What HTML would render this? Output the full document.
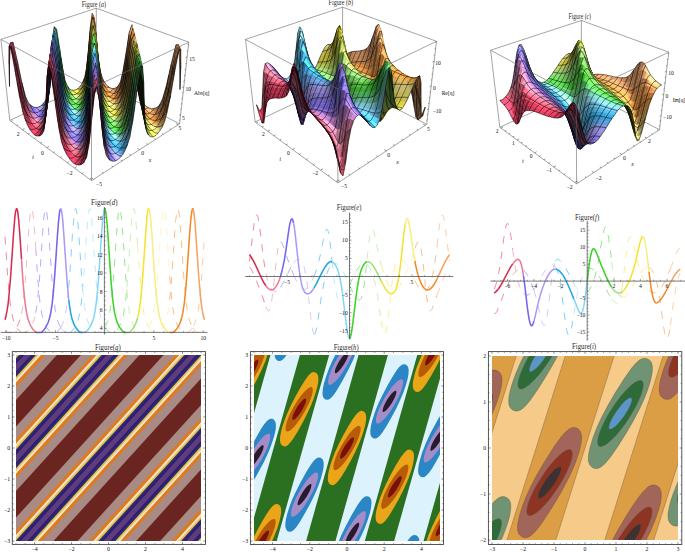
<!DOCTYPE html>
<html><head><meta charset="utf-8"><style>
html,body{margin:0;padding:0;background:#fff;}
svg{display:block;font-family:"Liberation Serif", serif;}
.m{fill:none;stroke:#000;stroke-width:2.6;stroke-opacity:0.8}
</style></head><body>
<svg xmlns="http://www.w3.org/2000/svg" width="685" height="552" viewBox="0 0 685 552">
<defs><clipPath id="cg"><rect x="16" y="355" width="185" height="186"/></clipPath><clipPath id="ch"><rect x="254" y="355" width="186" height="186"/></clipPath><clipPath id="ci"><rect x="492" y="356" width="186" height="184"/></clipPath></defs>
<path d="M0.9 39.4L96.3 8.2M96.3 8.2L188.8 42.2M96.3 8.2L96.1 80.5M9.8 120.4L96.1 80.5M96.1 80.5L179.6 123.9" stroke="#666" stroke-width="0.6" fill="none"/>
<g transform="scale(0.25)" fill="currentColor" stroke="currentColor" stroke-width="1.0" stroke-linejoin="round"><path d=M416,332l7,4-8-12-7-9z color=#cf8b55 /><path d=M408,315l7,9-7-16-7-20z color=#a46f44 /><path d=M424,344l7,1-8-9-7-4z color=#f4a565 /><path class=m d=M423,336l-8-12 /><path d=M432,353l7-2-8-6-7-1z color=#ffbb74 /><path class=m d=M431,345l-8-9 /><path d=M401,288l7,20-8-28-7-44z color=#815735 /><path class=m d=M415,324l-7-16 /><path d=M440,359l7-5-8-3-7,2z color=#ffc47b /><path class=m d=M439,351l-8-6 /><path d=M417,340l7,4-8-12-7-9z color=#da935a /><path d=M409,323l7,9-8-17-7-19z color=#b17749 /><path class=m d=M412,324l7,6 /><path d=M425,351l7,2-8-9-7-4z color=#ffad6b /><path class=m d=M430,350l7-1 /><path d=M325,347l7-14-7,6-8,10z color=#9d9852 /><path d=M332,333l8-21-8,14-7,13z color=#7a6a37 /><path d=M317,357l8-10-8,2-7,7z color=#cbc257 /><path class=m d=M317,349l8-10 /><path d=M433,361l7-2-8-6-7-2z color=#ffc47a /><path d=M448,362l8-8-9,0-7,5z color=#ffaf6d /><path class=m d=M447,354l-8-3 /><path d=M401,296l7,19-7-27-8-44z color=#8e5f3a /><path d=M340,312l7-39-7,32-8,21z color=#59431e /><path class=m d=M325,339l7-13 /><path d=M310,364l7-7-7-1-8,4z color=#fff057 /><path class=m d=M310,356l7-7 /><path d=M393,236l7,44-8-52-7-74z color=#322215 /><path class=m d=M408,308l-8-28 /><path d=M441,367l7-5-8-3-7,2z color=#ffcb80 /><path d=M418,347l7,4-8-11-7-9z color=#d98d4d /><path class=m d=M423,348l7,2 /><path d=M410,331l7,9-8-17-7-19z color=#b1733e /><path d=M302,368l8-4-8-4-8,1z color=#ffff49 /><path class=m d=M302,360l8-4 /><path d=M426,359l7,2-8-10-7-4z color=#ffa65c /><path class=m d=M421,349l-8-14 /><path d=M457,362l7-11-8,3-8,8z color=#cb8955 /><path class=m d=M456,354l-9,0 /><path d=M325,354l7-13-7,6-8,10z color=#a49d46 /><path d=M332,341l8-21-8,13-7,14z color=#837e44 /><path d=M317,364l8-10-8,3-7,7z color=#d7cb48 /><path class=m d=M317,357l-7-1 /><path d=M434,369l7-2-8-6-7-2z color=#ffbd6a /><path class=m d=M429,360l-8-11 /><path d=M449,370l8-8-9,0-7,5z color=#ffb06e /><path class=m d=M448,362l8-8 /><path d=M402,304l7,19-8-27-7-44z color=#8d5c32 /><path class=m d=M413,335l-8-22M405,310l7,14 /><path d=M294,369l8-1-8-7-8-1z color=#feff54 /><path class=m d=M294,361l8-1 /><path d=M309,372l8-8-7,0-8,4z color=#fffa43 /><path d=M340,320l7-40-7,32-8,21z color=#63562c /><path class=m d=M336,323l-7,9 /><path d=M347,273l7-69-7,63-7,38z color=#452c10 /><path class=m d=M332,326l8-21 /><path d=M442,375l7-5-8-3-7,2z color=#ffc36f /><path class=m d=M437,368l-8-8M441,367l7-5 /><path d=M393,244l8,44-8-52-7-75z color=#7a5232 /><path class=m d=M395,249l7,38 /><path d=M418,355l8,4-8-12-8-8z color=#d9873e /><path d=M410,339l8,8-8-16-8-19z color=#b06d32 /><path class=m d=M416,343l7,5 /><path d=M465,358l8-14-9,7-7,11z color=#9a683f /><path class=m d=M464,351l-8,3 /><path d=M302,376l7-4-7-4-8,1z color=#ffff5d /><path class=m d=M298,369l-8-8 /><path d=M426,367l8,2-8-10-8-4z color=#fe9f4a /><path d=M458,369l7-11-8,4-8,8z color=#ca8954 /><path d=M325,362l8-14-8,6-8,10z color=#a39a36 /><path d=M286,368l8,1-8-9-8-5z color=#c6e45d /><path class=m d=M286,360l8,1 /><path d=M333,348l7-21-8,14-7,13z color=#827c37 /><path class=m d=M325,354l-8,3 /><path d=M317,372l8-10-8,2-8,8z color=#d6c733 /><path class=m d=M319,364l8-11 /><path d=M435,377l7-2-8-6-8-2z color=#ffb456 /><path class=m d=M434,369l7-2 /><path d=M450,378l8-9-9,1-7,5z color=#ffa85f /><path class=m d=M446,372l-9-4 /><path d=M402,312l8,19-8-27-8-44z color=#8d5728 /><path d=M294,378l8-2-8-7-8-1z color=#e5ff6e /><path d=M309,380l8-8-8,0-7,4z color=#f5f952 /><path class=m d=M306,374l-8-5M311,372l8-8 /><path d=M340,327l7-40-7,33-8,21z color=#636033 /><path class=m d=M327,353l7-16 /><path d=M347,280l8-70-8,63-7,39z color=#4e3b1a /><path d=M385,154l7,74-7-82-8-75z color=#785131 /><path class=m d=M400,280l-8-52M392,228l-7-82 /><path d=M443,383l7-5-8-3-7,2z color=#ffba5a /><path d=M394,252l7,44-8-52-7-75z color=#7a4f2b /><path class=m d=M405,313l-7-39 /><path d=M419,364l7,3-8-12-7-8z color=#d8802f /><path d=M411,347l7,8-8-16-7-19z color=#b06825 /><path d=M466,366l8-15-9,7-7,11z color=#9b6840 /><path d=M301,384l8-4-7-4-8,2z color=#f2ff76 /><path class=m d=M304,377l7-5 /><path d=M278,363l8,5-8-13-8-10z color=#8fbf5f /><path class=m d=M278,355l8,5 /><path d=M474,351l8-24-9,17-8,14z color=#754f30 /><path class=m d=M473,344l-9,7M467,357l8-18 /><path d=M427,376l8,1-9-10-7-3z color=#fe9738 /><path class=m d=M426,367l8,2 /><path d=M459,378l7-12-8,3-8,9z color=#c98348 /><path class=m d=M454,374l-8-2M460,369l7-12 /><path d=M325,370l8-14-8,6-8,10z color=#a39726 /><path d=M286,376l8,2-8-10-8-5z color=#aee874 /><path d=M333,356l7-22-7,14-8,14z color=#81792a /><path d=M317,381l8-11-8,2-8,8z color=#c2c63e /><path class=m d=M313,376l-7-2 /><path d=M435,385l8-2-8-6-8-1z color=#ffac42 /><path d=M451,386l8-8-9,0-7,5z color=#fea04c /><path class=m d=M452,378l8-9 /><path d=M354,204l8-88-8,82-7,69z color=#40260d /><path class=m d=M340,305l7-38 /><path d=M403,320l7,19-8-27-7-44z color=#8d531e /><path class=m d=M408,332l8,11 /><path d=M293,386l8-2-7-6-8-2z color=#c7ff86 /><path class=m d=M296,379l8-2 /><path d=M309,388l8-7-8-1-8,4z color=#d8f868 /><path d=M340,334l8-40-8,33-7,21z color=#625e2a /><path class=m d=M333,348l-8,6 /><path d=M386,161l7,75-8-82-8-76z color=#765030 /><path d=M347,287l8-71-8,64-7,40z color=#4e4423 /><path class=m d=M344,300l-8,23M334,337l8-26 /><path d=M444,391l7-5-8-3-8,2z color=#ffb146 /><path class=m d=M445,384l7-6 /><path d=M394,260l8,44-8-52-7-75z color=#794b22 /><path class=m d=M398,278l7,32 /><path d=M420,372l7,4-8-12-7-9z color=#d98a33 /><path d=M412,355l7,9-8-17-7-19z color=#b17029 /><path class=m d=M419,364l7,3 /><path d=M468,374l7-15-9,7-7,12z color=#9a6437 /><path class=m d=M463,372l-9,2 /><path d=M301,393l8-5-8-4-8,2z color=#d3ff8e /><path d=M277,371l9,5-8-13-9-10z color=#7bc260 /><path d=M428,384l7,1-8-9-7-4z color=#fea33d /><path class=m d=M427,376l-8-12 /><path d=M475,359l8-25-9,17-8,15z color=#795132 /><path d=M269,353l9,10-8-18-10-23z color=#5f954a /><path class=m d=M278,363l-8-18M270,345l8,10 /><path d=M460,386l8-12-9,4-8,8z color=#c77c3a /><path d=M285,384l8,2-7-10-9-5z color=#93e673 /><path class=m d=M286,376l-8-13M288,378l8,1 /><path d=M325,378l8-14-8,6-8,11z color=#93962f /><path class=m d=M321,375l-8,1 /><path d=M333,364l7-22-7,14-8,14z color=#80771d /><path d=M317,389l8-11-8,3-8,7z color=#abc550 /><path class=m d=M321,379l8-12 /><path d=M436,393l8-2-9-6-7-1z color=#ffb948 /><path class=m d=M435,385l-8-9M438,386l7-2 /><path d=M452,394l8-8-9,0-7,5z color=#fc983a /><path d=M404,328l7,19-8-27-7-44z color=#8d5a21 /><path class=m d=M419,364l-8-17 /><path d=M293,394l8-1-8-7-8-2z color=#a9ff85 /><path class=m d=M293,386l-7-10 /><path d=M355,210l7-89-8,83-7,69z color=#452c10 /><path d=M483,334l9-48-10,41-8,24z color=#563a23 /><path class=m d=M482,327l-9,17 /><path d=M309,397l8-8-8-1-8,5z color=#bbf87e /><path class=m d=M313,388l8-9 /><path d=M340,342l8-41-8,33-7,22z color=#625c20 /><path class=m d=M329,367l7-18 /><path d=M386,169l7,75-7-83-8-76z color=#764c29 /><path class=m d=M398,274l-8-67M388,182l7,67 /><path d=M445,400l7-6-8-3-8,2z color=#ffbd4c /><path class=m d=M444,391l-9-6 /><path d=M348,294l7-72-8,65-7,40z color=#4e4c29 /><path d=M395,268l7,44-8-52-7-75z color=#794719 /><path d=M421,380l7,4-8-12-8-8z color=#dba64b /><path d=M412,364l8,8-8-17-8-19z color=#b2873d /><path d=M469,383l8-16-9,7-8,12z color=#995f2b /><path d=M301,401l8-4-8-4-8,1z color=#b2ff8d /><path class=m d=M301,393l-8-7M305,395l8-7 /><path d=M277,380l8,4-8-13-8-9z color=#63be4b /><path class=m d=M279,375l9,3 /><path d=M429,392l7,1-8-9-7-4z color=#ffc35a /><path class=m d=M430,386l8,0 /><path d=M477,367l8-25-10,17-7,15z color=#784e2a /><path class=m d=M471,367l-8,5 /><path d=M269,362l8,9-8-18-9-23z color=#50993c /><path d=M461,394l8-11-9,3-8,8z color=#c5752b /><path class=m d=M464,384l8-13 /><path d=M377,78l8,76-8-83-8-18z color=#b87c4c /><path class=m d=M377,71l8,75 /><path d=M285,393l8,1-8-10-8-4z color=#77e15b /><path d=M325,386l8-14-8,6-8,11z color=#82963c /><path d=M333,372l7-22-7,14-8,14z color=#747624 /><path class=m d=M329,371l-8,4 /><path d=M317,397l8-11-8,3-8,8z color=#94c462 /><path d=M437,402l8-2-9-7-7-1z color=#ffdc67 /><path d=M362,116l7-58-8,53-7,87z color=#553518 /><path class=m d=M347,267l7-69 /><path d=M453,403l8-9-9,0-7,6z color=#fca33f /><path class=m d=M452,394l-8-3M457,394l7-10 /><path d=M404,336l8,19-8-27-8-43z color=#8f6c31 /><path class=m d=M412,355l7,9 /><path d=M293,403l8-2-8-7-8-1z color=#89ff69 /><path class=m d=M297,398l8-3 /><path d=M309,405l8-8-8,0-8,4z color=#9ef57c /><path class=m d=M309,397l-8-4 /><path d=M485,342l9-49-11,41-8,25z color=#5b3d25 /><path class=m d=M472,371l8-21 /><path d=M355,216l7-90-7,84-8,70z color=#463418 /><path class=m d=M342,311l7-47 /><path d=M340,350l8-42-8,34-7,22z color=#615a16 /><path d=M260,330l9,23-9-31-10-51z color=#3d752e /><path class=m d=M260,322l10,23 /><path d=M446,408l7-5-8-3-8,2z color=#ffe06b /><path class=m d=M449,401l8-7 /><path d=M387,177l7,75-8-83-8-77z color=#754821 /><path d=M421,389l8,3-8-12-8-8z color=#ddc164 /><path class=m d=M423,383l7,3 /><path d=M396,276l7,44-8-52-7-75z color=#794d1c /><path class=m d=M411,347l-8-27M401,307l7,25 /><path d=M348,301l7-73-7,66-8,40z color=#4e4a21 /><path class=m d=M340,334l-7,14M336,349l8-31 /><path d=M413,372l8,8-9-16-7-19z color=#b49d51 /><path d=M301,410l8-5-8-4-8,2z color=#91ff71 /><path d=M470,391l8-16-9,8-8,11z color=#985a20 /><path d=M277,388l8,5-8-13-9-10z color=#4bba37 /><path d=M430,401l7,1-8-10-8-3z color=#ffe276 /><path class=m d=M425,391l-8-15 /><path d=M478,375l8-26-9,18-8,16z color=#774a22 /><path d=M268,370l9,10-8-18-10-23z color=#3c962c /><path class=m d=M271,366l8,9 /><path d=M462,402l8-11-9,3-8,9z color=#c57e2f /><path class=m d=M461,394l-9,0 /><path d=M369,58l8,20-8-25-8,58z color=#fea962 /><path class=m d=M354,198l7-87M361,111l8-58M369,53l8,18 /><path d=M285,401l8,2-8-10-8-5z color=#5add42 /><path class=m d=M281,391l-8-16M289,398l8,0 /><path d=M325,395l8-15-8,6-8,11z color=#70954a /><path d=M378,85l8,76-9-83-8-20z color=#ae713e /><path class=m d=M390,207l-8-83M382,124l-9-56M373,68l-8,14 /><path d=M333,380l8-22-8,14-8,14z color=#66762f /><path d=M317,406l8-11-8,2-8,8z color=#7cc260 /><path class=m d=M317,397l-8,0M323,395l8-13 /><path d=M438,410l8-2-9-6-7-1z color=#ffff87 /><path class=m d=M434,401l-9-10M442,405l7-4 /><path d=M454,411l8-9-9,1-7,5z color=#fdc15b /><path d=M362,121l8-57-8,52-8,88z color=#543112 /><path class=m d=M354,204l-7,63 /><path d=M405,345l7,19-8-28-7-43z color=#907e41 /><path class=m d=M417,376l-8-22 /><path d=M293,412l8-2-8-7-8-2z color=#69fc4e /><path class=m d=M289,402l-8-11 /><path d=M309,414l8-8-8-1-8,5z color=#80ef62 /><path class=m d=M315,405l8-10 /><path d=M486,349l9-49-10,42-8,25z color=#5b3b20 /><path class=m d=M481,354l-10,13 /><path d=M355,222l8-90-8,84-8,71z color=#463d1f /><path class=m d=M351,252l-7,48 /><path d=M341,358l7-43-8,35-7,22z color=#585a1c /><path class=m d=M337,361l-8,10M331,382l8-21 /><path d=M447,417l7-6-8-3-8,2z color=#ffff8b /><path class=m d=M442,409l-8-8 /><path d=M259,339l10,23-9-32-10-50z color=#307923 /><path class=m d=M273,375l-9-25 /><path d=M387,185l7,75-7-83-8-78z color=#744519 /><path class=m d=M391,219l7,59 /><path d=M422,397l8,4-9-12-7-8z color=#dfd775 /><path d=M396,285l8,43-8-52-8-75z color=#7a5c2a /><path d=M414,381l7,8-8-17-7-19z color=#b6b05f /><path class=m d=M415,376l8,7 /><path d=M348,308l8-74-8,67-8,41z color=#4e4919 /><path d=M494,293l10-80-12,73-9,48z color=#48301d /><path class=m d=M492,286l-10,41M480,350l8-36M488,314l10-64 /><path d=M301,419l8-5-8-4-8,2z color=#70ff54 /><path class=m d=M297,411l-8-9M307,413l8-8 /><path d=M471,399l8-16-9,8-8,11z color=#976023 /><path d=M276,397l9,4-8-13-9-9z color=#3ab82f /><path class=m d=M281,395l8,3 /><path d=M431,410l7,0-8-9-8-4z color=#fffc8a /><path class=m d=M434,406l8-1 /><path d=M479,383l8-26-9,18-8,16z color=#764619 /><path class=m d=M470,391l-9,3 /><path d=M268,379l9,9-9-18-9-23z color=#2f9425 /><path d=M463,411l8-12-9,3-8,9z color=#c69645 /><path class=m d=M469,400l8-15 /><path d=M284,410l9,2-8-11-9-4z color=#46d939 /><path d=M325,403l8-14-8,6-8,11z color=#5e9349 /><path d=M370,64l8,21-9-27-7,58z color=#8f5928 /><path d=M333,389l8-24-8,15-8,15z color=#58763a /><path class=m d=M325,395l-8,2 /><path d=M378,92l8,77-8-84-8-21z color=#af6c31 /><path class=m d=M380,106l8,76 /><path d=M439,419l8-2-9-7-7,0z color=#ffff9d /><path d=M317,414l8-11-8,3-8,8z color=#63bd4c /><path d=M456,420l7-9-9,0-7,6z color=#fedf76 /><path class=m d=M451,414l-9-5M461,411l8-11 /><path d=M406,353l7,19-8-27-8-43z color=#918c4c /><path d=M293,420l8-1-8-7-9-2z color=#53f843 /><path class=m d=M299,417l8-4 /><path d=M362,126l8-56-8,51-7,89z color=#553614 /><path class=m d=M349,264l7-74 /><path d=M309,422l8-8-8,0-8,5z color=#62e949 /><path class=m d=M305,416l-8-5 /><path d=M177,416l8-14-6,5-9,10z color=#3d6a9b /><path d=M487,357l10-50-11,42-8,26z color=#5a3819 /><path class=m d=M477,385l8-23 /><path d=M185,402l8-21-6,12-8,14z color=#1a5578 /><path d=M169,426l8-10-7,1-8,8z color=#7488ce /><path class=m d=M170,417l9-10 /><path d=M448,426l8-6-9-3-8,2z color=#ffffa0 /><path class=m d=M453,419l8-8 /><path d=M259,347l9,23-9-31-10-50z color=#25771e /><path class=m d=M262,347l9,19 /><path d=M341,365l7-43-7,36-8,22z color=#4d5924 /><path d=M571,415l7,3-9-12-6-6z color=#dd955b /><path d=M355,228l8-91-8,85-7,72z color=#464425 /><path class=m d=M344,318l7-57 /><path d=M423,406l8,4-9-13-7-8z color=#dfd55f /><path class=m d=M426,404l8,2 /><path d=M388,193l7,75-8-83-8-79z color=#744a1b /><path class=m d=M403,320l-8-52 /><path d=M563,400l6,6-8-15-6-15z color=#b4794a /><path d=M397,293l7,43-8-51-7-75z color=#7b6b37 /><path class=m d=M409,354l-8-39M404,336l8,19 /><path d=M415,389l7,8-8-16-8-19z color=#b6ad4d /><path d=M160,434l9-8-7-1-9,4z color=#b4a5ff /><path class=m d=M162,425l8-8 /><path d=M301,427l8-5-8-3-8,1z color=#59ff49 /><path d=M580,427l7,0-9-9-7-3z color=#ffad6a /><path class=m d=M578,418l-9-12 /><path d=M472,408l8-16-9,7-8,12z color=#987334 /><path d=M276,406l8,4-8-13-9-10z color=#4eb964 /><path d=M348,315l8-74-8,67-8,42z color=#4d4812 /><path class=m d=M339,361l7-37 /><path d=M431,419l8,0-8-9-8-4z color=#fff971 /><path d=M495,300l11-81-12,74-9,49z color=#4a321f /><path d=M267,387l9,10-8-18-10-23z color=#3e9550 /><path class=m d=M272,388l9,7 /><path d=M480,392l9-27-10,18-8,16z color=#764b1b /><path d=M464,420l8-12-9,3-7,9z color=#c7ad5a /><path class=m d=M459,415l-8-1 /><path d=M193,381l7-38-6,30-7,20z color=#114258 /><path class=m d=M179,407l8-14 /><path d=M284,419l9,1-9-10-8-4z color=#5ddb77 /><path class=m d=M290,418l9-1 /><path d=M325,412l8-15-8,6-8,11z color=#4b9039 /><path d=M590,436l7-3-10-6-7,0z color=#ffc178 /><path class=m d=M587,427l-9-9 /><path d=M152,438l8-4-7-5-9,1z color=#b8a7ff /><path class=m d=M153,429l9-4 /><path d=M333,397l8-23-8,15-8,14z color=#4a7439 /><path d=M440,428l8-2-9-7-8,0z color=#ffff81 /><path class=m d=M446,424l7-5 /><path d=M250,280l10,50-10-59-12-80z color=#2a681e /><path class=m d=M264,350l-9-45M255,305l-11-73M250,271l10,51 /><path d=M317,423l8-11-8,2-8,8z color=#4bb837 /><path class=m d=M313,418l-8-2 /><path d=M555,376l6,15-8-24-5-35z color=#312114 /><path class=m d=M569,406l-8-15 /><path d=M370,70l8,22-8-28-8,57z color=#92561f /><path class=m d=M362,121l-8,83M356,190l8-82M364,108l8-37M372,71l8,35 /><path d=M457,429l7-9-8,0-8,6z color=#fff788 /><path d=M379,99l8,78-9-85-8-22z color=#af6725 /><path d=M406,362l8,19-8-28-8-42z color=#918b3e /><path class=m d=M408,360l7,16 /><path d=M292,429l9-2-8-7-9-1z color=#6cf98a /><path d=M309,431l8-8-8-1-8,5z color=#4ce53e /><path d=M176,424l8-14-7,6-8,10z color=#5e6ea7 /><path class=m d=M173,421l-7,0 /><path d=M363,132l8-56-9,50-7,90z color=#57411d /><path d=M168,435l8-11-7,2-9,8z color=#988cde /><path d=M599,442l7-7-9-2-7,3z color=#ffc27a /><path class=m d=M597,433l-10-6 /><path d=M184,410l8-21-7,13-8,14z color=#335882 /><path d=M489,365l9-51-11,43-8,26z color=#593513 /><path class=m d=M479,383l-9,8 /><path d=M449,435l8-6-9-3-8,2z color=#ffff84 /><path d=M258,356l10,23-9-32-11-49z color=#327840 /><path d=M142,439l10-1-8-8-10-2z color=#9c8dff /><path class=m d=M144,430l9-1 /><path d=M573,424l7,3-9-12-6-6z color=#e79c60 /><path d=M341,374l8-44-8,35-8,24z color=#43592c /><path class=m d=M333,389l-8,6 /><path d=M424,415l7,4-8-13-8-8z color=#dfd24a /><path d=M565,409l6,6-8-15-6-15z color=#bf814f /><path class=m d=M567,407l7,5 /><path d=M397,302l8,43-8-52-8-75z color=#7c7841 /><path d=M388,201l8,75-8-83-8-80z color=#755828 /><path class=m d=M394,256l7,51 /><path d=M415,398l8,8-8-17-8-18z color=#b6ab3c /><path class=m d=M419,398l7,6 /><path d=M159,443l9-8-8-1-8,4z color=#ad9dff /><path d=M356,234l7-91-8,85-7,73z color=#46431e /><path class=m d=M348,301l-8,33 /><path d=M582,436l8,0-10-9-7-3z color=#ffb570 /><path class=m d=M587,434l7-3 /><path d=M300,436l9-5-8-4-9,2z color=#73ff91 /><path d=M474,417l8-17-10,8-8,12z color=#998545 /><path class=m d=M468,414l-9,1 /><path d=M275,415l9,4-8-13-9-10z color=#61bb99 /><path class=m d=M282,416l8,2 /><path d=M432,428l8,0-9-9-7-4z color=#fff658 /><path class=m d=M431,419l-8-13M438,426l8-2 /><path d=M348,322l8-75-8,68-7,43z color=#464716 /><path class=m d=M344,336l-7,25 /><path d=M497,307l10-82-12,75-9,49z color=#4a301a /><path class=m d=M491,325l-10,29M485,362l9-44 /><path d=M267,396l9,10-9-19-9-22z color=#4e977c /><path d=M466,429l8-12-10,3-7,9z color=#c7c069 /><path d=M482,400l8-27-10,19-8,16z color=#765928 /><path d=M192,389l7-38-6,30-8,21z color=#154561 /><path d=M284,428l8,1-8-10-9-4z color=#74ddb6 /><path class=m d=M284,419l-8-13 /><path d=M325,421l8-15-8,6-8,11z color=#388c29 /><path class=m d=M321,417l-8,1 /><path d=M592,445l7-3-9-6-8,0z color=#ffca7f /><path d=M200,343l5-69-4,61-7,38z color=#1c4355 /><path class=m d=M187,393l7-20 /><path d=M609,444l7-10-10,1-7,7z color=#f0a366 /><path class=m d=M606,435l-9-2 /><path d=M150,447l9-4-7-5-10,1z color=#ab9bff /><path class=m d=M152,438l-8-8 /><path d=M441,437l8-2-9-7-8,0z color=#ffff65 /><path class=m d=M440,428l-9-9 /><path d=M557,385l6,15-8-24-6-35z color=#99673f /><path d=M317,432l8-11-8,2-8,8z color=#3ab42e /><path d=M333,406l8-24-8,15-8,15z color=#3b712c /><path class=m d=M317,423l8-11 /><path d=M249,289l10,50-9-59-12-81z color=#21681a /><path d=M458,438l8-9-9,0-8,6z color=#fef26f /><path d=M133,438l9,1-8-11-9-5z color=#786aed /><path class=m d=M134,428l10,2 /><path d=M379,106l8,79-8-86-8-23z color=#b07029 /><path class=m d=M395,268l-8-83M383,142l8,77 /><path d=M371,76l8,23-9-29-8,56z color=#965f23 /><path class=m d=M387,185l-8-86M379,99l-9-29M370,70l-8,51 /><path d=M407,371l8,18-9-27-7-42z color=#928930 /><path class=m d=M423,406l-8-17 /><path d=M292,438l8-2-8-7-8-1z color=#86fbd0 /><path class=m d=M292,429l-8-10 /><path d=M309,440l8-8-8-1-9,5z color=#64e67e /><path class=m d=M309,431l8-8 /><path d=M548,332l5,35-7-44-4-69z color=#322214 /><path class=m d=M561,391l-8-24 /><path d=M175,433l8-14-7,5-8,11z color=#736aa9 /><path d=M601,451l8-7-10-2-7,3z color=#ffc67d /><path d=M166,444l9-11-7,2-9,8z color=#897ddb /><path d=M183,419l8-21-7,12-8,14z color=#4a5784 /><path class=m d=M180,417l-7,4M170,435l8-12 /><path d=M490,373l10-51-11,43-9,27z color=#593915 /><path d=M450,444l8-6-9-3-8,2z color=#ffff68 /><path class=m d=M449,435l-9-7 /><path d=M141,449l9-2-8-8-9-1z color=#8d7eff /><path d=M258,365l9,22-9-31-10-49z color=#3f7963 /><path class=m d=M276,406l-9-19M263,372l9,16 /><path d=M576,433l6,3-9-12-6-6z color=#e79652 /><path class=m d=M580,433l7,1 /><path d=M363,137l8-55-8,50-8,90z color=#594d28 /><path class=m d=M359,177l-8,75M351,261l8-81 /><path d=M425,424l7,4-8-13-8-8z color=#dfcf34 /><path class=m d=M430,425l8,1 /><path d=M567,418l6,6-8-15-7-15z color=#bf7c43 /><path d=M341,382l8-45-8,37-8,23z color=#38582b /><path class=m d=M325,412l8-15 /><path d=M398,311l8,42-9-51-7-75z color=#7c7635 /><path d=M158,452l8-8-7-1-9,4z color=#9b8bff /><path class=m d=M159,443l-7-5M161,443l9-8 /><path d=M416,407l8,8-9-17-7-18z color=#b6a92a /><path d=M585,446l7-1-10-9-6-3z color=#ffaf61 /><path class=m d=M579,435l-9-14 /><path d=M389,210l7,75-8-84-8-80z color=#766735 /><path class=m d=M401,315l-9-67 /><path d=M300,446l9-6-9-4-8,2z color=#8dffd9 /><path class=m d=M300,436l-8-7M300,436l9-5 /><path d=M619,443l8-13-11,4-7,10z color=#b97d4d /><path class=m d=M616,434l-10,1 /><path d=M275,424l9,4-9-13-9-10z color=#75bccf /><path d=M433,437l8,0-9-9-7-4z color=#fff23f /><path d=M475,426l8-17-9,8-8,12z color=#999450 /><path d=M356,241l8-92-8,85-8,74z color=#464217 /><path class=m d=M346,324l8-66 /><path d=M506,219l11-89-13,83-10,80z color=#49311e /><path class=m d=M504,213l-12,73 /><path d=M266,405l9,10-8-19-10-22z color=#5e98a7 /><path class=m d=M273,410l9,6 /><path d=M467,438l8-12-9,3-8,9z color=#c6bd55 /><path d=M349,330l7-76-8,68-7,43z color=#3e471c /><path d=M483,409l8-28-9,19-8,17z color=#766735 /><path class=m d=M478,409l-10,5M466,429l8-12 /><path d=M283,437l9,1-8-10-9-4z color=#8bdef5 /><path d=M498,314l11-82-12,75-10,50z color=#4a2e15 /><path d=M191,398l7-39-6,30-8,21z color=#274363 /><path class=m d=M178,423l8-16 /><path d=M594,455l7-4-9-6-7,1z color=#ffc36e /><path class=m d=M588,445l-9-10 /><path d=M325,430l8-16-8,7-8,11z color=#2b8922 /><path d=M611,453l8-10-10,1-8,7z color=#f0a366 /><path class=m d=M609,444l7-10 /><path d=M123,433l10,5-8-15-11-11z color=#7959b2 /><path class=m d=M125,423l9,5 /><path d=M149,457l9-5-8-5-9,2z color=#9888ff /><path class=m d=M152,449l9-6 /><path d=M442,447l8-3-9-7-8,0z color=#ffff4a /><path d=M199,351l5-70-4,62-7,38z color=#103c51 /><path class=m d=M193,381l-6,12 /><path d=M558,394l7,15-8-24-6-35z color=#986336 /><path class=m d=M570,421l-8-20M561,397l6,10 /><path d=M317,441l8-11-8,2-8,8z color=#4cb562 /><path d=M333,414l8-24-8,16-8,15z color=#2c6e20 /><path class=m d=M329,413l-8,4 /><path d=M248,298l11,49-10-58-12-81z color=#2c6938 /><path class=m d=M252,303l10,44 /><path d=M459,447l8-9-9,0-8,6z color=#fdee57 /><path class=m d=M458,438l-9-3M458,438l8-9 /><path d=M131,447l10,2-8-11-10-5z color=#956fda /><path class=m d=M128,435l-8-17 /><path d=M408,380l7,18-8-27-8-42z color=#928721 /><path class=m d=M411,385l8,13 /><path d=M292,448l8-2-8-8-9-1z color=#a0fdff /><path class=m d=M292,438l8-2 /><path d=M380,113l8,80-9-87-8-24z color=#b3873d /><path d=M371,82l8,24-8-30-8,56z color=#9b7535 /><path class=m d=M359,180l8-73M367,107l8-16M375,91l8,51 /><path d=M309,450l8-9-8-1-9,6z color=#7be6be /><path class=m d=M309,440l-9-4 /><path d=M549,341l6,35-7-44-4-69z color=#312114 /><path class=m d=M549,343l6,30 /><path d=M174,442l8-14-7,5-9,11z color=#685ea7 /><path d=M604,460l7-7-10-2-7,4z color=#ffbe6d /><path class=m d=M598,453l-10-8M601,451l8-7 /><path d=M165,453l9-11-8,2-8,8z color=#7a6ed8 /><path class=m d=M166,444l-7-1 /><path d=M182,428l8-22-7,13-8,14z color=#5b5386 /><path d=M451,453l8-6-9-3-8,3z color=#ffff4d /><path class=m d=M450,444l8-6 /><path d=M139,458l10-1-8-8-10-2z color=#ac81fa /><path class=m d=M136,448l-8-13M143,451l9-2 /><path d=M578,443l7,3-9-13-7-6z color=#e68f42 /><path d=M257,374l10,22-9-31-11-49z color=#4c7a87 /><path d=M491,381l10-52-11,44-8,27z color=#59431e /><path class=m d=M474,417l8-17 /><path d=M425,433l8,4-8-13-8-8z color=#cccf41 /><path d=M569,427l7,6-9-15-7-15z color=#be7636 /><path class=m d=M573,430l7,3 /><path d=M629,439l9-18-11,9-8,13z color=#8d5f3a /><path class=m d=M627,430l-11,4 /><path d=M156,461l9-8-7-1-9,5z color=#897aff /><path d=M417,416l8,8-9-17-8-18z color=#a6a934 /><path class=m d=M422,420l8,5 /><path d=M399,320l7,42-8-51-8-75z color=#7c7428 /><path class=m d=M415,389l-9-27M400,324l8,36 /><path d=M341,390l8-45-8,37-8,24z color=#2c5622 /><path d=M363,143l8-55-8,49-8,91z color=#5b582f /><path d=M587,455l7,0-9-9-7-3z color=#ffa64e /><path d=M300,455l9-5-9-4-8,2z color=#a7ffff /><path d=M621,453l8-14-10,4-8,10z color=#b87c4d /><path d=M389,218l8,75-8-83-8-81z color=#77733e /><path class=m d=M397,293l7,43 /><path d=M275,433l8,4-8-13-9-9z color=#61b2d5 /><path d=M434,446l8,1-9-10-8-4z color=#eef24d /><path class=m d=M429,435l-8-15 /><path d=M476,435l8-17-9,8-8,12z color=#989141 /><path d=M266,415l9,9-9-19-9-22z color=#4e90ac /><path d=M468,447l8-12-9,3-8,9z color=#c5b942 /><path class=m d=M467,438l-9,0 /><path d=M356,247l8-92-8,86-8,74z color=#464110 /><path d=M484,418l9-28-10,19-8,17z color=#77733e /><path d=M283,447l9,1-9-11-8-4z color=#74d3fc /><path class=m d=M279,435l-8-16M283,437l9,1 /><path d=M507,225l11-89-12,83-11,81z color=#462f1d /><path class=m d=M494,318l10-74 /><path d=M190,406l7-39-6,31-8,21z color=#384264 /><path class=m d=M187,409l-7,8 /><path d=M596,464l8-4-10-5-7,0z color=#ffba5a /><path class=m d=M594,455l7-4 /><path d=M349,337l8-77-8,70-8,44z color=#354723 /><path class=m d=M341,374l-8,15M333,397l8-23 /><path d=M614,463l7-10-10,0-7,7z color=#ee9c58 /><path class=m d=M607,457l-9-4 /><path d=M500,322l10-84-12,76-9,51z color=#492b0f /><path class=m d=M489,365l-10,18 /><path d=M121,442l10,5-8-14-10-11z color=#9b62a0 /><path d=M147,466l9-5-7-4-10,1z color=#b98bff /><path class=m d=M144,457l-8-9 /><path d=M325,439l8-16-8,7-8,11z color=#3a8a4a /><path d=M205,274l5-92-4,86-5,67z color=#284a59 /><path class=m d=M194,373l7-38 /><path d=M443,456l8-3-9-6-8-1z color=#ffff5a /><path class=m d=M438,446l-9-11M442,447l8-3 /><path d=M560,403l7,15-9-24-5-35z color=#985e2b /><path d=M317,450l8-11-8,2-8,9z color=#5fb595 /><path class=m d=M317,441l-8-1 /><path d=M460,456l8-9-9,0-8,6z color=#fbea3f /><path d=M198,359l5-71-4,63-7,38z color=#123951 /><path class=m d=M186,407l8-25 /><path d=M333,423l8-24-8,15-8,16z color=#226c1b /><path class=m d=M319,440l8-12 /><path d=M248,307l10,49-10-58-12-81z color=#376956 /><path class=m d=M267,387l-9-31 /><path d=M113,422l10,11-9-21-12-26z color=#764a7a /><path class=m d=M114,412l11,11 /><path d=M238,199l12,81-12-89-12-75z color=#226c1b /><path class=m d=M238,191l12,80 /><path d=M130,456l9,2-8-11-10-5z color=#b976c0 /><path class=m d=M133,450l10,1 /><path d=M292,457l8-2-8-7-9-1z color=#86f0ff /><path class=m d=M287,447l-8-12 /><path d=M408,389l8,18-8-27-8-42z color=#85872a /><path class=m d=M421,420l-9-22 /><path d=M308,459l9-9-8,0-9,5z color=#92e7fe /><path class=m d=M311,450l8-10 /><path d=M551,350l6,35-8-44-3-68z color=#312011 /><path class=m d=M562,401l-8-34 /><path d=M380,121l8,80-8-88-9-25z color=#b69f52 /><path class=m d=M392,248l-8-86M386,180l8,76 /><path d=M172,452l9-15-7,5-9,11z color=#5c53a4 /><path d=M606,470l8-7-10-3-8,4z color=#ffb559 /><path d=M371,88l9,25-9-31-8,55z color=#a18c48 /><path class=m d=M384,162l-8-61M376,101l-9,9M367,110l-8,67 /><path d=M542,254l4,69-6-77-3-86z color=#312114 /><path class=m d=M553,367l-7-44 /><path d=M164,463l8-11-7,1-9,8z color=#6c5fd6 /><path d=M181,437l8-22-7,13-8,14z color=#524a84 /><path class=m d=M174,442l-8,2M169,453l8-13 /><path d=M452,462l8-6-9-3-8,3z color=#ffff5c /><path class=m d=M447,454l-9-8 /><path d=M138,468l9-2-8-8-9-2z color=#d589dd /><path d=M580,452l7,3-9-12-7-6z color=#e68831 /><path d=M257,383l9,22-9-31-10-49z color=#3f748a /><path class=m d=M271,419l-9-24M264,398l9,12 /><path d=M571,437l7,6-9-16-7-14z color=#be7028 /><path d=M426,443l8,3-9-13-7-7z color=#b4d054 /><path d=M493,390l10-53-12,44-8,28z color=#5a4e28 /><path class=m d=M487,395l-9,14 /><path d=M632,449l9-19-12,9-8,14z color=#8f603b /><path d=M155,471l9-8-8-2-9,5z color=#a67cf2 /><path class=m d=M152,464l-8-7M160,462l9-9 /><path d=M589,465l7-1-9-9-7-3z color=#ff9e3b /><path class=m d=M587,455l7,0 /><path d=M418,426l7,7-8-17-8-17z color=#93aa44 /><path d=M399,329l8,42-8-51-8-75z color=#7c731c /><path d=M300,464l8-5-8-4-8,2z color=#8df9ff /><path class=m d=M296,456l-9-9M302,456l9-6 /><path d=M341,399l8-46-8,37-8,24z color=#215318 /><path class=m d=M337,402l-8,11M327,428l8-18 /><path d=M624,462l8-13-11,4-7,10z color=#b77742 /><path class=m d=M617,458l-10-1 /><path d=M435,456l8,0-9-10-8-3z color=#d3f364 /><path class=m d=M434,446l8,1 /><path d=M274,443l9,4-8-14-9-9z color=#46a6d2 /><path d=M477,444l9-17-10,8-8,12z color=#988f32 /><path d=M390,227l7,75-8-84-8-82z color=#767132 /><path d=M364,149l8-55-9,49-7,91z color=#5c5827 /><path class=m d=M356,234l-8,67M354,258l8-87 /><path d=M641,430l9-34-12,25-9,18z color=#69462b /><path class=m d=M638,421l-11,9M624,452l8-15M632,437l9-22 /><path d=M266,424l9,9-9-18-10-22z color=#3886a9 /><path class=m d=M275,433l8,4 /><path d=M469,456l8-12-9,3-8,9z color=#c4b62e /><path d=M283,456l9,1-9-10-9-4z color=#54c5f7 /><path d=M486,427l8-29-10,20-8,17z color=#767032 /><path class=m d=M476,435l-9,3M470,446l8-13 /><path d=M599,474l7-4-10-6-7,1z color=#ffb145 /><path d=M616,472l8-10-10,1-8,7z color=#ec9547 /><path class=m d=M616,463l8-11 /><path d=M189,415l7-40-6,31-8,22z color=#453f65 /><path class=m d=M177,440l8-18 /><path d=M356,254l8-93-8,86-8,75z color=#404114 /><path class=m d=M352,285l-8,51 /><path d=M120,452l10,4-9-14-10-11z color=#b9678a /><path class=m d=M123,446l10,4 /><path d=M146,476l9-5-8-5-9,2z color=#e393eb /><path class=m d=M151,469l9-7 /><path d=M325,448l8-16-8,7-8,11z color=#488a72 /><path d=M349,345l8-78-8,70-8,45z color=#2c4622 /><path d=M444,465l8-3-9-6-8,0z color=#edff72 /><path d=M509,232l11-90-13,83-10,82z color=#462d19 /><path class=m d=M502,267l-11,58 /><path d=M562,413l7,14-9-24-5-34z color=#985a20 /><path class=m d=M567,421l6,9 /><path d=M501,329l11-84-12,77-10,51z color=#492e11 /><path class=m d=M482,400l8-27 /><path d=M317,460l8-12-8,2-9,9z color=#71b6c8 /><path d=M204,281l5-93-4,86-5,69z color=#1c4456 /><path d=M461,466l8-10-9,0-8,6z color=#e5e94c /><path class=m d=M456,459l-9-5M462,456l8-10 /><path d=M247,316l11,49-10-58-12-82z color=#426a75 /><path class=m d=M253,336l10,36 /><path d=M333,432l9-25-9,16-8,16z color=#2d6c3a /><path class=m d=M325,439l-8,2 /><path d=M111,431l10,11-8-20-12-27z color=#95536e /><path d=M128,466l10,2-8-12-10-4z color=#dd7da5 /><path d=M197,367l5-72-4,64-7,39z color=#203853 /><path d=M237,208l12,81-11-90-13-75z color=#2b6738 /><path d=M291,467l9-3-8-7-9-1z color=#62e0ff /><path class=m d=M294,459l8-3 /><path d=M409,399l8,17-9-27-7-41z color=#758836 /><path class=m d=M415,410l7,10 /><path d=M308,468l9-8-9-1-8,5z color=#79daff /><path class=m d=M304,462l-8-6 /><path d=M553,359l5,35-7-44-4-68z color=#301e0e /><path class=m d=M555,372l6,25 /><path d=M171,461l9-15-8,6-8,11z color=#5147a2 /><path d=M608,480l8-8-10-2-7,4z color=#ffac45 /><path class=m d=M608,470l8-7 /><path d=M162,472l9-11-7,2-9,8z color=#8361c1 /><path class=m d=M159,467l-7-3 /><path d=M381,129l8,81-9-89-8-27z color=#b9b260 /><path d=M544,263l4,69-6-78-3-86z color=#312114 /><path d=M180,446l8-22-7,13-9,15z color=#494182 /><path d=M136,478l10-2-8-8-10-2z color=#fe91bf /><path class=m d=M142,472l9-3 /><path d=M453,472l8-6-9-4-8,3z color=#eeff75 /><path class=m d=M454,463l8-7 /><path d=M582,462l7,3-9-13-7-6z color=#e69336 /><path d=M372,94l8,27-9-33-8,55z color=#a7a157 /><path class=m d=M362,171l8-64M370,107l8,6M378,113l8,67 /><path d=M256,393l10,22-9-32-11-49z color=#2d6c88 /><path d=M573,446l7,6-9-15-7-15z color=#bf792c /><path class=m d=M580,452l7,3 /><path d=M427,452l8,4-9-13-8-8z color=#9cd067 /><path d=M635,458l8-19-11,10-8,13z color=#8e5c32 /><path class=m d=M628,455l-11,3 /><path d=M153,481l9-9-7-1-9,5z color=#cd83d4 /><path d=M494,398l10-53-11,45-9,28z color=#5a572f /><path class=m d=M478,433l9-20 /><path d=M591,474l8,0-10-9-7-3z color=#ffab41 /><path class=m d=M589,465l-9-13 /><path d=M418,435l8,8-8-17-8-18z color=#80aa54 /><path class=m d=M426,443l8,3 /><path d=M400,338l8,42-9-51-8-75z color=#717323 /><path class=m d=M412,398l-8-39M403,355l8,30 /><path d=M300,474l8-6-8-4-9,3z color=#67e8ff /><path d=M627,472l8-14-11,4-8,10z color=#b57135 /><path d=M436,465l8,0-9-9-8-4z color=#b7f37a /><path d=M518,136l10-37-11,31-11,89z color=#69462b /><path class=m d=M517,130l-13,83M504,244l11-87M515,157l10-50 /><path d=M274,452l9,4-9-13-9-9z color=#2a9ace /><path d=M342,407l8-46-9,38-8,24z color=#1a5214 /><path d=M479,453l8-17-10,8-8,12z color=#978c23 /><path d=M390,236l8,75-8-84-8-83z color=#766f27 /><path class=m d=M406,362l-8-51 /><path d=M643,439l10-34-12,25-9,19z color=#6d4a2d /><path d=M265,434l9,9-8-19-10-22z color=#217ca7 /><path d=M470,466l9-13-10,3-8,10z color=#b1b539 /><path class=m d=M465,461l-9-2 /><path d=M282,466l9,1-8-11-9-4z color=#33b6f3 /><path class=m d=M285,459l9,0 /><path d=M364,155l8-54-8,48-8,92z color=#5e581f /><path d=M601,484l7-4-9-6-8,0z color=#ffbe4b /><path class=m d=M599,474l-10-9M601,475l7-5 /><path d=M487,436l9-29-10,20-9,17z color=#756e26 /><path d=M619,482l8-10-11,0-8,8z color=#ea8d36 /><path d=M118,461l10,5-8-14-11-11z color=#c76076 /><path d=M144,486l9-5-7-5-10,2z color=#ff9bcb /><path d=M101,395l12,27-11-36-15-57z color=#733f55 /><path class=m d=M102,386l12,26 /><path d=M188,424l6-41-5,32-8,22z color=#3e3864 /><path class=m d=M181,437l-7,5 /><path d=M325,457l8-16-8,7-8,12z color=#568b99 /><path d=M445,475l8-3-9-7-8,0z color=#ceff8b /><path class=m d=M446,467l8-4 /><path d=M564,422l7,15-9-24-5-35z color=#986123 /><path class=m d=M580,452l-9-15 /><path d=M357,260l8-93-9,87-7,76z color=#38411a /><path class=m d=M341,374l8-44 /><path d=M317,469l8-12-8,3-9,8z color=#5eabcd /><path class=m d=M313,464l-9-2 /><path d=M349,353l8-79-8,71-8,45z color=#24441b /><path class=m d=M335,410l8-29 /><path d=M462,475l8-9-9,0-8,6z color=#cae861 /><path d=M109,441l11,11-9-21-12-26z color=#9f4d5e /><path class=m d=M113,436l10,10 /><path d=M126,476l10,2-8-12-10-5z color=#ed748e /><path class=m d=M128,466l-8-14M132,472l10,0 /><path d=M503,337l11-86-13,78-10,52z color=#493719 /><path d=M247,325l10,49-10-58-12-82z color=#366478 /><path class=m d=M262,395l-10-45 /><path d=M510,238l12-90-13,84-11,82z color=#452b14 /><path d=M333,441l9-25-9,16-8,16z color=#386c59 /><path class=m d=M321,458l8-13 /><path d=M203,288l5-94-4,87-5,70z color=#113f54 /><path class=m d=M199,351l-6,30M194,382l6-47 /><path d=M210,182l6-69-5,63-5,92z color=#2e4b53 /><path class=m d=M201,335l5-67 /><path d=M291,476l9-2-9-7-9-1z color=#3ed0ff /><path d=M196,375l5-73-4,65-7,39z color=#2f3755 /><path class=m d=M193,387l-6,22M185,422l8-31 /><path d=M410,408l8,18-9-27-8-42z color=#668843 /><path d=M236,217l12,81-11-90-13-77z color=#366855 /><path class=m d=M258,356l-10-58M240,231l12,72 /><path d=M308,478l9-9-9-1-8,6z color=#58cbfe /><path class=m d=M312,469l9-11 /><path d=M611,489l8-7-11-2-7,4z color=#ffb94a /><path class=m d=M608,480l-9-6 /><path d=M555,369l5,34-7-44-4-68z color=#301c0a /><path d=M170,471l8-15-7,5-9,11z color=#634992 /><path class=m d=M167,467l-8,0 /><path d=M161,482l9-11-8,1-9,9z color=#a367a8 /><path d=M537,160l3,86-5-94-6-46z color=#9f6b41 /><path class=m d=M546,323l-6-77 /><path d=M546,273l3,68-5-78-4-86z color=#312011 /><path class=m d=M554,367l-7-60M545,283l4,60 /><path d=M135,487l9-1-8-8-10-2z color=#ff87a4 /><path class=m d=M136,478l-8-12 /><path d=M584,472l7,2-9-12-7-6z color=#e9b050 /><path d=M454,482l8-7-9-3-8,3z color=#d0ff8d /><path d=M178,456l8-23-6,13-9,15z color=#403880 /><path class=m d=M168,471l9-14 /><path d=M381,136l8,82-8-89-9-28z color=#bab14f /><path class=m d=M389,218l8,75 /><path d=M575,456l7,6-9-16-6-14z color=#c19242 /><path d=M256,402l10,22-10-31-11-49z color=#1b6486 /><path class=m d=M266,424l9,9 /><path d=M428,462l8,3-9-13-8-7z color=#84ce66 /><path d=M637,468l9-20-11,10-8,14z color=#8d5728 /><path d=M594,484l7,0-10-10-7-2z color=#ffcc5e /><path class=m d=M594,477l7-2 /><path d=M152,491l9-9-8-1-9,5z color=#f38ab6 /><path class=m d=M159,482l9-11 /><path d=M225,124l13,75-12-83-9-9z color=#49ab5d /><path class=m d=M226,116l12,75 /><path d=M372,101l9,28-9-35-8,55z color=#afa74b /><path class=m d=M364,149l-8,85 /><path d=M419,445l8,7-9-17-8-17z color=#6ba953 /><path d=M496,407l10-55-12,46-8,29z color=#5a5526 /><path class=m d=M486,427l-10,8 /><path d=M629,481l8-13-10,4-8,10z color=#b46b27 /><path d=M300,484l8-6-8-4-9,2z color=#42d7ff /><path class=m d=M304,476l8-7 /><path d=M401,348l7,41-8-51-8-75z color=#63732e /><path d=M653,405l13-63-16,54-9,34z color=#4f3520 /><path class=m d=M650,396l-12,25 /><path d=M437,475l8,0-9-10-8-3z color=#9bf179 /><path class=m d=M436,465l-9-13M438,468l8-1 /><path d=M273,462l9,4-8-14-9-9z color=#2f93ce /><path class=m d=M276,456l9,3 /><path d=M480,463l8-18-9,8-9,13z color=#898b2b /><path class=m d=M475,459l-10,2 /><path d=M342,416l8-47-8,38-9,25z color=#22522c /><path class=m d=M333,432l-8,7M329,445l8-21 /><path d=M646,448l10-34-13,25-8,19z color=#6c4626 /><path class=m d=M639,448l-11,7M632,470l8-17 /><path d=M391,245l8,75-9-84-8-84z color=#766d1b /><path class=m d=M392,257l8,67 /><path d=M265,443l9,9-9-18-10-22z color=#2576a7 /><path d=M520,142l9-36-11,30-11,89z color=#7e5534 /><path d=M472,475l8-12-10,3-8,9z color=#9cb449 /><path d=M603,494l8-5-10-5-7,0z color=#ffe26b /><path d=M282,476l9,0-9-10-9-4z color=#39aef4 /><path class=m d=M282,466l-8-14 /><path d=M621,492l8-11-10,1-8,7z color=#ea973b /><path class=m d=M619,482l-11-2M624,482l8-12 /><path d=M488,445l9-29-10,20-8,17z color=#746c1b /><path class=m d=M475,464l9-15 /><path d=M116,471l10,5-8-15-11-10z color=#c24c64 /><path class=m d=M122,469l10,3 /><path d=M143,496l9-5-8-5-9,1z color=#ff91af /><path class=m d=M144,486l-8-8M150,489l9-7 /><path d=M99,405l12,26-10-36-15-56z color=#813e4c /><path class=m d=M120,452l-9-21 /><path d=M446,485l8-3-9-7-8,0z color=#afff8a /><path class=m d=M445,475l-9-10 /><path d=M325,467l9-16-9,6-8,12z color=#47839c /><path class=m d=M321,463l-8,1 /><path d=M364,161l9-54-9,48-8,92z color=#605916 /><path d=M567,432l6,14-9-24-5-34z color=#9a7434 /><path class=m d=M573,446l7,6 /><path d=M186,433l7-41-5,32-8,22z color=#373263 /><path class=m d=M177,457l8-20 /><path d=M529,106l6,46-7-53-10,37z color=#fff8a6 /><path class=m d=M540,246l-5-94M535,152l-7-53M528,99l-11,31 /><path d=M464,485l8-10-10,0-8,7z color=#afe775 /><path class=m d=M467,475l8-11 /><path d=M317,479l8-12-8,2-9,9z color=#439fc8 /><path d=M107,451l11,10-9-20-12-26z color=#9c3d50 /><path d=M125,486l10,1-9-11-10-5z color=#e85c79 /><path d=M246,334l11,49-10-58-13-81z color=#275d76 /><path class=m d=M254,369l10,29 /><path d=M350,361l8-80-9,72-8,46z color=#1b4313 /><path class=m d=M345,376l-8,26 /><path d=M334,451l8-26-9,16-8,16z color=#436d78 /><path d=M357,267l8-94-8,87-8,77z color=#304120 /><path class=m d=M349,337l-8,37 /><path d=M291,486l9-2-9-8-9,0z color=#44c6ff /><path class=m d=M291,476l-9-10M295,480l9-4 /><path d=M504,345l11-87-12,79-10,53z color=#4a4021 /><path class=m d=M498,363l-11,32M487,413l9-34 /><path d=M410,418l8,17-8-27-8-41z color=#568742 /><path class=m d=M427,452l-9-17M418,435l8,8 /><path d=M512,245l12-91-14,84-10,84z color=#45290f /><path class=m d=M500,322l-11,43M490,373l10-51 /><path d=M202,295l4-95-3,88-5,71z color=#123c54 /><path d=M194,383l6-73-4,65-7,40z color=#3b3656 /><path d=M236,225l12,82-12-90-12-78z color=#416873 /><path d=M308,488l9-9-9-1-8,6z color=#37bbf9 /><path d=M613,499l8-7-10-3-8,5z color=#ffda69 /><path class=m d=M616,491l8-9 /><path d=M209,188l6-68-5,62-5,92z color=#264755 /><path class=m d=M207,228l-3,74 /><path d=M557,378l5,35-7-44-4-68z color=#301f0b /><path class=m d=M571,437l-9-24M561,402l6,19 /><path d=M169,481l8-16-7,6-9,11z color=#7b4d7f /><path d=M216,113l9,11-8-17-6,69z color=#59a98b /><path class=m d=M206,268l5-92M211,176l6-69M217,107l9,9 /><path d=M160,492l9-11-8,1-9,9z color=#c26c90 /><path d=M587,482l7,2-10-12-7-6z color=#ebcd6a /><path class=m d=M587,475l7,2 /><path d=M133,498l10-2-8-9-10-1z color=#ff6c8d /><path class=m d=M141,494l9-5 /><path d=M455,492l9-7-10-3-8,3z color=#b0ff8b /><path class=m d=M454,482l-9-7M459,483l8-8 /><path d=M547,282l4,68-5-77-4-88z color=#301e0e /><path d=M539,168l3,86-5-94-6-47z color=#312114 /><path d=M177,465l8-23-7,14-8,15z color=#4e3a74 /><path class=m d=M174,463l-7,4 /><path d=M577,466l7,6-9-16-6-14z color=#c3aa57 /><path d=M255,412l10,22-9-32-11-48z color=#1e5f86 /><path class=m d=M274,452l-9-18 /><path d=M429,472l8,3-9-13-8-7z color=#6acb51 /><path class=m d=M430,465l8,3 /><path d=M596,494l7,0-9-10-7-2z color=#ffed7c /><path class=m d=M590,483l-9-14 /><path d=M382,144l8,83-9-91-8-29z color=#bbb03d /><path class=m d=M398,311l-8-84 /><path d=M640,477l9-19-12,10-8,13z color=#8c531e /><path d=M151,501l9-9-8-1-9,5z color=#ff809c /><path class=m d=M152,491l-8-5 /><path d=M420,455l8,7-9-17-8-17z color=#56a641 /><path d=M632,491l8-14-11,4-8,11z color=#b3732b /><path class=m d=M629,481l-10,1 /><path d=M299,494l9-6-8-4-9,2z color=#48cdff /><path class=m d=M300,484l-9-8 /><path d=M497,416l10-56-11,47-9,29z color=#59541d /><path class=m d=M484,449l8-23 /><path d=M401,357l8,42-8-51-8-76z color=#567339 /><path class=m d=M407,386l8,24 /><path d=M438,485l8,0-9-10-8-3z color=#7ded60 /><path d=M224,131l13,77-12-84-9-11z color=#4d9479 /><path class=m d=M248,298l-11-90M237,208l-12-84M225,124l-8-17 /><path d=M273,472l9,4-9-14-9-9z color=#5490d3 /><path d=M656,414l13-64-16,55-10,34z color=#543822 /><path class=m d=M640,453l10-27 /><path d=M373,107l8,29-9-35-8,54z color=#b8ad3d /><path class=m d=M390,227l-9-91M381,136l-9-35M372,101l-8,48M381,136l8,82 /><path d=M481,472l9-18-10,9-8,12z color=#788b38 /><path d=M342,425l8-48-8,39-9,25z color=#2a5243 /><path d=M264,453l9,9-8-19-10-21z color=#4375ab /><path class=m d=M267,448l9,8 /><path d=M649,458l10-35-13,25-9,20z color=#6c431e /><path d=M473,485l8-13-9,3-8,10z color=#87b359 /><path d=M606,504l7-5-10-5-7,0z color=#ffff8b /><path class=m d=M600,494l-10-11M608,497l8-6 /><path d=M391,254l8,75-8-84-8-85z color=#6b6d22 /><path class=m d=M404,359l-9-67 /><path d=M282,486l9,0-9-10-9-4z color=#64abf9 /><path class=m d=M286,481l9-1 /><path d=M624,502l8-11-11,1-8,7z color=#ebb354 /><path d=M141,506l10-5-8-5-10,2z color=#ff7596 /><path d=M114,481l11,5-9-15-11-10z color=#be3853 /><path d=M522,148l9-35-11,29-11,90z color=#7c512c /><path class=m d=M514,187l-12,80 /><path d=M97,415l12,26-10-36-15-56z color=#7e3141 /><path class=m d=M101,414l12,22 /><path d=M490,454l9-29-11,20-8,18z color=#6a6b21 /><path class=m d=M484,454l-9,5 /><path d=M447,495l8-3-9-7-8,0z color=#8eff6e /><path class=m d=M451,488l8-5 /><path d=M569,442l6,14-8-24-6-34z color=#9c8846 /><path class=m d=M581,469l-9-20 /><path d=M325,476l9-16-9,7-8,12z color=#327999 /><path d=M185,442l7-42-6,33-8,23z color=#302b61 /><path d=M465,495l8-10-9,0-9,7z color=#93e474 /><path class=m d=M464,485l-10-3 /><path d=M317,489l8-13-8,3-9,9z color=#2892c3 /><path d=M123,496l10,2-8-12-11-5z color=#e24564 /><path class=m d=M131,495l10-1 /><path d=M105,461l11,10-9-20-12-26z color=#982c42 /><path class=m d=M120,484l-9-18M112,461l10,8 /><path d=M365,167l8-53-9,47-8,93z color=#595b1c /><path class=m d=M360,208l-8,77M349,330l7-76 /><path d=M245,344l11,49-10-59-13-81z color=#175674 /><path d=M531,113l6,47-8-54-9,36z color=#feab69 /><path class=m d=M537,160l3,86 /><path d=M334,460l8-26-8,17-9,16z color=#37667a /><path class=m d=M329,459l-8,4M323,477l8-15 /><path d=M290,496l9-2-8-8-9,0z color=#74c3ff /><path d=M411,428l8,17-9-27-7-41z color=#458434 /><path d=M350,369l8-81-8,73-8,46z color=#144110 /><path class=m d=M337,424l9-36 /><path d=M506,352l11-87-13,80-10,53z color=#4a4827 /><path d=M616,510l8-8-11-3-7,5z color=#fffc87 /><path class=m d=M610,502l-10-8 /><path d=M357,274l8-95-8,88-8,78z color=#29401f /><path class=m d=M343,381l8-54 /><path d=M308,498l9-9-9-1-9,6z color=#3cb2f8 /><path class=m d=M308,488l-8-4M314,488l9-11 /><path d=M559,388l5,34-7-44-4-67z color=#312510 /><path d=M235,234l12,82-11-91-13-78z color=#356376 /><path class=m d=M252,350l-11-74M241,271l12,65 /><path d=M167,490l9-15-7,6-9,11z color=#93516d /><path d=M193,392l6-75-5,66-6,41z color=#353055 /><path class=m d=M188,424l-7,13M185,437l7-37 /><path d=M514,251l12-90-14,84-11,84z color=#452c10 /><path d=M201,302l4-95-3,88-5,72z color=#223b56 /><path class=m d=M193,391l6-56 /><path d=M158,502l9-12-7,2-9,9z color=#ce647b /><path class=m d=M160,492l-8-1 /><path d=M589,492l7,2-9-12-7-6z color=#ede57c /><path d=M131,508l10-2-8-8-10-2z color=#ff5275 /><path class=m d=M128,497l-8-13 /><path d=M208,194l6-68-5,62-5,93z color=#1b4253 /><path class=m d=M200,335l5-75 /><path d=M457,502l8-7-10-3-8,3z color=#8fff6f /><path d=M215,120l9,11-8-18-6,69z color=#436d78 /><path d=M549,291l4,68-6-77-3-88z color=#301c0a /><path class=m d=M550,321l5,51 /><path d=M580,476l7,6-10-16-6-14z color=#c4be66 /><path class=m d=M580,470l7,5 /><path d=M176,475l8-23-7,13-8,16z color=#613d65 /><path d=M430,482l8,3-9-13-8-7z color=#50c73b /><path d=M255,422l10,21-10-31-11-48z color=#365d89 /><path d=M598,505l8-1-10-10-7-2z color=#ffff90 /><path class=m d=M601,499l7-2 /><path d=M540,177l4,86-5-95-6-48z color=#312011 /><path class=m d=M547,307l-5-86 /><path d=M643,487l9-20-12,10-8,14z color=#8c5920 /><path d=M149,511l9-9-7-1-10,5z color=#fc6685 /><path d=M421,465l8,7-9-17-8-18z color=#41a32f /><path class=m d=M422,459l8,6 /><path d=M635,501l8-14-11,4-8,11z color=#b4883e /><path d=M382,152l8,84-8-92-9-30z color=#bcaf2c /><path d=M299,504l9-6-9-4-9,2z color=#79caff /><path class=m d=M306,497l8-9 /><path d=M439,495l8,0-9-10-8-3z color=#5fe846 /><path class=m d=M434,483l-9-15M443,490l8-2 /><path d=M273,482l9,4-9-14-9-9z color=#798ed8 /><path class=m d=M277,479l9,2 /><path d=M402,367l8,41-9-51-8-75z color=#487238 /><path class=m d=M418,435l-8-27 /><path d=M499,425l10-57-12,48-9,29z color=#585214 /><path d=M86,339l15,56-14-66-18-86z color=#713643 /><path class=m d=M111,431l-10-36M101,395l-14-66M87,329l15,57 /><path d=M659,423l13-65-16,56-10,34z color=#53361d /><path class=m d=M651,431l-12,17 /><path d=M483,482l8-18-10,8-8,13z color=#688a44 /><path d=M224,139l12,78-12-86-9-11z color=#5c95a4 /><path class=m d=M227,153l13,78 /><path d=M264,463l9,9-9-19-10-21z color=#6273af /><path d=M608,514l8-4-10-6-8,1z color=#ffffa1 /><path d=M474,495l9-13-10,3-8,10z color=#71b158 /><path class=m d=M473,485l-9,0 /><path d=M652,467l10-35-13,26-9,19z color=#6b3f17 /><path class=m d=M640,477l-11,4M640,488l9-18 /><path d=M342,434l8-49-8,40-8,26z color=#33525b /><path class=m d=M331,462l9-24 /><path d=M373,114l9,30-9-37-9,54z color=#c2b42d /><path class=m d=M356,254l8-93M364,161l9-54M373,107l8,29 /><path d=M281,496l9,0-8-10-9-4z color=#90a8fe /><path class=m d=M277,484l-9-17 /><path d=M626,512l9-11-11,1-8,8z color=#ecce6d /><path class=m d=M620,506l-10-4M632,502l8-14 /><path d=M392,263l8,75-9-84-8-85z color=#5e6d2c /><path class=m d=M396,297l7,58 /><path d=M140,516l9-5-8-5-10,2z color=#ff587e /><path class=m d=M136,507l-8-10 /><path d=M113,492l10,4-9-15-11-10z color=#ba2744 /><path class=m d=M121,493l10,2 /><path d=M95,425l12,26-10-36-16-56z color=#7b2435 /><path class=m d=M111,466l-10-28 /><path d=M491,464l9-30-10,20-9,18z color=#5d6b2b /><path class=m d=M480,483l9-17 /><path d=M448,505l9-3-10-7-8,0z color=#6eff52 /><path class=m d=M443,495l-9-12 /><path d=M571,452l6,14-8-24-6-34z color=#9d9852 /><path d=M325,486l9-16-9,6-8,13z color=#1e6f95 /><path d=M466,505l8-10-9,0-8,7z color=#77df5c /><path class=m d=M472,495l8-12 /><path d=M524,154l9-34-11,28-12,90z color=#7a4c23 /><path class=m d=M500,322l10-84 /><path d=M121,507l10,1-8-12-10-4z color=#de3153 /><path d=M103,471l11,10-9-20-12-26z color=#951f36 /><path d=M317,499l8-13-8,3-9,9z color=#2c8ac3 /><path class=m d=M317,489l-9-1 /><path d=M184,452l7-43-6,33-8,23z color=#3b2c58 /><path class=m d=M181,454l-7,9 /><path d=M290,507l9-3-9-8-9,0z color=#a5c0ff /><path class=m d=M286,496l-9-12M297,502l9-5 /><path d=M245,354l11,48-11-58-12-82z color=#195274 /><path class=m d=M265,434l-9-32M256,402l10,22 /><path d=M334,470l8-27-8,17-9,16z color=#275f78 /><path d=M412,437l8,18-9-27-8-41z color=#348226 /><path class=m d=M425,468l-9-22 /><path d=M619,520l7-8-10-2-8,4z color=#ffff9c /><path class=m d=M624,512l8-10 /><path d=M365,173l9-52-9,46-8,93z color=#515d25 /><path d=M533,120l6,48-8-55-9,35z color=#f6a057 /><path class=m d=M542,221l-6-77M536,144l-9-14M527,130l-13,57M510,238l12-90M522,148l9-35M531,113l6,47 /><path d=M308,508l9-9-9-1-9,6z color=#67aefc /><path d=M350,377l8-82-8,74-8,47z color=#1b4223 /><path class=m d=M342,416l-9,16 /><path d=M561,398l6,34-8-44-4-68z color=#312b16 /><path class=m d=M572,449l-8-34M567,432l6,14 /><path d=M166,501l9-16-8,5-9,12z color=#9c4b5c /><path d=M507,360l12-88-13,80-10,55z color=#4a461f /><path class=m d=M496,407l-10,20M492,426l10-42 /><path d=M157,512l9-11-8,1-9,9z color=#c84f68 /><path d=M234,244l13,81-12-91-13-79z color=#265b74 /><path d=M591,502l7,3-9-13-7-6z color=#ede265 /><path class=m d=M594,498l7,1 /><path d=M358,281l8-95-9,88-8,79z color=#213f19 /><path d=M130,518l10-2-9-8-10-1z color=#fe3b62 /><path d=M192,400l5-75-4,67-7,41z color=#2f2a54 /><path d=M458,512l8-7-9-3-9,3z color=#6fff54 /><path class=m d=M452,504l-9-9M464,504l8-9 /><path d=M515,258l12-91-13,84-11,86z color=#463518 /><path class=m d=M496,379l10-61 /><path d=M200,310l4-96-3,88-5,73z color=#313958 /><path class=m d=M198,339l-5,48 /><path d=M582,486l7,6-9-16-7-14z color=#c5bb54 /><path d=M175,485l8-24-7,14-9,15z color=#744056 /><path class=m d=M167,490l-7,2M158,502l9-12 /><path d=M551,301l4,68-6-78-3-88z color=#301f0b /><path class=m d=M562,413l-7-44 /><path d=M601,515l7-1-10-9-7-3z color=#ffff76 /><path d=M431,492l8,3-9-13-8-7z color=#3ec432 /><path class=m d=M435,489l8,1 /><path d=M254,432l10,21-9-31-11-48z color=#4e5c8c /><path class=m d=M268,467l-9-24M257,430l10,18 /><path d=M669,350l16-94-19,86-13,63z color=#462f1d /><path class=m d=M666,342l-16,54M650,426l11-48M661,378l14-78 /><path d=M147,521l10-9-8-1-9,5z color=#f54c6e /><path class=m d=M144,514l-8-7M149,511l9-9 /><path d=M646,497l9-20-12,10-8,14z color=#8c6a30 /><path d=M206,200l7-67-5,61-5,94z color=#103d51 /><path class=m d=M203,288l-4,63 /><path d=M214,126l10,13-9-19-6,68z color=#38687d /><path class=m d=M212,154l-5,74M205,260l5-87M210,173l7-48M217,125l10,28 /><path d=M542,185l4,88-6-96-5-50z color=#301e0e /><path class=m d=M542,201l3,82 /><path d=M637,512l9-15-11,4-9,11z color=#b49e52 /><path class=m d=M631,507l-11-1 /><path d=M422,475l8,7-9-17-8-17z color=#32a028 /><path d=M299,514l9-6-9-4-9,3z color=#abc6ff /><path class=m d=M295,505l-9-9 /><path d=M440,505l8,0-9-10-8-3z color=#4ae43c /><path d=M272,492l9,4-8-14-10-9z color=#968adc /><path d=M403,377l7,41-8-51-8-75z color=#3a702c /><path class=m d=M410,418l8,17 /><path d=M383,160l8,85-9-93-8-31z color=#acb036 /><path class=m d=M395,292l-8-89M384,176l8,81 /><path d=M84,349l15,56-13-66-19-87z color=#6f2b39 /><path d=M484,492l9-18-10,8-9,13z color=#578843 /><path d=M500,434l11-57-12,48-9,29z color=#505219 /><path class=m d=M494,440l-10,14M489,466l9-27 /><path d=M662,432l13-66-16,57-10,35z color=#533317 /><path class=m d=M649,470l10-32 /><path d=M611,525l8-5-11-6-7,1z color=#ffff85 /><path class=m d=M616,519l8-7 /><path d=M263,473l10,9-9-19-10-21z color=#796fb2 /><path class=m d=M268,472l9,7 /><path d=M476,505l8-13-10,3-8,10z color=#5bac45 /><path d=M655,477l10-36-13,26-9,20z color=#6a4419 /><path d=M629,523l8-11-11,0-7,8z color=#ede57e /><path d=M281,506l9,1-9-11-9-4z color=#b2a3ff /><path class=m d=M288,504l9-2 /><path d=M223,147l13,78-12-86-10-13z color=#4d8da9 /><path class=m d=M241,276l-12-89M229,187l-10-54M219,133l-7,21 /><path d=M342,443l8-49-8,40-8,26z color=#2a4d5d /><path class=m d=M338,447l-9,12 /><path d=M138,527l9-6-7-5-10,2z color=#ff4169 /><path class=m d=M140,516l9-5 /><path d=M111,502l10,5-8-15-11-11z color=#c82b4a /><path d=M93,435l12,26-10-36-16-56z color=#78192c /><path class=m d=M100,443l12,18 /><path d=M393,272l8,76-9-85-8-86z color=#526d36 /><path d=M449,516l9-4-10-7-8,0z color=#57ff47 /><path class=m d=M455,510l9-6 /><path d=M374,121l8,31-9-38-8,53z color=#babe3b /><path class=m d=M387,203l-9-66M378,137l-9,4M369,141l-9,67 /><path d=M573,462l7,14-9-24-6-34z color=#9d9643 /><path class=m d=M573,458l7,12 /><path d=M493,474l9-31-11,21-8,18z color=#506b35 /><path class=m d=M483,482l-10,3 /><path d=M325,496l9-16-9,6-8,13z color=#216a95 /><path d=M119,517l11,1-9-11-10-5z color=#e83458 /><path d=M467,515l9-10-10,0-8,7z color=#5bda44 /><path class=m d=M462,509l-10-5 /><path d=M102,481l11,11-10-21-12-25z color=#a4223c /><path class=m d=M111,502l-9-21M99,473l11,14M110,487l11,6 /><path d=M316,509l9-13-8,3-9,9z color=#4f87c6 /><path d=M183,461l7-43-6,34-8,23z color=#4a2e4c /><path class=m d=M167,490l9-15 /><path d=M290,517l9-3-9-7-9-1z color=#cabaff /><path d=M526,161l9-34-11,27-12,91z color=#784719 /><path class=m d=M512,245l-12,77 /><path d=M244,364l11,48-10-58-13-82z color=#2e5176 /><path d=M334,480l8-27-8,17-9,16z color=#175775 /><path class=m d=M325,486l-8,3 /><path d=M413,448l8,17-9-28-8-40z color=#288020 /><path class=m d=M414,444l8,15 /><path d=M621,531l8-8-10-3-8,5z color=#ffff81 /><path d=M308,518l8-9-8-1-9,6z color=#92abff /><path class=m d=M303,511l-8-6 /><path d=M563,408l6,34-8-44-4-68z color=#312f1a /><path d=M164,511l9-16-7,6-9,11z color=#983b4e /><path d=M155,523l9-12-7,1-10,9z color=#c23a55 /><path class=m d=M152,517l-8-3 /><path d=M594,513l7,2-10-13-7-5z color=#eddf4e /><path d=M535,127l5,50-7-57-9,34z color=#ee9444 /><path d=M350,385l8-82-8,74-8,48z color=#224236 /><path class=m d=M340,438l8-43 /><path d=M128,529l10-2-8-9-11-1z color=#ff4067 /><path class=m d=M119,517l-8-15M119,517l11,1M130,518l10-2 /><path d=M365,179l9-51-9,45-8,94z color=#48602f /><path class=m d=M357,267l-8,70M351,327l8-81 /><path d=M233,253l13,81-12-90-13-81z color=#165471 /><path class=m d=M243,312l11,57 /><path d=M459,523l8-8-9-3-9,4z color=#58fe48 /><path d=M509,368l12-89-14,81-10,56z color=#4a4518 /><path d=M584,497l7,5-9-16-7-13z color=#c5b941 /><path class=m d=M586,494l8,4 /><path d=M191,409l5-76-4,67-7,42z color=#2a2554 /><path d=M603,526l8-1-10-10-7-2z color=#ffff5c /><path class=m d=M601,515l-10-13M608,522l8-3 /><path d=M358,288l8-95-8,88-8,80z color=#183d12 /><path class=m d=M353,321l-8,55M346,388l8-63 /><path d=M173,495l8-24-6,14-9,16z color=#7c3c49 /><path d=M432,503l8,2-9-13-8-7z color=#53c56a /><path d=M553,311l4,67-6-77-3-89z color=#312511 /><path class=m d=M556,359l5,43 /><path d=M254,442l10,21-10-31-11-48z color=#61598f /><path d=M146,532l9-9-8-2-9,6z color=#ef375b /><path d=M649,508l9-21-12,10-9,15z color=#988545 /><path class=m d=M653,497l-11,8M642,505l-11,2 /><path d=M199,317l4-97-3,90-6,73z color=#3d3859 /><path class=m d=M192,400l6-66 /><path d=M517,265l12-91-14,84-11,87z color=#463d20 /><path class=m d=M510,302l-12,61 /><path d=M640,522l9-14-12,4-8,11z color=#c1ba66 /><path d=M423,485l8,7-9-17-8-17z color=#43a257 /><path class=m d=M426,483l9,6 /><path d=M672,358l16-95-19,87-13,64z color=#47301d /><path d=M299,525l9-7-9-4-9,3z color=#d0c0ff /><path d=M441,516l8,0-9-11-8-2z color=#62e67d /><path class=m d=M447,513l8-3 /><path d=M544,194l3,88-5-97-5-51z color=#301c0a /><path d=M272,502l9,4-9-14-9-8z color=#887cda /><path class=m d=M279,503l9,1 /><path d=M205,207l7-67-6,60-4,95z color=#123951 /><path class=m d=M199,335l5-83 /><path d=M213,133l10,14-9-21-6,68z color=#29627c /><path d=M403,387l8,41-8-51-8-75z color=#2c6d20 /><path class=m d=M416,446l-9-39 /><path d=M81,359l16,56-13-66-19-87z color=#6c1f2f /><path class=m d=M101,438l-12-51M87,365l14,49 /><path d=M613,535l8-4-10-6-8,1z color=#ffff69 /><path class=m d=M611,525l-10-10 /><path d=M486,502l8-18-10,8-8,13z color=#458535 /><path d=M263,484l9,8-9-19-10-20z color=#6e64b1 /><path d=M383,169l8,85-8-94-9-32z color=#99b147 /><path d=M502,443l10-58-12,49-9,30z color=#465121 /><path d=M665,441l14-67-17,58-10,35z color=#523011 /><path class=m d=M652,467l-12,10 /><path d=M632,533l8-11-11,1-8,8z color=#f7ec6e /><path class=m d=M640,522l9-14 /><path d=M477,516l9-14-10,3-9,10z color=#44a832 /><path class=m d=M472,510l-10-1 /><path d=M281,517l9,0-9-11-9-4z color=#a193ff /><path d=M658,487l10-37-13,27-9,20z color=#775928 /><path class=m d=M649,508l9-21 /><path d=M136,538l10-6-8-5-10,2z color=#ff446d /><path class=m d=M128,529l-9-12 /><path d=M91,446l12,25-10-36-16-55z color=#831b2f /><path class=m d=M102,481l-11-35 /><path d=M342,453l9-51-9,41-8,27z color=#1e485a /><path d=M451,526l8-3-10-7-8,0z color=#71ff8f /><path d=M575,473l7,13-9-24-6-33z color=#9d9433 /><path class=m d=M591,502l-9-16 /><path d=M222,155l13,79-12-87-10-14z color=#3783a6 /><path class=m d=M229,191l12,80 /><path d=M393,282l8,75-8-85-9-86z color=#446c35 /><path class=m d=M410,408l-9-51M399,336l8,50 /><path d=M494,484l10-32-11,22-9,18z color=#436934 /><path d=M325,507l9-17-9,6-9,13z color=#3c6798 /><path d=M469,526l8-10-10-1-8,8z color=#47d53a /><path d=M316,519l9-12-9,2-8,9z color=#7184c9 /><path class=m d=M312,514l-9-3 /><path d=M374,128l9,32-9-39-9,52z color=#aec952 /><path class=m d=M359,246l8-84M367,162l9-31M376,131l8,45 /><path d=M181,471l8-44-6,34-8,24z color=#583141 /><path class=m d=M175,485l-8,5 /><path d=M290,528l9-3-9-8-9,0z color=#b8a8ff /><path d=M624,541l8-8-11-2-8,4z color=#ffff6c /><path class=m d=M632,533l-11-2M621,531l-10-6M632,533l8-11 /><path d=M244,374l11,48-11-58-13-82z color=#434f79 /><path class=m d=M259,443l-10-45 /><path d=M414,458l8,17-9-27-8-41z color=#368145 /><path d=M334,490l8-28-8,18-9,16z color=#1a5274 /><path class=m d=M316,509l9-13 /><path d=M308,529l8-10-8-1-9,7z color=#b3a5ff /><path class=m d=M308,518l8-9 /><path d=M565,418l6,34-8-44-4-67z color=#312f15 /><path d=M527,167l10-33-11,27-12,90z color=#774c1c /><path class=m d=M506,318l11-87 /><path d=M163,521l9-16-8,6-9,12z color=#932b40 /><path class=m d=M160,517l-8,0 /><path d=M154,534l9-13-8,2-9,9z color=#bd2846 /><path d=M596,524l7,2-9-13-8-6z color=#eddc38 /><path class=m d=M601,522l7,0 /><path d=M460,533l9-7-10-3-8,3z color=#71ff8f /><path d=M586,507l8,6-10-16-7-14z color=#c5b72d /><path d=M350,394l9-84-9,75-8,49z color=#294249 /><path d=M606,537l7-2-10-9-7-2z color=#fffe42 /><path d=M233,262l12,82-12-91-13-81z color=#195071 /><path class=m d=M256,402l-11-58 /><path d=M537,134l5,51-7-58-9,34z color=#e78831 /><path class=m d=M526,161l-14,84M517,231l11-77M528,154l9-12M537,142l5,59 /><path d=M433,513l8,3-9-13-8-7z color=#68c7a3 /><path class=m d=M439,513l8,0 /><path d=M511,377l12-90-14,81-10,57z color=#494411 /><path class=m d=M498,439l10-50 /><path d=M144,543l10-9-8-2-10,6z color=#ee375b /><path class=m d=M136,538l-8-9M138,539l10-7M148,532l9-10 /><path d=M172,505l8-24-7,14-9,16z color=#782f3e /><path class=m d=M157,522l9-13 /><path d=M366,186l8-51-9,44-8,95z color=#3e6230 /><path d=M190,418l5-77-4,68-7,43z color=#33264c /><path class=m d=M187,430l-6,24M176,475l8-23 /><path d=M253,453l10,20-9-31-12-48z color=#58508e /><path class=m d=M258,458l10,14 /><path d=M555,320l4,68-6-77-3-90z color=#312b16 /><path class=m d=M564,415l-7-60 /><path d=M424,496l8,7-9-18-9-17z color=#55a386 /><path d=M299,535l9-6-9-4-9,3z color=#bdadff /><path class=m d=M299,525l9-7 /><path d=M358,295l9-96-9,89-8,81z color=#133c0f /><path d=M442,527l9-1-10-10-8-3z color=#7ae8bf /><path class=m d=M441,516l-9-13 /><path d=M271,513l10,4-9-15-10-8z color=#7a6ed9 /><path d=M197,325l5-98-3,90-6,75z color=#373258 /><path class=m d=M193,392l-5,32 /><path d=M675,366l17-96-20,88-13,65z color=#472e19 /><path class=m d=M666,391l-15,40M659,438l12-57 /><path d=M519,272l12-91-14,84-11,87z color=#474425 /><path class=m d=M502,384l10-71 /><path d=M404,397l8,40-9-50-8-75z color=#226c1b /><path d=M546,203l3,88-5-97-5-52z color=#301f0b /><path class=m d=M555,369l-6-78M547,243l3,78 /><path d=M616,546l8-5-11-6-7,2z color=#ffff50 /><path class=m d=M624,541l8-8 /><path d=M79,369l16,56-14-66-18-87z color=#6a1626 /><path d=M487,512l9-18-10,8-9,14z color=#348226 /><path class=m d=M481,509l-9,1 /><path d=M262,494l10,8-9-18-11-21z color=#6359b0 /><path class=m d=M269,498l10,5 /><path d=M478,526l9-14-10,4-8,10z color=#35a52a /><path d=M204,214l7-67-6,60-4,95z color=#203853 /><path d=M280,527l10,1-9-11-10-4z color=#9182ff /><path class=m d=M281,517l-9-15 /><path d=M212,140l10,15-9-22-7,67z color=#185c7b /><path class=m d=M206,200l-3,88M204,252l5-81M209,171l8-27M217,144l12,47 /><path d=M668,450l14-67-17,58-10,36z color=#5a3915 /><path class=m d=M658,487l10-37 /><path d=M504,452l10-58-12,49-9,31z color=#3d5128 /><path class=m d=M493,474l-10,8 /><path d=M384,177l8,86-9-94-9-34z color=#85b158 /><path class=m d=M388,216l8,81 /><path d=M452,537l8-4-9-7-9,1z color=#8bffd7 /><path class=m d=M451,526l-10-10 /><path d=M577,483l7,14-9-24-5-34z color=#9d9224 /><path class=m d=M580,485l6,9 /><path d=M342,462l9-51-9,42-8,27z color=#114258 /><path class=m d=M334,480l-9,6M325,496l9-16 /><path d=M67,252l19,87-17-96-17-74z color=#782f3e /><path class=m d=M69,243l18,86 /><path d=M394,292l8,75-9-85-8-87z color=#376929 /><path d=M496,494l9-32-11,22-8,18z color=#356728 /><path class=m d=M477,516l9-14 /><path d=M470,537l8-11-9,0-9,7z color=#5dd676 /><path class=m d=M469,526l8-10 /><path d=M325,517l9-17-9,7-9,12z color=#56659a /><path class=m d=M321,513l-9,1 /><path d=M221,163l13,81-12-89-10-15z color=#217aa3 /><path d=M316,530l9-13-9,2-8,10z color=#8b80cb /><path d=M289,539l10-4-9-7-10-1z color=#a696ff /><path class=m d=M290,528l-9-11M290,528l9-3 /><path d=M180,481l7-45-6,35-8,24z color=#5e2d37 /><path class=m d=M166,509l9-17 /><path d=M374,135l9,34-9-41-9,51z color=#a0d56b /><path class=m d=M365,179l-8,88 /><path d=M414,468l9,17-9-27-9-40z color=#43826b /><path class=m d=M432,503l-9-18M418,472l8,11 /><path d=M243,384l11,48-10-58-14-82z color=#544d7b /><path class=m d=M246,388l11,42 /><path d=M334,500l9-28-9,18-9,17z color=#2e5176 /><path d=M307,540l9-10-8-1-9,6z color=#a294ff /><path d=M567,429l6,33-8-44-4-67z color=#312e10 /><path class=m d=M582,486l-9-24M567,429l6,29 /><path d=M161,532l9-16-7,5-9,13z color=#901e34 /><path d=M598,535l8,2-10-13-7-6z color=#d8dc45 /><path d=M152,544l9-12-7,2-10,9z color=#ba2845 /><path class=m d=M144,543l-8-5 /><path d=M461,544l9-7-10-4-8,4z color=#8bffd5 /><path class=m d=M460,533l-9-7M460,533l9-7 /><path d=M589,518l7,6-10-17-6-13z color=#b3b739 /><path class=m d=M594,520l7,2 /><path d=M608,548l8-2-10-9-8-2z color=#fbff52 /><path class=m d=M612,547l-10-11M602,536l-10-15M616,546l8-5 /><path d=M529,174l10-32-12,25-12,91z color=#775a29 /><path d=M434,524l8,3-9-14-9-7z color=#7dc8dd /><path d=M232,272l13,82-12-92-14-82z color=#2d4e73 /><path class=m d=M245,354l11,48 /><path d=M170,516l9-25-7,14-9,16z color=#752232 /><path class=m d=M167,513l-7,4 /><path d=M252,463l11,21-10-31-12-48z color=#4f478d /><path class=m d=M272,502l-9-18 /><path d=M351,402l8-84-9,76-8,49z color=#223e4b /><path class=m d=M346,419l-8,28 /><path d=M557,330l4,68-6-78-3-90z color=#312f1a /><path class=m d=M561,398l6,34 /><path d=M539,142l5,52-7-60-10,33z color=#e18f35 /><path class=m d=M549,291l-5-97M544,194l-7-60M537,134l-11,27 /><path d=M512,385l13-91-14,83-11,57z color=#424415 /><path class=m d=M506,405l-12,35 /><path d=M424,506l9,7-9-17-9-17z color=#66a4b5 /><path class=m d=M431,509l8,4 /><path d=M189,427l5-78-4,69-7,43z color=#402842 /><path d=M298,546l9-6-8-5-10,4z color=#aa9aff /><path class=m d=M299,535l-9-7 /><path d=M443,537l9,0-10-10-8-3z color=#92eaff /><path d=M271,524l9,3-9-14-9-8z color=#6c5fd7 /><path d=M366,193l9-51-9,44-8,95z color=#336327 /><path class=m d=M354,325l8-88 /><path d=M405,407l8,41-9-51-8-75z color=#2d6c3a /><path class=m d=M406,410l8,34 /><path d=M358,303l9-97-9,89-8,82z color=#193c20 /><path class=m d=M350,377l-8,39M348,395l8-73 /><path d=M77,380l16,55-14-66-19-87z color=#6c1627 /><path class=m d=M91,446l-14-66M69,331l17,71M86,402l14,41 /><path d=M679,374l16-96-20,88-13,66z color=#472c14 /><path d=M489,523l9-19-11,8-9,14z color=#287f20 /><path d=M196,333l5-99-4,91-5,75z color=#312c57 /><path d=M262,505l9,8-9-19-10-20z color=#574dae /><path d=M548,212l3,89-5-98-5-54z color=#312510 /><path d=M480,537l9-14-11,3-8,11z color=#46a559 /><path d=M521,279l12-91-14,84-12,88z color=#47431e /><path class=m d=M507,360l-11,47 /><path d=M280,538l9,1-9-12-9-3z color=#8072fd /><path class=m d=M280,527l10,1 /><path d=M505,462l11-60-12,50-10,32z color=#335027 /><path class=m d=M486,502l8-18 /><path d=M453,548l8-4-9-7-9,0z color=#a5ffff /><path class=m d=M452,537l8-4 /><path d=M580,494l6,13-9-24-5-33z color=#8f922d /><path class=m d=M592,521l-9-20 /><path d=M203,220l7-66-6,60-4,96z color=#2f3754 /><path class=m d=M202,262l-4,77M198,334l4-91 /><path d=M688,263l16-84-19,77-16,94z color=#4d3420 /><path class=m d=M685,256l-19,86 /><path d=M211,147l10,16-9-23-7,67z color=#1b597d /><path class=m d=M212,140l-6,60 /><path d=M384,186l9,86-9-95-9-35z color=#70b057 /><path class=m d=M401,357l-8-85 /><path d=M343,472l8-52-9,42-8,28z color=#133e58 /><path d=M471,548l9-11-10,0-9,7z color=#72d7b1 /><path class=m d=M470,537l-10-4 /><path d=M65,262l19,87-17-97-18-75z color=#6e2030 /><path class=m d=M89,387l-15-81 /><path d=M498,504l9-32-11,22-9,18z color=#28641d /><path class=m d=M492,503l-11,6 /><path d=M325,528l9-18-9,7-9,13z color=#6a629c /><path d=M395,302l8,75-9-85-9-88z color=#29671e /><path class=m d=M407,407l-8-67M403,377l7,41 /><path d=M316,541l9-13-9,2-9,10z color=#7d72c9 /><path d=M289,550l9-4-9-7-9-1z color=#9383ff /><path d=M220,172l13,81-12-90-10-16z color=#2474a4 /><path class=m d=M245,344l-12-91M233,253l-12-90M221,163l-9-23M230,231l13,81 /><path d=M179,491l7-46-6,36-8,24z color=#5b232f /><path d=M415,479l9,17-10-28-8-39z color=#518391 /><path d=M242,394l12,48-11-58-13-82z color=#4c457a /><path d=M307,551l9-10-9-1-9,6z color=#9183fd /><path class=m d=M307,540l-8-5M310,540l9-11 /><path d=M334,510l9-28-9,18-9,17z color=#434f78 /><path class=m d=M330,508l-9,5M319,529l8-14 /><path d=M36,257l2-79,0,72,0,96z color=#4d101c /><path d=M570,439l5,34-8-44-3-67z color=#312d0b /><path d=M601,546l7,2-10-13-7-6z color=#bfdd5a /><path class=m d=M608,548l8-2 /><path d=M160,543l9-17-8,6-9,12z color=#8f1d34 /><path class=m d=M152,544l-8-1 /><path d=M375,142l9,35-10-42-8,51z color=#8fdf70 /><path class=m d=M393,272l-9-95M384,177l-10-42M374,135l-9,44M362,237l8-73M370,164l9-8M379,156l9,60 /><path d=M463,555l8-7-10-4-8,4z color=#a4ffff /><path d=M591,529l7,6-9-17-7-13z color=#9fb74a /><path d=M435,535l8,2-9-13-9-7z color=#68bee3 /><path d=M252,474l10,20-10-31-11-47z color=#463d8c /><path class=m d=M260,486l9,12 /><path d=M169,526l8-25-7,15-9,16z color=#721729 /><path class=m d=M156,544l9-15 /><path d=M231,282l13,82-12-92-14-83z color=#424d75 /><path class=m d=M249,398l-11-75 /><path d=M531,181l10-32-12,25-12,91z color=#776735 /><path class=m d=M523,220l-13,82M512,313l12-89 /><path d=M425,517l9,7-10-18-8-16z color=#559cbb /><path d=M559,341l4,67-6-78-3-90z color=#312f15 /><path d=M298,557l9-6-9-5-9,4z color=#9787ff /><path class=m d=M301,547l9-7 /><path d=M351,411l8-85-8,76-9,51z color=#183a49 /><path class=m d=M334,480l8-27 /><path d=M444,549l9-1-10-11-8-2z color=#7addff /><path class=m d=M439,536l-9-15M443,537l9,0 /><path d=M270,535l10,3-9-14-10-8z color=#8562c3 /><path d=M187,436l6-79-4,70-8,44z color=#4d2a39 /><path class=m d=M181,471l-6,14M175,492l8-30 /><path d=M514,394l13-92-15,83-10,58z color=#3a441b /><path d=M541,149l5,54-7-61-10,32z color=#dea74c /><path class=m d=M524,224l11-62M535,162l8,10M543,172l4,71 /><path d=M405,418l9,40-9-51-8-75z color=#396d5a /><path class=m d=M423,485l-9-27 /><path d=M490,534l9-20-10,9-9,14z color=#357f45 /><path d=M261,516l10,8-9-19-11-20z color=#6b4f9e /><path class=m d=M271,524l9,3 /><path d=M280,549l9,1-9-12-10-3z color=#9d75e6 /><path class=m d=M275,537l-9-17 /><path d=M367,199l8-50-9,44-8,95z color=#28641d /><path class=m d=M362,241l-9,80 /><path d=M481,548l9-14-10,3-9,11z color=#57a588 /><path class=m d=M480,537l-10,0 /><path d=M682,383l17-98-20,89-14,67z color=#472a0f /><path class=m d=M682,383l-17,58M665,441l-13,26M668,450l14-67 /><path d=M550,221l3,90-5-99-5-55z color=#312b16 /><path class=m d=M557,355l-5-88M552,286l4,73 /><path d=M359,310l8-97-9,90-8,82z color=#203d32 /><path d=M195,341l5-99-4,91-5,76z color=#2b2656 /><path class=m d=M184,452l7-43 /><path d=M454,559l9-4-10-7-9,1z color=#8bf7ff /><path class=m d=M449,548l-10-12 /><path d=M582,505l7,13-9-24-6-33z color=#7f923b /><path class=m d=M587,512l7,8 /><path d=M523,287l12-92-14,84-12,89z color=#474217 /><path class=m d=M508,389l11-81 /><path d=M507,472l11-61-13,51-9,32z color=#294e1f /><path d=M473,559l8-11-10,0-8,7z color=#88d7ed /><path class=m d=M474,548l8-12 /><path d=M325,538l9-17-9,7-9,13z color=#60579a /><path d=M343,482l8-53-8,43-9,28z color=#233d5a /><path class=m d=M327,515l9-20 /><path d=M499,514l10-32-11,22-9,19z color=#1f6218 /><path class=m d=M482,536l9-15 /><path d=M316,552l9-14-9,3-9,10z color=#7064c6 /><path class=m d=M316,541l-9-1 /><path d=M692,270l15-83-19,76-16,95z color=#49311e /><path class=m d=M671,381l16-88 /><path d=M385,195l8,87-9-96-9-37z color=#59ac44 /><path class=m d=M391,258l8,78 /><path d=M63,272l18,87-16-97-18-76z color=#6b1627 /><path class=m d=M69,286l18,79 /><path d=M202,227l6-66-5,59-4,97z color=#3a3555 /><path d=M210,154l10,18-9-25-7,67z color=#335882 /><path class=m d=M202,243l6-74M208,169l10-4M218,165l12,66 /><path d=M395,312l8,75-8-85-9-89z color=#206519 /><path d=M289,561l9-4-9-7-9-1z color=#b387ff /><path class=m d=M284,549l-9-12M291,551l10-4 /><path d=M416,490l8,16-9-27-8-39z color=#437c95 /><path class=m d=M430,521l-10-23M422,499l9,10 /><path d=M177,501l8-46-6,36-9,25z color=#581a26 /><path class=m d=M175,503l-8,10M165,529l9-20 /><path d=M219,180l14,82-13-90-10-18z color=#4272a8 /><path d=M241,405l12,48-11-59-13-82z color=#443d79 /><path class=m d=M263,484l-10-31M248,424l10,34 /><path d=M307,562l9-10-9-1-9,6z color=#8072fa /><path d=M334,521l9-29-9,18-9,18z color=#534c7a /><path d=M572,450l5,33-7-44-4-66z color=#2c2d0e /><path class=m d=M583,501l-8-34M573,461l7,24 /><path d=M464,566l9-7-10-4-9,4z color=#8af4ff /><path class=m d=M458,557l-9-9M465,556l9-8 /><path d=M594,540l7,6-10-17-7-13z color=#8ab95b /><path class=m d=M601,546l7,2 /><path d=M49,177l18,75-15-83-11,2z color=#b93953 /><path class=m d=M74,306l-16-91M58,215l-11-45M52,169l17,74 /><path d=M375,149l9,37-9-44-9,51z color=#7ae75e /><path d=M436,546l8,3-9-14-9-7z color=#4ab1df /><path d=M251,485l11,20-10-31-12-47z color=#563f7f /><path class=m d=M266,520l-10-25 /><path d=M168,537l8-25-7,14-9,17z color=#711729 /><path class=m d=M160,543l-8,1 /><path d=M426,528l9,7-10-18-8-16z color=#3c91b7 /><path class=m d=M435,535l8,2 /><path d=M298,569l9-7-9-5-9,4z color=#b78aff /><path class=m d=M293,559l-9-10 /><path d=M446,560l8-1-10-10-8-3z color=#58ceff /><path d=M230,292l14,82-13-92-14-84z color=#514a77 /><path d=M561,351l4,67-6-77-3-91z color=#312e10 /><path class=m d=M573,462l-8-44 /><path d=M723,269l-3,89-1-99,0-72z color=#312114 /><path d=M270,546l10,3-10-14-10-8z color=#a568ab /><path d=M351,420l9-86-9,77-9,51z color=#0e3547 /><path class=m d=M342,462l-8,18 /><path d=M533,188l10-31-12,24-12,91z color=#76723e /><path d=M186,445l5-80-4,71-7,45z color=#522730 /><path d=M406,429l8,39-9-50-8-75z color=#446e79 /><path class=m d=M410,443l8,29 /><path d=M516,402l13-93-15,85-10,58z color=#334321 /><path class=m d=M504,452l-11,22M494,484l10-32 /><path d=M492,545l9-20-11,9-9,14z color=#428069 /><path d=M260,527l10,8-9-19-10-20z color=#86548b /><path d=M279,561l10,0-9-12-10-3z color=#c37cca /><path class=m d=M282,552l9-1 /><path d=M483,559l9-14-11,3-8,11z color=#67a6b6 /><path d=M543,157l5,55-7-63-10,32z color=#dbbf62 /><path class=m d=M552,267l-7-82M545,185l-9-20M536,165l-13,55 /><path d=M38,178l11-1-8-6-3,79z color=#8e1d33 /><path class=m d=M38,346l0-96M38,250l3-79M41,171l11-2 /><path d=M455,570l9-4-10-7-8,1z color=#66e7ff /><path class=m d=M457,561l8-5 /><path d=M584,516l7,13-9-24-6-33z color=#6e9349 /><path d=M552,230l3,90-5-99-5-56z color=#312f1a /><path d=M367,206l9-49-9,42-9,96z color=#206519 /><path class=m d=M356,322l9-93 /><path d=M359,318l9-98-9,90-9,84z color=#263d43 /><path d=M509,482l11-62-13,52-9,32z color=#1e4c16 /><path class=m d=M502,488l-10,15M491,521l9-23 /><path d=M474,570l9-11-10,0-9,7z color=#71cbf2 /><path class=m d=M468,562l-10-5 /><path d=M194,349l4-100-3,92-5,77z color=#35274e /><path class=m d=M192,379l-5,51 /><path d=M325,549l9-18-9,7-9,14z color=#554d98 /><path d=M525,294l12-92-14,85-12,90z color=#474110 /><path d=M316,563l9-14-9,3-9,10z color=#6257c3 /><path d=M501,525l10-33-12,22-9,20z color=#296235 /><path class=m d=M490,534l-10,3 /><path d=M343,492l9-53-9,43-9,28z color=#333c5b /><path class=m d=M338,496l-8,12 /><path d=M288,572l10-3-9-8-10,0z color=#dd8fe5 /><path d=M60,282l19,87-16-97-19-77z color=#631424 /><path class=m d=M77,380l-17-98 /><path d=M396,322l8,75-9-85-8-90z color=#2a6637 /><path d=M385,204l9,88-9-97-9-38z color=#43a731 /><path class=m d=M399,340l-9-92 /><path d=M695,278l16-84-19,76-17,96z color=#492f1a /><path class=m d=M684,319l-18,72 /><path d=M417,501l8,16-9-27-8-39z color=#307492 /><path d=M201,234l6-65-5,58-5,98z color=#332e52 /><path class=m d=M197,325l-4,67 /><path d=M208,161l11,19-9-26-7,66z color=#4b5887 /><path class=m d=M206,187l-4,75 /><path d=M307,573l9-10-9-1-9,7z color=#9c74e2 /><path class=m d=M302,565l-9-6M312,562l9-12 /><path d=M176,512l7-48-6,37-8,25z color=#56121f /><path d=M241,416l11,47-11-58-13-82z color=#3c3578 /><path d=M574,461l6,33-8-44-4-67z color=#272d12 /><path d=M334,531l9-29-9,19-9,17z color=#4b4478 /><path class=m d=M325,538l-9,3M321,550l9-15 /><path d=M218,189l14,83-13-92-11-19z color=#6071ac /><path class=m d=M238,323l-13-92M225,231l-11-60M214,171l-8,16M232,272l13,82 /><path d=M465,578l9-8-10-4-9,4z color=#66e3ff /><path d=M437,557l9,3-10-14-9-7z color=#2da4db /><path d=M47,186l18,76-16-85-11,1z color=#971f37 /><path d=M251,496l10,20-10-31-12-47z color=#6b436f /><path class=m d=M261,516l10,8 /><path d=M707,187l8-8-11,0-16,84z color=#8a5d39 /><path class=m d=M704,179l-19,77M687,293l15-87M702,206l11-27 /><path d=M427,539l9,7-10-18-8-16z color=#2486b4 /><path d=M298,580l9-7-9-4-10,3z color=#e192e9 /><path class=m d=M302,571l10-9 /><path d=M447,571l8-1-9-10-9-3z color=#36bfff /><path class=m d=M448,562l9-1 /><path d=M376,157l9,38-10-46-8,50z color=#63ed49 /><path class=m d=M390,248l-10-72M380,176l-9-2M371,174l-9,67M365,229l9-61M374,168l9,15M383,183l8,75 /><path d=M564,362l3,67-6-78-3-91z color=#312d0b /><path class=m d=M563,371l4,58 /><path d=M269,558l10,3-9-15-10-8z color=#c66f93 /><path class=m d=M272,550l10,2 /><path d=M230,302l13,82-13-92-13-85z color=#494276 /><path class=m d=M234,315l12,73 /><path d=M407,440l8,39-9-50-8-75z color=#38687d /><path class=m d=M420,498l-9-39 /><path d=M279,572l9,0-9-11-10-3z color=#e983ae /><path d=M260,538l10,8-10-19-10-20z color=#a15977 /><path d=M493,556l9-20-10,9-9,14z color=#4f808d /><path d=M351,429l9-87-9,78-8,52z color=#103247 /><path class=m d=M336,495l9-33 /><path d=M484,570l9-14-10,3-9,11z color=#559cba /><path class=m d=M478,564l-10-2 /><path d=M185,455l5-81-4,71-7,46z color=#501f29 /><path class=m d=M174,509l8-36 /><path d=M535,195l10-30-12,23-12,91z color=#757032 /><path class=m d=M521,279l-14,81M519,308l12-92 /><path d=M518,411l13-94-15,85-11,60z color=#2a4321 /><path d=M457,582l8-4-10-8-8,1z color=#41d6ff /><path d=M587,527l7,13-10-24-5-32z color=#5e9449 /><path class=m d=M594,540l7,6 /><path d=M545,165l5,56-7-64-10,31z color=#d8d071 /><path class=m d=M531,216l11-45M542,171l6,34M548,205l4,81 /><path d=M36,185l11,1-9-8-2,79z color=#4d101c /><path class=m d=M36,257l2,89 /><path d=M475,581l9-11-10,0-9,8z color=#52bced /><path class=m d=M479,570l9-13 /><path d=M554,240l3,90-5-100-5-57z color=#312f15 /><path class=m d=M557,330l4,68 /><path d=M511,492l11-62-13,52-10,32z color=#174b13 /><path d=M325,561l9-19-9,7-9,14z color=#4b4296 /><path d=M316,574l9-13-9,2-9,10z color=#7859b0 /><path class=m d=M312,568l-10-3 /><path d=M288,584l10-4-10-8-9,0z color=#ff97c6 /><path class=m d=M293,576l9-5 /><path d=M502,536l10-34-11,23-9,20z color=#336251 /><path class=m d=M488,557l9-17 /><path d=M367,213l9-49-9,42-9,97z color=#2c6938 /><path class=m d=M358,303l-8,74 /><path d=M359,326l9-98-9,90-8,84z color=#1f3a45 /><path class=m d=M355,360l-9,59M342,453l9-51 /><path d=M193,357l4-101-3,93-5,78z color=#422944 /><path class=m d=M183,462l7-52 /><path d=M343,502l9-54-9,44-9,29z color=#3f395c /><path class=m d=M330,535l9-23 /><path d=M719,187l0,72-4-80-8,8z color=#f3a466 /><path class=m d=M720,358l-1-99M719,259l-4-80M715,179l-11,0 /><path d=M527,302l12-93-14,85-13,91z color=#404114 /><path class=m d=M518,340l-12,65 /><path d=M397,332l8,75-9-85-9-90z color=#356654 /><path class=m d=M414,458l-9-51M398,344l8,66 /><path d=M418,512l8,16-9-27-8-39z color=#1d6b90 /><path class=m d=M426,528l9,7 /><path d=M307,585l9-11-9-1-9,7z color=#c07bc6 /><path d=M386,213l9,89-10-98-9-40z color=#33a229 /><path class=m d=M395,302l8,75 /><path d=M240,427l12,47-11-58-14-83z color=#49366c /><path class=m d=M256,495l-10-44M249,459l11,27 /><path d=M576,472l6,33-8-44-4-66z color=#222d16 /><path class=m d=M580,494l7,18 /><path d=M699,285l16-83-20,76-16,96z color=#3e2611 /><path class=m d=M682,383l17-98 /><path d=M175,522l7-48-6,38-8,25z color=#581220 /><path class=m d=M168,537l-8,6 /><path d=M334,542l9-29-9,18-9,18z color=#423b76 /><path d=M467,589l8-8-10-3-8,4z color=#41d3ff /><path class=m d=M470,580l9-10 /><path d=M207,169l11,20-10-28-6,66z color=#5f578b /><path d=M200,242l6-66-5,58-5,99z color=#2e2953 /><path class=m d=M191,409l5-76 /><path d=M217,198l14,84-13-93-11-20z color=#786eaf /><path class=m d=M218,189l14,83 /><path d=M438,569l9,2-10-14-9-6z color=#329cdc /><path class=m d=M439,561l9,1 /><path d=M250,507l10,20-9-31-12-47z color=#81475f /><path d=M297,592l10-7-9-5-10,4z color=#ff9ac9 /><path d=M428,551l9,6-10-18-8-15z color=#2880b5 /><path d=M448,583l9-1-10-11-9-2z color=#3cb6ff /><path class=m d=M447,571l-10-14 /><path d=M44,195l19,77-16-86-11-1z color=#410d17 /><path class=m d=M60,282l-16-87M44,195l-8-10M36,185l0,72M38,188l13,20M51,208l18,78 /><path d=M269,569l10,3-10-14-10-8z color=#d4677e /><path d=M566,373l4,66-6-77-3-92z color=#2c2d0e /><path class=m d=M575,467l-7-61 /><path d=M711,194l8-7-12,0-15,83z color=#704b2e /><path d=M229,312l13,82-12-92-14-86z color=#413b75 /><path class=m d=M253,453l-11-59 /><path d=M376,164l9,40-9-47-9,49z color=#51f342 /><path d=M278,584l10,0-9-12-10-3z color=#f97b95 /><path class=m d=M283,578l10-2 /><path d=M259,550l10,8-9-20-11-19z color=#ad5366 /><path class=m d=M279,572l-10-14M262,543l10,7 /><path d=M495,567l9-20-11,9-9,14z color=#427991 /><path class=m d=M489,563l-11,1 /><path d=M408,451l8,39-9-50-8-75z color=#28617a /><path class=m d=M414,477l8,22 /><path d=M486,582l9-15-11,3-9,11z color=#3d90b6 /><path d=M458,594l9-5-10-7-9,1z color=#47ccff /><path class=m d=M457,582l-10-11M462,586l8-6 /><path d=M352,439l8-89-9,79-8,53z color=#1c3149 /><path d=M183,464l6-82-4,73-8,46z color=#4e1722 /><path class=m d=M181,478l-6,25 /><path d=M520,420l13-95-15,86-11,61z color=#22411a /><path class=m d=M500,498l10-39 /><path d=M477,593l9-11-11-1-8,8z color=#33aee7 /><path d=M537,202l10-29-12,22-12,92z color=#746d26 /><path d=M547,173l5,57-7-65-10,30z color=#d3c95a /><path class=m d=M535,195l-14,84 /><path d=M316,586l9-14-9,2-9,11z color=#955e9a /><path d=M325,572l10-19-10,8-9,13z color=#5c4487 /><path class=m d=M321,567l-9,1 /><path d=M556,250l3,91-5-101-5-59z color=#312e10 /><path class=m d=M565,418l-6-77 /><path d=M288,596l9-4-9-8-10,0z color=#ff8daa /><path class=m d=M288,584l-9-12 /><path d=M512,502l12-63-13,53-10,33z color=#1f4b28 /><path class=m d=M501,525l-11,9M497,540l9-26 /><path d=M504,547l10-34-12,23-9,20z color=#3d626c /><path d=M343,513l9-55-9,44-9,29z color=#38335b /><path class=m d=M334,531l-9,7 /><path d=M419,524l8,15-9-27-9-39z color=#206690 /><path class=m d=M437,557l-10-18 /><path d=M307,596l9-10-9-1-10,7z color=#e481ab /><path class=m d=M314,586l9-13 /><path d=M397,343l8,75-8-86-9-91z color=#406771 /><path d=M191,365l5-101-3,93-6,79z color=#4f2c3b /><path class=m d=M187,436l-6,35 /><path d=M368,220l9-48-10,41-8,97z color=#386c59 /><path d=M723,196l0,73-4-82-8,7z color=#412b1a /><path class=m d=M723,269l-3,89 /><path d=M360,334l9-99-10,91-8,85z color=#163644 /><path d=M579,484l5,32-8-44-4-66z color=#1c2d16 /><path class=m d=M594,540l-10-24 /><path d=M239,438l12,47-11-58-14-83z color=#5c395f /><path d=M529,309l12-92-14,85-13,92z color=#39411a /><path class=m d=M504,452l10-58 /><path d=M468,601l9-8-10-4-9,5z color=#47c9ff /><path class=m d=M467,589l-10-7 /><path d=M387,222l8,90-9-99-9-41z color=#43a156 /><path d=M335,553l9-29-10,18-9,19z color=#3a3375 /><path class=m d=M323,573l9-18 /><path d=M439,581l9,2-10-14-9-6z color=#599ae1 /><path d=M206,176l11,22-10-29-6,65z color=#584f8d /><path class=m d=M201,234l-4,91M196,333l5-99M201,234l6-65M207,169l11,20 /><path d=M198,249l7-65-5,58-5,99z color=#292453 /><path d=M249,519l11,19-10-31-12-46z color=#8a4251 /><path class=m d=M269,558l-9-20 /><path d=M217,207l13,85-13-94-11-22z color=#6d63af /><path d=M297,604l10-8-10-4-9,4z color=#ff90ad /><path class=m d=M297,592l-9-8M304,595l10-9 /><path d=M449,595l9-1-10-11-9-2z color=#6ab3ff /><path class=m d=M453,588l9-2 /><path d=M429,563l9,6-10-18-8-16z color=#497eb9 /><path class=m d=M431,555l8,6 /><path d=M268,581l10,3-9-15-10-8z color=#cf526b /><path class=m d=M274,577l9,1 /><path d=M568,383l4,67-6-77-3-93z color=#272d12 /><path class=m d=M569,412l4,49 /><path d=M278,596l10,0-10-12-10-3z color=#f46280 /><path d=M259,561l10,8-10-19-10-20z color=#a94257 /><path d=M228,323l13,82-12-93-14-87z color=#393373 /><path class=m d=M235,359l13,65 /><path d=M487,593l10-14-11,3-9,11z color=#2585b2 /><path d=M497,579l9-21-11,9-9,15z color=#2f708d /><path d=M409,462l8,39-9-50-9-75z color=#185a78 /><path d=M715,202l8-6-12-2-16,84z color=#664224 /><path class=m d=M719,199l-16,37M703,236l-19,83M699,285l16-83M715,202l8-6M723,196l0,73 /><path d=M459,606l9-5-10-7-9,1z color=#79c9ff /><path d=M377,172l9,41-10-49-9,49z color=#6efc8b /><path class=m d=M367,213l-9,90M386,213l9,89 /><path d=M182,474l5-83-4,73-7,48z color=#4c101c /><path class=m d=M173,526l7-42 /><path d=M478,605l9-12-10,0-9,8z color=#38a5e7 /><path class=m d=M477,593l-10-4M485,593l9-14 /><path d=M352,448l9-90-9,81-9,53z color=#29304a /><path class=m d=M347,465l-9,31M339,512l8-42 /><path d=M522,430l13-96-15,86-11,62z color=#194012 /><path class=m d=M514,451l-12,37 /><path d=M316,598l9-14-9,2-9,10z color=#b16384 /><path d=M287,608l10-4-9-8-10,0z color=#ff7192 /><path class=m d=M295,602l9-7 /><path d=M325,584l10-19-10,7-9,14z color=#724876 /><path d=M539,209l10-28-12,21-12,92z color=#736b1a /><path d=M506,558l10-35-12,24-9,20z color=#325d6f /><path class=m d=M500,557l-11,6M494,579l9-19 /><path d=M514,513l12-64-14,53-10,34z color=#274b3e /><path d=M558,260l3,91-5-101-5-60z color=#312d0b /><path d=M549,181l5,59-7-67-10,29z color=#cfc344 /><path class=m d=M559,341l-5-101M554,240l-7-67M547,173l-12,22M554,240l3,90 /><path d=M420,535l8,16-9-27-9-39z color=#3a6594 /><path d=M307,608l9-10-9-2-10,8z color=#f27892 /><path class=m d=M307,596l-10-4 /><path d=M344,524l9-57-10,46-9,29z color=#322d5a /><path class=m d=M332,555l9-27 /><path d=M398,354l8,75-9-86-9-92z color=#356174 /><path class=m d=M411,459l-9-67M402,386l8,57 /><path d=M581,496l6,31-8-43-4-66z color=#3f7a30 /><path class=m d=M587,527l7,13 /><path d=M469,613l9-8-10-4-9,5z color=#77c5ff /><path class=m d=M476,604l9-11 /><path d=M239,449l12,47-12-58-14-83z color=#6e3d51 /><path class=m d=M251,496l10,20 /><path d=M190,374l5-102-4,93-5,80z color=#552932 /><path class=m d=M182,473l6-63 /><path d=M335,565l9-31-9,19-10,19z color=#473469 /><path class=m d=M330,563l-9,4 /><path d=M360,342l9-99-9,91-9,86z color=#0d3243 /><path class=m d=M351,420l-9,42M345,462l8-61 /><path d=M368,228l9-48-9,40-9,98z color=#446f7a /><path class=m d=M351,402l8-84 /><path d=M440,593l9,2-10-14-9-7z color=#8197e6 /><path class=m d=M444,588l9,0 /><path d=M387,232l9,90-9-100-10-42z color=#529e82 /><path class=m d=M405,407l-9-85 /><path d=M531,317l13-93-15,85-13,93z color=#314220 /><path class=m d=M516,402l-12,50 /><path d=M249,530l10,20-10-31-12-46z color=#873445 /><path class=m d=M252,526l10,17 /><path d=M450,607l9-1-10-11-9-2z color=#97b1ff /><path d=M297,616l10-8-10-4-10,4z color=#ff7495 /><path d=M430,574l9,7-10-18-8-16z color=#6a7cbd /><path class=m d=M445,594l-10-16 /><path d=M268,593l10,3-10-15-10-8z color=#ca3c59 /><path d=M205,184l12,23-11-31-6,66z color=#50488f /><path class=m d=M206,176l-5,58 /><path d=M216,216l14,86-13-95-12-23z color=#6258ae /><path class=m d=M242,394l-12-92M230,302l-13-95M217,207l-11-31M220,231l14,84 /><path d=M197,256l7-64-6,57-4,100z color=#33264c /><path class=m d=M196,299l-4,80M190,410l5-84 /><path d=M570,395l4,66-6-78-3-93z color=#222d16 /><path d=M278,608l9,0-9-12-10-3z color=#ee496a /><path class=m d=M285,605l10-3 /><path d=M258,573l10,8-9-20-11-19z color=#a53048 /><path class=m d=M273,595l-10-18M264,571l10,6 /><path d=M489,605l9-15-11,3-9,12z color=#287eb1 /><path d=M498,590l10-20-11,9-10,14z color=#1c678a /><path class=m d=M487,593l-10,0 /><path d=M409,473l9,39-9-50-9-75z color=#1a5578 /><path class=m d=M427,539l-9-27M418,512l8,16 /><path d=M227,333l14,83-13-93-14-88z color=#473468 /><path class=m d=M246,451l-12-76 /><path d=M460,618l9-5-10-7-9,1z color=#aac6ff /><path class=m d=M455,606l-10-12M467,611l9-7 /><path d=M480,617l9-12-11,0-9,8z color=#60a2eb /><path d=M377,180l10,42-10-50-9,48z color=#8affd5 /><path class=m d=M396,322l-9-100M387,222l-10-50M377,172l-10,41M359,318l9-98M368,220l9-48M377,172l9,41 /><path d=M181,484l5-84-4,74-7,48z color=#470f1a /><path class=m d=M175,522l-7,15 /><path d=M287,620l10-4-10-8-9,0z color=#ff567a /><path class=m d=M282,608l-9-13 /><path d=M316,610l9-15-9,3-9,10z color=#bc5c70 /><path d=M352,458l9-91-9,81-9,54z color=#332f4b /><path d=M325,595l10-19-10,8-9,14z color=#884c65 /><path class=m d=M316,598l-9-2 /><path d=M524,439l13-97-15,88-11,62z color=#133e0f /><path class=m d=M506,514l11-48 /><path d=M508,570l10-36-12,24-9,21z color=#23566c /><path d=M516,523l12-65-14,55-10,34z color=#2e4b53 /><path class=m d=M503,560l10-31 /><path d=M421,547l8,16-9-28-9-38z color=#546397 /><path class=m d=M435,578l-10-23M422,542l9,13 /><path d=M306,621l10-11-9-2-10,8z color=#ec607c /><path d=M561,270l3,92-6-102-5-61z color=#2c2d0e /><path class=m d=M568,406l-6-90M560,286l3,85 /><path d=M541,217l10-27-12,19-12,93z color=#686a21 /><path class=m d=M533,256l-15,84M514,394l13-92 /><path d=M551,190l5,60-7-69-10,28z color=#cbbc2f /><path class=m d=M527,302l12-93M539,209l10-28M549,181l5,59 /><path d=M344,534l9-57-9,47-9,29z color=#2c2758 /><path d=M471,626l9-9-11-4-9,5z color=#a7c2ff /><path class=m d=M465,616l-10-10 /><path d=M399,365l8,75-9-86-9-93z color=#255a72 /><path d=M238,461l12,46-11-58-14-82z color=#763945 /><path class=m d=M260,538l-10-31 /><path d=M335,576l9-31-9,20-10,19z color=#58375c /><path d=M441,605l9,2-10-14-9-6z color=#a093ea /><path d=M189,382l4-102-3,94-5,81z color=#52202a /><path d=M360,350l10-100-10,92-9,87z color=#0f2f43 /><path d=M451,619l9-1-10-11-9-2z color=#bbabff /><path class=m d=M458,615l9-4 /><path d=M297,628l9-7-9-5-10,4z color=#ff587d /><path class=m d=M292,618l-10-10 /><path d=M248,542l11,19-10-31-13-45z color=#842639 /><path class=m d=M263,577l-10-25 /><path d=M388,241l9,91-10-100-9-43z color=#609cab /><path class=m d=M390,257l8,87 /><path d=M431,587l9,6-10-19-9-15z color=#8378c1 /><path class=m d=M435,584l9,4 /><path d=M369,235l9-46-10,39-9,98z color=#396a7f /><path class=m d=M364,277l-9,83 /><path d=M533,325l13-93-15,85-13,94z color=#294120 /><path class=m d=M510,459l11-69 /><path d=M267,605l11,3-10-15-11-7z color=#c62a49 /><path class=m d=M275,604l10,1 /><path d=M277,621l10-1-9-12-11-3z color=#e93458 /><path d=M572,406l4,66-6-77-3-94z color=#1c2d16 /><path class=m d=M584,516l-8-44M575,453l5,41 /><path d=M257,586l11,7-10-20-11-19z color=#a2213b /><path d=M215,225l14,87-13-96-12-24z color=#574dae /><path d=M491,618l9-16-11,3-9,12z color=#4d83bf /><path d=M204,192l12,24-11-32-7,65z color=#484090 /><path class=m d=M195,326l5-91M200,235l8-43M208,192l12,39 /><path d=M500,602l9-21-11,9-9,15z color=#216994 /><path d=M462,631l9-5-11-8-9,1z color=#d1c0ff /><path d=M196,264l7-64-6,56-4,101z color=#412943 /><path d=M410,485l9,39-10-51-8-74z color=#30547b /><path d=M226,344l14,83-13-94-14-88z color=#58375b /><path class=m d=M237,404l12,55 /><path d=M481,630l10-12-11-1-9,9z color=#8fa7fb /><path class=m d=M486,624l-11-3M475,621l-10-5M491,618l9-16 /><path d=M287,633l10-5-10-8-10,1z color=#ff3f66 /><path d=M316,622l9-15-9,3-10,11z color=#b7485f /><path d=M325,607l10-19-10,7-9,15z color=#914656 /><path d=M378,189l9,43-10-52-9,48z color=#a5ffff /><path d=M353,467l9-91-10,82-9,55z color=#2e2a4a /><path class=m d=M343,513l-9,18M341,528l9-49 /><path d=M509,581l11-36-12,25-10,20z color=#175775 /><path class=m d=M509,581l-11,9M498,590l-11,3M500,602l9-21 /><path d=M306,633l10-11-10-1-9,7z color=#e54767 /><path class=m d=M302,625l-10-7M306,621l10-11 /><path d=M421,559l9,15-9-27-9-38z color=#69609a /><path d=M526,449l13-98-15,88-12,63z color=#1a3f22 /><path class=m d=M512,502l-11,23 /><path d=M518,534l12-66-14,55-10,35z color=#264755 /><path class=m d=M511,541l-11,16 /><path d=M472,638l9-8-10-4-9,5z color=#d5c5ff /><path class=m d=M481,630l10-12 /><path d=M563,280l3,93-5-103-5-63z color=#272d12 /><path d=M344,545l9-57-9,46-9,31z color=#362850 /><path class=m d=M339,550l-9,13 /><path d=M237,473l12,46-11-58-14-83z color=#732d3b /><path d=M399,376l9,75-9-86-9-93z color=#165370 /><path class=m d=M405,429l9,48 /><path d=M442,617l9,2-10-14-9-6z color=#9184e8 /><path class=m d=M449,616l9-1 /><path d=M553,199l5,61-7-70-10,27z color=#b6b939 /><path class=m d=M562,316l-6-87M556,229l-10-26M546,203l-13,53 /><path d=M335,588l9-31-9,19-10,19z color=#6a3a4e /><path class=m d=M325,595l-9,3M316,610l9-15 /><path d=M544,224l9-25-12,18-12,92z color=#5b692a /><path d=M453,632l9-1-11-12-9-2z color=#a99aff /><path d=M296,641l10-8-9-5-10,5z color=#ff4168 /><path class=m d=M297,628l9-7 /><path d=M247,554l11,19-10-31-13-45z color=#811a2f /><path class=m d=M253,558l11,13 /><path d=M432,599l9,6-10-18-9-16z color=#776cbf /><path d=M267,618l10,3-10-16-10-7z color=#d32e4e /><path d=M187,391l5-103-3,94-6,82z color=#501723 /><path class=m d=M186,424l-5,54M180,484l6-74 /><path d=M388,251l9,92-9-102-9-44z color=#4e8fac /><path class=m d=M402,392l-9-94 /><path d=M361,358l9-100-10,92-8,89z color=#1b2e44 /><path class=m d=M347,470l9-71 /><path d=M277,633l10,0-10-12-10-3z color=#f3385d /><path d=M369,243l10-46-10,38-9,99z color=#29637d /><path class=m d=M353,401l9-90 /><path d=M535,334l13-94-15,85-13,95z color=#214019 /><path d=M257,598l10,7-10-19-11-19z color=#b12541 /><path class=m d=M267,618l-10-20M254,590l11,10M265,600l10,4 /><path d=M575,418l4,66-7-78-2-94z color=#172c11 /><path d=M463,643l9-5-10-7-9,1z color=#c3b2ff /><path class=m d=M472,638l9-8 /><path d=M411,497l9,38-10-50-8-75z color=#46527e /><path class=m d=M425,555l-10-39 /><path d=M214,235l14,88-13-98-12-25z color=#6b4f9e /><path class=m d=M234,375l-13-95M221,275l14,84 /><path d=M225,355l14,83-13-94-14-89z color=#693a4e /><path d=M203,200l12,25-11-33-7,64z color=#5b4386 /><path class=m d=M221,280l-12-67M209,213l-8,11M201,224l-5,75 /><path d=M195,272l7-63-6,55-5,101z color=#4f2c3b /><path class=m d=M191,365l-4,71M188,410l5-91 /><path d=M286,645l10-4-9-8-10,0z color=#ff436c /><path class=m d=M277,633l-10-15M277,633l10,0M287,633l10-5 /><path d=M316,634l9-14-9,2-10,11z color=#b2354e /><path class=m d=M311,628l-9-3 /><path d=M325,620l10-20-10,7-9,15z color=#8d3748 /><path d=M306,646l10-12-10-1-10,8z color=#df3355 /><path d=M422,571l9,16-10-28-8-38z color=#5f5699 /><path class=m d=M426,573l9,11 /><path d=M353,477l9-92-9,82-9,57z color=#292549 /><path d=M379,197l9,44-10-52-9,46z color=#89f6ff /><path class=m d=M393,298l-10-79M383,219l-10-7M373,212l-9,65M362,311l9-85M371,226l9-24M380,202l10,55 /><path d=M520,545l12-67-14,56-10,36z color=#1e485b /><path class=m d=M509,581l11-36 /><path d=M528,458l13-99-15,90-12,64z color=#213f34 /><path class=m d=M513,529l11-57 /><path d=M236,485l13,45-12-57-14-83z color=#702030 /><path class=m d=M253,552l-11-44M240,487l12,39 /><path d=M565,290l3,93-5-103-5-64z color=#222d16 /><path class=m d=M565,332l4,80 /><path d=M444,630l9,2-11-15-9-5z color=#8275e6 /><path d=M344,557l9-59-9,47-9,31z color=#432a45 /><path class=m d=M325,595l10-19 /><path d=M400,387l9,75-10-86-9-94z color=#194f70 /><path class=m d=M418,512l-9-50 /><path d=M335,600l9-32-9,20-10,19z color=#703642 /><path d=M454,645l9-2-10-11-9-2z color=#998aff /><path class=m d=M463,643l-10-11M463,643l9-5 /><path d=M296,654l10-8-10-5-10,4z color=#ff436b /><path class=m d=M286,645l-9-12 /><path d=M433,612l9,5-10-18-9-15z color=#6b60be /><path class=m d=M453,632l-11-15M440,613l9,3 /><path d=M246,567l11,19-10-32-12-45z color=#8d1d33 /><path class=m d=M257,598l-11-31 /><path d=M556,207l5,63-8-71-9,25z color=#9eb649 /><path class=m d=M555,217l5,69 /><path d=M546,232l10-25-12,17-13,93z color=#4e6834 /><path class=m d=M531,317l-15,85M521,390l13-93M534,297l13-77M547,220l8-3 /><path d=M389,261l9,93-10-103-9-46z color=#3682a4 /><path class=m d=M393,303l9,83 /><path d=M186,400l5-104-4,95-5,83z color=#4e101c /><path d=M577,429l4,67-6-78-3-95z color=#112b0c /><path class=m d=M581,496l6,31 /><path d=M361,367l9-100-9,91-9,90z color=#272d45 /><path class=m d=M356,404l-9,61 /><path d=M412,509l9,38-10-50-9-75z color=#575080 /><path class=m d=M413,510l9,32 /><path d=M537,342l13-94-15,86-13,96z color=#193e12 /><path class=m d=M528,382l-14,69M517,466l12-79 /><path d=M370,250l9-45-10,38-9,99z color=#185c7b /><path class=m d=M360,342l-9,78 /><path d=M213,245l14,88-13-98-12-26z color=#87558b /><path d=M225,367l14,82-14-94-15-90z color=#703642 /><path class=m d=M250,507l-11-58M239,449l12,47 /><path d=M316,647l9-15-9,2-10,12z color=#ad2540 /><path d=M202,209l12,26-11-35-7,64z color=#744978 /><path class=m d=M193,319l6-82M199,237l9-19M208,218l13,57 /><path d=M325,632l10-19-10,7-9,14z color=#89283b /><path class=m d=M321,627l-10,1 /><path d=M193,280l7-63-5,55-5,102z color=#562933 /><path d=M306,659l10-12-10-1-10,8z color=#dd3254 /><path class=m d=M296,654l-10-9M299,655l9-9M308,646l10-12 /><path d=M423,584l9,15-10-28-8-37z color=#554c98 /><path class=m d=M442,617l-10-18 /><path d=M353,488l9-94-9,83-9,57z color=#242048 /><path d=M445,643l9,2-10-15-9-6z color=#7366e5 /><path class=m d=M454,645l9-2 /><path d=M235,497l13,45-12-57-14-83z color=#6d1628 /><path d=M379,205l9,46-9-54-10,46z color=#61e1ff /><path d=M530,468l13-100-15,90-12,65z color=#273f46 /><path d=M567,301l3,94-5-105-5-64z color=#1c2d16 /><path class=m d=M576,472l-6-77 /><path d=M344,568l10-59-10,48-9,31z color=#502c3b /><path class=m d=M335,588l-10,7 /><path d=M335,613l10-33-10,20-10,20z color=#6d2a38 /><path class=m d=M318,634l10-16 /><path d=M401,399l8,74-9-86-9-94z color=#2d4e72 /><path class=m d=M409,473l9,39 /><path d=M435,624l9,6-11-18-9-15z color=#5e53bd /><path d=M558,216l5,64-7-73-10,25z color=#87b459 /><path d=M548,240l10-24-12,16-13,93z color=#416733 /><path class=m d=M546,232l-15,85 /><path d=M390,272l9,93-10-104-9-47z color=#1f759d /><path d=M413,521l8,38-9-50-9-74z color=#4f487f /><path d=M184,409l5-104-3,95-5,84z color=#4e101c /><path class=m d=M181,484l-6,38 /><path d=M362,376l9-101-10,92-9,91z color=#302c46 /><path class=m d=M350,479l9-82 /><path d=M539,351l14-94-16,85-13,97z color=#133d0f /><path d=M316,660l9-15-9,2-10,12z color=#aa243f /><path class=m d=M306,659l-10-5 /><path d=M370,258l10-44-10,36-10,100z color=#1b577b /><path class=m d=M356,399l9-94 /><path d=M224,378l14,83-13-94-16-91z color=#6e2b38 /><path d=M212,255l14,89-13-99-13-28z color=#a35a79 /><path class=m d=M223,320l14,84 /><path d=M325,645l10-20-10,7-9,15z color=#851b30 /><path d=M424,597l9,15-10-28-9-37z color=#4b4296 /><path class=m d=M431,605l9,8 /><path d=M200,217l13,28-11-36-7,63z color=#8f4f6a /><path class=m d=M195,272l-4,93 /><path d=M192,288l7-62-6,54-4,102z color=#55212c /><path class=m d=M186,410l5-98 /><path d=M235,509l12,45-12-57-14-83z color=#73172a /><path class=m d=M246,567l-11-58M228,462l13,64M241,526l12,32 /><path d=M353,498l10-95-10,85-9,57z color=#2c2141 /><path class=m d=M349,517l-10,33M335,576l9-31 /><path d=M335,625l10-33-10,21-10,19z color=#6a1f2e /><path class=m d=M330,622l-9,5 /><path d=M436,638l9,5-10-19-10-14z color=#7556ac /><path class=m d=M445,643l9,2 /><path d=M345,580l9-60-10,48-9,32z color=#552932 /><path class=m d=M328,618l9-23 /><path d=M402,410l8,75-9-86-9-95z color=#414c75 /><path class=m d=M415,516l-9-68 /><path d=M570,312l2,94-5-105-4-66z color=#172c11 /><path class=m d=M571,380l4,73 /><path d=M532,478l14-101-16,91-12,66z color=#213d4a /><path class=m d=M539,429l-15,72M524,501l-13,40M520,545l12-67 /><path d=M380,214l9,47-10-56-9,45z color=#3accff /><path class=m d=M370,250l-10,92M365,305l10-73M375,232l9,1M384,233l9,70 /><path d=M560,226l5,64-7-74-10,24z color=#70b057 /><path class=m d=M570,395l-5-105M565,290l-7-74M558,216l-12,16M562,254l3,78 /><path d=M414,534l8,37-9-50-9-74z color=#473f7e /><path class=m d=M432,599l-10-28M418,547l8,26 /><path d=M550,248l10-22-12,14-13,94z color=#346427 /><path class=m d=M529,387l13-95M542,292l12-59M554,233l8,21 /><path d=M390,282l9,94-9-104-10-49z color=#226c99 /><path class=m d=M409,462l-10-86M397,350l8,79 /><path d=M326,658l9-20-10,7-9,15z color=#851b30 /><path class=m d=M316,660l-10-1 /><path d=M223,390l14,83-13-95-16-92z color=#6b1f2e /><path class=m d=M242,508l-12-76 /><path d=M362,385l9-102-9,93-9,91z color=#2b2746 /><path class=m d=M353,467l-10,46 /><path d=M541,359l14-94-16,86-13,98z color=#1a3e21 /><path class=m d=M526,449l-14,53M524,472l13-90 /><path d=M425,610l10,14-11-27-9-37z color=#5c4488 /><path class=m d=M440,640l-10-23 /><path d=M210,265l15,90-13-100-13-29z color=#af5568 /><path class=m d=M239,449l-14-94 /><path d=M370,267l10-44-10,35-9,100z color=#31557d /><path d=M199,226l13,29-12-38-7,63z color=#9e4c5e /><path class=m d=M225,355l-13-100M212,255l-12-38M200,217l-5,55M191,312l7-73M198,239l11,6M209,245l14,75 /><path d=M191,296l7-61-6,53-5,103z color=#551925 /><path class=m d=M190,340l-4,84 /><path d=M335,638l10-34-10,21-10,20z color=#671525 /><path class=m d=M321,659l9-18 /><path d=M402,422l9,75-9-87-10-95z color=#514a76 /><path d=M345,592l9-61-9,49-10,33z color=#53202b /><path d=M354,509l9-96-10,85-9,59z color=#372339 /><path d=M572,323l3,95-5-106-5-67z color=#112b0c /><path class=m d=M579,463l-6-92 /><path d=M380,223l10,49-10-58-10,44z color=#3ebdff /><path class=m d=M399,376l-9-104M390,272l-10-58M380,214l-10,36 /><path d=M414,547l9,37-9-50-9-74z color=#3e377d /><path d=M563,235l4,66-7-75-10,22z color=#58aa43 /><path d=M391,293l9,94-10-105-9-50z color=#3c6898 /><path d=M553,257l10-22-13,13-13,94z color=#27621c /><path class=m d=M543,296l-15,86 /><path d=M222,402l14,83-13-95-16-93z color=#681526 /><path class=m d=M226,414l14,73 /><path d=M426,623l10,15-11-28-9-37z color=#764a7a /><path class=m d=M436,638l9,5 /><path d=M362,394l10-102-10,93-9,92z color=#272345 /><path d=M209,276l16,91-15-102-12-30z color=#ac4359 /><path class=m d=M225,367l14,82 /><path d=M543,368l14-94-16,85-13,99z color=#203e33 /><path d=M371,275l10-43-11,35-9,100z color=#46537e /><path class=m d=M366,317l-10,87M359,397l9-98 /><path d=M335,651l10-34-10,21-9,20z color=#671525 /><path class=m d=M326,658l-10,2 /><path d=M198,235l12,30-11-39-7,62z color=#a23f53 /><path d=M403,435l9,74-10-87-9-96z color=#494275 /><path class=m d=M405,444l8,66 /><path d=M345,604l10-62-10,50-10,33z color=#501723 /><path class=m d=M340,609l-10,13M330,641l10-26 /><path d=M189,305l8-61-6,52-5,104z color=#55111f /><path d=M354,520l10-98-10,87-10,59z color=#422431 /><path class=m d=M344,568l-9,20M337,595l10-39 /><path d=M575,334l2,95-5-106-5-69z color=#0d2a0a /><path class=m d=M577,429l4,67 /><path d=M415,560l9,37-10-50-8-74z color=#4d3871 /><path class=m d=M430,617l-10-38M422,584l9,21 /><path d=M381,232l9,50-10-59-10,44z color=#69b4ff /><path class=m d=M368,299l10-58M378,241l10,26M388,267l9,83 /><path d=M565,245l5,67-7-77-10,22z color=#42a430 /><path class=m d=M573,371l-6-92M567,279l-9-33M558,246l-15,50M568,293l3,87 /><path d=M392,304l9,95-10-106-10-51z color=#556498 /><path class=m d=M406,448l-10-96M401,399l8,74 /><path d=M555,265l10-20-12,12-14,94z color=#1e6018 /><path class=m d=M537,382l14-95M551,287l11-39M562,248l6,45 /><path d=M221,414l14,83-13-95-16-94z color=#631424 /><path class=m d=M235,509l-14-95 /><path d=M363,403l9-102-10,93-9,94z color=#221e45 /><path class=m d=M344,545l9-57 /><path d=M208,286l16,92-15-102-12-32z color=#a9324a /><path class=m d=M230,432l-14-99 /><path d=M546,377l14-94-17,85-13,100z color=#22373c /><path class=m d=M532,478l14-101 /><path d=M371,283l10-41-10,33-9,101z color=#564f7f /><path d=M404,447l9,74-10-86-9-97z color=#413a74 /><path class=m d=M422,571l-9-50 /><path d=M345,617l10-64-10,51-10,34z color=#4e101c /><path d=M197,244l12,32-11-41-7,61z color=#a63148 /><path class=m d=M216,333l-13-73M203,260l-9,6M194,266l-4,74M209,276l16,91 /><path d=M354,531l10-99-10,88-9,60z color=#462229 /><path d=M188,313l7-60-6,52-5,104z color=#55111f /><path class=m d=M184,409l-3,75 /><path d=M416,573l9,37-10-50-9-74z color=#603c63 /><path d=M381,242l10,51-10-61-10,43z color=#92abff /><path class=m d=M396,352l-10-85M386,267l-10-13M376,254l-10,63 /><path d=M567,254l5,69-7-78-10,20z color=#32a028 /><path d=M392,315l10,95-10-106-10-53z color=#675f98 /><path d=M557,274l10-20-12,11-14,94z color=#286034 /><path class=m d=M541,359l-15,90 /><path d=M207,297l16,93-15-104-13-33z color=#a7233d /><path d=M363,413l10-103-10,93-10,95z color=#2a1f3e /><path class=m d=M358,451l-9,66 /><path d=M405,460l9,74-10-87-9-97z color=#393273 /><path class=m d=M409,491l9,56 /><path d=M346,629l9-64-10,52-10,34z color=#51101d /><path class=m d=M335,651l-9,7 /><path d=M372,292l10-41-11,32-9,102z color=#4d467c /><path class=m d=M362,385l-9,82 /><path d=M195,253l13,33-11-42-8,61z color=#ab243e /><path class=m d=M184,409l5-104M189,305l8-61M197,244l12,32 /><path d=M355,542l9-99-10,88-9,61z color=#441a23 /><path class=m d=M340,615l10-48 /><path d=M417,587l9,36-10-50-9-74z color=#774258 /><path class=m d=M426,623l10,15 /><path d=M382,251l10,53-11-62-10,41z color=#afa1ff /><path class=m d=M392,304l9,95 /><path d=M570,265l5,69-8-80-10,20z color=#1a3f22 /><path class=m d=M575,334l2,95 /><path d=M393,326l9,96-10-107-9-54z color=#5c5393 /><path d=M560,283l10-18-13,9-14,94z color=#305c4c /><path class=m d=M570,265l-13,9M557,274l-16,85M546,377l14-94M560,283l10-18M570,265l5,69 /><path d=M206,308l16,94-15-105-13-35z color=#3a0c15 /><path class=m d=M221,414l-15-106M197,274l14,50M211,324l15,90 /><path d=M364,422l10-103-11,94-9,96z color=#342136 /><path class=m d=M347,556l9-68 /><path d=M406,473l8,74-9-87-10-98z color=#463468 /><path class=m d=M420,579l-10-69 /><path d=M372,301l11-40-11,31-10,102z color=#443d7a /><path class=m d=M353,488l9-94 /><path d=M355,553l10-100-10,89-10,62z color=#42131d /><path class=m d=M350,573l-10,36 /><path d=M194,262l13,35-12-44-7,60z color=#380b14 /><path class=m d=M206,308l-12-46M194,262l-6,51M188,313l-4,96 /><path d=M383,261l9,54-10-64-10,41z color=#9a8cf7 /><path class=m d=M372,292l-10,93M362,394l10-102M372,292l10-41M382,251l10,53 /><path d=M394,338l9,97-10-109-10-55z color=#50488f /><path class=m d=M413,521l-10-86M396,354l9,90 /><path d=M406,486l9,74-9-87-10-99z color=#58375b /><path class=m d=M413,538l9,46 /><path d=M364,432l10-103-10,93-10,98z color=#3f232f /><path class=m d=M354,520l-10,48 /><path d=M355,565l10-101-10,89-10,64z color=#410d17 /><path class=m d=M343,635l10-57 /><path d=M373,310l10-39-11,30-9,102z color=#3b3477 /><path d=M383,271l10,55-10-65-11,40z color=#8678ee /><path class=m d=M403,435l-10-109M393,326l-10-65M383,261l-11,31 /><path d=M395,350l9,97-10-109-10-57z color=#463e8c /><path d=M407,499l9,74-10-87-9-99z color=#693a4e /><path d=M364,443l11-104-11,93-10,99z color=#432028 /><path class=m d=M350,567l9-80 /><path d=M356,577l10-103-11,91-9,64z color=#440e19 /><path class=m d=M346,629l-11,22 /><path d=M374,319l10-38-11,29-10,103z color=#48356b /><path class=m d=M368,362l-10,89M356,488l10-98 /><path d=M395,362l10,98-10-110-10-59z color=#553e7d /><path class=m d=M410,510l-10-98M400,405l9,86 /><path d=M384,281l10,57-11-67-10,39z color=#7366e5 /><path class=m d=M366,390l10-87M376,303l10-15M386,288l10,66 /><path d=M408,513l9,74-10-88-9-100z color=#743845 /><path class=m d=M417,587l9,36 /><path d=M365,453l10-104-11,94-9,99z color=#411922 /><path d=M374,329l11-38-11,28-10,103z color=#59385c /><path d=M396,374l10,99-11-111-10-60z color=#68416c /><path d=M385,291l10,59-11-69-10,38z color=#8a66ca /><path class=m d=M400,412l-10-91M390,321l-11-21M379,300l-11,62 /><path d=M365,464l11-105-11,94-10,100z color=#40121c /><path class=m d=M360,504l-10,69M353,578l10-91 /><path d=M375,339l10-37-11,27-10,103z color=#6a3b4e /><path class=m d=M364,432l-10,88M359,487l10-101 /><path d=M397,387l9,99-10-112-10-61z color=#7b445b /><path class=m d=M404,458l9,80 /><path d=M385,302l10,60-10-71-11,38z color=#a769ad /><path class=m d=M369,386l11-70M380,316l10,11M390,327l10,78 /><path d=M366,474l10-105-11,95-10,101z color=#3e0d17 /><path d=M375,349l11-36-11,26-11,104z color=#703642 /><path d=M398,399l9,100-10-112-10-63z color=#823f4d /><path class=m d=M417,587l-10-88 /><path d=M386,313l10,61-11-72-10,37z color=#c46d91 /><path class=m d=M375,339l-11,93 /><path d=M366,486l11-106-11,94-10,103z color=#3a0c15 /><path class=m d=M366,486l-10,91M356,577l-10,52 /><path d=M376,359l11-35-12,25-10,104z color=#6c2a38 /><path class=m d=M363,487l10-104 /><path d=M399,413l9,100-10-114-11-63z color=#7c3040 /><path class=m d=M408,513l9,74 /><path d=M387,324l10,63-11-74-11,36z color=#cd6379 /><path class=m d=M407,499l-10-112M397,387l-11-74M386,313l-11,26M373,383l11-53M384,330l10,38M394,368l10,90 /><path d=M376,369l11-33-11,23-11,105z color=#691e2d /><path class=m d=M370,412l-10,92 /><path d=M387,336l11,63-11-75-11,35z color=#c44c65 /><path d=M377,380l11-33-12,22-10,105z color=#5e1322 /><path class=m d=M366,486l11-106 /><path d=M388,347l11,66-12-77-11,33z color=#45141e /><path class=m d=M393,380l-11-27M382,353l-12,59M377,380l11-33M388,347l11,66M399,413l9,100 /></g>
<path d="M0.9 39.4L91.3 88.3M91.3 88.3L188.8 42.2M91.3 88.3L91.6 180.6M9.8 120.4L91.6 180.6M91.6 180.6L179.6 123.9M0.9 39.4L9.8 120.4M188.8 42.2L179.6 123.9" stroke="#666" stroke-width="0.6" fill="none"/>
<path d="M89.7 179.2L91.2 178.3M82 173.5L83.5 172.6M74.5 168L76.8 166.6M67.3 162.7L68.7 161.8M60.3 157.5L61.7 156.7M53.5 152.5L54.9 151.7M46.9 147.7L49.1 146.4M40.5 143L41.9 142.2M34.3 138.4L35.7 137.7M28.2 134L29.7 133.2M22.4 129.6L24.6 128.6M16.7 125.5L18.1 124.8M11.2 121.4L12.6 120.7M93.6 179.3L91.5 177.7M103.5 173L102.1 172M113 166.8L111.6 165.9M122.2 160.9L120.8 160M131 155.2L129.6 154.4M139.5 149.7L137.4 148.4M147.8 144.4L146.4 143.6M155.8 139.3L154.4 138.5M163.5 134.3L162.1 133.5M171 129.5L169.6 128.7M178.2 124.8L176.1 123.7M180.1 119.7L179.1 120.4M180.7 114.4L179.1 115.4M181.3 109L180.3 109.6M181.9 103.5L180.9 104.2M182.5 98L181.5 98.6M183.2 92.4L182.1 93M183.8 86.7L182.1 87.7M184.5 80.9L183.4 81.5M185.1 75.1L184 75.6M185.8 69.1L184.7 69.7M186.5 63.1L185.4 63.6M187.2 56.9L185.4 57.8M187.9 50.7L186.7 51.3M188.6 44.4L187.4 44.9" stroke="#444" stroke-width="0.55" fill="none"/>
<text x="18.1" y="136" font-size="5.6" text-anchor="middle" fill="#111" >2</text>
<text x="42.5" y="154.8" font-size="5.6" text-anchor="middle" fill="#111" >0</text>
<text x="69.5" y="174.5" font-size="5.6" text-anchor="middle" fill="#111" >−2</text>
<text x="33" y="159" font-size="5.6" text-anchor="middle" fill="#111" ><tspan font-style="italic">t</tspan></text>
<text x="99" y="186" font-size="5.6" text-anchor="middle" fill="#111" >−5</text>
<text x="142.6" y="155.4" font-size="5.6" text-anchor="middle" fill="#111" >0</text>
<text x="179.8" y="130" font-size="5.6" text-anchor="middle" fill="#111" >5</text>
<text x="150" y="162" font-size="5.6" text-anchor="middle" fill="#111" ><tspan font-style="italic">x</tspan></text>
<text x="183.3" y="120" font-size="5.6" text-anchor="middle" fill="#111" >5</text>
<text x="188.3" y="91.4" font-size="5.6" text-anchor="middle" fill="#111" >10</text>
<text x="192" y="60.6" font-size="5.6" text-anchor="middle" fill="#111" >15</text>
<text x="201.7" y="95" font-size="5.6" text-anchor="middle" fill="#111" >Abs[q]</text>
<text x="81.8" y="6.6" font-size="7.5" textLength="24.1" lengthAdjust="spacingAndGlyphs" fill="#2a2a2a">Figure (<tspan font-style="italic">a</tspan>)</text>
<path d="M245.5 39.4L342.6 7.2M342.6 7.2L436.5 41.3M342.6 7.2L342.5 80.8M255.1 121.9L342.5 80.8M342.5 80.8L426.7 124.3" stroke="#666" stroke-width="0.6" fill="none"/>
<g transform="scale(0.25)" fill="currentColor" stroke="currentColor" stroke-width="1.0" stroke-linejoin="round"><path d=M1363,329l7-45-8,30-7,18z color=#6a472c /><path d=M1355,326l8,3-8,3-8-37z color=#4d321b /><path d=M1363,330l8-27-8,26-8-3z color=#392514 /><path class=m d=M1359,328l-8-14 /><path d=M1370,284l8-53-8,25-8,58z color=#644329 /><path class=m d=M1355,332l7-18M1362,314l8-58 /><path d=M1371,303l7-48-8,29-7,45z color=#644329 /><path d=M1356,306l7,24-8-4-7-52z color=#4f3116 /><path d=M1371,310l8-36-8,29-8,27z color=#624023 /><path class=m d=M1367,317l-8,11 /><path d=M1348,274l7,52-8-31-7-55z color=#432913 /><path class=m d=M1347,295l8,37 /><path d=M1364,318l7-8-8,20-7-24z color=#5a3819 /><path d=M1378,255l8-38-8,14-8,53z color=#6f4a2d /><path class=m d=M1378,231l-8,25 /><path d=M1379,274l8-36-9,17-7,48z color=#68462b /><path class=m d=M1365,325l8-29 /><path d=M1372,306l7-21-8,25-7,8z color=#573619 /><path d=M1379,285l8-29-8,18-8,36z color=#654123 /><path class=m d=M1375,292l-8,25 /><path d=M1387,238l7-27-8,6-8,38z color=#805635 /><path class=m d=M1386,217l-8,14M1373,296l7-45M1380,251l8-36 /><path d=M1356,274l8,44-8-12-8-62z color=#533111 /><path class=m d=M1358,309l7,16 /><path d=M1364,293l8,13-8,12-8-44z color=#613a15 /><path d=M1348,244l8,62-8-32-8-56z color=#4b2c10 /><path d=M1387,256l8-26-8,8-8,36z color=#7c5433 /><path d=M1340,218l8,56-8-34-9-38z color=#46290f /><path class=m d=M1340,240l7,55 /><path d=M1395,230l8-22-9,3-7,27z color=#95643d /><path class=m d=M1394,211l-8,6 /><path d=M1380,288l8-20-9,17-7,21z color=#482c14 /><path d=M1388,268l7-20-8,8-8,29z color=#7c502c /><path class=m d=M1383,270l-8,22 /><path d=M1372,292l8-4-8,18-8-13z color=#603814 /><path class=m d=M1376,297l7-20 /><path d=M1395,248l8-22-8,4-8,26z color=#94633d /><path class=m d=M1383,277l8-25 /><path d=M1403,226l8-20-8,2-8,22z color=#a57045 /><path class=m d=M1403,208l-9,3M1391,252l8-24M1399,228l8-21 /><path d=M1388,275l8-14-8,7-8,20z color=#815024 /><path d=M1396,261l8-17-9,4-7,20z color=#976236 /><path class=m d=M1392,258l-9,12 /><path d=M1381,283l7-8-8,13-8,4z color=#4b2c10 /><path d=M1404,244l8-20-9,2-8,22z color=#a67045 /><path d=M1412,224l8-19-9,1-8,20z color=#b07749 /><path class=m d=M1411,206l-8,2 /><path d=M1331,188l9,30-9-16-8-18z color=#4c3011 /><path class=m d=M1331,202l9,38 /><path d=M1356,234l8,59-8-19-8-64z color=#543513 /><path d=M1365,259l7,33-8,1-8-59z color=#5c3a15 /><path class=m d=M1368,293l8,4 /><path d=M1340,195l8,49-8-26-9-30z color=#513313 /><path class=m d=M1340,218l-9-16 /><path d=M1348,210l8,64-8-30-8-49z color=#513413 /><path class=m d=M1364,293l-8-19M1356,274l-8-30M1348,244l-8-26M1350,252l8,57 /><path d=M1405,258l7-17-8,3-8,17z color=#ac703e /><path class=m d=M1400,252l-8,6 /><path d=M1397,270l8-12-9,3-8,14z color=#a4662f /><path d=M1412,241l8-18-8,1-8,20z color=#b1784a /><path class=m d=M1402,259l8-17 /><path d=M1420,223l8-18-8,0-8,19z color=#b97d4d /><path class=m d=M1420,205l-9,1M1410,242l8-19M1418,223l8-18 /><path d=M1373,271l8,12-9,9-7-33z color=#613e16 /><path class=m d=M1372,292l-8,1 /><path d=M1389,277l8-7-9,5-7,8z color=#321d0a /><path class=m d=M1395,272l7-13 /><path d=M1323,179l8,9-8-4-8-6z color=#443317 /><path class=m d=M1323,184l8,18 /><path d=M1413,257l8-17-9,1-7,17z color=#bc7a44 /><path class=m d=M1408,250l-8,2 /><path d=M1421,240l8-18-9,1-8,18z color=#ba7e4e /><path d=M1429,222l8-18-9,1-8,18z color=#bd804f /><path class=m d=M1428,205l-8,0 /><path d=M1405,269l8-12-8,1-8,12z color=#c67b39 /><path d=M1381,273l8,4-8,6-8-12z color=#573714 /><path class=m d=M1381,283l-9,9M1387,278l8-6 /><path d=M1397,275l8-6-8,1-8,7z color=#c9772b /><path d=M1331,177l9,18-9-7-8-9z color=#523e1c /><path d=M1315,180l8-1-8-1-8,2z color=#e1c465 /><path class=m d=M1315,178l8,6 /><path d=M1422,256l8-17-9,1-8,17z color=#c48047 /><path class=m d=M1417,248l-9,2 /><path d=M1430,239l8-18-9,1-8,18z color=#bd804f /><path d=M1438,221l8-19-9,2-8,18z color=#ba7e4e /><path class=m d=M1437,204l-9,1 /><path d=M1414,269l8-13-9,1-8,12z color=#d6863f /><path d=M1390,273l7,2-8,2-8-4z color=#432b10 /><path class=m d=M1389,277l-8,6 /><path d=M1307,189l8-9-8,0-8,10z color=#e5de79 /><path class=m d=M1307,180l8-2 /><path d=M1267,271l8-14-7,1-8,14z color=#a6bf4e /><path d=M1275,257l8-17-8,1-7,17z color=#afb238 /><path d=M1340,172l8,38-8-15-9-18z color=#5b451f /><path class=m d=M1342,198l8,54 /><path d=M1406,276l8-7-9,0-8,6z color=#ec8d35 /><path d=M1283,240l8-19-8,1-8,19z color=#bcaf2d /><path class=m d=M1268,258l7-17 /><path d=M1299,203l8-14-8,1-8,15z color=#ccc258 /><path class=m d=M1299,190l8-10 /><path d=M1291,221l8-18-8,2-8,17z color=#bfb440 /><path class=m d=M1275,241l8-19M1283,222l8-17M1291,205l8-15 /><path d=M1259,280l8-9-7,1-9,8z color=#a3d86c /><path class=m d=M1260,272l8-14 /><path d=M1323,178l8-1-8,2-8,1z color=#352f18 /><path class=m d=M1319,179l-8,0 /><path d=M1431,256l8-17-9,0-8,17z color=#c78248 /><path class=m d=M1426,247l-9,1 /><path d=M1439,239l8-20-9,2-8,18z color=#bb7f4e /><path d=M1348,174l8,60-8-24-8-38z color=#5a441e /><path d=M1447,219l8-19-9,2-8,19z color=#b3794b /><path class=m d=M1446,202l-9,2M1430,239l8-18M1438,221l8-19 /><path d=M1423,269l8-13-9,0-8,13z color=#dc8a42 /><path class=m d=M1422,256l8-17 /><path d=M1365,219l8,52-8-12-8-68z color=#55401d /><path d=M1357,191l8,68-9-25-8-60z color=#56411d /><path class=m d=M1360,246l8,47 /><path d=M1251,281l8-1-8,0-8,0z color=#7dc461 /><path class=m d=M1251,280l9-8 /><path d=M1398,275l8,1-9-1-7-2z color=#301f0b /><path class=m d=M1397,275l-8,2 /><path d=M1373,244l8,29-8-2-8-52z color=#57411e /><path class=m d=M1379,272l8,6 /><path d=M1315,187l8-9-8,2-8,9z color=#ccc56b /><path d=M1415,278l8-9-9,0-8,7z color=#fc973a /><path class=m d=M1414,269l8-13 /><path d=M1275,271l8-14-8,0-8,14z color=#aac450 /><path d=M1283,257l8-18-8,1-8,17z color=#b1b439 /><path class=m d=M1279,248l-8,1 /><path d=M1291,239l8-19-8,1-8,19z color=#baad2c /><path d=M1307,201l8-14-8,2-8,14z color=#c2b953 /><path d=M1299,220l8-19-8,2-8,18z color=#baaf3e /><path class=m d=M1299,203l-8,2 /><path d=M1267,281l8-10-8,0-8,9z color=#a9e071 /><path d=M1382,257l8,16-9,0-8-29z color=#543f1c /><path d=M1331,170l9,2-9,5-8,1z color=#4e4423 /><path class=m d=M1327,177l-8,2M1333,176l9,22 /><path d=M1439,256l8-18-8,1-8,17z color=#c48147 /><path class=m d=M1435,247l-9,0 /><path d=M1447,238l9-21-9,2-8,20z color=#b3794b /><path d=M1431,270l8-14-8,0-8,13z color=#df8c43 /><path d=M1407,279l8-1-9-2-8-1z color=#ef9838 /><path class=m d=M1406,276l-9-1M1406,276l8-7 /><path d=M1456,217l8-21-9,4-8,19z color=#a87246 /><path class=m d=M1455,200l-9,2 /><path d=M1259,283l8-2-8-1-8,1z color=#8ddd6e /><path class=m d=M1259,280l-8,0 /><path d=M1242,272l9,9-8-1-9-14z color=#24451b /><path class=m d=M1243,280l8,0 /><path d=M1423,280l8-10-8-1-8,9z color=#ff9c3d /><path d=M1391,265l7,10-8-2-8-16z color=#4a3719 /><path d=M1283,272l8-15-8,0-8,14z color=#adc752 /><path d=M1291,257l8-19-8,1-8,18z color=#b0b339 /><path class=m d=M1287,248l-8,0 /><path d=M1323,182l8-12-8,8-8,9z color=#9a9550 /><path class=m d=M1325,176l8,0 /><path d=M1299,238l8-20-8,2-8,19z color=#b4a72b /><path class=m d=M1285,257l8-18 /><path d=M1275,282l8-10-8-1-8,10z color=#aee775 /><path class=m d=M1277,271l8-14 /><path d=M1307,218l8-20-8,3-8,19z color=#aea43a /><path class=m d=M1293,239l8-20 /><path d=M1315,198l8-16-8,5-8,14z color=#a9a148 /><path class=m d=M1307,201l-8,2M1301,219l8-18M1309,201l8-16M1317,185l8-9 /><path d=M1416,283l7-3-8-2-8,1z color=#ffa83f /><path class=m d=M1415,278l-9-2 /><path d=M1448,256l9-20-10,2-8,18z color=#bb7b44 /><path class=m d=M1443,247l-8,0 /><path d=M1440,272l8-16-9,0-8,14z color=#dd8b42 /><path d=M1457,236l8-23-9,4-9,21z color=#a87146 /><path class=m d=M1442,256l8-19 /><path d=M1267,287l8-5-8-1-8,2z color=#9bf279 /><path class=m d=M1267,281l-8-1M1269,281l8-10 /><path d=M1250,278l9,5-8-2-9-9z color=#1d3716 /><path d=M1399,272l8,7-9-4-7-10z color=#3d2e15 /><path class=m d=M1398,275l8,1 /><path d=M1432,282l8-10-9-2-8,10z color=#ffa040 /><path class=m d=M1434,271l8-15 /><path d=M1340,155l8,19-8-2-9-2z color=#61552c /><path class=m d=M1336,171l-9,6 /><path d=M1465,213l8-25-9,8-8,21z color=#97663e /><path class=m d=M1464,196l-9,4M1450,237l8-21M1458,216l8-22 /><path d=M1291,273l8-16-8,0-8,15z color=#acc652 /><path d=M1299,257l8-21-8,2-8,19z color=#a9ac36 /><path class=m d=M1295,247l-8,1 /><path d=M1283,284l8-11-8-1-8,10z color=#b1ea77 /><path d=M1424,287l8-5-9-2-7,3z color=#ffb446 /><path class=m d=M1423,280l-8-2M1426,280l8-9 /><path d=M1307,236l8-22-8,4-8,20z color=#aa9e28 /><path d=M1449,274l8-18-9,0-8,16z color=#d3843f /><path d=M1408,278l8,5-9-4-8-7z color=#312511 /><path d=M1457,256l9-23-9,3-9,20z color=#ad713e /><path class=m d=M1452,246l-9,1 /><path d=M1258,283l9,4-8-4-9-5z color=#61bb4a /><path class=m d=M1261,284l8-3 /><path d=M1315,214l8-22-8,6-8,20z color=#9e9434 /><path d=M1332,169l8-14-9,15-8,12z color=#434123 /><path d=M1441,286l8-12-9-2-8,10z color=#ffa041 /><path d=M1275,290l8-6-8-2-8,5z color=#a5ff82 /><path class=m d=M1275,282l-8-1 /><path d=M1323,192l9-23-9,13-8,16z color=#8b853b /><path class=m d=M1315,198l-8,3 /><path d=M1466,233l8-28-9,8-8,23z color=#98663f /><path d=M1232,247l10,25-8-6-11-44z color=#1d4815 /><path class=m d=M1234,266l9,14 /><path d=M1348,143l9,48-9-17-8-19z color=#64572d /><path class=m d=M1344,165l-8,6M1352,183l8,63 /><path d=M1383,240l8,25-9-8-8-42z color=#4d4322 /><path d=M1300,275l8-19-9,1-8,16z color=#a5be4e /><path d=M1433,291l8-5-9-4-8,5z color=#ffbe4c /><path class=m d=M1432,282l-9-2 /><path d=M1374,215l8,42-9-13-7-63z color=#4f4523 /><path d=M1291,287l9-12-9-2-8,11z color=#b1ea77 /><path d=M1417,284l7,3-8-4-8-5z color=#e4ac4e /><path class=m d=M1418,284l8-4 /><path d=M1474,205l9-35-10,18-8,25z color=#7f5634 /><path class=m d=M1473,188l-9,8 /><path d=M1241,262l9,16-8-6-10-25z color=#1a4113 /><path class=m d=M1237,259l-8-15 /><path d=M1308,256l8-23-9,3-8,21z color=#9ea133 /><path class=m d=M1303,247l-8,0M1295,274l9-18 /><path d=M1366,181l7,63-8-25-8-68z color=#514624 /><path class=m d=M1378,237l-8-24M1371,238l8,34 /><path d=M1266,289l9,1-8-3-9-4z color=#6fd454 /><path d=M1458,276l9-21-10,1-8,18z color=#c27939 /><path d=M1391,256l8,16-8-7-8-25z color=#483f20 /><path class=m d=M1387,253l-9-16M1391,265l7,10 /><path d=M1357,151l8,68-8-28-9-48z color=#584d28 /><path class=m d=M1370,213l-9-27M1361,186l-9-18M1352,168l-8-3 /><path d=M1450,290l8-14-9-2-8,12z color=#fe9a3e /><path d=M1283,294l8-7-8-3-8,6z color=#adff89 /><path class=m d=M1283,284l-8-2M1287,286l8-12 /><path d=M1316,233l8-26-9,7-8,22z color=#9b9024 /><path class=m d=M1304,256l8-21 /><path d=M1467,255l8-29-9,7-9,23z color=#9e6738 /><path class=m d=M1462,245l-10,1M1454,275l8-20 /><path d=M1249,272l9,11-8-5-9-16z color=#173b11 /><path class=m d=M1245,270l-8-11M1252,279l9,5 /><path d=M1442,296l8-6-9-4-8,5z color=#ffc752 /><path class=m d=M1441,286l-9-4M1446,288l8-13 /><path d=M1400,266l8,12-9-6-8-16z color=#42391d /><path class=m d=M1395,264l-8-11 /><path d=M1426,290l7,1-9-4-7-3z color=#fabd56 /><path d=M1324,207l8-30-9,15-8,22z color=#857d2c /><path class=m d=M1312,235l8-24 /><path d=M1300,290l8-14-8-1-9,12z color=#abe273 /><path d=M1308,276l8-21-8,1-8,19z color=#99b148 /><path d=M1475,226l9-39-10,18-8,28z color=#825836 /><path class=m d=M1462,255l8-25 /><path d=M1274,294l9,0-8-4-9-1z color=#7ae85d /><path class=m d=M1279,292l8-6 /><path d=M1340,146l8-3-8,12-8,14z color=#5a572f /><path class=m d=M1344,149l8,34 /><path d=M1459,293l8-16-9-1-8,14z color=#ec8f39 /><path d=M1332,177l8-31-8,23-9,23z color=#6d682e /><path class=m d=M1323,192l-8,6M1320,211l8-27M1328,184l8-26M1336,158l8-9 /><path d=M1291,298l9-8-9-3-8,7z color=#b3ff8e /><path class=m d=M1291,287l-8-3 /><path d=M1467,277l9-26-9,4-9,21z color=#ac6c32 /><path d=M1316,255l8-28-8,6-8,23z color=#91942e /><path class=m d=M1312,245l-9,2 /><path d=M1409,275l8,9-9-6-8-12z color=#3a331a /><path class=m d=M1404,272l-9-8M1410,280l8,4 /><path d=M1257,280l9,9-8-6-9-11z color=#14330f /><path class=m d=M1253,277l-8-7 /><path d=M1451,302l8-9-9-3-8,6z color=#ffcb56 /><path class=m d=M1450,290l-9-4 /><path d=M1434,296l8,0-9-5-7-1z color=#ffcc5e /><path class=m d=M1438,294l8-6 /><path d=M1476,251l9-39-10,14-8,29z color=#8a5931 /><path class=m d=M1471,241l-9,4 /><path d=M1324,227l8-35-8,15-8,26z color=#867c1f /><path d=M1283,300l8-2-8-4-9,0z color=#85fb66 /><path d=M1484,187l10-49-11,32-9,35z color=#6b482c /><path class=m d=M1483,170l-10,18M1470,230l9-34M1479,196l9-42 /><path d=M1308,294l8-18-8,0-8,14z color=#9fd36b /><path d=M1418,283l8,7-9-6-8-9z color=#332c17 /><path class=m d=M1413,280l-9-8 /><path d=M1468,297l9-20-10,0-8,16z color=#d58132 /><path d=M1316,276l8-25-8,4-8,21z color=#8a9f41 /><path d=M1300,303l8-9-8-4-9,8z color=#b4ff8f /><path class=m d=M1300,290l-9-3M1306,293l8-17 /><path d=M1266,288l8,6-8-5-9-9z color=#45ab32 /><path class=m d=M1262,285l-9-8M1270,291l9,1 /><path d=M1443,303l8-1-9-6-8,0z color=#ffdb67 /><path d=M1460,308l8-11-9-4-8,9z color=#ffc957 /><path class=m d=M1459,293l-9-3 /><path d=M1477,277l9-36-10,10-9,26z color=#995f2c /><path class=m d=M1466,296l8-19 /><path d=M1230,228l11,34-9-15-11-54z color=#133e0f /><path d=M1427,291l7,5-8-6-8-7z color=#d0b55d /><path class=m d=M1422,287l-9-7M1430,293l8,1 /><path d=M1332,192l8-44-8,29-8,30z color=#6d6724 /><path d=M1239,250l10,22-8-10-11-34z color=#133c0f /><path class=m d=M1243,264l9,15 /><path d=M1324,251l8-37-8,13-8,28z color=#7f8228 /><path class=m d=M1320,241l-8,4M1314,276l8-24 /><path d=M1291,306l9-3-9-5-8,2z color=#90ff6f /><path class=m d=M1298,302l8-9 /><path d=M1392,246l8,20-9-10-7-32z color=#454224 /><path d=M1384,224l7,32-8-16-8-50z color=#464425 /><path d=M1348,122l9,29-9-8-8,3z color=#646134 /><path d=M1452,311l8-3-9-6-8,1z color=#ffeb70 /><path class=m d=M1458,307l8-11 /><path d=M1485,212l10-57-11,32-9,39z color=#6e4a2d /><path d=M1274,295l9,5-9-6-8-6z color=#4cbc37 /><path class=m d=M1270,291l-8-6 /><path d=M1221,193l11,54-9-25-12-69z color=#143f10 /><path class=m d=M1223,222l11,44 /><path d=M1316,297l9-22-9,1-8,18z color=#8fbe60 /><path d=M1469,315l9-14-10-4-8,11z color=#ffc255 /><path d=M1478,301l8-27-9,3-9,20z color=#ba6f2b /><path class=m d=M1468,297l-9-4 /><path d=M1308,309l8-12-8-3-8,9z color=#aeff8b /><path class=m d=M1308,294l-8-4 /><path d=M1248,265l9,15-8-8-10-22z color=#12390e /><path d=M1401,260l8,15-9-9-8-20z color=#413f22 /><path class=m d=M1402,269l8,11 /><path d=M1375,190l8,50-9-25-8-67z color=#484525 /><path class=m d=M1383,240l8,25 /><path d=M1436,299l7,4-9-7-7-5z color=#dfc364 /><path class=m d=M1431,294l-9-7 /><path d=M1340,148l8-26-8,24-8,31z color=#4f4b22 /><path class=m d=M1332,177l-9,15 /><path d=M1163,315l8-17-8-2-8,14z color=#3bacf0 /><path d=M1325,275l8-34-9,10-8,25z color=#7b8e39 /><path d=M1462,319l7-4-9-7-8,3z color=#fffb7c /><path d=M1300,313l8-4-8-6-9,3z color=#9bff79 /><path d=M1486,241l10-58-11,29-9,39z color=#774d2a /><path class=m d=M1481,231l-10,10M1474,277l9-33 /><path d=M1410,271l8,12-9-8-8-15z color=#3e3b20 /><path d=M1154,322l9-7-8-5-9,5z color=#89deff /><path d=M1256,276l10,12-9-8-9-15z color=#11350d /><path class=m d=M1261,284l9,7 /><path d=M1479,323l8-17-9-5-9,14z color=#ffb851 /><path d=M1171,298l8-28-8,5-8,21z color=#217aa3 /><path class=m d=M1155,310l8-14 /><path d=M1282,302l9,4-8-6-9-5z color=#52cc3c /><path class=m d=M1278,297l-8-6M1289,304l9-2 /><path d=M1366,148l8,67-8-34-9-62z color=#4c4927 /><path d=M1357,119l9,62-9-30-9-29z color=#5b572f /><path class=m d=M1363,173l8,65 /><path d=M1332,214l8-52-8,30-8,35z color=#71681a /><path class=m d=M1322,252l8-35 /><path d=M1317,315l8-15-9-3-8,12z color=#a4fa82 /><path d=M1486,274l10-54-10,21-9,36z color=#845226 /><path d=M1445,307l7,4-9-8-7-4z color=#edcf6b /><path class=m d=M1440,301l-9-7M1450,309l8-2 /><path d=M1325,300l8-28-8,3-9,22z color=#7ca553 /><path class=m d=M1316,297l-8-3 /><path d=M1471,328l8-5-10-8-7,4z color=#ffff88 /><path d=M1487,306l9-43-10,11-8,27z color=#9f5f23 /><path class=m d=M1478,301l-10-4 /><path d=M1419,280l8,11-9-8-8-12z color=#39371e /><path class=m d=M1422,287l8,6 /><path d=M1495,155l10-50-11,33-10,49z color=#66452a /><path class=m d=M1494,138l-11,32 /><path d=M1308,320l9-5-9-6-8,4z color=#a6ff83 /><path d=M1265,285l9,10-8-7-10-12z color=#0f310c /><path d=M1488,336l8-28-9-2-8,17z color=#f19f44 /><path d=M1144,322l10,0-8-7-10-2z color=#9eb8ff /><path class=m d=M1146,315l9-5 /><path d=M1171,320l8-20-8-2-8,17z color=#359ddb /><path d=M1291,310l9,3-9-7-9-4z color=#58da41 /><path class=m d=M1287,304l-9-7 /><path d=M1162,329l9-9-8-5-9,7z color=#8de2ff /><path d=M1480,341l8-5-9-13-8,5z color=#ffff8e /><path d=M1454,316l8,3-10-8-7-4z color=#fcdc72 /><path class=m d=M1449,309l-9-8 /><path d=M1333,241l8-54-9,27-8,37z color=#6d6f22 /><path class=m d=M1328,232l-8,9 /><path d=M1179,270l6-48-6,20-8,33z color=#29637d /><path class=m d=M1163,296l8-21 /><path d=M1488,360l9-11-9-13-8,5z color=#ffff8c /><path d=M1428,289l8,10-9-8-8-11z color=#35331c /><path d=M1325,321l9-18-9-3-8,15z color=#97e778 /><path d=M1506,438l10-43-10,6-8,10z color=#fff58b /><path d=M1497,385l9-32-9-4-9,11z color=#ffe377 /><path d=M1498,411l8-10-9-16-7-8z color=#ffff93 /><path d=M1507,461l9-21-10-2-7-13z color=#ffffba /><path d=M1273,294l9,8-8-7-9-10z color=#0e2d0b /><path class=m d=M1280,301l9,3 /><path d=M1317,329l8-8-8-6-9,5z color=#b0ff8d /><path d=M1333,272l8-51-8,20-8,34z color=#6a7b31 /><path d=M1340,162l9-47-9,33-8,44z color=#615b20 /><path class=m d=M1330,217l8-47 /><path d=M1463,326l8,2-9-9-8-3z color=#ffe778 /><path class=m d=M1458,317l-9-8 /><path d=M1179,300l7-41-7,11-8,28z color=#1d6c91 /><path class=m d=M1171,298l-8-2 /><path d=M1497,349l9-51-10,10-8,28z color=#b5752e /><path d=M1153,330l9-1-8-7-10,0z color=#aac6ff /><path class=m d=M1149,322l-8-8 /><path d=M1300,319l8,1-8-7-9-3z color=#5fe946 /><path class=m d=M1295,312l-8-8 /><path d=M1393,238l8,22-9-14-8-34z color=#3f3c1b /><path class=m d=M1394,249l8,20 /><path d=M1170,338l9-10-8-8-9,9z color=#90e4ff /><path d=M1238,241l10,24-9-15-10-37z color=#17381e /><path d=M1496,183l10-66-11,38-10,57z color=#66442a /><path class=m d=M1483,244l10-54 /><path d=M1437,298l8,9-9-8-8-10z color=#312f1a /><path class=m d=M1442,305l8,4 /><path d=M1334,303l8-43-9,12-8,28z color=#6c9048 /><path class=m d=M1325,300l-9-3M1317,315l8-15 /><path d=M1506,401l10-61-10,13-9,32z color=#bc9045 /><path d=M1134,315l10,7-8-9-10-6z color=#9286d6 /><path class=m d=M1136,313l10,2 /><path d=M1349,115l8,4-9,3-8,26z color=#514d22 /><path class=m d=M1340,148l-8,29M1338,170l9-47M1347,123l8-3M1355,120l8,53 /><path d=M1490,377l7,8-9-25-7-7z color=#ffe479 /><path class=m d=M1502,406l-9-25 /><path d=M1179,328l8-30-8,2-8,20z color=#2d88be /><path d=M1402,254l8,17-9-11-8-22z color=#3e3b1a /><path d=M1669,458l4,22-9-11-2-52z color=#523722 /><path d=M1472,337l8,4-9-13-8-2z color=#ffe97a /><path class=m d=M1467,327l-9-10M1471,328l8-5 /><path d=M1229,213l10,37-9-22-11-57z color=#17381e /><path class=m d=M1233,234l10,30 /><path d=M1247,258l9,18-8-11-10-24z color=#17371d /><path class=m d=M1252,270l9,14 /><path d=M1384,212l8,34-8-22-8-52z color=#3f3c1b /><path d=M1496,308l11-66-11,21-9,43z color=#88511d /><path class=m d=M1487,306l-9-5M1479,323l8-17 /><path d=M1517,471l10-55-11,24-9,21z color=#bbb563 /><path d=M1499,425l7,13-8-27-7-25z color=#e9e17b /><path d=M1334,331l8-29-8,1-9,18z color=#83ca67 /><path d=M1326,339l8-8-9-10-8,8z color=#b8ff95 /><path d=M1678,476l9-16-14,20-4-22z color=#634229 /><path d=M1481,353l7,7-8-19-8-4z color=#ffdf75 /><path class=m d=M1493,381l-8-25M1485,356l-9-17M1476,339l-9-12 /><path d=M1282,302l9,8-9-8-9-8z color=#34a72a /><path d=M1308,328l9,1-9-9-8-1z color=#67f94d /><path class=m d=M1304,320l-9-8M1308,320l9-5 /><path d=M1496,220l11-74-11,37-10,58z color=#6c4626 /><path class=m d=M1491,212l-10,19 /><path d=M1161,340l9-2-8-9-9,1z color=#b7d4ff /><path class=m d=M1157,330l-8-8M1164,332l9-10 /><path d=M1496,263l11-74-11,31-10,54z color=#764921 /><path d=M1516,440l11-69-11,24-10,43z color=#9f8b48 /><path class=m d=M1511,417l-9-11 /><path d=M1411,266l8,14-9-9-8-17z color=#3c391a /><path class=m d=M1414,276l8,11 /><path d=M1446,307l8,9-9-9-8-9z color=#c5bf67 /><path d=M1049,468l4-52-5,13-9,16z color=#c42c4a /><path d=M1179,352l8-16-8-8-9,10z color=#8ad9ff /><path d=M1509,469l8,2-10-10-6-33z color=#e7dc63 /><path d=M1048,492l7-31-6,7-11-7z color=#dc3758 /><path d=M1255,271l10,14-9-9-9-18z color=#16351c /><path d=M1334,355l9-13-9-11-8,8z color=#b1ff8f /><path d=M1550,232l7,18-9-15-6-27z color=#362416 /><path d=M1219,171l11,57-9-35-12-65z color=#18391e /><path d=M1143,325l10,5-9-8-10-7z color=#998ce0 /><path d=M1038,461l11,7-10-23-13-26z color=#f13c60 /><path class=m d=M1038,461l-12-42M1026,419l13,26 /><path d=M1376,172l8,52-9-34-8-63z color=#3f3c1b /><path d=M1341,187l8-63-9,38-8,52z color=#655d17 /><path d=M1559,247l7,15-9-12-7-18z color=#352416 /><path d=M1518,486l10-37-11,22-8-2z color=#dfd561 /><path d=M1506,353l11-73-11,18-9,51z color=#8d5a22 /><path class=m d=M1491,366l8-16 /><path d=M1291,311l9,8-9-9-9-8z color=#37af2c /><path d=M1420,277l8,12-9-9-8-14z color=#3a3819 /><path d=M1317,339l9,0-9-10-9-1z color=#6dff52 /><path class=m d=M1313,328l-9-8 /><path d=M1169,352l10,0-9-14-9,2z color=#bddaff /><path class=m d=M1166,339l-9-9 /><path d=M1542,208l6,27-9-24-5-42z color=#362416 /><path class=m d=M1557,250l-9-15 /><path d=M1343,377l9-31-9-4-9,13z color=#90fd73 /><path d=M1185,222l6-68-6,38-6,50z color=#2e5465 /><path class=m d=M1171,275l8-33 /><path d=M1455,317l8,9-9-10-8-9z color=#cbc46a /><path d=M1353,432l8-41-9,3-8,10z color=#72f75a /><path d=M1353,457l8-19-8-6-9-12z color=#6cff5c /><path d=M1344,404l8-10-9-17-8-4z color=#80ff65 /><path d=M1188,370l7-32-8-2-8,16z color=#6eb2fd /><path d=M1569,259l6,14-9-11-7-15z color=#362416 /><path class=m d=M1566,262l-9-12 /><path d=M1506,117l9-20-10,8-10,50z color=#8c5f3a /><path class=m d=M1505,105l-11,33M1493,190l10-64M1503,126l9-27 /><path d=M1264,281l9,13-8-9-10-14z color=#15331b /><path class=m d=M1271,292l9,9 /><path d=M1209,128l12,65-10-40-11-44z color=#142f19 /><path class=m d=M1211,153l12,69 /><path d=M1343,342l8-50-9,10-8,29z color=#659d4f /><path d=M1491,386l7,25-8-34-7-19z color=#b3ad5e /><path d=M1187,336l7-49-7,11-8,30z color=#236f9c /><path d=M1188,397l8-11-8-16-10,0z color=#c3dfff /><path d=M1178,370l10,0-9-18-10,0z color=#bdd9ff /><path class=m d=M1183,370l-9-18M1174,352l-8-13 /><path d=M1662,417l2,52-7-39-2-53z color=#442e1c /><path class=m d=M1673,480l-9-11 /><path d=M1358,102l8,46-9-29-8-4z color=#4b4820 /><path d=M1124,305l10,10-8-8-10-11z color=#7066b5 /><path class=m d=M1126,307l10,6 /><path d=M1197,452l8-18-8-9-10-10z color=#e2d2ff /><path d=M1186,259l6-70-7,33-6,48z color=#255971 /><path d=M1326,352l8,3-8-16-9,0z color=#6cfe52 /><path class=m d=M1321,339l-8-11M1328,343l8-9 /><path d=M1516,395l12-76-12,21-10,61z color=#83632d /><path class=m d=M1502,424l9-26 /><path d=M1197,425l7-40-8,1-8,11z color=#a3bbff /><path class=m d=M1192,392l-9-22 /><path d=M1187,298l6-63-7,24-7,41z color=#195e7e /><path class=m d=M1179,300l-8-2M1173,322l8-23 /><path d=M1335,373l8,4-9-22-8-3z color=#6efe54 /><path class=m d=M1348,399l-9-24M1339,375l-9-21M1330,354l-9-15 /><path d=M1151,335l10,5-8-10-10-5z color=#a093ea /><path class=m d=M1155,333l9-1 /><path d=M1367,127l8,63-9-42-8-46z color=#423e1c /><path class=m d=M1375,190l8,50 /><path d=M1341,221l8-72-8,38-8,54z color=#61631f /><path class=m d=M1337,214l-9,18 /><path d=M1464,328l8,9-9-11-8-9z color=#cdc66b /><path class=m d=M1463,326l8,2 /><path d=M1342,302l8-64-8,22-8,43z color=#5e7d3e /><path class=m d=M1334,303l-9-3 /><path d=M1429,287l8,11-9-9-8-12z color=#383618 /><path class=m d=M1435,296l7,9 /><path d=M1578,270l7,12-10-9-6-14z color=#362416 /><path class=m d=M1575,273l-9-11 /><path d=M1299,321l9,7-8-9-9-8z color=#39b62e /><path class=m d=M1300,319l8,1 /><path d=M1362,472l8-55-9,21-8,19z color=#39ad2f /><path d=M1342,260l8-72-9,33-8,51z color=#5e6d2c /><path class=m d=M1325,300l8-28 /><path d=M1501,428l6,33-8-36-6-38z color=#9c9542 /><path d=M1352,394l8-60-8,12-9,31z color=#5aa745 /><path d=M1206,471l7-53-8,16-8,18z color=#9589d7 /><path d=M1534,169l5,42-8-37-5-49z color=#312114 /><path class=m d=M1548,235l-9-24 /><path d=M1344,420l9,12-9-28-9-20z color=#43cc36 /><path d=M1483,358l7,19-9-24-7-12z color=#b9b260 /><path class=m d=M1483,359l8,7 /><path d=M1474,341l7,12-9-16-8-9z color=#c7c068 /><path d=M1273,291l9,11-9-8-9-13z color=#14311a /><path d=M1506,298l12-78-11,22-11,66z color=#7c491a /><path class=m d=M1496,308l-9-2 /><path d=M1187,415l10,10-9-28-11-15z color=#ab9ef8 /><path d=M1196,386l7-59-8,11-7,32z color=#4778af /><path d=M1206,493l7-34-7,12-10-6z color=#dccaff /><path d=M1588,280l7,12-10-10-7-12z color=#372516 /><path class=m d=M1585,282l-10-9 /><path d=M1353,468l9,4-9-15-9-32z color=#58ce70 /><path d=M1159,346l10,6-8-12-10-5z color=#a295ed /><path d=M1055,492l4-61-4,30-7,31z color=#76182b /><path class=m d=M1048,492l-10-31 /><path d=M1349,124l9-22-9,13-9,47z color=#7d7529 /><path class=m d=M1349,115l-9,33 /><path d=M1691,464l10-36-14,32-9,16z color=#714c2e /><path class=m d=M1701,428l-14,32M1687,460l-14,20 /><path d=M1132,315l11,10-9-10-10-10z color=#7267b7 /><path d=M1196,465l10,6-9-19-11-30z color=#998cf3 /><path d=M1438,296l8,11-9-9-8-11z color=#373417 /><path d=M1362,491l9-36-9,17-9-4z color=#71fb8e /><path d=M1361,438l9-69-9,22-8,41z color=#3b8f2b /><path class=m d=M1357,411l-9-12 /><path d=M1308,332l9,7-9-11-9-7z color=#3bbc2f /><path d=M1055,461l3-72-5,27-4,52z color=#78192c /><path d=M1394,233l8,21-9-16-8-32z color=#373412 /><path d=M1507,146l10-44-11,15-10,66z color=#92623c /><path d=M1205,434l6-68-7,19-7,40z color=#5d6ca4 /><path class=m d=M1201,405l-9-13 /><path d=M1237,235l10,23-9-17-11-37z color=#1a3229 /><path class=m d=M1242,249l10,21 /><path d=M1177,382l11,15-10-27-10-10z color=#9387d7 /><path d=M1403,250l8,16-9-12-8-21z color=#373412 /><path class=m d=M1407,260l7,16 /><path d=M1168,360l10,10-9-18-10-6z color=#9b8ee2 /><path class=m d=M1174,361l9,0 /><path d=M1281,301l10,10-9-9-9-11z color=#132f19 /><path d=M1528,449l11-65-12,32-10,55z color=#716d3b /><path d=M1598,289l6,12-9-9-7-12z color=#372517 /><path class=m d=M1595,292l-10-10 /><path d=M1517,102l7,25-9-30-9,20z color=#ffdd92 /><path class=m d=M1515,97l-10,8 /><path d=M1246,253l9,18-8-13-10-23z color=#1a3229 /><path d=M1526,125l5,49-7-47-7-25z color=#de965c /><path class=m d=M1539,211l-8-37M1531,174l-7-47M1524,127l-9-30 /><path d=M1335,384l9,20-9-31-9-14z color=#35a72a /><path class=m d=M1339,389l9-4 /><path d=M1516,340l12-75-11,15-11,73z color=#7d501d /><path d=M1507,242l11-76-11,23-11,74z color=#764921 /><path class=m d=M1487,306l9-43 /><path d=M1352,346l8-73-9,19-8,50z color=#528140 /><path d=M1521,485l8-15-11,16-6-24z color=#cdc143 /><path d=M1385,206l8,32-9-26-8-47z color=#363312 /><path class=m d=M1402,254l-9-16M1387,219l7,30 /><path d=M1448,306l7,11-9-10-8-11z color=#353317 /><path d=M1317,344l9,8-9-13-9-7z color=#3bba2f /><path class=m d=M1319,342l9,1 /><path d=M1512,462l6,24-9-17-5-50z color=#312e10 /><path d=M1655,377l2,53-7-43-3-37z color=#3d2919 /><path class=m d=M1664,469l-7-39 /><path d=M1227,204l11,37-9-28-12-53z color=#193128 /><path class=m d=M1247,258l-9-17 /><path d=M1527,416l12-70-12,25-11,69z color=#716233 /><path class=m d=M1521,406l-10,11M1514,469l10-47 /><path d=M1553,234l6,13-9-15-6-20z color=#312114 /><path d=M1141,325l10,10-8-10-11-10z color=#7369ba /><path class=m d=M1145,327l10,6 /><path d=M1412,263l8,14-9-11-8-16z color=#373412 /><path class=m d=M1411,266l-9-12 /><path d=M1195,338l6-72-7,21-7,49z color=#1d5d83 /><path class=m d=M1183,361l8-24 /><path d=M1507,189l11-64-11,21-11,74z color=#784e2a /><path class=m d=M1502,183l-11,29 /><path d=M1326,359l9,14-9-21-9-8z color=#37ae2c /><path d=M1113,293l11,12-8-9-11-14z color=#5f55aa /><path class=m d=M1116,296l10,11 /><path d=M1191,154l7-48-7,26-6,60z color=#3e646f /><path class=m d=M1179,242l6-50 /><path d=M1562,249l7,10-10-12-6-13z color=#312114 /><path class=m d=M1564,253l7,14 /><path d=M1608,299l6,13-10-11-6-12z color=#382617 /><path class=m d=M1604,301l-9-9 /><path d=M1255,267l9,14-9-10-9-18z color=#1a3229 /><path class=m d=M1255,271l-8-13M1262,279l9,13 /><path d=M1529,470l11-55-12,34-10,37z color=#807a37 /><path d=M1544,212l6,20-8-24-6-31z color=#a36e43 /><path class=m d=M1544,214l6,25 /><path d=M1493,387l6,38-8-39-6-27z color=#312f15 /><path class=m d=M1495,406l7,18 /><path d=M1290,310l9,11-8-10-10-10z color=#419d54 /><path class=m d=M1291,311l9,8 /><path d=M1457,316l7,12-9-11-7-11z color=#343116 /><path class=m d=M1455,317l8,9 /><path d=M1186,422l11,30-10-37-11-29z color=#675ea6 /><path d=M1344,425l9,32-9-37-9-33z color=#3a8b4a /><path class=m d=M1351,448l8-11 /><path d=M1053,416l3-76-5,21-3,68z color=#6a1f2e /><path class=m d=M1039,445l9-16 /><path d=M1361,391l9-77-10,20-8,60z color=#3f7830 /><path d=M1685,456l6,8-13,12-2-43z color=#503621 /><path class=m d=M1691,464l10-36 /><path d=M1421,274l8,13-9-10-8-14z color=#373412 /><path class=m d=M1420,277l-9-11M1427,284l8,12 /><path d=M1572,260l6,10-9-11-7-10z color=#312114 /><path d=M1198,106l11,22-9-19-9,23z color=#83f7cc /><path class=m d=M1185,192l6-60M1191,132l9-23M1200,109l11,44 /><path d=M1204,497l9-11-7,7-11-29z color=#9384ff /><path d=M1618,309l6,14-10-11-6-13z color=#3a2718 /><path class=m d=M1614,312l-10-11 /><path d=M1676,433l2,43-9-18,0-63z color=#4d341f /><path d=M1149,336l10,10-8-11-10-10z color=#746abb /><path d=M1376,165l8,47-8-40-9-51z color=#333011 /><path class=m d=M1393,238l-9-26 /><path d=M1349,149l9-46-9,21-8,63z color=#80771d /><path d=M1204,385l6-77-7,19-7,59z color=#345a84 /><path class=m d=M1195,418l7-33 /><path d=M1217,160l12,53-10-42-12-53z color=#3a705c /><path class=m d=M1238,241l-9-28M1221,182l12,52 /><path d=M1351,292l8-79-9,25-8,64z color=#557238 /><path class=m d=M1342,302l-8,1M1336,334l8-34 /><path d=M1263,278l10,13-9-10-9-14z color=#193128 /><path class=m d=M1264,281l-9-10 /><path d=M1527,371l11-66-10,14-12,76z color=#765928 /><path d=M1194,287l5-80-6,28-6,63z color=#175673 /><path class=m d=M1187,298l-8,2 /><path d=M1466,328l8,13-10-13-7-12z color=#333016 /><path d=M1121,303l11,12-8-10-11-12z color=#6157ad /><path class=m d=M1124,305l-8-9 /><path d=M1647,350l3,37-8-31-5-24z color=#3a2718 /><path class=m d=M1657,430l-7-43 /><path d=M1363,492l8-13-9,12-8-27z color=#70d7b1 /><path d=M1536,177l6,31-8-39-7-29z color=#b57a4a /><path d=M1627,319l6,18-9-14-6-14z color=#3a2718 /><path class=m d=M1624,323l-10-11 /><path d=M1358,103l9,24-9-25-9,22z color=#fced54 /><path class=m d=M1358,102l-9,13 /><path d=M1299,320l9,12-9-11-9-11z color=#419c54 /><path d=M1581,270l7,10-10-10-6-10z color=#312114 /><path class=m d=M1586,278l6,11 /><path d=M1192,189l6-66-7,31-6,68z color=#315a6c /><path class=m d=M1188,188l-6,29 /><path d=M1517,280l11-67-10,7-12,78z color=#824d1c /><path class=m d=M1506,298l-10,10M1499,350l10-56 /><path d=M1485,359l6,27-8-28-8-17z color=#312f15 /><path d=M1213,486l7-60-7,33-7,34z color=#665da4 /><path d=M1213,459l6-71-6,30-7,53z color=#585081 /><path d=M1195,464l11,29-10-28-12-45z color=#655ab3 /><path d=M1371,455l9-68-10,30-8,55z color=#20671a /><path d=M1430,284l8,12-9-9-8-13z color=#373412 /><path class=m d=M1429,287l-9-10 /><path d=M1475,341l8,17-9-17-8-13z color=#322f15 /><path class=m d=M1476,345l7,14 /><path d=M1637,332l5,24-9-19-6-18z color=#392718 /><path class=m d=M1650,387l-8-31M1642,356l-9-19M1633,337l-9-14 /><path d=M1193,235l5-77-6,31-6,70z color=#24566d /><path class=m d=M1181,299l7-46 /><path d=M1518,125l8,0-9-23-10,44z color=#ffbb79 /><path d=M1354,464l8,27-9-23-8-48z color=#53a084 /><path d=M1158,348l10,12-9-14-10-10z color=#7267b7 /><path class=m d=M1164,353l10,8 /><path d=M1207,118l12,53-10-43-11-22z color=#519d81 /><path class=m d=M1229,213l-10-42M1219,171l-10-43M1209,128l-9-19 /><path d=M1504,419l5,50-8-41-5-48z color=#383512 /><path class=m d=M1518,486l-9-17M1507,459l7,10 /><path d=M1176,386l11,29-10-33-11-19z color=#62599e /><path class=m d=M1185,407l10,11 /><path d=M1367,121l9,51-9-45-9-24z color=#c8bc42 /><path class=m d=M1384,212l-8-40M1376,172l-9-45M1367,127l-9-25M1367,127l8,63 /><path d=M1350,238l9-77-9,27-8,72z color=#5c6b2b /><path d=M1371,479l9-58-9,34-9,36z color=#368145 /><path d=M1350,188l8-65-9,26-8,72z color=#686a21 /><path class=m d=M1345,185l-8,29M1333,272l8-51 /><path d=M1272,289l9,12-8-10-10-13z color=#193128 /><path class=m d=M1273,291l-9-10 /><path d=M1591,279l7,10-10-9-7-10z color=#312114 /><path d=M1166,363l11,19-9-22-10-12z color=#6a60ab /><path d=M1527,140l7,29-8-44-8,0z color=#ffaf6d /><path class=m d=M1526,125l5,49 /><path d=M1308,332l9,12-9-12-9-12z color=#409b53 /><path class=m d=M1310,335l9,7 /><path d=M1335,387l9,33-9-36-9-23z color=#358045 /><path d=M1130,313l11,12-9-10-11-12z color=#6157ad /><path class=m d=M1132,315l-8-10M1134,317l11,10 /><path d=M1370,417l9-72-9,24-9,69z color=#29661e /><path class=m d=M1366,404l-9,7 /><path d=M1440,294l8,12-10-10-8-12z color=#383412 /><path class=m d=M1438,296l-9-9 /><path d=M1531,476l10-39-12,33-8,15z color=#706925 /><path d=M1528,319l10-56-10,2-12,75z color=#83541f /><path class=m d=M1511,398l11-68 /><path d=M1360,334l9-77-9,16-8,73z color=#4a7439 /><path class=m d=M1348,385l8-45 /><path d=M1213,418l5-75-7,23-6,68z color=#434e77 /><path class=m d=M1208,400l-7,5 /><path d=M1395,234l8,16-9-17-8-25z color=#a29625 /><path class=m d=M1398,242l9,18 /><path d=M1518,220l10-50-10-4-11,76z color=#985f2d /><path d=M1102,281l11,12-8-11-11-13z color=#554baa /><path class=m d=M1105,282l11,14 /><path d=M1669,395l0,63-7-41-1-56z color=#452f1c /><path class=m d=M1667,448l4,29 /><path d=M1555,243l7,6-9-15-7-10z color=#e79652 /><path class=m d=M1557,242l7,11 /><path d=M1518,166l9-26-9-15-11,64z color=#c6834b /><path class=m d=M1513,157l-11,26M1496,263l11-74M1507,189l11-64M1518,125l8,0 /><path d=M1404,251l8,12-9-13-8-16z color=#afa328 /><path d=M1546,224l7,10-9-22-7-16z color=#df9150 /><path d=M1236,234l10,19-9-18-11-31z color=#528491 /><path d=M1317,344l9,15-9-15-9-12z color=#3e9550 /><path d=M1601,288l7,11-10-10-7-10z color=#342315 /><path d=M1213,498l7-43-7,31-9,11z color=#4c4487 /><path d=M1203,327l5-78-7,17-6,72z color=#1b5578 /><path d=M1281,298l9,12-9-9-9-12z color=#193128 /><path class=m d=M1281,301l-8-10M1281,301l10,10 /><path d=M1326,361l9,23-9-25-9-15z color=#398a4a /><path class=m d=M1330,372l9,17 /><path d=M1245,253l10,14-9-14-10-19z color=#59909e /><path class=m d=M1252,263l10,16 /><path d=M1386,208l8,25-9-27-8-36z color=#988d23 /><path d=M1564,255l8,5-10-11-7-6z color=#f29e56 /><path class=m d=M1558,246l-9-17 /><path d=M1449,303l8,13-9-10-8-12z color=#383512 /><path class=m d=M1448,306l-10-10M1448,306l7,11 /><path d=M1059,463l4-62-4,30-4,61z color=#5e1322 /><path class=m d=M1055,492l-7,0 /><path d=M1138,323l11,13-8-11-11-12z color=#6056ac /><path class=m d=M1141,325l-9-10 /><path d=M1537,196l7,16-8-35-8-7z color=#ffac61 /><path class=m d=M1549,229l-9-25M1538,186l6,28 /><path d=M1226,204l11,31-10-31-11-42z color=#4e7d8a /><path class=m d=M1232,220l10,29 /><path d=M1413,263l8,11-9-11-8-12z color=#312d0b /><path class=m d=M1419,271l8,13 /><path d=M1198,123l9-5-9-12-7,48z color=#619dad /><path d=M1059,431l4-66-5,24-3,72z color=#611423 /><path class=m d=M1050,492l6-39 /><path d=M1184,420l12,45-10-43-12-38z color=#484080 /><path class=m d=M1206,493l-10-28M1196,465l10,6 /><path d=M1111,291l10,12-8-10-11-12z color=#564cac /><path d=M1528,265l10-39-10-13-11,67z color=#a36226 /><path class=m d=M1517,280l-11,18 /><path d=M1254,266l9,12-8-11-10-14z color=#5e98a7 /><path d=M1611,296l7,13-10-10-7-11z color=#372517 /><path class=m d=M1608,299l6,13 /><path d=M1528,170l8,7-9-37-9,26z color=#ffde89 /><path class=m d=M1540,204l-8-30M1532,174l-9-21M1523,153l-10,4 /><path d=M1574,265l7,5-9-10-8-5z color=#f09c55 /><path class=m d=M1568,257l-10-11M1579,268l7,10 /><path d=M1372,488l9-42-10,33-8,13z color=#376b57 /><path d=M1370,369l9-69-9,14-9,77z color=#396d2b /><path class=m d=M1359,437l9-62 /><path d=M1345,420l8,48-9-43-9-43z color=#182e26 /><path class=m d=M1362,491l-9-23 /><path d=M1358,123l9-2-9-18-9,46z color=#dbcc36 /><path class=m d=M1341,221l8-72M1349,149l9-46M1358,103l9,24 /><path d=M1496,380l5,48-8-41-6-33z color=#3a3613 /><path class=m d=M1509,469l-8-41 /><path d=M1290,308l9,12-9-10-9-12z color=#193028 /><path class=m d=M1290,310l-9-9 /><path d=M1539,384l11-52-11,14-12,70z color=#726333 /><path class=m d=M1533,381l-12,25 /><path d=M1458,313l8,15-9-12-8-13z color=#393613 /><path class=m d=M1457,316l-9-10 /><path d=M1540,415l11-52-12,21-11,65z color=#696637 /><path d=M1377,170l8,36-9-41-8-33z color=#b0a429 /><path class=m d=M1378,175l9,44 /><path d=M1528,213l9-17-9-26-10,50z color=#faa356 /><path class=m d=M1509,294l12-76M1521,218l9-41M1530,177l8,9 /><path d=M1524,468l7,8-10,9-6-45z color=#554f14 /><path d=M1422,273l8,11-9-10-8-11z color=#312d0b /><path d=M1360,273l9-69-10,9-8,79z color=#5a783c /><path class=m d=M1351,292l-9,10 /><path d=M1211,366l6-71-7,13-6,77z color=#2f5278 /><path d=M1147,334l11,14-9-12-11-13z color=#5e54a8 /><path class=m d=M1149,336l-8-11M1153,342l11,11 /><path d=M1539,346l10-46-11,5-11,66z color=#7f602c /><path class=m d=M1524,422l12-69 /><path d=M1621,305l6,14-9-10-7-13z color=#3b2718 /><path d=M1216,162l11,42-10-44-11-34z color=#5f99a9 /><path d=M1661,361l1,56-7-40-4-37z color=#442e1c /><path d=M1058,389l4-62-6,13-3,76z color=#6b1f2e /><path class=m d=M1055,378l-6,17 /><path d=M1201,266l6-70-8,11-5,80z color=#185a79 /><path class=m d=M1194,287l-7,11M1191,337l6-61 /><path d=M1584,273l7,6-10-9-7-5z color=#e59551 /><path class=m d=M1578,267l-10-10 /><path d=M1538,226l8-2-9-28-9,17z color=#ffd475 /><path d=M1263,277l9,12-9-11-9-12z color=#619cac /><path d=M1202,486l11,12-9-1-12-47z color=#211d42 /><path d=M1547,244l8-1-9-19-8,2z color=#ffd26f /><path class=m d=M1550,233l7,9 /><path d=M1515,440l6,45-9-23-5-62z color=#484210 /><path d=M1468,324l7,17-9-13-8-15z color=#3a3613 /><path class=m d=M1466,328l-9-12M1468,331l8,14 /><path d=M1119,301l11,12-9-10-10-12z color=#564cad /><path class=m d=M1124,305l10,12 /><path d=M1368,132l8,33-9-44-9,2z color=#ffef3f /><path d=M1538,305l10-35-10-7-10,56z color=#9a6325 /><path d=M1091,271l11,10-8-12-12-11z color=#7456ab /><path class=m d=M1094,269l11,13 /><path d=M1206,126l11,34-10-42-9,5z color=#8fe3fa /><path class=m d=M1210,128l11,54 /><path d=M1299,318l9,14-9-12-9-12z color=#193128 /><path class=m d=M1299,320l-9-10M1301,323l9,12 /><path d=M1541,437l11-47-12,25-11,55z color=#645f2a /><path class=m d=M1529,470l-11,16M1521,485l8-15 /><path d=M1557,257l7-2-9-12-8,1z color=#ffd26b /><path d=M1538,263l9-19-9-18-10,39z color=#ed933f /><path class=m d=M1528,265l-11,15M1522,330l11-66M1533,264l9-29M1542,235l8-2 /><path d=M1198,158l8-32-8-3-6,66z color=#5194b1 /><path class=m d=M1195,156l-7,32M1188,253l5-72M1193,181l7-57M1200,124l10,4 /><path d=M1487,354l6,33-8-28-8-22z color=#3b3713 /><path class=m d=M1501,428l-8-41M1489,373l6,33 /><path d=M1432,283l8,11-10-10-8-11z color=#322f0c /><path d=M1632,315l5,17-10-13-6-14z color=#3e2a19 /><path class=m d=M1630,323l5,19 /><path d=M1174,384l12,38-10-36-12-25z color=#4b4386 /><path class=m d=M1196,465l-10-43 /><path d=M1156,346l10,17-8-15-11-14z color=#5a50a0 /><path class=m d=M1158,348l-9-12 /><path d=M1359,161l9-29-10-9-8,65z color=#abae38 /><path class=m d=M1354,156l-9,29 /><path d=M1477,337l8,22-10-18-7-17z color=#3a3713 /><path class=m d=M1493,387l-8-28M1485,359l-10-18M1475,341l-9-13 /><path d=M1359,213l9-52-9,0-9,77z color=#788a38 /><path class=m d=M1344,300l9-68 /><path d=M1199,207l7-54-8,5-5,77z color=#2e6e8b /><path d=M1651,340l4,37-8-27-5-24z color=#432d1c /><path class=m d=M1651,364l3,44 /><path d=M1594,281l7,7-10-9-7-6z color=#da8d4d /><path class=m d=M1588,276l-10-9 /><path d=M1370,314l8-57-9,0-9,77z color=#4f7b3d /><path d=M1396,242l8,9-9-17-9-15z color=#bec13c /><path d=M1642,326l5,24-10-18-5-17z color=#412c1b /><path d=M1363,478l9,10-9,4-9-46z color=#2a434a /><path d=M1164,361l12,25-10-23-10-17z color=#534a94 /><path class=m d=M1186,422l-10-36M1176,386l-10-23M1166,363l-8-15M1173,381l12,26 /><path d=M1271,287l10,11-9-9-9-12z color=#1c2d32 /><path class=m d=M1272,289l9,12 /><path d=M1567,266l7-1-10-10-7,2z color=#ffcd66 /><path class=m d=M1572,262l7,6 /><path d=M1056,340l6-51-8,0-3,72z color=#7f3141 /><path class=m d=M1048,429l3-68 /><path d=M1192,450l12,47-9-33-13-56z color=#1e1a3c /><path d=M1386,219l9,15-9-26-9-20z color=#babd3b /><path class=m d=M1390,221l8,21 /><path d=M1308,329l9,15-9-12-9-14z color=#193128 /><path class=m d=M1308,332l-9-12 /><path d=M1335,382l9,43-9-38-9-29z color=#193028 /><path class=m d=M1353,468l-9-43M1342,416l9,32 /><path d=M1405,256l8,7-9-12-8-9z color=#cbce40 /><path class=m d=M1400,246l-9-19M1411,260l8,11 /><path d=M1235,241l10,12-9-19-10-20z color=#559dbb /><path class=m d=M1243,248l9,15 /><path d=M1548,270l9-13-10-13-9,19z color=#ffba56 /><path class=m d=M1538,263l-10,2 /><path d=M1127,310l11,13-8-10-11-12z color=#554bab /><path d=M1100,282l11,9-9-10-11-10z color=#7657af /><path class=m d=M1097,276l-9-13 /><path d=M1441,292l8,11-9-9-8-11z color=#35310c /><path class=m d=M1440,294l8,12 /><path d=M1210,308l6-59-8,0-5,78z color=#1d5c81 /><path class=m d=M1202,385l6-72 /><path d=M1220,426l7-61-8,23-6,71z color=#49436c /><path d=M1211,495l8-23-6,26-11-12z color=#242048 /><path d=M1534,469l9-20-12,27-7-8z color=#575114 /><path d=M1244,257l10,9-9-13-10-12z color=#5ca9ca /><path d=M1226,214l10,20-10-30-10-25z color=#559dbb /><path class=m d=M1240,247l-9-23 /><path d=M1220,455l7-58-7,29-7,60z color=#3f3965 /><path class=m d=M1213,486l-7,7M1207,498l8-19 /><path d=M1380,421l9-57-9,23-9,68z color=#1c5b17 /><path class=m d=M1362,491l9-36 /><path d=M1604,289l7,7-10-8-7-7z color=#312011 /><path class=m d=M1598,285l-10-9M1601,288l7,11 /><path d=M1354,446l9,46-9-28-9-60z color=#243a40 /><path d=M1317,342l9,19-9-17-9-15z color=#193128 /><path class=m d=M1317,344l-9-12M1321,353l9,19 /><path d=M1377,188l9,20-9-38-9-9z color=#e9ed4e /><path class=m d=M1391,227l-9-29 /><path d=M1577,274l7-1-10-8-7,1z color=#ffc05d /><path d=M1380,387l9-56-10,14-9,72z color=#28641d /><path class=m d=M1375,382l-9,22 /><path d=M1326,358l9,29-9-26-9-19z color=#193128 /><path class=m d=M1344,425l-9-38M1335,387l-9-26M1326,361l-9-17 /><path d=M1368,161l9,9-9-38-9,29z color=#ffff7b /><path class=m d=M1382,198l-10-33M1372,165l-9-18M1363,147l-9,9M1353,232l8-71M1361,161l9-19M1370,142l8,33 /><path d=M1280,297l10,11-9-10-10-11z color=#1d2f34 /><path d=M1414,267l8,6-9-10-8-7z color=#cdd141 /><path class=m d=M1409,259l-9-13 /><path d=M1507,400l5,62-8-43-6-52z color=#433e0f /><path d=M1549,300l9-23-10-7-10,35z color=#b9772f /><path class=m d=M1536,353l10-51 /><path d=M1219,388l7-58-8,13-5,75z color=#404b73 /><path class=m d=M1215,381l-7,19M1206,471l7-53 /><path d=M1369,257l9-39-9-14-9,69z color=#759b4e /><path class=m d=M1360,273l-9,19M1356,340l8-75 /><path d=M1558,277l9-11-10-9-9,13z color=#ffc85d /><path class=m d=M1548,270l-10-7M1546,302l10-27M1556,275l8-11M1564,264l8-2 /><path d=M1381,446l9-52-10,27-9,58z color=#24562e /><path class=m d=M1371,479l-9,12 /><path d=M1543,449l10-38-12,26-10,39z color=#605a1f /><path d=M1206,153l10,9-10-36-8,32z color=#b0ffff /><path class=m d=M1202,142l-7,14 /><path d=M1451,301l7,12-9-10-8-11z color=#38340d /><path d=M1080,267l11,4-9-13-11-7z color=#bd78c3 /><path class=m d=M1082,258l12,11 /><path d=M1216,179l10,25-10-42-10-9z color=#75d2f9 /><path class=m d=M1231,224l-10-32M1221,192l-10-34M1211,158l-9-16M1221,183l11,37 /><path d=M1253,269l10,8-9-11-10-9z color=#5faed1 /><path class=m d=M1249,261l-9-14 /><path d=M1136,320l11,14-9-11-11-13z color=#544aa8 /><path class=m d=M1143,328l10,14 /><path d=M1108,292l11,9-8-10-11-9z color=#7456ab /><path class=m d=M1105,286l-8-10M1113,294l11,11 /><path d=M1550,332l10-31-11-1-10,46z color=#926e32 /><path d=M1369,204l8-16-9-27-9,52z color=#cae767 /><path d=M1379,345l9-47-9,2-9,69z color=#3d742e /><path d=M1615,296l6,9-10-9-7-7z color=#312011 /><path class=m d=M1608,293l-10-8 /><path d=M1684,396l1,60-9-23,0-69z color=#4b311a /><path class=m d=M1685,456l6,8 /><path d=M1208,249l8-40-9-13-6,70z color=#2278a0 /><path class=m d=M1201,266l-7,21 /><path d=M1373,482l8-21-9,27-9-10z color=#2c464e /><path d=M1587,281l7,0-10-8-7,1z color=#ffb254 /><path d=M1424,276l8,7-10-10-8-6z color=#c7cb3f /><path class=m d=M1418,270l-9-11 /><path d=M1219,472l8-48-7,31-7,43z color=#373162 /><path d=M1551,363l10-36-11,5-11,52z color=#81703a /><path class=m d=M1544,358l-11,23 /><path d=M1218,343l8-49-9,1-6,71z color=#335780 /><path d=M1289,306l10,12-9-10-10-11z color=#1e3136 /><path class=m d=M1292,311l9,12 /><path d=M1207,196l9-17-10-26-7,54z color=#55bbe9 /><path class=m d=M1197,276l6-75M1203,201l8-35M1211,166l10,17 /><path d=M1387,239l9,3-10-23-8-1z color=#f8ff7e /><path d=M1378,218l8,1-9-31-8,16z color=#ffff8d /><path class=m d=M1364,265l9-54M1373,211l9-7M1382,204l8,17 /><path d=M1182,408l13,56-11-44-12-44z color=#1e1a3c /><path d=M1460,310l8,14-10-11-7-12z color=#3a360d /><path class=m d=M1461,316l7,15 /><path d=M1568,282l9-8-10-8-9,11z color=#ffc95a /><path d=M1379,300l9-34-10-9-8,57z color=#5e934a /><path class=m d=M1368,375l8-71 /><path d=M1396,256l9,0-9-14-9-3z color=#f5ff79 /><path class=m d=M1402,252l9,8 /><path d=M1089,277l11,5-9-11-11-4z color=#c17bc8 /><path d=M1262,279l9,8-8-10-10-8z color=#5eacce /><path class=m d=M1258,273l-9-12M1263,277l9,12 /><path d=M1144,330l12,16-9-12-11-14z color=#5147a2 /><path d=M1625,303l7,12-11-10-6-9z color=#372413 /><path class=m d=M1618,300l-10-7M1624,307l6,16 /><path d=M1378,257l9-18-9-21-9,39z color=#b6ec7e /><path class=m d=M1369,257l-9,16 /><path d=M1560,301l8-19-10-5-9,23z color=#d98d39 /><path class=m d=M1558,277l-10-7 /><path d=M1063,401l6-47-6,11-4,66z color=#661525 /><path d=M1552,390l10-37-11,10-11,52z color=#77733e /><path class=m d=M1529,470l11-55 /><path d=M1063,365l6-41-7,3-4,62z color=#762233 /><path class=m d=M1060,358l-5,20M1056,453l3-70 /><path d=M1225,233l10,8-9-27-10-5z color=#64ddff /><path class=m d=M1233,234l10,14 /><path d=M1116,301l11,9-8-9-11-9z color=#7153a6 /><path class=m d=M1114,296l-9-10 /><path d=M1070,270l10-3-9-16-10,3z color=#ffbff3 /><path class=m d=M1071,251l11,7 /><path d=M1062,289l8-19-9-16-7,35z color=#e6748c /><path class=m d=M1051,361l3-72M1054,289l7-35M1061,254l10-3 /><path d=M1216,209l10,5-10-35-9,17z color=#7dfdff /><path d=M1235,254l9,3-9-16-10-8z color=#5cd2ff /><path d=M1381,461l9-44-9,29-9,42z color=#2b5445 /><path d=M1345,404l9,60-9-44-10-49z color=#23383e /><path class=m d=M1354,464l8,27 /><path d=M1062,327l8-32-8-6-6,51z color=#92394b /><path d=M1498,367l6,52-8-39-7-35z color=#423d0f /><path class=m d=M1502,409l5,50 /><path d=M1597,287l7,2-10-8-7,0z color=#ffa64d /><path class=m d=M1594,281l7,7 /><path d=M1433,285l8,7-9-9-8-7z color=#bfc23c /><path class=m d=M1428,280l-10-10M1432,283l8,11 /><path d=M1063,430l6-47-6,18-4,62z color=#5f1322 /><path class=m d=M1059,463l-4,29 /><path d=M1217,295l8-34-9-12-6,59z color=#24709e /><path d=M1406,267l8,0-9-11-9,0z color=#f7ff78 /><path d=M1470,320l7,17-9-13-8-14z color=#3d390e /><path d=M1676,364l0,69-7-38-2-54z color=#4d321b /><path class=m d=M1684,427l-8-28 /><path d=M1298,315l10,14-9-11-10-12z color=#1f3338 /><path d=M1216,249l9-16-9-24-8,40z color=#42c1fc /><path class=m d=M1208,249l-7,17M1208,313l6-64M1214,249l9-22M1223,227l10,7 /><path d=M1579,287l8-6-10-7-9,8z color=#ffc656 /><path d=M1153,342l11,19-8-15-12-16z color=#1d1a3b /><path class=m d=M1162,358l11,23 /><path d=M1636,310l6,16-10-11-7-12z color=#3d2816 /><path class=m d=M1628,309l-10-9 /><path d=M1388,266l8-10-9-17-9,18z color=#e8ffa5 /><path class=m d=M1378,257l-9,0M1376,304l9-40M1385,264l9-12M1394,252l8,0 /><path d=M1244,267l9,2-9-12-9-3z color=#5ed9ff /><path d=M1271,288l9,9-9-10-9-8z color=#5ba7c8 /><path class=m d=M1267,283l-9-10 /><path d=M1097,287l11,5-8-10-11-5z color=#ba76c0 /><path class=m d=M1102,284l11,10 /><path d=M1479,331l8,23-10-17-7-17z color=#3f3b0f /><path class=m d=M1482,345l7,28 /><path d=M1172,376l12,44-10-36-12-28z color=#1e1a3c /><path class=m d=M1184,420l12,45 /><path d=M1489,345l7,35-9-26-8-23z color=#413d0f /><path d=M1561,327l9-24-10-2-10,31z color=#a77f3b /><path d=M1079,281l10-4-9-10-10,3z color=#ffbbef /><path d=M1553,411l10-34-11,13-11,47z color=#716c30 /><path class=m d=M1541,437l-12,33 /><path d=M1162,356l12,28-10-23-11-19z color=#1e1a3c /><path d=M1443,293l8,8-10-9-8-7z color=#2c2d0e /><path class=m d=M1437,289l-9-9 /><path d=M1415,275l9,1-10-9-8,0z color=#edff72 /><path d=M1608,293l7,3-11-7-7-2z color=#f89a47 /><path d=M1125,309l11,11-9-10-11-9z color=#6e51a2 /><path class=m d=M1122,306l-8-10M1132,315l11,13 /><path d=M1307,325l10,17-9-13-10-14z color=#21353a /><path class=m d=M1312,335l9,18 /><path d=M1570,303l9-16-11-5-8,19z color=#f29e41 /><path class=m d=M1568,282l-10-5 /><path d=M1225,261l10-7-10-21-9,16z color=#5ef6ff /><path class=m d=M1216,249l-8,0 /><path d=M1646,319l5,21-9-14-6-16z color=#432c18 /><path class=m d=M1639,318l-11-9M1647,333l4,31 /><path d=M1388,298l9-23-9-9-9,34z color=#77b95e /><path d=M1667,341l2,54-8-34-4-33z color=#4b311a /><path class=m d=M1676,399l-8-31M1667,386l0,62 /><path d=M1070,295l9-14-9-11-8,19z color=#ff8ba6 /><path class=m d=M1070,270l-9-16 /><path d=M1397,275l9-8-10-11-8,10z color=#f8ffb1 /><path class=m d=M1388,266l-10-9 /><path d=M1546,451l9-25-12,23-9,20z color=#534d13 /><path d=M1253,276l9,3-9-10-9-2z color=#5cd6ff /><path class=m d=M1253,269l10,8 /><path d=M1657,328l4,33-10-21-5-21z color=#482f19 /><path class=m d=M1668,368l-9-23M1659,345l-10-16M1649,329l-10-11 /><path d=M1389,331l9-32-10-1-9,47z color=#468635 /><path d=M1589,292l8-5-10-6-8,6z color=#ffc051 /><path class=m d=M1587,281l7,0 /><path d=M1335,371l10,49-10-38-9-31z color=#23383e /><path d=M1280,297l9,9-9-9-9-9z color=#57a0c0 /><path class=m d=M1276,292l-9-9M1283,299l9,12 /><path d=M1218,477l8-35-7,30-8,23z color=#27224d /><path d=M1199,460l12,35-9-9-13-62z color=#32254a /><path d=M1562,353l9-28-10,2-10,36z color=#958243 /><path class=m d=M1556,345l-12,13M1540,415l11-52 /><path d=M1226,294l8-21-9-12-8,34z color=#3495d0 /><path d=M1389,364l9-38-9,5-9,56z color=#2d7021 /><path class=m d=M1384,359l-9,23M1371,455l9-68 /><path d=M1317,337l9,21-9-16-10-17z color=#22363c /><path d=M1234,273l10-6-9-13-10,7z color=#63ffff /><path class=m d=M1225,261l-9-12 /><path d=M1528,437l6,32-10-1-5-61z color=#53551a /><path d=M1106,295l10,6-8-9-11-5z color=#b06fb6 /><path d=M1226,330l8-32-8-4-8,49z color=#3b6594 /><path class=m d=M1213,418l5-75 /><path d=M1227,365l7-40-8,5-7,58z color=#475480 /><path class=m d=M1223,359l-8,22 /><path d=M1087,289l10-2-8-10-10,4z color=#ffafe2 /><path class=m d=M1091,280l11,4 /><path d=M1452,300l8,10-9-9-8-8z color=#2e2f0e /><path class=m d=M1447,297l-10-8M1453,303l8,13 /><path d=M1425,283l8,2-9-9-9-1z color=#deff69 /><path class=m d=M1424,276l8,7 /><path d=M1618,298l7,5-10-7-7-3z color=#e48e41 /><path class=m d=M1617,298l7,9 /><path d=M1326,351l9,31-9-24-9-21z color=#22373d /><path class=m d=M1333,376l9,40 /><path d=M1227,397l8-43-8,11-7,61z color=#4f4974 /><path class=m d=M1215,479l7-60 /><path d=M1390,394l9-40-10,10-9,57z color=#1f6419 /><path d=M1069,324l9-23-8-6-8,32z color=#ac4459 /><path class=m d=M1059,383l5-57 /><path d=M1133,318l11,12-8-10-11-11z color=#6a4e9d /><path class=m d=M1130,315l-8-9 /><path d=M1406,282l9-7-9-8-9,8z color=#f5ffac /><path d=M1581,305l8-13-10-5-9,16z color=#ffac48 /><path class=m d=M1579,287l-11-5M1579,287l8-6 /><path d=M1519,407l5,61-9-28-4-67z color=#474816 /><path d=M1571,325l10-20-11-2-9,24z color=#be9144 /><path class=m d=M1551,363l10-36M1561,327l9-24M1570,303l9-16 /><path d=M1555,426l10-28-12,13-10,38z color=#6f6824 /><path d=M1261,285l10,3-9-9-9-3z color=#56caff /><path d=M1209,476l9,1-7,18-12-35z color=#3a2b56 /><path d=M1078,301l9-12-8-8-9,14z color=#ff94b1 /><path class=m d=M1079,281l-9-11M1064,326l8-30M1072,296l9-13M1081,283l10-3 /><path d=M1398,299l8-17-9-7-9,23z color=#8dd970 /><path class=m d=M1397,275l-9-9 /><path d=M1600,297l8-4-11-6-8,5z color=#ffb74a /><path d=M1227,424l8-43-8,16-7,58z color=#433d6b /><path class=m d=M1220,455l-7,31 /><path d=M1563,377l10-28-11,4-10,37z color=#8c8749 /><path d=M1289,305l9,10-9-9-9-9z color=#549ab9 /><path class=m d=M1285,301l-9-9 /><path d=M1243,282l10-6-9-9-10,6z color=#5cffff /><path class=m d=M1244,267l9,2 /><path d=M1382,464l9-30-10,27-8,21z color=#2d484f /><path d=M1189,424l13,62-10-36-13-62z color=#2b203f /><path class=m d=M1205,477l-9-22M1195,459l12,39 /><path d=M1069,354l8-30-8,0-6,41z color=#87273b /><path class=m d=M1066,345l-6,13 /><path d=M1538,448l8,3-12,18-6-32z color=#5d5e1d /><path class=m d=M1531,453l-9-15M1537,464l9-20 /><path d=M1364,449l9,33-10-4-9-62z color=#284957 /><path class=m d=M1366,479l8,2 /><path d=M1462,308l8,12-10-10-8-10z color=#333410 /><path class=m d=M1456,305l-9-8 /><path d=M1390,417l9-38-9,15-9,52z color=#285f33 /><path class=m d=M1381,446l-10,33M1374,481l9-42 /><path d=M1434,290l9,3-10-8-8-2z color=#cfef61 /><path d=M1114,303l11,6-9-8-10-6z color=#a668ac /><path class=m d=M1121,305l11,10 /><path d=M1629,303l7,7-11-7-7-5z color=#301e0e /><path d=M1234,298l9-16-9-9-8,21z color=#40b1f5 /><path class=m d=M1234,273l-9-12M1218,343l8-49M1226,294l8-21M1234,273l10-6 /><path d=M1095,296l11-1-9-8-10,2z color=#ffa1d3 /><path d=M1142,326l11,16-9-12-11-12z color=#241a35 /><path class=m d=M1139,324l-9-9M1151,339l11,19 /><path d=M1069,383l7-34-7,5-6,47z color=#75182a /><path class=m d=M1061,447l5-55 /><path d=M1416,288l9-5-10-8-9,7z color=#edffa4 /><path class=m d=M1415,275l9,1 /><path d=M1398,326l9-24-9-3-9,32z color=#51993e /><path class=m d=M1380,387l9-56 /><path d=M1270,292l10,5-9-9-10-3z color=#50beef /><path class=m d=M1273,290l10,9 /><path d=M1591,307l9-10-11-5-8,13z color=#ffb64c /><path class=m d=M1589,292l-10-5 /><path d=M1573,349l9-24-11,0-9,28z color=#a8934d /><path class=m d=M1567,339l-11,6 /><path d=M1354,416l9,62-9-32-9-65z color=#223e4a /><path d=M1298,313l9,12-9-10-9-10z color=#192e37 /><path class=m d=M1294,310l-9-9M1303,320l9,15 /><path d=M1610,301l8-3-10-5-8,4z color=#ffac42 /><path class=m d=M1610,294l7,4 /><path d=M1472,316l7,15-9-11-8-12z color=#373811 /><path class=m d=M1466,314l-10-9M1475,325l7,20 /><path d=M1511,373l4,67-8-40-6-51z color=#444515 /><path class=m d=M1522,438l-9-31M1515,440l6,45 /><path d=M1252,288l9-3-8-9-10,6z color=#51f4ff /><path d=M1565,398l9-26-11,5-10,34z color=#88823a /><path class=m d=M1553,411l-12,26M1546,444l10-36 /><path d=M1373,463l9,1-9,18-9-33z color=#2d5364 /><path class=m d=M1368,466l-9-19 /><path d=M1226,442l9-37-8,19-8,48z color=#393366 /><path class=m d=M1215,486l8-29 /><path d=M1077,324l9-19-8-4-9,23z color=#c64f67 /><path d=M1407,302l9-14-10-6-8,17z color=#9cef7c /><path class=m d=M1406,282l-9-7M1389,331l9-32M1398,299l8-17M1406,282l9-7 /><path d=M1582,325l9-18-10-2-10,20z color=#d4a24d /><path d=M1086,305l9-9-8-7-9,12z color=#ff98b6 /><path class=m d=M1087,289l-8-8 /><path d=M1640,308l6,11-10-9-7-7z color=#372210 /><path class=m d=M1641,314l6,19 /><path d=M1234,325l9-23-9-4-8,32z color=#4475aa /><path d=M1068,409l8-34-7,8-6,47z color=#6d1627 /><path class=m d=M1063,430l-4,33 /><path d=M1444,296l8,4-9-7-9-3z color=#c1df5a /><path class=m d=M1445,295l8,8 /><path d=M1151,336l11,20-9-14-11-16z color=#261c38 /><path class=m d=M1148,334l-9-10 /><path d=M1179,388l13,62-10-42-13-45z color=#2a1f3d /><path class=m d=M1196,455l-10-36 /><path d=M1123,310l10,8-8-9-11-6z color=#9b61a1 /><path d=M1391,434l9-32-10,15-9,44z color=#305c4c /><path d=M1399,354l9-29-10,1-9,38z color=#348226 /><path class=m d=M1394,345l-10,14 /><path d=M1243,302l9-14-9-6-9,16z color=#46c0ff /><path class=m d=M1243,282l-9-9 /><path d=M1426,293l8-3-9-7-9,5z color=#e2ff9b /><path d=M1482,325l7,20-10-14-7-15z color=#3c3d13 /><path class=m d=M1476,323l-10-9 /><path d=M1104,303l10,0-8-8-11,1z color=#ff94c4 /><path class=m d=M1110,299l11,6 /><path d=M1307,321l10,16-10-12-9-12z color=#1b323c /><path class=m d=M1303,319l-9-9 /><path d=M1235,354l8-29-9,0-7,40z color=#526093 /><path class=m d=M1230,345l-7,14M1222,419l7-57 /><path d=M1279,300l10,5-9-8-10-5z color=#4ab2e1 /><path d=M1501,349l6,51-9-33-7-32z color=#424415 /><path class=m d=M1513,407l-9-32 /><path d=M1574,372l10-25-11,2-10,28z color=#a09b54 /><path class=m d=M1556,408l10-32 /><path d=M1602,310l8-9-10-4-9,10z color=#ffb84d /><path class=m d=M1600,297l-11-5M1602,298l8-4 /><path d=M1558,434l9-20-12,12-9,25z color=#71691a /><path d=M1621,304l8-1-11-5-8,3z color=#ff9f3c /><path d=M1160,348l12,28-10-20-11-20z color=#281d3b /><path class=m d=M1157,346l-9-12 /><path d=M1651,313l6,15-11-9-6-11z color=#422913 /><path d=M1491,335l7,32-9-22-7-20z color=#404114 /><path class=m d=M1504,375l-9-24M1495,351l-10-16M1485,335l-9-12M1496,361l6,48 /><path d=M1169,363l13,45-10-32-12-28z color=#291e3d /><path class=m d=M1186,419l-11-33M1175,386l-9-24M1166,362l-9-16M1172,376l12,44 /><path d=M1076,349l9-23-8-2-8,30z color=#992d43 /><path class=m d=M1073,339l-7,6M1066,392l7-40 /><path d=M1261,295l9-3-9-7-9,3z color=#48e5ff /><path class=m d=M1264,287l9,3 /><path d=M1345,381l9,65-9-42-10-47z color=#203c47 /><path class=m d=M1359,447l-10-33 /><path d=M1454,302l8,6-10-8-8-4z color=#b3ce53 /><path d=M1399,379l10-30-10,5-9,40z color=#25751d /><path class=m d=M1383,439l9-49 /><path d=M1417,305l9-12-10-5-9,14z color=#a9ff86 /><path class=m d=M1416,288l-10-6 /><path d=M1549,443l9-9-12,17-8-3z color=#505219 /><path class=m d=M1542,450l-11,3 /><path d=M1408,325l9-20-10-3-9,24z color=#5eb048 /><path d=M1584,347l9-21-11-1-9,24z color=#b9a255 /><path class=m d=M1578,337l-11,2M1566,376l10-27 /><path d=M1217,470l9-17-8,24-9-1z color=#372851 /><path class=m d=M1214,477l-9,0 /><path d=M1593,326l9-16-11-3-9,18z color=#e4ae53 /><path class=m d=M1576,349l9-24M1585,325l9-17M1594,308l8-10 /><path d=M1567,414l9-21-11,5-10,28z color=#8a822d /><path d=M1235,381l8-31-8,4-8,43z color=#5c5487 /><path d=M1094,310l10-7-9-7-9,9z color=#ff99b8 /><path class=m d=M1095,296l-8-7M1100,299l10,0 /><path d=M1317,331l9,20-9-14-10-16z color=#1d3640 /><path class=m d=M1312,329l-9-10M1324,347l9,29 /><path d=M1131,317l11,9-9-8-10-8z color=#905a95 /><path class=m d=M1140,324l11,15 /><path d=M1435,299l9-3-10-6-8,3z color=#d6ff91 /><path class=m d=M1437,291l8,4 /><path d=M1085,326l9-16-8-5-9,19z color=#dc5974 /><path class=m d=M1073,352l8-27M1081,325l9-17M1090,308l10-9 /><path d=M1662,317l5,24-10-13-6-15z color=#4c2f15 /><path class=m d=M1664,338l3,48 /><path d=M1243,325l9-20-9-3-9,23z color=#5088c5 /><path class=m d=M1229,362l8-37 /><path d=M1252,305l9-10-9-7-9,14z color=#4acbff /><path class=m d=M1252,288l-9-6M1237,325l8-23M1245,302l9-12M1254,290l10-3 /><path d=M1112,309l11,1-9-7-10,0z color=#f389b5 /><path d=M1289,306l9,7-9-8-10-5z color=#45a5d1 /><path class=m d=M1293,309l10,11 /><path d=M1226,453l8-29-8,18-8,35z color=#312b63 /><path d=M1076,375l8-27-8,1-7,34z color=#871c31 /><path d=M1632,307l8,1-11-5-8,1z color=#f69235 /><path class=m d=M1634,306l7,8 /><path d=M1335,357l10,47-10-33-9-29z color=#203a46 /><path class=m d=M1349,414l-9-33M1345,404l9,60 /><path d=M1326,342l9,29-9-20-9-20z color=#1f3944 /><path class=m d=M1340,381l-9-24M1331,357l-10-16M1321,341l-9-12 /><path d=M1576,393l10-24-12,3-9,26z color=#9e9744 /><path class=m d=M1565,398l-12,13 /><path d=M1613,313l8-9-11-3-8,9z color=#ffb54a /><path class=m d=M1610,301l-10-4 /><path d=M1684,330l0,66-8-32-3-43z color=#553518 /><path class=m d=M1684,396l1,60 /><path d=M1464,308l8,8-10-8-8-6z color=#272d12 /><path class=m d=M1467,312l8,13 /><path d=M1673,321l3,43-9-23-5-24z color=#533317 /><path d=M1270,301l9-1-9-8-9,3z color=#40d7ff /><path d=M1400,402l9-29-10,6-9,38z color=#2f713d /><path class=m d=M1390,417l-9,29 /><path d=M1235,405l8-31-8,7-8,43z color=#4e477e /><path class=m d=M1227,424l-7,31M1223,457l8-43 /><path d=M1409,349l9-24-10,0-9,29z color=#3c932c /><path class=m d=M1403,339l-9,6M1392,390l9-38 /><path d=M1383,456l9-13-10,21-9-1z color=#284b59 /><path class=m d=M1378,463l-10,3 /><path d=M1392,443l9-24-10,15-9,30z color=#395d66 /><path d=M1427,308l8-9-9-6-9,12z color=#b1ff8d /><path class=m d=M1426,293l-10-5M1428,295l9-4 /><path d=M1586,369l9-22-11,0-10,25z color=#afa95c /><path d=M1604,327l9-14-11-3-9,16z color=#ecb456 /><path d=M1140,324l11,12-9-10-11-9z color=#87558c /><path d=M1445,304l9-2-10-6-9,3z color=#c8ff86 /><path d=M1595,347l9-20-11-1-9,21z color=#c7ae5c /><path class=m d=M1588,337l-10,0 /><path d=M1418,325l9-17-10-3-9,20z color=#69c551 /><path class=m d=M1401,352l9-27M1410,325l9-19M1419,306l9-11 /><path d=M1102,315l10-6-8-6-10,7z color=#ff97b6 /><path class=m d=M1104,303l-9-7 /><path d=M1243,350l9-24-9-1-8,29z color=#5d6da6 /><path class=m d=M1239,339l-9,6 /><path d=M1075,399l8-27-7,3-8,34z color=#801a2e /><path class=m d=M1068,409l-5,21 /><path d=M1084,348l9-20-8-2-9,23z color=#ad334c /><path class=m d=M1080,338l-7,1 /><path d=M1298,312l9,9-9-8-9-7z color=#3f97bf /><path d=M1643,310l8,3-11-5-8-1z color=#db812f /><path d=M1261,309l9-8-9-6-9,10z color=#4dd2ff /><path class=m d=M1261,295l-9-7 /><path d=M1121,315l10,2-8-7-11-1z color=#e27ea8 /><path class=m d=M1129,315l11,9 /><path d=M1474,314l8,11-10-9-8-8z color=#2d3415 /><path d=M1093,328l9-13-8-5-9,16z color=#ef617e /><path d=M1624,315l8-8-11-3-8,9z color=#ffae45 /><path class=m d=M1621,304l-11-3M1627,306l7,0 /><path d=M1252,326l9-17-9-4-9,20z color=#5a98dd /><path d=M1569,425l9-15-11,4-9,20z color=#938922 /><path d=M1279,306l10,0-10-6-9,1z color=#39c8ff /><path class=m d=M1284,303l9,6 /><path d=M1409,373l9-25-9,1-10,30z color=#2b8722 /><path d=M1578,410l9-20-11,3-9,21z color=#a49a37 /><path d=M1234,424l9-27-8,8-9,37z color=#453e7a /><path d=M1401,419l9-24-10,7-9,32z color=#3b715d /><path class=m d=M1387,453l9-26 /><path d=M1148,332l12,16-9-12-11-12z color=#2f1e31 /><path d=M1436,312l9-8-10-5-8,9z color=#b2ff8d /><path class=m d=M1435,299l-9-6 /><path d=M1561,434l8-9-11,9-9,9z color=#3a3b12 /><path class=m d=M1553,438l-11,12M1563,429l9-17 /><path d=M1587,390l10-22-11,1-10,24z color=#aea64b /><path class=m d=M1576,393l-11,5M1572,412l10-20 /><path d=M1243,374l9-26-9,2-8,31z color=#6a619b /><path class=m d=M1231,414l8-36 /><path d=M1455,308l9,0-10-6-9,2z color=#baf77c /><path class=m d=M1459,305l8,7 /><path d=M1196,422l13,54-10-16-14-71z color=#3f2841 /><path class=m d=M1204,468l11,18 /><path d=M1615,329l9-14-11-2-9,14z color=#edb556 /><path class=m d=M1618,314l9-8 /><path d=M1307,319l10,12-10-10-9-9z color=#122b37 /><path class=m d=M1314,328l10,19 /><path d=M1083,372l9-24-8,0-8,27z color=#961f37 /><path class=m d=M1073,402l8-29 /><path d=M1484,320l7,15-9-10-8-11z color=#343d18 /><path class=m d=M1489,333l7,28 /><path d=M1597,368l9-21-11,0-9,22z color=#bab463 /><path class=m d=M1582,392l9-23 /><path d=M1418,348l9-21-9-2-9,24z color=#43a331 /><path class=m d=M1413,337l-10,2 /><path d=M1206,446l11,24-8,6-13-54z color=#492e4b /><path d=M1606,347l9-18-11-2-9,20z color=#ceb560 /><path class=m d=M1600,337l-12,0M1591,369l9-22M1600,347l10-19M1610,328l8-14 /><path d=M1427,327l9-15-9-4-9,17z color=#73d559 /><path d=M1533,396l5,52-10-11-4-71z color=#475121 /><path class=m d=M1531,440l6,24 /><path d=M1110,319l11-4-9-6-10,6z color=#ff90ae /><path class=m d=M1112,309l-8-6M1118,313l11,2 /><path d=M1655,312l7,5-11-4-8-3z color=#39220c /><path class=m d=M1659,316l5,22 /><path d=M1270,313l9-7-9-5-9,8z color=#4cd2ff /><path class=m d=M1270,301l-9-6M1275,304l9-1 /><path d=M1129,320l11,4-9-7-10-2z color=#ce7399 /><path d=M1543,418l6,25-11,5-5-52z color=#4d5924 /><path d=M1635,316l8-6-11-3-8,8z color=#ffa640 /><path class=m d=M1632,307l-11-3 /><path d=M1410,395l9-25-10,3-9,29z color=#378447 /><path class=m d=M1400,402l-10,15M1396,427l9-29 /><path d=M1185,389l14,71-10-36-14-60z color=#3b253d /><path d=M1252,348l9-21-9-1-9,24z color=#697bba /><path class=m d=M1247,338l-8,1M1239,378l8-29 /><path d=M1288,311l10,1-9-6-10,0z color=#33b9f8 /><path d=M1157,340l12,23-9-15-12-16z color=#342136 /><path class=m d=M1160,348l12,28 /><path d=M1225,455l9-17-8,15-9,17z color=#2d2143 /><path class=m d=M1221,461l-7,16 /><path d=M1092,348l9-18-8-2-9,20z color=#be3954 /><path class=m d=M1088,338l-8,0M1081,373l9-25 /><path d=M1101,330l9-11-8-4-9,13z color=#fa6685 /><path class=m d=M1090,348l9-18M1099,330l9-12M1108,318l10-5 /><path d=M1524,366l4,71-9-30-5-64z color=#434d1f /><path d=M1261,327l9-14-9-4-9,17z color=#62a5ef /><path class=m d=M1247,349l9-23M1256,326l9-15M1265,311l10-7 /><path d=M1243,397l9-26-9,3-8,31z color=#5c5494 /><path class=m d=M1235,405l-8,19 /><path d=M1494,325l7,24-10-14-7-15z color=#3b451c /><path d=M1446,315l9-7-10-4-9,8z color=#adff89 /><path class=m d=M1445,304l-10-5M1450,306l9-1 /><path d=M1316,326l10,16-9-11-10-12z color=#14313f /><path d=M1465,311l9,3-10-6-9,0z color=#aae371 /><path d=M1364,409l9,54-9-14-9-71z color=#1c4354 /><path d=M1082,395l9-24-8,1-8,27z color=#901e34 /><path class=m d=M1075,399l-7,10 /><path d=M1589,409l10-20-12,1-9,20z color=#b7ac3e /><path d=M1234,438l9-21-9,7-8,29z color=#3e367c /><path d=M1175,364l14,60-10-36-13-39z color=#39243c /><path class=m d=M1181,397l14,62 /><path d=M1166,349l13,39-10-25-12-23z color=#38233a /><path d=M1580,423l9-14-11,1-9,15z color=#b9ac2c /><path d=M1627,329l8-13-11-1-9,14z color=#e9b154 /><path d=M1419,370l9-23-10,1-9,25z color=#309426 /><path class=m d=M1405,398l9-26 /><path d=M1514,343l5,64-8-34-7-42z color=#424c1e /><path d=M1599,389l9-21-11,0-10,22z color=#b8b050 /><path class=m d=M1587,390l-11,3 /><path d=M1393,444l9-13-10,12-9,13z color=#203a46 /><path class=m d=M1387,449l-9,14 /><path d=M1504,331l7,42-10-24-7-24z color=#404a1e /><path class=m d=M1511,373l4,67 /><path d=M1402,431l9-18-10,6-9,24z color=#4a7783 /><path d=M1667,310l6,11-11-4-7-5z color=#4c2d10 /><path d=M1374,432l9,24-10,7-9-54z color=#1f4b5f /><path class=m d=M1378,459l9-6 /><path d=M1608,368l9-21-11,0-9,21z color=#c1ba66 /><path d=M1617,347l10-18-12,0-9,18z color=#cfb560 /><path class=m d=M1611,338l-11-1 /><path d=M1437,328l9-13-10-3-9,15z color=#78de5d /><path class=m d=M1441,313l9-7 /><path d=M1119,323l10-3-8-5-11,4z color=#ff88a5 /><path class=m d=M1121,315l-9-6 /><path d=M1428,347l9-19-10-1-9,21z color=#49b136 /><path class=m d=M1423,337l-10,0M1414,372l9-24M1423,348l9-20M1432,328l9-15 /><path d=M1553,427l8,7-12,9-6-25z color=#4d5924 /><path class=m d=M1555,438l8-9 /><path d=M1279,317l9-6-9-5-9,7z color=#47ccff /><path class=m d=M1279,306l-9-5 /><path d=M1355,378l9,71-10-33-9-62z color=#1a3e4f /><path class=m d=M1357,424l9,55 /><path d=M1137,324l11,8-8-8-11-4z color=#b86689 /><path d=M1647,316l8-4-12-2-8,6z color=#eb9639 /><path class=m d=M1643,310l-11-3M1652,311l7,5 /><path d=M1252,371l9-23-9,0-9,26z color=#756bab /><path d=M1214,452l11,3-8,15-11-24z color=#4b2f4e /><path class=m d=M1223,458l9-17 /><path d=M1572,430l8-7-11,2-8,9z color=#a0a232 /><path class=m d=M1565,430l-12,8 /><path d=M1326,333l9,24-9-15-10-16z color=#173746 /><path d=M1298,315l9,4-9-7-10-1z color=#2ea9e3 /><path class=m d=M1305,317l9,11 /><path d=M1411,413l9-21-10,3-9,24z color=#478870 /><path d=M1091,371l9-22-8-1-9,24z color=#a3223c /><path d=M1243,417l9-23-9,3-9,27z color=#534a93 /><path class=m d=M1232,441l9-22 /><path d=M1476,315l8,5-10-6-9-3z color=#97ca64 /><path class=m d=M1481,318l8,15 /><path d=M1109,333l10-10-9-4-9,11z color=#fd6786 /><path d=M1270,329l9-12-9-4-9,14z color=#67adfa /><path d=M1261,348l9-19-9-2-9,21z color=#7386cb /><path class=m d=M1256,338l-9,0 /><path d=M1457,317l8-6-10-3-9,7z color=#a6ff83 /><path class=m d=M1455,308l-10-4 /><path d=M1345,354l9,62-9-35-10-40z color=#193d4d /><path d=M1100,349l9-16-8-3-9,18z color=#c93d59 /><path class=m d=M1096,339l-8-1 /><path d=M1335,341l10,40-10-24-9-24z color=#193b4b /><path class=m d=M1335,357l10,47 /><path d=M1420,392l9-23-10,1-9,25z color=#3e924f /><path class=m d=M1410,395l-10,7 /><path d=M1638,329l9-13-12,0-8,13z color=#e1ab50 /><path class=m d=M1644,316l8-5 /><path d=M1601,408l9-19-11,0-10,20z color=#c3b742 /><path d=M1679,303l5,27-11-9-6-11z color=#5d3714 /><path class=m d=M1684,330l0,66 /><path d=M1592,423l9-15-12,1-9,14z color=#d3c434 /><path d=M1610,389l9-21-11,0-9,21z color=#bfb653 /><path class=m d=M1599,389l-12,1M1598,408l9-19 /><path d=M1384,439l9,5-10,12-9-24z color=#1f4c60 /><path d=M1252,394l9-24-9,1-9,26z color=#675da5 /><path class=m d=M1243,397l-8,8M1241,419l8-25 /><path d=M1429,369l9-21-10-1-9,23z color=#339f29 /><path d=M1448,330l9-13-11-2-9,13z color=#78e05d /><path d=M1629,347l9-18-11,0-10,18z color=#cbb15d /><path class=m d=M1622,338l-11,0M1635,329l9-13 /><path d=M1619,368l10-21-12,0-9,21z color=#c2bb67 /><path class=m d=M1607,389l10-21M1617,368l9-21M1626,347l9-18 /><path d=M1146,329l11,11-9-8-11-8z color=#341d26 /><path class=m d=M1148,332l12,16 /><path d=M1288,320l10-5-10-4-9,6z color=#42c2ff /><path class=m d=M1288,311l-9-5M1295,314l10,3 /><path d=M1127,326l10-2-8-4-10,3z color=#ff7e9a /><path class=m d=M1129,320l-8-5 /><path d=M1307,320l9,6-9-7-9-4z color=#2897ca /><path d=M1438,348l10-18-11-2-9,19z color=#4db939 /><path class=m d=M1433,338l-10-1 /><path d=M1090,393l9-22-8,0-9,24z color=#9b2038 /><path class=m d=M1082,395l-7,4 /><path d=M1659,315l8-5-12,2-8,4z color=#c17b2d /><path class=m d=M1655,312l-12-2 /><path d=M1564,428l8,2-11,4-8-7z color=#404a1e /><path d=M1486,318l8,7-10-5-8-5z color=#28361b /><path d=M1583,431l9-8-12,0-8,7z color=#ccd042 /><path class=m d=M1576,427l-11,3M1589,423l9-15 /><path d=M1233,445l9-13-8,6-9,17z color=#523c78 /><path class=m d=M1229,446l-8,15 /><path d=M1261,370l9-21-9-1-9,23z color=#7f74b9 /><path class=m d=M1249,394l9-24 /><path d=M1412,427l9-16-10,2-9,18z color=#5b93a2 /><path d=M1467,319l9-4-11-4-8,6z color=#9df57b /><path class=m d=M1465,311l-10-3M1473,314l8,4 /><path d=M1242,432l9-18-8,3-9,21z color=#4d449a /><path d=M1279,332l9-12-9-3-9,12z color=#68affd /><path class=m d=M1286,319l9-5 /><path d=M1099,371l9-20-8-2-9,22z color=#ad2540 /><path d=M1403,437l9-10-10,4-9,13z color=#447e96 /><path class=m d=M1397,438l-10,11 /><path d=M1421,411l9-20-10,1-9,21z color=#4f987d /><path class=m d=M1409,428l9-16 /><path d=M1117,335l10-9-8-3-10,10z color=#fa6584 /><path d=M1270,349l9-17-9-3-9,19z color=#798ed6 /><path class=m d=M1265,339l-9-1M1258,370l9-22M1267,348l10-17M1277,331l9-12 /><path d=M1108,351l9-16-8-2-9,16z color=#ce3e5b /><path class=m d=M1104,341l-8-2 /><path d=M1650,327l9-12-12,1-9,13z color=#cb9a47 /><path d=M1223,449l10-4-8,10-11-3z color=#3e2740 /><path d=M1612,409l9-20-11,0-9,19z color=#c9bd45 /><path d=M1430,391l9-22-10,0-9,23z color=#429c55 /><path class=m d=M1420,392l-10,3M1418,412l10-21 /><path d=M1251,414l10-22-9,2-9,23z color=#5d54a6 /><path d=M1603,424l9-15-11-1-9,15z color=#ddce38 /><path d=M1155,334l11,15-9-9-11-11z color=#3f232e /><path d=M1621,389l10-21-12,0-9,21z color=#bfb754 /><path class=m d=M1610,389l-11,0 /><path d=M1316,324l10,9-10-7-9-6z color=#0b2937 /><path d=M1458,331l9-12-10-2-9,13z color=#76dd5b /><path class=m d=M1464,319l9-5 /><path d=M1631,368l10-22-12,1-10,21z color=#bcb664 /><path d=M1641,346l9-19-12,2-9,18z color=#c1a858 /><path class=m d=M1633,338l-11,0 /><path d=M1297,323l10-3-9-5-10,5z color=#3cb7ff /><path class=m d=M1298,315l-10-4 /><path d=M1439,369l10-21-11,0-9,21z color=#36a62c /><path class=m d=M1428,391l9-22 /><path d=M1135,329l11,0-9-5-10,2z color=#ec738c /><path class=m d=M1137,324l-8-4M1137,324l11,8 /><path d=M1496,318l8,13-10-6-8-7z color=#344522 /><path d=M1449,348l9-17-10-1-10,18z color=#4ebb3a /><path class=m d=M1443,339l-10-1M1437,369l9-21M1446,348l9-17M1455,331l9-12 /><path d=M1575,431l8,0-11-1-8-2z color=#2f3616 /><path class=m d=M1580,431l9-8 /><path d=M1594,434l9-10-11-1-9,8z color=#e5e94c /><path class=m d=M1587,427l-11,0 /><path d=M1261,392l9-22-9,0-9,24z color=#6e64b0 /><path class=m d=M1252,394l-9,3 /><path d=M1671,308l8-5-12,7-8,5z color=#3c260e /><path class=m d=M1679,303l-12,7M1667,310l-12,2M1679,303l5,27 /><path d=M1394,438l9-1-10,7-9-5z color=#1a3f4f /><path class=m d=M1400,439l9-11 /><path d=M1477,320l9-2-10-3-9,4z color=#90e170 /><path class=m d=M1476,315l-11-4 /><path d=M1098,392l9-21-8,0-9,22z color=#a3223c /><path class=m d=M1090,393l-8,2 /><path d=M1288,333l9-10-9-3-9,12z color=#66acfa /><path d=M1270,370l9-20-9-1-9,21z color=#857ac2 /><path d=M1422,427l9-17-10,1-9,16z color=#6bacbd /><path d=M1163,336l12,28-9-15-11-15z color=#482835 /><path class=m d=M1168,353l13,44 /><path d=M1125,337l10-8-8-3-10,9z color=#f46280 /><path class=m d=M1127,326l10-2 /><path d=M1279,350l9-17-9-1-9,17z color=#7b90da /><path class=m d=M1274,340l-9-1 /><path d=M1431,410l9-20-10,1-9,20z color=#56a386 /><path d=M1107,371l9-19-8-1-9,20z color=#b12641 /><path class=m d=M1090,393l9-22 /><path d=M1326,326l9,15-9-8-10-9z color=#0e3345 /><path class=m d=M1326,333l9,24 /><path d=M1623,410l10-20-12-1-9,20z color=#cabe46 /><path d=M1614,426l9-16-11-1-9,15z color=#e1d239 /><path d=M1662,324l9-16-12,7-9,12z color=#b0853d /><path class=m d=M1671,308l8-5 /><path d=M1413,437l9-10-10,0-9,10z color=#5daacb /><path class=m d=M1407,432l-10,6 /><path d=M1116,352l9-15-8-2-9,16z color=#ce3e5b /><path class=m d=M1112,343l-8-2M1099,371l9-20M1108,351l9-16M1117,335l10-9 /><path d=M1251,430l9-18-9,2-9,18z color=#594fb2 /><path d=M1633,390l10-23-12,1-10,21z color=#bcb352 /><path class=m d=M1633,390l-12-1M1621,389l-11,0M1623,410l10-20 /><path d=M1242,442l9-12-9,2-9,13z color=#6d51a1 /><path class=m d=M1238,438l-9,8 /><path d=M1507,315l7,28-10-12-8-13z color=#3d5128 /><path class=m d=M1504,331l7,42 /><path d=M1440,390l10-21-11,0-9,22z color=#45a258 /><path class=m d=M1430,391l-10,1 /><path d=M1468,331l9-11-10-1-9,12z color=#72d758 /><path d=M1307,324l9,0-9-4-10,3z color=#36a8ec /><path class=m d=M1307,320l-9-5 /><path d=M1643,367l10-23-12,2-10,22z color=#b5af60 /><path class=m d=M1633,390l10-23 /><path d=M1586,435l8-1-11-3-8,0z color=#b5d154 /><path d=M1653,344l9-20-12,3-9,19z color=#b49e52 /><path class=m d=M1657,334l-12,3M1645,337l-12,1M1643,367l10-23M1653,344l9-20M1662,324l9-16 /><path d=M1144,331l11,3-9-5-11,0z color=#cf647a /><path class=m d=M1146,329l-9-5 /><path d=M1260,412l10-21-9,1-10,22z color=#645ab2 /><path d=M1606,437l8-11-11-2-9,10z color=#edf151 /><path class=m d=M1610,432l-11-3M1599,429l-12-2M1614,426l9-16 /><path d=M1450,369l9-20-10-1-10,21z color=#37a72c /><path d=M1459,349l9-18-10,0-9,17z color=#4cb838 /><path class=m d=M1453,340l-10-1 /><path d=M1202,407l12,45-8-6-14-69z color=#502c3b /><path class=m d=M1212,451l11,7 /><path d=M1172,339l13,50-10-25-12-28z color=#4c2a39 /><path d=M1548,383l5,44-10-9-5-68z color=#3c5028 /><path class=m d=M1548,423l7,15 /><path d=M1192,377l14,69-10-24-15-71z color=#4c2a39 /><path d=M1232,446l10-4-9,3-10,4z color=#2c1c2e /><path d=M1488,320l8-2-10,0-9,2z color=#7ac05f /><path class=m d=M1486,318l-10-3 /><path d=M1558,405l6,23-11-1-5-44z color=#3c5028 /><path d=M1181,351l15,71-11-33-13-50z color=#4c2a39 /><path class=m d=M1191,406l13,62 /><path d=M1270,391l9-21-9,0-9,22z color=#7369b8 /><path class=m d=M1261,392l-9,2 /><path d=M1538,350l5,68-10-22-4-73z color=#3b4f27 /><path d=M1404,438l9-1-10,0-9,1z color=#132d39 /><path d=M1335,326l10,28-10-13-9-15z color=#103c50 /><path d=M1518,313l6,53-10-23-7-28z color=#40552a /><path d=M1297,334l10-10-10-1-9,10z color=#63a8f4 /><path d=M1106,392l9-21-8,0-9,21z color=#a7233d /><path class=m d=M1098,392l-8,1 /><path d=M1212,427l11,22-9,3-12-45z color=#532e3e /><path d=M1279,370l9-20-9,0-9,20z color=#887cc6 /><path d=M1529,323l4,73-9-30-6-53z color=#3d5228 /><path class=m d=M1526,373l5,67 /><path d=M1432,427l9-16-10-1-9,17z color=#73b7ca /><path d=M1288,350l9-16-9-1-9,17z color=#7a8ed8 /><path class=m d=M1283,341l-9-1 /><path d=M1134,338l10-7-9-2-10,8z color=#e95c79 /><path d=M1441,411l10-21-11,0-9,20z color=#59a98b /><path d=M1568,418l7,13-11-3-6-23z color=#384a25 /><path class=m d=M1572,430l8,1 /><path d=M1597,440l9-3-12-3-8,1z color=#cbeb60 /><path class=m d=M1606,437l8-11 /><path d=M1115,371l9-19-8,0-9,19z color=#b02541 /><path d=M1423,438l9-11-10,0-9,10z color=#6cc4ea /><path class=m d=M1417,432l-10,0 /><path d=M1479,331l9-11-11,0-9,11z color=#69c750 /><path d=M1316,326l10,0-10-2-9,0z color=#2e92ce /><path class=m d=M1316,324l-9-4M1316,324l10,9 /><path d=M1451,390l9-21-10,0-10,21z color=#46a459 /><path class=m d=M1440,390l-10,1 /><path d=M1124,352l10-14-9-1-9,15z color=#c93c59 /><path class=m d=M1121,344l-9-1 /><path d=M1375,394l9,45-10-7-9-69z color=#113f54 /><path d=M1260,430l10-18-10,0-9,18z color=#6156c1 /><path d=M1251,443l9-13-9,0-9,12z color=#8362c1 /><path class=m d=M1246,436l-8,2 /><path d=M1345,326l10,52-10-24-10-28z color=#113f55 /><path class=m d=M1347,360l10,64 /><path d=M1365,363l9,69-10-23-9-72z color=#103d52 /><path class=m d=M1369,421l9,38 /><path d=M1152,331l11,5-8-2-11-3z color=#3c1d23 /><path class=m d=M1155,334l-9-5M1157,334l11,19 /><path d=M1460,369l10-21-11,1-9,20z color=#35a42b /><path d=M1470,348l9-17-11,0-9,18z color=#49b136 /><path class=m d=M1464,340l-11,0 /><path d=M1270,412l9-21-9,0-10,21z color=#695eba /><path class=m d=M1251,430l9-18 /><path d=M1385,416l9,22-10,1-9-45z color=#114056 /><path class=m d=M1391,438l9,1 /><path d=M1355,337l9,72-9-31-10-52z color=#103e53 /><path d=M1499,316l8-1-11,3-8,2z color=#263b1d /><path class=m d=M1496,318l-10,0M1496,318l8,13 /><path d=M1579,427l7,8-11-4-7-13z color=#2f3f1f /><path d=M1221,436l11,10-9,3-11-22z color=#4e2b3a /><path d=M1241,447l10-4-9-1-10,4z color=#a065a6 /><path class=m d=M1242,442l9-12 /><path d=M1414,441l9-3-10-1-9,1z color=#48acd9 /><path d=M1279,391l9-21-9,0-9,21z color=#756bbb /><path class=m d=M1270,391l-9,1M1260,412l10-21 /><path d=M1307,334l9-8-9-2-10,10z color=#5d9ee7 /><path class=m d=M1307,324l9,0 /><path d=M1442,429l10-18-11,0-9,16z color=#77bdd0 /><path d=M1288,370l9-20-9,0-9,20z color=#867bc3 /><path class=m d=M1270,391l9-21 /><path d=M1114,393l9-22-8,0-9,21z color=#a6233d /><path class=m d=M1106,392l-8,0 /><path d=M1452,411l9-20-10-1-10,21z color=#5aab8d /><path d=M1297,350l10-16-10,0-9,16z color=#768ad1 /><path class=m d=M1293,342l-10-1M1279,370l9-20M1288,350l9-16M1297,334l10-10 /><path d=M1142,337l10-6-8,0-10,7z color=#cf516b /><path class=m d=M1146,331l11,3 /><path d=M1433,441l9-12-10-2-9,11z color=#73cef6 /><path class=m d=M1427,433l-10-1M1432,427l9-16 /><path d=M1395,427l9,11-10,0-9-22z color=#103b50 /><path d=M1590,435l7,5-11-5-7-8z color=#263319 /><path class=m d=M1597,440l9-3 /><path d=M1326,324l9,2-9,0-10,0z color=#0d2b3d /><path class=m d=M1326,326l-10-2 /><path d=M1490,328l9-12-11,4-9,11z color=#56a441 /><path class=m d=M1488,320l8-2 /><path d=M1461,391l10-23-11,1-9,21z color=#44a157 /><path class=m d=M1451,390l-11,0M1441,411l10-21 /><path d=M1123,371l9-20-8,1-9,19z color=#ab243f /><path class=m d=M1108,392l9-21 /><path d=M1132,351l10-14-8,1-10,14z color=#c03954 /><path class=m d=M1129,345l-8-1M1117,371l9-19M1126,352l10-14M1136,338l10-7 /><path d=M1269,431l10-18-9-1-10,18z color=#655ac8 /><path d=M1260,444l9-13-9-1-9,13z color=#8d69ce /><path class=m d=M1255,436l-9,0 /><path d=M1471,368l9-22-10,2-10,21z color=#339c29 /><path class=m d=M1451,390l9-21 /><path d=M1480,346l10-18-11,3-9,17z color=#42a230 /><path class=m d=M1474,339l-10,1M1460,369l10-21M1470,348l9-17M1479,331l9-11 /><path d=M1161,327l11,12-9-3-11-5z color=#4f262f /><path class=m d=M1163,336l-8-2 /><path d=M1279,413l9-21-9-1-9,21z color=#6b60bd /><path d=M1424,445l9-4-10-3-9,3z color=#54c4f7 /><path class=m d=M1423,438l9-11 /><path d=M1230,442l11,5-9-1-11-10z color=#402430 /><path class=m d=M1232,446l10-4 /><path d=M1250,451l10-7-9-1-10,4z color=#bb76c1 /><path d=M1510,305l8,8-11,2-8,1z color=#335027 /><path class=m d=M1507,315l-11,3 /><path d=M1288,392l9-23-9,1-9,21z color=#7469b9 /><path class=m d=M1279,391l-9,0 /><path d=M1405,434l9,7-10-3-9-11z color=#0d3243 /><path d=M1316,333l10-9-10,2-9,8z color=#4f88c6 /><path d=M1453,431l9-18-10-2-10,18z color=#78bfd2 /><path d=M1444,444l9-13-11-2-9,12z color=#77d3fb /><path class=m d=M1438,435l-11-2 /><path d=M1462,413l10-23-11,1-9,20z color=#58a78a /><path d=M1297,369l10-20-10,1-9,20z color=#8176bc /><path d=M1307,349l9-16-9,1-10,16z color=#6e81c4 /><path class=m d=M1302,342l-9,0 /><path d=M1122,392l9-23-8,2-9,22z color=#a0213a /><path class=m d=M1114,393l-8-1 /><path d=M1472,390l10-24-11,2-10,23z color=#419953 /><path class=m d=M1461,391l-10-1 /><path d=M1150,334l11-7-9,4-10,6z color=#2d1217 /><path d=M1335,316l10,10-10,0-9-2z color=#123a51 /><path class=m d=M1335,326l-9,0M1338,326l9,34 /><path d=M1269,447l10-14-10-2-9,13z color=#916cd3 /><path class=m d=M1265,438l-10-2 /><path d=M1279,433l9-19-9-1-10,18z color=#675bcb /><path d=M1434,450l10-6-11-3-9,4z color=#5cd4ff /><path d=M1501,321l9-16-11,11-9,12z color=#3e772f /><path d=M1131,369l10-20-9,2-9,20z color=#a0213b /><path d=M1482,366l9-24-11,4-9,22z color=#2e9125 /><path d=M1240,448l10,3-9-4-11-5z color=#b26384 /><path d=M1141,349l9-15-8,3-10,14z color=#a73148 /><path class=m d=M1137,344l-8,1 /><path d=M1169,318l12,33-9-12-11-12z color=#5b2c36 /><path class=m d=M1172,339l-9-3M1177,345l14,61 /><path d=M1491,342l10-21-11,7-10,18z color=#378928 /><path class=m d=M1485,337l-11,2 /><path d=M1415,441l9,4-10-4-9-7z color=#0a2734 /><path class=m d=M1414,441l9-3 /><path d=M1288,414l10-23-10,1-9,21z color=#695fba /><path class=m d=M1272,431l9-18 /><path d=M1572,405l7,22-11-9-6-36z color=#2c4522 /><path d=M1259,455l10-8-9-3-10,7z color=#c981d0 /><path class=m d=M1262,445l10-14 /><path d=M1562,382l6,36-10-13-5-59z color=#2d4723 /><path class=m d=M1565,415l7,15 /><path d=M1463,434l10-20-11-1-9,18z color=#76bbcd /><path d=M1454,448l9-14-10-3-9,13z color=#78d6fe /><path class=m d=M1448,437l-10-2 /><path d=M1583,420l7,15-11-8-7-22z color=#283e1f /><path class=m d=M1590,435l-11-8M1579,427l-11-9M1590,435l7,5 /><path d=M1298,391l9-23-10,1-9,23z color=#6f65b1 /><path class=m d=M1288,392l-9-1M1281,413l9-21 /><path d=M1522,288l7,35-11-10-8-8z color=#3b5d2e /><path class=m d=M1518,313l-11,2M1521,315l5,58 /><path d=M1473,414l10-25-11,1-10,23z color=#539f83 /><path class=m d=M1455,432l10-19 /><path d=M1326,328l9-12-9,8-10,9z color=#396392 /><path class=m d=M1328,322l10,4 /><path d=M1553,346l5,59-10-22-4-77z color=#2e4924 /><path class=m d=M1568,418l-10-13 /><path d=M1307,368l9-22-9,3-10,20z color=#776dae /><path class=m d=M1290,392l10-23 /><path d=M1445,455l9-7-10-4-10,6z color=#63dfff /><path class=m d=M1446,445l9-13 /><path d=M1425,449l9,1-10-5-9-4z color=#2a9ed3 /><path d=M1316,346l10-18-10,5-9,16z color=#5c6ca5 /><path class=m d=M1312,341l-10,1M1300,369l9-21M1309,348l10-16M1319,332l9-10 /><path d=M1209,398l12,38-9-9-14-62z color=#4f262f /><path d=M1483,389l10-27-11,4-10,24z color=#3c8f4d /><path class=m d=M1472,390l-11,1M1465,413l10-23 /><path d=M1177,314l15,63-11-26-12-33z color=#5a2b35 /><path class=m d=M1181,351l-9-12 /><path d=M1279,450l9-15-9-2-10,14z color=#936ed6 /><path class=m d=M1274,440l-9-2 /><path d=M1249,454l10,1-9-4-10-3z color=#cb7197 /><path class=m d=M1252,452l10-7 /><path d=M1130,391l9-25-8,3-9,23z color=#971f37 /><path class=m d=M1122,392l-8,1 /><path d=M1288,435l10-21-10,0-9,19z color=#655ac8 /><path d=M1198,365l14,62-10-20-15-76z color=#50262f /><path d=M1345,303l10,34-10-11-10-10z color=#15435e /><path class=m d=M1345,326l-10,0 /><path d=M1219,421l11,21-9-6-12-38z color=#4d252d /><path class=m d=M1221,436l-9-9M1221,436l11,10 /><path d=M1269,459l10-9-10-3-10,8z color=#d287d9 /><path d=M1187,331l15,76-10-30-15-63z color=#532831 /><path class=m d=M1212,427l-10-20M1202,407l-10-30M1192,377l-11-26M1199,400l13,51 /><path d=M1465,452l9-16-11-2-9,14z color=#77d2fa /><path class=m d=M1459,441l-11-4 /><path d=M1534,284l4,66-9-27-7-35z color=#37572b /><path class=m d=M1529,323l-11-10 /><path d=M1544,306l4,77-10-33-4-66z color=#314d26 /><path class=m d=M1558,405l-10-22M1548,383l-10-33M1538,350l-9-27M1543,367l5,56 /><path d=M1493,362l10-29-12,9-9,24z color=#287f20 /><path class=m d=M1475,390l9-25 /><path d=M1474,436l10-22-11,0-10,20z color=#6fb0c2 /><path d=M1298,414l9-24-9,1-10,23z color=#655ab2 /><path d=M1158,324l11-6-8,9-11,7z color=#411922 /><path class=m d=M1165,322l12,23 /><path d=M1139,366l10-22-8,5-10,20z color=#8f1d34 /><path class=m d=M1126,392l9-24 /><path d=M1386,390l9,37-10-11-9-61z color=#11364d /><path d=M1396,412l9,22-10-7-9-37z color=#10344a /><path d=M1149,344l9-20-8,10-9,15z color=#832639 /><path class=m d=M1145,342l-8,2M1135,368l10-21M1145,347l9-18M1154,329l11-7 /><path d=M1229,434l11,14-10-6-11-21z color=#462229 /><path class=m d=M1230,442l-9-6 /><path d=M1455,461l10-9-11-4-9,7z color=#69e9ff /><path d=M1436,456l9-1-11-5-9-1z color=#30b0ec /><path class=m d=M1437,451l9-6 /><path d=M1503,333l10-31-12,19-10,21z color=#2b6d20 /><path class=m d=M1496,332l-11,5M1484,365l10-25 /><path d=M1484,414l10-29-11,4-10,25z color=#4d9379 /><path d=M1513,302l9-14-12,17-9,16z color=#25471c /><path class=m d=M1494,340l10-24M1504,316l9-15M1513,301l8,14 /><path d=M1376,355l9,61-10-22-9-76z color=#11374e /><path class=m d=M1395,427l-10-11M1382,410l9,28 /><path d=M1307,390l10-26-10,4-9,23z color=#685ea7 /><path class=m d=M1298,391l-10,1 /><path d=M1406,427l9,14-10-7-9-22z color=#0f3044 /><path class=m d=M1405,434l-10-7M1405,434l9,7 /><path d=M1259,461l10-2-10-4-10-1z color=#e37fa9 /><path d=M1355,299l10,64-10-26-10-34z color=#14405b /><path class=m d=M1355,337l-10-11M1360,350l9,71 /><path d=M1288,454l10-17-10-2-9,15z color=#916dd3 /><path class=m d=M1283,442l-9-2 /><path d=M1366,318l9,76-10-31-10-64z color=#123a51 /><path class=m d=M1385,416l-10-22M1375,394l-10-31M1365,363l-10-26 /><path d=M1298,437l9-23-9,0-10,21z color=#6156bf /><path d=M1278,464l10-10-9-4-10,9z color=#d88ce0 /><path class=m d=M1283,452l10-16 /><path d=M1317,364l9-26-10,8-9,22z color=#6a619b /><path d=M1475,457l10-19-11-2-9,16z color=#71c8ee /><path class=m d=M1469,444l-10-3 /><path d=M1494,385l10-33-11,10-10,27z color=#357f44 /><path class=m d=M1483,389l-11,1 /><path d=M1238,445l11,9-9-6-11-14z color=#3d1d24 /><path class=m d=M1240,448l-10-6M1242,449l10,3 /><path d=M1336,314l9-11-10,13-9,12z color=#1c3147 /><path d=M1416,438l9,11-10-8-9-14z color=#0d2a3c /><path class=m d=M1415,441l-10-7 /><path d=M1485,438l10-26-11,2-10,22z color=#65a1b1 /><path d=M1446,463l9-2-10-6-9,1z color=#36c0ff /><path d=M1466,467l9-10-10-5-10,9z color=#6dedff /><path class=m d=M1470,455l10-18 /><path d=M1326,338l10-24-10,14-10,18z color=#4a5784 /><path class=m d=M1321,337l-9,4 /><path d=M1139,388l9-28-9,6-9,25z color=#891c32 /><path class=m d=M1130,391l-8,1 /><path d=M1307,414l10-27-10,3-9,24z color=#5e54a7 /><path class=m d=M1293,436l10-22 /><path d=M1268,468l10-4-9-5-10,2z color=#f78bb8 /><path class=m d=M1274,462l9-10 /><path d=M1495,412l10-35-11,8-10,29z color=#45846d /><path class=m d=M1480,437l9-24 /><path d=M1427,449l9,7-11-7-9-11z color=#0b2534 /><path class=m d=M1425,449l-10-8M1428,450l9,1 /><path d=M1504,352l11-42-12,23-10,29z color=#21681a /><path d=M1298,458l10-19-10-2-10,17z color=#8b68ca /><path class=m d=M1293,446l-10-4 /><path d=M1148,360l8-31-7,15-10,22z color=#77182b /><path d=M1576,393l7,27-11-15-5-44z color=#1f3b17 /><path class=m d=M1583,420l7,15 /><path d=M1248,455l11,6-10-7-11-9z color=#b7586c /><path class=m d=M1249,454l-9-6 /><path d=M1288,470l10-12-10-4-10,10z color=#db8ee2 /><path d=M1486,462l10-22-11-2-10,19z color=#66b7da /><path class=m d=M1480,448l-11-4 /><path d=M1457,471l9-4-11-6-9,2z color=#3dcfff /><path class=m d=M1461,464l9-9 /><path d=M1166,304l11,10-8,4-11,6z color=#57222c /><path d=M1317,387l9-31-9,8-10,26z color=#5d5596 /><path class=m d=M1307,390l-9,1M1303,414l9-26 /><path d=M1477,475l9-13-11-5-9,10z color=#6debff /><path d=M1308,439l9-26-10,1-9,23z color=#584eb0 /><path d=M1156,329l10-25-8,20-9,20z color=#3e121b /><path class=m d=M1154,334l-9,8 /><path d=M1496,440l10-33-11,5-10,26z color=#5a909f /><path d=M1525,274l9,10-12,4-9,14z color=#2b5321 /><path d=M1437,458l9,5-10-7-9-7z color=#2b8ac2 /><path class=m d=M1436,456l-11-7 /><path d=M1278,475l10-5-10-6-10,4z color=#ff97c6 /><path d=M1567,361l5,44-10-23-4-68z color=#213f19 /><path d=M1515,310l10-36-12,28-10,31z color=#235719 /><path class=m d=M1508,317l-12,15 /><path d=M1468,479l9-4-11-8-9,4z color=#45deff /><path d=M1258,464l10,4-9-7-11-6z color=#c96177 /><path class=m d=M1259,461l-10-7M1264,464l10-2 /><path d=M1326,356l10-36-10,18-9,26z color=#575080 /><path class=m d=M1312,388l9-28 /><path d=M1505,377l12-49-13,24-10,33z color=#2d6b3a /><path class=m d=M1494,385l-11,4M1489,413l11-32 /><path d=M1488,482l9-16-11-4-9,13z color=#68e0ff /><path d=M1317,413l10-34-10,8-10,27z color=#554c97 /><path d=M1298,477l10-15-10-4-10,12z color=#d68bdd /><path d=M1308,462l10-22-10-1-10,19z color=#7f5fba /><path class=m d=M1303,449l-10-3 /><path d=M1497,466l10-27-11,1-10,22z color=#5aa2c1 /><path class=m d=M1491,451l-11-3 /><path d=M1147,382l8-39-7,17-9,28z color=#75182a /><path class=m d=M1139,388l-9,3 /><path d=M1346,289l9,10-10,4-9,11z color=#233d5a /><path class=m d=M1350,301l10,49 /><path d=M1448,467l9,4-11-8-9-5z color=#2f97d4 /><path class=m d=M1446,463l-10-7M1452,467l9-3 /><path d=M1217,404l12,30-10-13-13-51z color=#451b23 /><path d=M1227,425l11,20-9-11-12-30z color=#421922 /><path class=m d=M1231,437l11,12 /><path d=M1478,488l10-6-11-7-9,4z color=#4eedff /><path class=m d=M1485,480l9-15 /><path d=M1288,482l10-5-10-7-10,5z color=#ffa2d3 /><path class=m d=M1296,475l9-14 /><path d=M1336,320l10-31-10,25-10,24z color=#394366 /><path class=m d=M1331,326l-10,11M1321,360l10-31M1331,329l10-28M1341,301l9,0 /><path d=M1407,419l9,19-10-11-9-29z color=#1a2d43 /><path d=M1397,398l9,29-10-15-9-47z color=#1b2f45 /><path d=M1506,407l12-51-13,21-10,35z color=#3b725d /><path d=M1268,472l10,3-10-7-10-4z color=#dd6b83 /><path class=m d=M1268,468l-9-7 /><path d=M1558,314l4,68-9-36-4-76z color=#22411a /><path class=m d=M1560,373l5,42 /><path d=M1318,440l9-33-10,6-9,26z color=#50479f /><path class=m d=M1305,461l10-22 /><path d=M1206,370l13,51-10-23-15-73z color=#461b24 /><path d=M1174,285l13,46-10-17-11-10z color=#5f2531 /><path class=m d=M1185,326l14,74 /><path d=M1499,490l9-19-11-5-9,16z color=#60d1ff /><path d=M1237,440l11,15-10-10-11-20z color=#3d181f /><path d=M1418,434l9,15-11-11-9-19z color=#192b3f /><path class=m d=M1419,441l9,9 /><path d=M1459,477l9,2-11-8-9-4z color=#33a2e4 /><path class=m d=M1457,471l-11-8 /><path d=M1327,379l9-43-10,20-9,31z color=#4f487f /><path class=m d=M1317,387l-10,3 /><path d=M1308,483l10-17-10-4-10,15z color=#c983d0 /><path d=M1507,439l12-47-13,15-10,33z color=#4e7e8b /><path class=m d=M1494,465l11-26 /><path d=M1538,256l6,50-10-22-9-10z color=#2d5722 /><path class=m d=M1539,295l4,72 /><path d=M1387,365l9,47-10-22-9-71z color=#1c3047 /><path class=m d=M1396,412l9,22 /><path d=M1489,498l10-8-11-8-10,6z color=#57f9ff /><path d=M1508,471l11-38-12,6-10,27z color=#4d8ca7 /><path class=m d=M1502,452l-11-1 /><path d=M1155,343l9-42-8,28-8,31z color=#5f1322 /><path class=m d=M1145,383l8-36 /><path d=M1318,466l9-28-9,2-10,22z color=#7154a5 /><path class=m d=M1313,451l-10-2 /><path d=M1298,491l10-8-10-6-10,5z color=#ffabde /><path d=M1428,447l9,11-10-9-9-15z color=#17273a /><path d=M1194,325l15,73-11-33-15-75z color=#491c25 /><path class=m d=M1209,398l12,38 /><path d=M1517,328l11-54-13,36-11,42z color=#1b5716 /><path class=m d=M1500,381l10-41 /><path d=M1549,270l4,76-9-40-6-50z color=#26491d /><path d=M1278,481l10,1-10-7-10-3z color=#f0758f /><path class=m d=M1278,475l-10-7M1286,480l10-5 /><path d=M1247,453l11,11-10-9-11-15z color=#38161d /><path class=m d=M1253,459l11,5 /><path d=M1469,487l9,1-10-9-9-2z color=#38aef4 /><path class=m d=M1468,479l-11-8M1476,486l9-6 /><path d=M1509,500l11-26-12-3-9,19z color=#56bdeb /><path d=M1183,290l15,75-11-34-13-46z color=#53202b /><path d=M1500,510l9-10-10-10-10,8z color=#5effff /><path d=M1327,407l10-46-10,18-10,34z color=#494283 /><path class=m d=M1315,439l10-30 /><path d=M1356,270l10,48-11-19-9-10z color=#264261 /><path d=M1439,458l9,9-11-9-9-11z color=#152435 /><path class=m d=M1443,463l9,4 /><path d=M1164,301l10-16-8,19-10,25z color=#4e1722 /><path class=m d=M1161,316l-7,18M1153,347l9-39M1162,308l10-18M1172,290l13,36 /><path d=M1377,319l9,71-10-35-10-76z color=#1d3249 /><path d=M1318,490l10-21-10-3-10,17z color=#b977bf /><path d=M1480,498l9,0-11-10-9-1z color=#3dbaff /><path class=m d=M1478,488l-10-9 /><path d=M1257,464l11,8-10-8-11-11z color=#ab4258 /><path d=M1308,500l10-10-10-7-10,8z color=#ffb1e4 /><path d=M1288,491l10,0-10-9-10-1z color=#ff7e9a /><path class=m d=M1288,482l-10-7 /><path d=M1336,336l10-49-10,33-10,36z color=#474168 /><path d=M1327,438l10-44-10,13-9,33z color=#463e8c /><path d=M1528,274l10-18-13,18-10,36z color=#1d4815 /><path class=m d=M1520,292l-12,25M1510,340l11-48M1521,292l11-27M1532,265l7,30 /><path d=M1518,356l12-67-13,39-12,49z color=#265b31 /><path class=m d=M1505,377l-11,8 /><path d=M1366,279l10,76-10-37-10-48z color=#213954 /><path class=m d=M1373,346l9,64 /><path d=M1450,469l9,8-11-10-9-9z color=#487db8 /><path d=M1491,510l9,0-11-12-9,0z color=#42c4ff /><path class=m d=M1500,510l-11-12M1489,498l-11-10M1500,510l9-10 /><path d=M1155,366l7-56-7,33-8,39z color=#611423 /><path class=m d=M1147,382l-8,6 /><path d=M1328,469l10-37-11,6-9,28z color=#634991 /><path class=m d=M1323,452l-10-1 /><path d=M1520,474l12-59-13,18-11,38z color=#447c94 /><path class=m d=M1526,445l-12,7M1514,452l-12,0M1509,500l11-26 /><path d=M1267,474l11,7-10-9-11-8z color=#b4465d /><path class=m d=M1275,479l11,1 /><path d=M1318,510l10-12-10-8-10,10z color=#ffb5e8 /><path d=M1298,502l10-2-10-9-10,0z color=#ff89a7 /><path class=m d=M1298,491l-10-9 /><path d=M1571,345l5,48-9-32-4-68z color=#15340f /><path class=m d=M1576,393l7,27 /><path d=M1519,392l12-72-13,36-12,51z color=#336251 /><path class=m d=M1505,439l10-43 /><path d=M1328,498l10-27-10-2-10,21z color=#a56aaa /><path d=M1519,433l13-70-13,29-12,47z color=#446d78 /><path d=M1346,287l10-17-10,19-10,31z color=#2f3755 /><path class=m d=M1341,304l-10,22 /><path d=M1460,480l9,7-10-10-9-8z color=#4c84c1 /><path class=m d=M1467,484l9,2 /><path d=M1361,666l10-39-10,1-10,1z color=#ff8aab /><path d=M1225,417l12,23-10-15-12-35z color=#3c111a /><path d=M1362,688l10-15-11-7-10-23z color=#ff587c /><path d=M1409,412l9,22-11-15-9-32z color=#232a3f /><path class=m d=M1410,423l9,18 /><path d=M1337,361l9-61-10,36-9,43z color=#423c6b /><path class=m d=M1327,379l-10,8M1325,409l9-43 /><path d=M1329,524l10-15-11-11-10,12z color=#ffb4e5 /><path d=M1277,485l11,6-10-10-11-7z color=#c04b63 /><path d=M1308,513l10-3-10-10-10,2z color=#ff96b4 /><path class=m d=M1308,500l-10-9M1308,500l10-10 /><path d=M1471,491l9,7-11-11-9-7z color=#4f89ca /><path d=M1419,430l9,17-10-13-9-22z color=#22283e /><path d=M1236,435l11,18-10-13-12-23z color=#3a1119 /><path class=m d=M1242,446l11,13 /><path d=M1215,390l12,35-10-21-14-57z color=#3d121a /><path class=m d=M1231,429l-10-21M1219,409l12,28 /><path d=M1398,387l9,32-10-21-9-52z color=#242a40 /><path class=m d=M1413,423l-10-20 /><path d=M1351,629l10-1-11-25-10-16z color=#fe6a88 /><path d=M1350,603l10-26-10-12-10,4z color=#ffa3c0 /><path d=M1430,444l9,14-11-11-9-17z color=#21273b /><path class=m d=M1424,438l-11-15M1434,452l9,11 /><path d=M1339,543l10-25-10-9-10,15z color=#ffa1cd /><path d=M1372,703l11-55-11,25-10,15z color=#de4966 /><path class=m d=M1377,676l-10,4 /><path d=M1361,628l10-61-11,10-10,26z color=#d1697f /><path d=M1482,504l9,6-11-12-9-7z color=#528dd0 /><path class=m d=M1491,510l9,0 /><path d=M1246,450l11,14-10-11-11-18z color=#371018 /><path class=m d=M1241,444l-10-15 /><path d=M1339,509l9-43-10,5-10,27z color=#8a588e /><path d=M1319,526l10-2-11-14-10,3z color=#ff9fbe /><path class=m d=M1318,510l-10-10 /><path d=M1337,394l10-68-10,35-10,46z color=#3f3870 /><path d=M1162,310l9-41-7,32-9,42z color=#440e19 /><path d=M1340,569l10-4-11-22-10,0z color=#ffa1bf /><path d=M1287,496l11,6-10-11-11-6z color=#ca4f68 /><path d=M1372,673l10-73-11,27-10,39z color=#a24155 /><path d=M1563,293l4,68-9-47-5-65z color=#163710 /><path class=m d=M1574,369l-9-42 /><path d=M1171,269l12,21-9-5-10,16z color=#521824 /><path class=m d=M1169,293l-8,23 /><path d=M1338,471l10-57-10,18-10,37z color=#563f7e /><path class=m d=M1333,451l-10,1M1318,490l10-21 /><path d=M1530,289l12-45-14,30-11,54z color=#1c5816 /><path d=M1329,543l10,0-10-19-10,2z color=#ff9ebd /><path class=m d=M1329,524l-11-14 /><path d=M1542,244l7,26-11-14-10,18z color=#1c4514 /><path class=m d=M1533,265l-13,27 /><path d=M1338,432l9-66-10,28-10,44z color=#3c3579 /><path d=M1441,457l9,12-11-11-9-14z color=#202539 /><path class=m d=M1434,451l-10-13 /><path d=M1350,565l9-50-10,3-10,25z color=#ca7598 /><path class=m d=M1339,543l-10-19 /><path d=M1203,347l14,57-11-34-15-75z color=#3d121a /><path class=m d=M1221,408l-11-32 /><path d=M1256,463l11,11-10-10-11-14z color=#9c2d44 /><path class=m d=M1251,457l-10-13M1265,472l10,7 /><path d=M1351,643l10,23-10-37-11-33z color=#b5354f /><path class=m d=M1367,680l-11-25 /><path d=M1388,346l9,52-10-33-10-72z color=#242a40 /><path class=m d=M1403,403l-11-31 /><path d=M1298,508l10,5-10-11-11-6z color=#d4536d /><path class=m d=M1298,502l10-2 /><path d=M1362,692l10,11-10-15-11-45z color=#bf2946 /><path d=M1451,469l9,11-10-11-9-12z color=#1e2437 /><path class=m d=M1445,463l-11-12M1458,477l9,7 /><path d=M1340,587l10,16-10-34-11-13z color=#cc516a /><path d=M1553,249l5,65-9-44-7-26z color=#193e12 /><path class=m d=M1565,327l-9-45M1556,282l-11-25M1545,257l-12,8M1556,303l4,70 /><path d=M1346,300l10-45-10,32-10,49z color=#423d62 /><path class=m d=M1334,366l10-57 /><path d=M1266,474l11,11-10-11-11-11z color=#a22f46 /><path class=m d=M1262,468l-11-11 /><path d=M1308,521l11,5-11-13-10-5z color=#db5671 /><path d=M1356,255l10,24-10-9-10,17z color=#303856 /><path class=m d=M1351,278l-10,26M1344,309l10-46M1354,263l10,14M1364,277l9,69 /><path d=M1462,480l9,11-11-11-9-11z color=#1d2234 /><path class=m d=M1456,474l-11-11 /><path d=M1349,518l10-69-11,17-9,43z color=#714775 /><path class=m d=M1331,528l10-17 /><path d=M1531,320l13-69-14,38-12,67z color=#255930 /><path class=m d=M1518,356l-13,21M1515,396l13-67 /><path d=M1191,295l15,75-12-45-14-63z color=#41131c /><path class=m d=M1210,376l-12-43 /><path d=M1532,415l14-88-14,36-13,70z color=#3d636d /><path class=m d=M1520,474l12-59 /><path d=M1360,577l10-79-11,17-9,50z color=#8b4e67 /><path class=m d=M1350,565l-11-22M1345,586l10-15 /><path d=M1180,262l14,63-11-35-12-21z color=#4e1622 /><path class=m d=M1198,333l-11-39M1187,294l-10-14M1177,280l-8,13M1194,325l15,73 /><path d=M1371,627l11-84-11,24-10,61z color=#84404e /><path class=m d=M1359,657l10-30 /><path d=M1329,556l11,13-11-26-10-7z color=#ca5069 /><path d=M1319,536l10,7-10-17-11-5z color=#d85570 /><path class=m d=M1321,530l10-2 /><path d=M1161,334l8-64-7,40-7,56z color=#57121f /><path class=m d=M1155,366l-8,16 /><path d=M1473,493l9,11-11-13-9-11z color=#1c2133 /><path class=m d=M1478,498l-11-12M1467,486l-11-12M1482,504l9,6 /><path d=M1277,486l10,10-10-11-11-11z color=#a63048 /><path class=m d=M1272,480l-10-12 /><path d=M1532,363l13-83-14,40-12,72z color=#305d4c /><path d=M1377,293l10,72-10-46-10-64z color=#252c43 /><path class=m d=M1392,372l-10-42M1387,365l9,47 /><path d=M1410,409l9,21-10-18-10-31z color=#27243a /><path d=M1224,412l12,23-11-18-12-36z color=#350b13 /><path class=m d=M1230,426l12,20 /><path d=M1421,427l9,17-11-14-9-21z color=#27243a /><path class=m d=M1424,437l10,15 /><path d=M1234,432l12,18-10-15-12-23z color=#340b13 /><path d=M1367,255l10,64-11-40-10-24z color=#2c334e /><path class=m d=M1382,330l-10-43M1372,287l-11-20M1361,267l-10,11 /><path d=M1340,596l11,33-11-42-11-24z color=#8e293e /><path class=m d=M1356,655l-11-42 /><path d=M1348,466l10-82-10,30-10,57z color=#4b376f /><path class=m d=M1343,443l-10,8 /><path d=M1287,498l11,10-11-12-10-10z color=#a73148 /><path class=m d=M1282,491l-10-11M1287,496l11,6 /><path d=M1431,442l10,15-11-13-9-17z color=#272439 /><path d=M1347,326l10-66-11,40-9,61z color=#3e3863 /><path class=m d=M1337,361l-10,18 /><path d=M1351,643l11,45-11-45-11-47z color=#78182b /><path d=M1245,448l11,15-10-13-12-18z color=#911e34 /><path class=m d=M1253,459l12,13 /><path d=M1399,381l10,31-11-25-9-51z color=#272439 /><path class=m d=M1401,393l9,30 /><path d=M1213,381l12,36-10-27-14-57z color=#340b13 /><path d=M1544,251l9-2-11-5-12,45z color=#26791e /><path class=m d=M1528,329l13-68M1541,261l9-13M1550,248l6,55 /><path d=M1442,456l9,13-10-12-10-15z color=#272339 /><path class=m d=M1449,466l9,11 /><path d=M1297,511l11,10-10-13-11-10z color=#a93149 /><path class=m d=M1292,503l-10-12 /><path d=M1169,270l11-8-9,7-9,41z color=#3e0d16 /><path d=M1348,414l10-87-11,39-9,66z color=#37306e /><path class=m d=M1328,469l10-37 /><path d=M1383,648l10-78-11,30-10,73z color=#672835 /><path class=m d=M1372,703l11-55 /><path d=M1255,461l11,13-10-11-11-15z color=#971f36 /><path d=M1566,287l5,58-8-52-7-45z color=#0d2a0a /><path class=m d=M1571,345l5,48 /><path d=M1347,366l10-82-10,42-10,68z color=#3a3467 /><path d=M1359,515l11-88-11,22-10,69z color=#613d65 /><path d=M1308,525l11,11-11-15-11-10z color=#a93149 /><path class=m d=M1303,516l-11-13M1311,525l10,5 /><path d=M1453,468l9,12-11-11-9-13z color=#262338 /><path d=M1329,563l11,24-11-31-10-15z color=#952b41 /><path class=m d=M1345,613l-10-38M1335,572l10,14 /><path d=M1371,567l10-87-11,18-10,79z color=#713f54 /><path class=m d=M1360,577l-10-12 /><path d=M1319,541l10,15-10-20-11-11z color=#a22f46 /><path class=m d=M1335,575l-11-26M1324,549l-11-18M1313,531l-10-15 /><path d=M1265,474l12,12-11-12-11-13z color=#9a1f38 /><path d=M1556,248l7,45-10-44-9,2z color=#3ab82e /><path d=M1389,336l9,51-10-41-10-63z color=#262338 /><path d=M1464,480l9,13-11-13-9-12z color=#262338 /><path class=m d=M1473,493l9,11 /><path d=M1201,333l14,57-12-43-15-67z color=#6d1627 /><path class=m d=M1206,358l13,51 /><path d=M1357,260l10-5-11,0-10,45z color=#29253c /><path d=M1545,280l11-32-12,3-13,69z color=#3c8f4e /><path class=m d=M1531,320l-13,36 /><path d=M1276,486l11,12-10-12-12-12z color=#9b2038 /><path class=m d=M1277,486l10,10 /><path d=M1382,600l11-78-11,21-11,84z color=#6e3541 /><path d=M1340,596l11,47-11-47-11-33z color=#74182a /><path class=m d=M1348,631l11,26 /><path d=M1411,410l10,17-11-18-10-27z color=#61589c /><path class=m d=M1415,418l9,19 /><path d=M1546,327l12-58-13,11-13,83z color=#346352 /><path class=m d=M1532,415l14-88 /><path d=M1422,429l9,13-10-15-10-17z color=#695fa8 /><path d=M1177,253l14,42-11-33-11,8z color=#320a12 /><path class=m d=M1180,262l14,63 /><path d=M1222,412l12,20-10-20-13-32z color=#831b30 /><path d=M1233,432l12,16-11-16-12-20z color=#8f1d34 /><path class=m d=M1230,427l12,17M1242,444l11,15 /><path d=M1286,498l11,13-10-13-11-12z color=#9b2038 /><path d=M1168,291l9-38-8,17-8,64z color=#77182b /><path class=m d=M1161,334l-6,32M1161,334l8-64M1169,270l11-8 /><path d=M1188,280l15,67-12-52-14-42z color=#891c32 /><path d=M1359,449l10-89-11,24-10,82z color=#48356b /><path class=m d=M1353,426l-10,17M1341,511l10-49 /><path d=M1433,443l9,13-11-14-9-13z color=#6d63af /><path class=m d=M1440,452l9,14 /><path d=M1378,283l10,63-11-53-10-44z color=#211f31 /><path d=M1400,382l10,27-11-28-9-42z color=#5a5190 /><path d=M1243,448l12,13-10-13-12-16z color=#951f36 /><path class=m d=M1233,432l-11-20 /><path d=M1367,249l10,44-10-38-10,5z color=#8c80cd /><path class=m d=M1377,293l10,72 /><path d=M1297,511l11,14-11-14-11-13z color=#991f37 /><path class=m d=M1300,515l11,10 /><path d=M1211,380l13,32-11-31-14-48z color=#76182b /><path class=m d=M1222,412l-11-32M1205,357l13,40M1218,397l12,29 /><path d=M1444,457l9,11-11-12-9-13z color=#201d33 /><path d=M1558,269l8,18-10-39-11,32z color=#76ff95 /><path class=m d=M1558,269l-13,11M1545,280l-14,40M1546,327l12-58M1558,269l8,18M1566,287l5,58 /><path d=M1370,498l11-81-11,10-11,88z color=#603c63 /><path class=m d=M1355,571l10-64 /><path d=M1357,284l10-35-10,11-10,66z color=#60579a /><path class=m d=M1347,326l-10,35 /><path d=M1352,631l10,61-11-49-10-55z color=#360b13 /><path class=m d=M1352,631l10,61M1362,692l10,11 /><path d=M1254,462l11,12-10-13-12-13z color=#991f37 /><path class=m d=M1243,448l-10-16 /><path d=M1329,563l11,33-11-33-11-21z color=#7f1a2e /><path d=M1308,526l11,15-11-16-11-14z color=#941e35 /><path d=M1455,469l9,11-11-12-9-11z color=#201d34 /><path class=m d=M1464,480l9,13 /><path d=M1318,542l11,21-10-22-11-15z color=#8b1c32 /><path class=m d=M1324,552l11,20 /><path d=M1382,543l10-70-11,7-10,87z color=#703e53 /><path class=m d=M1371,567l-11,10M1369,627l10-78 /><path d=M1358,384l11-80-11,23-10,87z color=#3a3374 /><path d=M1265,474l11,12-11-12-11-12z color=#9a2038 /><path class=m d=M1254,462l-11-14M1254,462l11,12M1265,474l12,12 /><path d=M1358,327l10-61-11,18-10,82z color=#484180 /><path class=m d=M1338,432l9-66 /><path d=M1390,339l9,42-10-45-10-46z color=#5c5494 /><path class=m d=M1391,347l10,46 /><path d=M1199,333l14,48-12-48-14-49z color=#6e1628 /><path class=m d=M1211,380l-12-47 /><path d=M1412,418l10,11-11-19-10-17z color=#6c61c1 /><path d=M1275,486l11,12-10-12-11-12z color=#9a1f38 /><path class=m d=M1265,474l-11-12 /><path d=M1423,435l10,8-11-14-10-11z color=#7368ce /><path class=m d=M1430,440l10,12 /><path d=M1176,266l12,14-11-27-9,38z color=#360b13 /><path class=m d=M1168,291l-7,43 /><path d=M1401,393l10,17-11-28-9-26z color=#665cb6 /><path class=m d=M1422,429l-11-19M1406,396l9,22 /><path d=M1434,448l10,9-11-14-10-8z color=#7468d0 /><path class=m d=M1433,443l-11-14 /><path d=M1370,427l10-66-11-1-10,89z color=#553f7d /><path class=m d=M1364,405l-11,21 /><path d=M1393,570l11-56-11,8-11,78z color=#6f3642 /><path class=m d=M1383,648l10-78 /><path d=M1368,266l10,17-11-34-10,35z color=#d4c2ff /><path class=m d=M1357,284l-10,42M1347,366l10-82M1357,284l10-35M1367,249l10,44 /><path d=M1379,290l10,46-11-53-10-17z color=#8e81e3 /><path d=M1286,498l11,13-11-13-11-12z color=#971f37 /><path class=m d=M1275,486l-10-12M1278,489l11,13M1289,502l11,13 /><path d=M1187,284l14,49-13-53-12-14z color=#3c0c16 /><path class=m d=M1199,333l-12-49M1187,284l-11-18M1176,266l-8,25M1179,270l12,24M1191,294l15,64 /><path d=M1341,588l10,55-11-47-11-37z color=#3a0c15 /><path class=m d=M1352,631l-11-43 /><path d=M1381,480l11-54-11-9-11,81z color=#6e4672 /><path d=M1446,461l9,8-11-12-10-9z color=#7266cb /><path class=m d=M1455,469l-11-12M1444,457l-11-14M1455,469l9,11 /><path d=M1297,511l11,15-11-15-11-13z color=#350b13 /><path class=m d=M1286,498l-11-12 /><path d=M1391,356l9,26-10-43-10-22z color=#786cd4 /><path class=m d=M1411,410l-11-28 /><path d=M1393,522l11-46-12-3-10,70z color=#7e465d /><path class=m d=M1382,543l-11,24 /><path d=M1369,360l11-43-11-13-11,80z color=#5a4fb0 /><path class=m d=M1351,462l10-84 /><path d=M1369,304l10-14-11-24-10,61z color=#8074de /><path class=m d=M1368,266l-11,18 /><path d=M1307,524l11,18-10-16-11-15z color=#370b14 /><path class=m d=M1297,511l-11-13M1302,517l11,17M1313,534l11,18 /><path d=M1329,559l11,37-11-33-11-24z color=#390c15 /><path class=m d=M1341,588l-12-29M1327,554l11,34M1338,588l10,43 /><path d=M1413,434l10,1-11-17-10-5z color=#897aff /><path class=m d=M1420,431l10,9 /><path d=M1402,413l10,5-11-25-10-8z color=#8879ff /><path d=M1318,539l11,24-11-21-11-18z color=#380b14 /><path class=m d=M1329,559l-11-20M1318,539l-11-15M1307,524l-10-13 /><path d=M1381,417l10-32-11-24-10,66z color=#8161ba /><path class=m d=M1375,394l-11,11M1365,507l10-85 /><path d=M1380,317l10,22-11-49-10,14z color=#ab9bff /><path class=m d=M1400,382l-10-43M1390,339l-11-49M1379,290l-11-24M1361,378l10-71M1371,307l11-4M1382,303l9,44 /><path d=M1424,447l10,1-11-13-10-1z color=#8c7cff /><path d=M1392,473l11-31-11-16-11,54z color=#8f5c94 /><path class=m d=M1379,549l11-74 /><path d=M1391,385l10,8-10-37-11,5z color=#9c8cff /><path class=m d=M1375,422l11-49M1386,373l10,2M1396,375l10,21 /><path d=M1380,361l11-5-11-39-11,43z color=#a797ff /><path d=M1392,426l10-13-11-28-10,32z color=#c298ff /><path class=m d=M1386,401l-11-7 /><path d=M1436,458l10,3-12-13-10-1z color=#8777ff /><path class=m d=M1446,461l9,8 /><path d=M1403,442l10-8-11-21-10,13z color=#deaeff /><path class=m d=M1397,420l-11-19M1390,475l10-37M1400,438l10-9M1410,429l10,2 /><path d=M1414,455l10-8-11-13-10,8z color=#e3b2ff /><path class=m d=M1408,438l-11-18 /><path d=M1404,476l10-21-11-13-11,31z color=#b777bd /><path d=M1404,514l11-32-11-6-11,46z color=#91516c /><path class=m d=M1404,514l-11,8M1393,522l-11,21M1393,570l11-56 /><path d=M1426,465l10-7-12-11-10,8z color=#dcaaff /><path class=m d=M1431,462l-12-11M1419,451l-11-13M1436,458l10,3 /><path d=M1415,482l11-17-12-10-10,21z color=#d089d6 /><path class=m d=M1404,514l11-32M1415,482l11-17M1426,465l10-7 /></g>
<path d="M245.5 39.4L337.5 89M337.5 89L436.5 41.3M337.5 89L337.9 182.9M255.1 121.9L337.9 182.9M337.9 182.9L426.7 124.3M245.5 39.4L255.1 121.9M436.5 41.3L426.7 124.3" stroke="#666" stroke-width="0.6" fill="none"/>
<path d="M336 181.5L337.5 180.5M328.2 175.7L329.6 174.8M320.6 170.1L322.9 168.7M313.2 164.7L314.7 163.8M306.1 159.5L307.6 158.6M299.2 154.4L300.7 153.6M292.6 149.5L294.9 148.2M286.1 144.7L287.6 143.9M279.8 140.1L281.3 139.3M273.7 135.6L275.2 134.8M267.8 131.2L270.1 130.1M262 127L263.5 126.3M256.5 122.8L257.9 122.2M340 181.5L337.8 179.9M349.9 175L348.5 174M359.6 168.6L358.2 167.7M368.8 162.5L367.4 161.6M377.8 156.6L376.4 155.7M386.4 150.9L384.2 149.6M394.7 145.4L393.3 144.6M402.8 140.1L401.4 139.3M410.5 135L409.1 134.2M418 130.1L416.7 129.3M425.3 125.3L423.1 124.1M427.3 119.6L426.3 120.3M427.9 114.1L426.9 114.8M428.6 108.6L426.9 109.7M429.3 103L428.2 103.7M429.9 97.3L428.9 98M430.6 91.5L429.5 92.2M431.3 85.7L429.6 86.6M432 79.7L430.9 80.3M432.7 73.6L431.6 74.2M433.4 67.5L432.3 68.1M434.2 61.2L432.4 62.1M434.9 54.9L433.8 55.4M435.7 48.4L434.6 49M436.5 41.9L435.3 42.4" stroke="#444" stroke-width="0.55" fill="none"/>
<text x="263.5" y="136" font-size="5.6" text-anchor="middle" fill="#111" >2</text>
<text x="288.4" y="155" font-size="5.6" text-anchor="middle" fill="#111" >0</text>
<text x="315.2" y="175.3" font-size="5.6" text-anchor="middle" fill="#111" >−2</text>
<text x="280.4" y="160.8" font-size="5.6" text-anchor="middle" fill="#111" ><tspan font-style="italic">t</tspan></text>
<text x="344" y="187.6" font-size="5.6" text-anchor="middle" fill="#111" >−5</text>
<text x="388.6" y="156.8" font-size="5.6" text-anchor="middle" fill="#111" >0</text>
<text x="428.5" y="130.9" font-size="5.6" text-anchor="middle" fill="#111" >5</text>
<text x="397.6" y="163.7" font-size="5.6" text-anchor="middle" fill="#111" ><tspan font-style="italic">x</tspan></text>
<text x="438" y="65.4" font-size="5.6" text-anchor="middle" fill="#111" >10</text>
<text x="434.3" y="90.3" font-size="5.6" text-anchor="middle" fill="#111" >0</text>
<text x="437" y="113" font-size="5.6" text-anchor="middle" fill="#111" >−10</text>
<text x="448" y="95.3" font-size="5.6" text-anchor="middle" fill="#111" >Re[q]</text>
<text x="328.6" y="4.8" font-size="7.5" textLength="24.5" lengthAdjust="spacingAndGlyphs" fill="#2a2a2a">Figure (<tspan font-style="italic">b</tspan>)</text>
<path d="M490.6 50.2L581.4 20.5M581.4 20.5L668.8 52.2M581.4 20.5L581.2 89.3M499.8 127.3L581.2 89.3M581.2 89.3L659.5 129.7" stroke="#666" stroke-width="0.6" fill="none"/>
<g transform="scale(0.25)" fill="currentColor" stroke="currentColor" stroke-width="1.0" stroke-linejoin="round"><path d=M2325,329l6,17-6-7-7-27z color=#4f3520 /><path d=M2331,338l7,6-7,2-6-17z color=#563a23 /><path class=m d=M2331,346l-6-7 /><path d=M2338,339l7-4-7,9-7-6z color=#583b24 /><path class=m d=M2338,344l-7,2 /><path d=M2324,314l7,24-6-9-7-32z color=#48311e /><path d=M2318,297l7,32-7-17-7-34z color=#442e1c /><path class=m d=M2318,312l7,27 /><path d=M2345,333l6-10-6,12-7,4z color=#49311e /><path class=m d=M2345,335l-7,9 /><path d=M2331,326l7,13-7-1-7-24z color=#503621 /><path class=m d=M2334,339l7,1 /><path d=M2338,330l7,3-7,6-7-13z color=#543822 /><path d=M2351,324l7-12-7,11-6,10z color=#422c1b /><path class=m d=M2351,323l-6,12 /><path d=M2344,328l7-4-6,9-7-3z color=#4c331f /><path d=M2324,297l7,29-7-12-7-34z color=#4a301a /><path class=m d=M2328,320l6,19 /><path d=M2317,280l7,34-6-17-8-34z color=#472e19 /><path d=M2310,263l8,34-7-19-7-30z color=#442c18 /><path class=m d=M2321,297l-7-17M2314,280l-7-17M2311,278l7,34 /><path d=M2331,310l7,20-7-4-7-29z color=#50341c /><path class=m d=M2327,311l-6-14 /><path d=M2358,315l8-11-8,8-7,12z color=#7f5634 /><path class=m d=M2358,312l-7,11 /><path d=M2351,322l7-7-7,9-7,4z color=#3e2a19 /><path class=m d=M2351,324l7-12 /><path d=M2337,318l7,10-6,2-7-20z color=#55371e /><path class=m d=M2334,320l-7-9 /><path d=M2344,319l7,3-7,6-7-10z color=#53361d /><path class=m d=M2341,323l-7-3M2344,328l7-4 /><path d=M2366,309l7-9-7,4-8,11z color=#96653d /><path class=m d=M2366,304l-8,8 /><path d=M2358,316l8-7-8,6-7,7z color=#312114 /><path d=M2303,235l7,28-6-15-8-20z color=#452b13 /><path class=m d=M2304,248l7,30 /><path d=M2310,246l7,34-7-17-7-28z color=#482d14 /><path d=M2351,318l7-2-7,6-7-3z color=#482f19 /><path class=m d=M2348,321l-7,2 /><path d=M2317,261l7,36-7-17-7-34z color=#4a2e15 /><path class=m d=M2321,288l7,32 /><path d=M2373,305l7-8-7,3-7,9z color=#b87c4c /><path class=m d=M2373,300l-7,4 /><path d=M2324,277l7,33-7-13-7-36z color=#4b2f15 /><path d=M2331,292l6,26-6-8-7-33z color=#4e3016 /><path d=M2366,312l7-7-7,4-8,7z color=#a87145 /><path class=m d=M2369,307l7-9 /><path d=M2337,302l7,17-7-1-6-26z color=#523317 /><path class=m d=M2337,318l7,10 /><path d=M2380,304l7-7-7,0-7,8z color=#d8925a /><path class=m d=M2380,297l-7,3 /><path d=M2358,315l8-3-8,4-7,2z color=#3a2614 /><path class=m d=M2355,317l-7,4M2362,314l7-7 /><path d=M2344,309l7,9-7,1-7-17z color=#523317 /><path d=M2296,220l7,15-7-7-7-10z color=#46290f /><path class=m d=M2296,228l8,20 /><path d=M2373,310l7-6-7,1-7,7z color=#cc8954 /><path d=M2387,304l7-7-7,0-7,7z color=#eda164 /><path class=m d=M2387,297l-7,0 /><path d=M2302,223l8,23-7-11-7-15z color=#4b2c10 /><path d=M2351,311l7,4-7,3-7-9z color=#4c2f15 /><path class=m d=M2355,316l7-2 /><path d=M2366,313l7-3-7,2-8,3z color=#bc7a42 /><path class=m d=M2362,313l-7,4 /><path d=M2380,309l7-5-7,0-7,6z color=#e99e61 /><path d=M2309,229l8,32-7-15-8-23z color=#4c2d10 /><path class=m d=M2313,253l8,35 /><path d=M2288,214l8,6-7-2-8-3z color=#3f280e /><path class=m d=M2289,218l7,10 /><path d=M2394,305l7-8-7,0-7,7z color=#f9a969 /><path class=m d=M2394,297l-7,0 /><path d=M2316,240l8,37-7-16-8-32z color=#4c2d10 /><path d=M2323,255l8,37-7-15-8-37z color=#4c2d10 /><path d=M2358,311l8,2-8,2-7-4z color=#412812 /><path d=M2330,271l7,31-6-10-8-37z color=#4d2d10 /><path class=m d=M2331,292l6,26 /><path d=M2373,312l7-3-7,1-7,3z color=#db8e4e /><path class=m d=M2369,311l-7,2 /><path d=M2337,285l7,24-7-7-7-31z color=#4e2e10 /><path d=M2387,310l7-5-7-1-7,5z color=#fcab6a /><path class=m d=M2387,304l7-7 /><path d=M2295,212l7,11-6-3-8-6z color=#482e11 /><path class=m d=M2296,220l-7-2 /><path d=M2402,306l7-8-8-1-7,8z color=#ffae6d /><path class=m d=M2401,297l-7,0 /><path d=M2281,214l7,0-7,1-7,0z color=#312511 /><path class=m d=M2281,215l8,3 /><path d=M2344,296l7,15-7-2-7-24z color=#4e2e10 /><path class=m d=M2348,310l7,6 /><path d=M2366,312l7,0-7,1-8-2z color=#33200f /><path d=M2380,313l7-3-7-1-7,3z color=#f39e57 /><path class=m d=M2376,311l-7,0M2380,309l7-5 /><path d=M2395,311l7-5-8-1-7,5z color=#ffb26f /><path d=M2351,302l7,9-7,0-7-15z color=#4a2c10 /><path d=M2273,218l8-4-7,1-8,4z color=#dcc063 /><path class=m d=M2274,215l7,0 /><path d=M2302,211l7,18-7-6-7-11z color=#4f3212 /><path class=m d=M2302,223l-6-3M2306,226l7,27 /><path d=M2409,307l7-8-7-1-7,8z color=#ffb16f /><path class=m d=M2409,298l-8-1 /><path d=M2287,211l8,1-7,2-7,0z color=#392b13 /><path d=M2387,315l8-4-8-1-7,3z color=#ffa95e /><path class=m d=M2384,312l-8-1 /><path d=M2373,313l7,0-7-1-7,0z color=#db883e /><path class=m d=M2373,312l7-3 /><path d=M2402,313l7-6-7-1-7,5z color=#ffb772 /><path class=m d=M2405,306l8-8 /><path d=M2265,225l8-7-7,1-7,6z color=#e8e07a /><path class=m d=M2266,219l8-4 /><path d=M2359,306l7,6-8-1-7-9z color=#43270e /><path d=M2309,213l7,27-7-11-7-18z color=#503312 /><path class=m d=M2309,229l-7-6 /><path d=M2417,308l7-8-8-1-7,8z color=#ffb471 /><path class=m d=M2416,299l-7-1 /><path d=M2280,216l7-5-6,3-8,4z color=#c2a957 /><path class=m d=M2277,216l-7,1 /><path d=M2258,233l7-8-6,0-8,9z color=#e8de64 /><path class=m d=M2259,225l7-6 /><path d=M2316,220l7,35-7-15-7-27z color=#4e3212 /><path class=m d=M2316,240l-7-11 /><path d=M2395,317l7-4-7-2-8,4z color=#ffb062 /><path class=m d=M2391,313l-7-1M2398,312l7-6 /><path d=M2380,315l7,0-7-2-7,0z color=#ef9444 /><path d=M2294,206l8,5-7,1-8-1z color=#463518 /><path class=m d=M2298,212l8,14 /><path d=M2409,315l8-7-8-1-7,6z color=#ffba75 /><path d=M2250,243l8-10-7,1-7,10z color=#e3d64d /><path class=m d=M2251,234l8-9 /><path d=M2323,233l7,38-7-16-7-35z color=#4c3012 /><path class=m d=M2323,255l-7-15M2323,255l8,37 /><path d=M2366,309l7,4-7-1-7-6z color=#38210c /><path class=m d=M2366,312l7,0 /><path d=M2330,250l7,35-7-14-7-38z color=#4b3011 /><path class=m d=M2330,271l-7-16 /><path d=M2272,223l8-7-7,2-8,7z color=#d1ca6d /><path d=M2424,310l7-8-7-2-7,8z color=#ffb673 /><path class=m d=M2424,300l-8-1 /><path d=M2337,267l7,29-7-11-7-35z color=#4a2f11 /><path class=m d=M2337,285l-7-14M2341,290l7,20 /><path d=M2243,255l7-12-6,1-8,11z color=#dfd036 /><path class=m d=M2244,244l7-10 /><path d=M2235,267l8-12-7,0-7,11z color=#cccf43 /><path class=m d=M2236,255l8-11 /><path d=M2344,282l7,20-7-6-7-29z color=#4a2f11 /><path class=m d=M2344,296l-7-11 /><path d=M2402,319l7-4-7-2-7,4z color=#ffb565 /><path class=m d=M2398,315l-7-2 /><path d=M2388,318l7-1-8-2-7,0z color=#fd9d49 /><path class=m d=M2391,316l7-4 /><path d=M2265,232l7-9-7,2-7,8z color=#d9cf5d /><path d=M2228,279l7-12-6-1-8,12z color=#b7d357 /><path class=m d=M2229,266l7-11 /><path d=M2287,211l7-5-7,5-7,5z color=#312b16 /><path class=m d=M2284,214l-7,2M2291,209l7,3 /><path d=M2417,317l7-7-7-2-8,7z color=#ffbc77 /><path d=M2373,313l7,2-7-2-7-4z color=#301c0a /><path d=M2220,290l8-11-7-1-8,11z color=#a3d86d /><path class=m d=M2221,278l8-12 /><path d=M2351,292l8,14-8-4-7-20z color=#472d10 /><path class=m d=M2351,302l-7-6 /><path d=M2257,243l8-11-7,1-8,10z color=#dbce49 /><path class=m d=M2258,233l-7,1 /><path d=M2301,201l8,12-7-2-8-5z color=#513d1c /><path d=M2432,312l7-9-8-1-7,8z color=#ffb875 /><path class=m d=M2431,302l-7-2 /><path d=M2212,301l8-11-7-1-7,11z color=#8edc6f /><path class=m d=M2213,289l8-11 /><path d=M2249,254l8-11-7,0-7,12z color=#daca34 /><path d=M2279,220l8-9-7,5-8,7z color=#ada75a /><path class=m d=M2283,213l8-4 /><path d=M2205,311l7-10-6-1-8,10z color=#77df5b /><path class=m d=M2206,300l7-11 /><path d=M2395,321l7-2-7-2-7,1z color=#ffa44d /><path d=M2410,322l7-5-8-2-7,4z color=#ffb868 /><path class=m d=M2406,317l-8-2 /><path d=M2242,267l7-13-6,1-8,12z color=#c7cb41 /><path class=m d=M2239,261l-7,0 /><path d=M2359,300l7,9-7-3-8-14z color=#422a0f /><path class=m d=M2359,306l-8-4M2359,306l7,6 /><path d=M2424,319l8-7-8-2-7,7z color=#ffbf79 /><path class=m d=M2424,310l7-8 /><path d=M2380,316l8,2-8-3-7-2z color=#e08430 /><path class=m d=M2384,317l7-1 /><path d=M2197,320l8-9-7-1-8,8z color=#5ee346 /><path class=m d=M2198,310l8-10 /><path d=M2234,279l8-12-7,0-7,12z color=#b4cf55 /><path d=M2271,230l8-10-7,3-7,9z color=#bdb551 /><path class=m d=M2276,221l7-8 /><path d=M2227,291l7-12-6,0-8,11z color=#a1d66c /><path d=M2439,314l8-9-8-2-7,9z color=#ffb975 /><path class=m d=M2439,303l-8-1 /><path d=M2308,198l8,22-7-7-8-12z color=#54401d /><path d=M2294,203l7-2-7,5-7,5z color=#3f361c /><path class=m d=M2290,209l-6,5 /><path d=M2189,326l8-6-7-2-7,7z color=#4de83f /><path class=m d=M2190,318l8-8 /><path d=M2219,303l8-12-7-1-8,11z color=#8ddc6f /><path class=m d=M2220,290l-7-1 /><path d=M2264,241l7-11-6,2-8,11z color=#c9be43 /><path class=m d=M2265,232l-7,1M2268,231l8-10 /><path d=M2366,306l7,7-7-4-7-9z color=#3b250d /><path class=m d=M2366,309l-7-3 /><path d=M2402,324l8-2-8-3-7,2z color=#ffaa50 /><path d=M2417,324l7-5-7-2-7,5z color=#ffbc6a /><path class=m d=M2413,319l-7-2M2417,317l7-7 /><path d=M2211,313l8-10-7-2-7,10z color=#77e05c /><path d=M2256,254l8-13-7,2-8,11z color=#cfc131 /><path class=m d=M2260,242l8-11 /><path d=M2388,320l7,1-7-3-8-2z color=#ee8d33 /><path d=M2432,322l7-8-7-2-8,7z color=#ffc27b /><path d=M2249,267l7-13-7,0-7,13z color=#c1c43e /><path class=m d=M2246,261l-7,0M2253,254l7-12 /><path d=M2181,331l8-5-6-1-9,4z color=#67ee83 /><path class=m d=M2183,325l7-7 /><path d=M2286,213l8-10-7,8-8,9z color=#8e894a /><path d=M2204,321l7-8-6-2-8,9z color=#60e547 /><path class=m d=M2201,315l-7-1 /><path d=M2315,201l8,32-7-13-8-22z color=#513d1c /><path class=m d=M2316,220l7,35 /><path d=M2241,280l8-13-7,0-8,12z color=#afc953 /><path class=m d=M2245,267l8-13 /><path d=M2447,316l7-9-7-2-8,9z color=#ffb875 /><path class=m d=M2447,305l-8-2 /><path d=M2233,292l8-12-7-1-7,12z color=#9ed26a /><path class=m d=M2238,279l7-12 /><path d=M2373,311l7,5-7-3-7-7z color=#33200c /><path class=m d=M2373,313l-7-4M2377,315l7,2 /><path d=M2278,225l8-12-7,7-8,10z color=#9d9543 /><path d=M2410,327l7-3-7-2-8,2z color=#ffaf53 /><path class=m d=M2410,322l7-5 /><path d=M2425,327l7-5-8-3-7,5z color=#ffbf6d /><path class=m d=M2421,322l-8-3 /><path d=M2196,328l8-7-7-1-8,6z color=#4eea40 /><path d=M2226,304l7-12-6-1-8,12z color=#8cda6e /><path class=m d=M2227,291l-7-1M2230,292l8-13 /><path d=M2323,212l7,38-7-17-8-32z color=#4c3a1a /><path d=M2395,324l7,0-7-3-7-1z color=#f99436 /><path d=M2330,229l7,38-7-17-7-38z color=#493719 /><path class=m d=M2334,258l7,32 /><path d=M2440,324l7-8-8-2-7,8z color=#ffc37c /><path class=m d=M2443,315l7-9 /><path d=M2337,249l7,33-7-15-7-38z color=#483618 /><path d=M2271,239l7-14-7,5-7,11z color=#aea43a /><path class=m d=M2271,230l-6,2 /><path d=M2344,267l7,25-7-10-7-33z color=#463518 /><path d=M2218,314l8-10-7-1-8,10z color=#78e05c /><path class=m d=M2222,303l8-11 /><path d=M2173,333l8-2-7-2-8,1z color=#7ae7bf /><path class=m d=M2174,329l9-4 /><path d=M2301,194l7,4-7,3-7,2z color=#4d4322 /><path class=m d=M2297,202l-7,7 /><path d=M2263,252l8-13-7,2-8,13z color=#beb12d /><path d=M2352,282l7,18-8-8-7-25z color=#443317 /><path class=m d=M2351,292l8,14 /><path d=M2455,319l7-11-8-1-7,9z color=#ffb573 /><path class=m d=M2454,307l-7-2 /><path d=M2188,333l8-5-7-2-8,5z color=#69f185 /><path d=M2381,316l7,4-8-4-7-5z color=#301f0b /><path class=m d=M2380,316l-7-3 /><path d=M2210,323l8-9-7-1-7,8z color=#61e748 /><path class=m d=M2207,317l-6-2M2215,313l7-10 /><path d=M2255,266l8-14-7,2-7,13z color=#b7ba3b /><path class=m d=M2252,260l-6,1 /><path d=M2248,280l7-14-6,1-8,13z color=#a8c24f /><path d=M2418,331l7-4-8-3-7,3z color=#ffb356 /><path d=M2432,330l8-6-8-2-7,5z color=#ffc370 /><path class=m d=M2428,324l-7-2M2436,323l7-8 /><path d=M2359,294l7,12-7-6-7-18z color=#403016 /><path d=M2240,293l8-13-7,0-8,12z color=#99cc66 /><path d=M2403,328l7-1-8-3-7,0z color=#ff9a39 /><path class=m d=M2402,324l8-2 /><path d=M2202,331l8-8-6-2-8,7z color=#50ed41 /><path class=m d=M2207,322l8-9 /><path d=M2447,327l8-8-8-3-7,8z color=#ffc37d /><path d=M2232,305l8-12-7-1-7,12z color=#89d56c /><path class=m d=M2233,292l-6-1 /><path d=M2293,202l8-8-7,9-8,10z color=#3b391f /><path d=M2164,332l9,1-7-3-8-2z color=#83d2e8 /><path class=m d=M2166,330l8-1 /><path d=M2179,336l9-3-7-2-8,2z color=#7eeec4 /><path class=m d=M2181,331l-7-2 /><path d=M2225,316l7-11-6-1-8,10z color=#77df5c /><path d=M2388,321l7,3-7-4-7-4z color=#de8d34 /><path class=m d=M2388,320l-8-4 /><path d=M2463,321l7-11-8-2-7,11z color=#ffb06f /><path class=m d=M2462,308l-8-1 /><path d=M2366,302l7,9-7-5-7-12z color=#3b2c14 /><path class=m d=M2370,309l7,6 /><path d=M2285,217l8-15-7,11-8,12z color=#857f39 /><path d=M2194,336l8-5-6-3-8,5z color=#6bf587 /><path class=m d=M2199,329l8-7 /><path d=M2278,234l7-17-7,8-7,14z color=#968d31 /><path class=m d=M2278,225l-7,5 /><path d=M2425,334l7-4-7-3-7,4z color=#ffb859 /><path class=m d=M2429,329l7-6 /><path d=M2217,325l8-9-7-2-8,9z color=#62e849 /><path class=m d=M2214,319l-7-2 /><path d=M2308,186l7,15-7-3-7-4z color=#554a26 /><path class=m d=M2304,196l-7,6M2308,198l8,22 /><path d=M2440,333l7-6-7-3-8,6z color=#ffc672 /><path class=m d=M2436,327l-8-3 /><path d=M2270,249l8-15-7,5-8,13z color=#a79b27 /><path d=M2410,332l8-1-8-4-7,1z color=#ff9f3c /><path d=M2262,264l8-15-7,3-8,14z color=#a8ab35 /><path class=m d=M2259,259l-7,1 /><path d=M2455,330l8-9-8-2-8,8z color=#ffc17b /><path d=M2255,279l7-15-7,2-7,14z color=#9fb84b /><path d=M2247,293l8-14-7,1-8,13z color=#93c462 /><path d=M2209,333l8-8-7-2-8,8z color=#52f043 /><path d=M2373,309l8,7-8-5-7-9z color=#352812 /><path d=M2396,326l7,2-8-4-7-3z color=#ea9537 /><path class=m d=M2395,324l-7-4M2395,324l7,0 /><path d=M2239,306l8-13-7,0-8,12z color=#85cf68 /><path class=m d=M2240,293l-7-1 /><path d=M2171,336l8,0-6-3-9-1z color=#89ddf3 /><path d=M2186,339l8-3-6-3-9,3z color=#81f4c9 /><path class=m d=M2188,333l-7-2M2191,335l8-6 /><path d=M2471,323l7-12-8-1-7,11z color=#f7a96b /><path class=m d=M2470,310l-8-2 /><path d=M2232,318l7-12-7-1-7,11z color=#75db5a /><path d=M2156,328l8,4-6-4-9-5z color=#5dacce /><path class=m d=M2158,328l8,2 /><path d=M2433,338l7-5-8-3-7,4z color=#ffbc5c /><path d=M2448,337l7-7-8-3-7,6z color=#ffc773 /><path class=m d=M2444,330l-8-3 /><path d=M2418,336l7-2-7-3-8,1z color=#ffa43e /><path class=m d=M2421,332l8-3 /><path d=M2201,339l8-6-7-2-8,5z color=#6df98a /><path d=M2315,185l8,27-8-11-7-15z color=#534825 /><path class=m d=M2312,194l-8,2 /><path d=M2224,328l8-10-7-2-8,9z color=#61e749 /><path class=m d=M2221,321l-7-2 /><path d=M2463,333l8-10-8-2-8,9z color=#ffbd78 /><path class=m d=M2463,321l7-11 /><path d=M2300,189l8-3-7,8-8,8z color=#424022 /><path class=m d=M2301,194l7,4 /><path d=M2381,316l7,5-7-5-8-7z color=#312511 /><path d=M2403,331l7,1-7-4-7-2z color=#f49c39 /><path class=m d=M2403,328l-8-4 /><path d=M2216,336l8-8-7-3-8,8z color=#53f244 /><path d=M2178,340l8-1-7-3-8,0z color=#8fe6fd /><path class=m d=M2183,338l8-3 /><path d=M2269,262l8-18-7,5-8,15z color=#96982f /><path class=m d=M2266,257l-7,2 /><path d=M2262,278l7-16-7,2-7,15z color=#92a945 /><path d=M2277,244l8-19-7,9-8,15z color=#928722 /><path class=m d=M2262,264l8-15 /><path d=M2292,205l8-16-7,13-8,15z color=#757032 /><path class=m d=M2293,202l8-8 /><path d=M2254,293l8-15-7,1-8,14z color=#8bb95d /><path class=m d=M2255,279l7-15 /><path d=M2322,193l8,36-7-17-8-27z color=#4c4222 /><path class=m d=M2319,199l-7-5M2326,221l8,37 /><path d=M2285,225l7-20-7,12-7,17z color=#80782a /><path class=m d=M2285,217l-7,8M2270,249l8-15M2278,234l7-17M2285,217l8-15 /><path d=M2441,342l7-5-8-4-7,5z color=#ffc05f /><path d=M2479,325l7-14-8,0-7,12z color=#eba165 /><path class=m d=M2478,311l-8-1 /><path d=M2193,342l8-3-7-3-8,3z color=#85f9ce /><path class=m d=M2194,336l-6-3 /><path d=M2344,253l8,29-8-15-7-36z color=#423a1e /><path d=M2162,333l9,3-7-4-8-4z color=#64b8dd /><path class=m d=M2160,330l-7-4 /><path d=M2352,272l7,22-7-12-8-29z color=#41381d /><path d=M2246,307l8-14-7,0-8,13z color=#80c764 /><path class=m d=M2247,293l-7,0M2247,293l8-14 /><path d=M2456,341l7-8-8-3-7,7z color=#ffc774 /><path class=m d=M2452,334l-8-4M2455,330l8-9 /><path d=M2426,340l7-2-8-4-7,2z color=#ffa941 /><path d=M2337,231l7,36-7-18-7-39z color=#443c1f /><path class=m d=M2348,268l-7-19M2344,267l7,25 /><path d=M2330,210l7,39-7-20-8-36z color=#473e20 /><path class=m d=M2341,249l-8-20M2333,229l-7-18M2326,211l-7-12 /><path d=M2238,319l8-12-7-1-7,12z color=#71d557 /><path class=m d=M2239,306l8-13 /><path d=M2388,322l8,4-8-5-7-5z color=#d29e47 /><path class=m d=M2388,321l7,3 /><path d=M2359,287l7,15-7-8-7-22z color=#3e361c /><path class=m d=M2355,283l-7-15M2362,298l8,11 /><path d=M2208,342l8-6-7-3-8,6z color=#70fd8d /><path d=M2471,336l8-11-8-2-8,10z color=#ffb774 /><path d=M2411,335l7,1-8-4-7-1z color=#fda23c /><path class=m d=M2410,332l-7-4M2414,334l7-2 /><path d=M2231,330l7-11-6-1-8,10z color=#60e348 /><path class=m d=M2228,323l-7-2M2232,318l7-12 /><path d=M2147,321l9,7-7-5-9-10z color=#122b37 /><path class=m d=M2149,323l9,5 /><path d=M2366,298l7,11-7-7-7-15z color=#3a321a /><path class=m d=M2362,295l-7-12 /><path d=M2448,346l8-5-8-4-7,5z color=#ffc361 /><path class=m d=M2448,337l7-7 /><path d=M2223,338l8-8-7-2-8,8z color=#53f244 /><path class=m d=M2224,328l8-10 /><path d=M2184,344l9-2-7-3-8,1z color=#95eeff /><path d=M2464,344l7-8-8-3-7,8z color=#ffc573 /><path class=m d=M2459,337l-7-3 /><path d=M2433,344l8-2-8-4-7,2z color=#ffae43 /><path d=M2169,338l9,2-7-4-9-3z color=#6ac3e9 /><path class=m d=M2167,335l-7-5M2174,338l9,0 /><path d=M2396,327l7,4-7-5-8-4z color=#dda74b /><path d=M2487,327l8-16-9,0-7,14z color=#dd975f /><path class=m d=M2486,311l-8,0 /><path d=M2200,346l8-4-7-3-8,3z color=#88ffd3 /><path class=m d=M2201,339l-7-3 /><path d=M2307,178l8,7-7,1-8,3z color=#4e4c29 /><path d=M2261,292l8-17-7,3-8,15z color=#80ab55 /><path d=M2418,340l8,0-8-4-7-1z color=#ffa73f /><path class=m d=M2418,336l-8-4 /><path d=M2374,307l7,9-8-7-7-11z color=#362f18 /><path class=m d=M2370,304l-8-9 /><path d=M2253,307l8-15-7,1-8,14z color=#79bd5e /><path class=m d=M2254,293l-7,0 /><path d=M2479,339l8-12-8-2-8,11z color=#ffaf70 /><path class=m d=M2483,326l7-15 /><path d=M2269,275l7-19-7,6-7,16z color=#84983d /><path d=M2245,321l8-14-7,0-8,12z color=#6dcc53 /><path d=M2215,345l8-7-7-2-8,6z color=#72ff8f /><path class=m d=M2216,336l8-8 /><path d=M2153,327l9,6-6-5-9-7z color=#3e96bd /><path d=M2276,256l8-21-7,9-8,18z color=#838629 /><path class=m d=M2273,253l-7,4 /><path d=M2237,332l8-11-7-2-7,11z color=#5ddd46 /><path class=m d=M2234,325l-6-2 /><path d=M2456,350l8-6-8-3-8,5z color=#ffc664 /><path d=M2284,235l8-24-7,14-8,19z color=#7d741d /><path d=M2441,349l7-3-7-4-8,2z color=#ffb246 /><path class=m d=M2441,342l7-5 /><path d=M2472,348l7-9-8-3-7,8z color=#ffc271 /><path class=m d=M2467,340l-8-3M2475,337l8-11 /><path d=M2404,333l7,2-8-4-7-4z color=#e7af4f /><path class=m d=M2407,333l7,1 /><path d=M2299,189l8-11-7,11-8,16z color=#423f1c /><path d=M2381,314l7,8-7-6-7-9z color=#312b16 /><path class=m d=M2377,311l-7-7M2381,316l7,5 /><path d=M2191,348l9-2-7-4-9,2z color=#99f5ff /><path d=M2230,341l7-9-6-2-8,8z color=#52f044 /><path d=M2292,211l7-22-7,16-7,20z color=#716a25 /><path class=m d=M2292,205l-7,12 /><path d=M2176,343l8,1-6-4-9-2z color=#70ccf4 /><path class=m d=M2173,339l-6-4 /><path d=M2426,345l7-1-7-4-8,0z color=#ffac41 /><path class=m d=M2426,340l-8-4 /><path d=M2495,328l8-18-8,1-8,16z color=#ca8a56 /><path class=m d=M2495,311l-9,0 /><path d=M2206,349l9-4-7-3-8,4z color=#8cffd7 /><path class=m d=M2208,342l-7-3M2208,342l8-6 /><path d=M2487,342l8-14-8-1-8,12z color=#f3a76a /><path d=M2160,333l9,5-7-5-9-6z color=#43a0ca /><path class=m d=M2166,336l8,2 /><path d=M2222,348l8-7-7-3-8,7z color=#73ff91 /><path d=M2315,172l7,21-7-8-8-7z color=#514e2a /><path class=m d=M2319,189l7,32 /><path d=M2137,308l10,13-7-8-10-17z color=#0c2c3b /><path class=m d=M2140,313l9,10 /><path d=M2464,355l8-7-8-4-8,6z color=#ffc865 /><path class=m d=M2468,346l7-9 /><path d=M2260,307l8-16-7,1-8,15z color=#70af57 /><path d=M2449,354l7-4-8-4-7,3z color=#ffb749 /><path d=M2411,338l7,2-7-5-7-2z color=#f0b552 /><path d=M2252,322l8-15-7,0-8,14z color=#67c24f /><path d=M2389,321l7,6-8-5-7-8z color=#312b16 /><path class=m d=M2385,318l-8-7 /><path d=M2268,291l8-20-7,4-8,17z color=#749b4d /><path class=m d=M2261,292l-7,1M2257,307l7-16 /><path d=M2480,352l7-10-8-3-7,9z color=#ffbd6f /><path class=m d=M2475,344l-8-4 /><path d=M2244,334l8-12-7-1-8,11z color=#59d543 /><path class=m d=M2241,327l-7-2M2249,321l8-14 /><path d=M2434,350l7-1-8-5-7,1z color=#ffb143 /><path class=m d=M2433,344l-7-4M2433,344l8-2 /><path d=M2276,271l7-24-7,9-7,19z color=#758736 /><path class=m d=M2264,291l8-18 /><path d=M2198,352l8-3-6-3-9,2z color=#9efbff /><path class=m d=M2200,346l8-4 /><path d=M2183,347l8,1-7-4-8-1z color=#74d4fe /><path class=m d=M2180,343l-7-4 /><path d=M2352,263l7,24-7-15-8-31z color=#3d3b20 /><path class=m d=M2355,279l7,19 /><path d=M2237,344l7-10-7-2-7,9z color=#51eb42 /><path class=m d=M2241,333l8-12 /><path d=M2359,281l7,17-7-11-7-24z color=#3b391f /><path d=M2213,353l9-5-7-3-9,4z color=#8fffdb /><path class=m d=M2215,345l-7-3 /><path d=M2144,318l9,9-6-6-10-13z color=#0a2735 /><path d=M2344,241l8,31-8-19-7-37z color=#3f3d21 /><path d=M2495,344l8-15-8-1-8,14z color=#e39c62 /><path d=M2503,329l9-23-9,4-8,18z color=#b2784b /><path class=m d=M2503,310l-8,1 /><path d=M2167,339l9,4-7-5-9-5z color=#47aad6 /><path d=M2322,177l8,33-8-17-7-21z color=#4a4827 /><path d=M2472,359l8-7-8-4-8,7z color=#ffc867 /><path d=M2283,247l8-27-7,15-8,21z color=#727424 /><path class=m d=M2280,246l-7,7M2272,273l8-21 /><path d=M2396,328l8,5-8-6-7-6z color=#d4b85f /><path class=m d=M2392,324l-7-6M2400,330l7,3 /><path d=M2366,294l8,13-8-9-7-17z color=#38361d /><path d=M2457,359l7-4-8-5-7,4z color=#ffbb4c /><path class=m d=M2460,353l8-7 /><path d=M2419,343l7,2-8-5-7-2z color=#f8bb55 /><path d=M2337,216l7,37-7-22-8-38z color=#413f22 /><path d=M2229,352l8-8-7-3-8,7z color=#73ff91 /><path class=m d=M2233,343l8-10 /><path d=M2488,356l7-12-8-2-7,10z color=#ffb96c /><path class=m d=M2483,347l-8-3 /><path d=M2329,193l8,38-7-21-8-33z color=#444223 /><path class=m d=M2337,231l7,36 /><path d=M2442,355l7-1-8-5-7,1z color=#ffb546 /><path class=m d=M2441,349l-8-5 /><path d=M2307,174l8-2-8,6-8,11z color=#3f3c1b /><path class=m d=M2311,175l8,14 /><path d=M2374,305l7,9-7-7-8-13z color=#35331b /><path class=m d=M2374,307l7,9 /><path d=M2291,220l8-27-7,18-8,24z color=#6f671a /><path class=m d=M2280,252l7-25 /><path d=M2259,323l8-17-7,1-8,15z color=#60b549 /><path d=M2252,336l7-13-7-1-8,12z color=#55cc3f /><path class=m d=M2248,328l-7-1 /><path d=M2151,326l9,7-7-6-9-9z color=#2384b2 /><path class=m d=M2157,330l9,6 /><path d=M2267,306l8-19-7,4-8,16z color=#659e4e /><path d=M2205,356l8-3-7-4-8,3z color=#a2ffff /><path d=M2190,352l8,0-7-4-8-1z color=#79dcff /><path class=m d=M2187,348l-7-5M2191,348l9-2 /><path d=M2404,334l7,4-7-5-8-5z color=#ddc063 /><path class=m d=M2400,330l-8-6 /><path d=M2480,364l8-8-8-4-8,7z color=#ffc968 /><path d=M2244,347l8-11-8-2-7,10z color=#4ee440 /><path d=M2299,193l8-19-8,15-7,22z color=#6c6623 /><path class=m d=M2299,189l-7,16M2287,227l8-25M2295,202l8-21M2303,181l8-6 /><path d=M2220,357l9-5-7-4-9,5z color=#92ffdf /><path class=m d=M2222,348l-7-3M2225,350l8-7 /><path d=M2465,364l7-5-8-4-7,4z color=#ffc04f /><path d=M2427,349l7,1-8-5-7-2z color=#ffc158 /><path class=m d=M2426,345l7-1 /><path d=M2174,345l9,2-7-4-9-4z color=#4ab2e1 /><path d=M2275,287l8-24-7,8-8,20z color=#688a44 /><path class=m d=M2268,291l-7,1 /><path d=M2504,347l8-19-9,1-8,15z color=#cd8c58 /><path d=M2381,313l8,8-8-7-7-9z color=#31301a /><path d=M2496,360l8-13-9-3-7,12z color=#ffb368 /><path class=m d=M2492,350l-9-3 /><path d=M2450,360l7-1-8-5-7,1z color=#ffba48 /><path class=m d=M2449,354l-8-5M2453,356l7-3 /><path d=M2236,356l8-9-7-3-8,8z color=#72ff8f /><path d=M2512,328l9-29-9,7-9,23z color=#9e6b42 /><path class=m d=M2512,306l-9,4M2495,344l8-15M2503,329l9-23 /><path d=M2158,333l9,6-7-6-9-7z color=#258dbd /><path d=M2283,263l7-30-7,14-7,24z color=#66762f /><path d=M2412,340l7,3-8-5-7-4z color=#e5c767 /><path class=m d=M2408,336l-8-6 /><path d=M2127,289l10,19-7-12-11-26z color=#0d2a3b /><path class=m d=M2130,296l10,17 /><path d=M2488,369l8-9-8-4-8,8z color=#ffcb6a /><path class=m d=M2488,356l7-12 /><path d=M2473,369l7-5-8-5-7,5z color=#ffc453 /><path d=M2435,354l7,1-8-5-7-1z color=#ffc55a /><path d=M2197,357l8-1-7-4-8,0z color=#7de2ff /><path class=m d=M2194,352l-7-4 /><path d=M2212,361l8-4-7-4-8,3z color=#a7ffff /><path class=m d=M2217,355l8-5 /><path d=M2389,321l7,7-7-7-8-8z color=#312f1a /><path class=m d=M2393,325l7,5 /><path d=M2259,338l7-15-7,0-7,13z color=#4fc03b /><path class=m d=M2255,330l-7-2 /><path d=M2227,362l9-6-7-4-9,5z color=#94ffe2 /><path class=m d=M2229,352l-7-4 /><path d=M2181,350l9,2-7-5-9-2z color=#4eb9ea /><path class=m d=M2183,347l8,1 /><path d=M2266,323l8-19-7,2-8,17z color=#56a442 /><path d=M2458,366l7-2-8-5-7,1z color=#ffbf4b /><path class=m d=M2457,359l-8-5 /><path d=M2134,304l10,14-7-10-10-19z color=#0c2636 /><path class=m d=M2137,308l-7-12 /><path d=M2251,350l8-12-7-2-8,11z color=#4adb3d /><path d=M2504,365l8-16-8-2-8,13z color=#faa761 /><path class=m d=M2500,354l-8-4 /><path d=M2512,349l9-25-9,4-8,19z color=#b1784b /><path d=M2314,164l8,13-7-5-8,2z color=#47441e /><path d=M2274,304l8-24-7,7-8,19z color=#5b8e46 /><path d=M2290,233l8-32-7,19-8,27z color=#666820 /><path class=m d=M2287,234l-7,12 /><path d=M2243,360l8-10-7-3-8,9z color=#70fa8c /><path d=M2420,346l7,3-8-6-7-3z color=#ecce6a /><path class=m d=M2415,342l-7-6M2419,343l7,2 /><path d=M2165,340l9,5-7-6-9-6z color=#2894c7 /><path d=M2496,375l8-10-8-5-8,9z color=#ffcd6c /><path d=M2481,375l7-6-8-5-7,5z color=#ffca57 /><path class=m d=M2480,364l8-8 /><path d=M2443,360l7,0-8-5-7-1z color=#ffca5d /><path class=m d=M2446,357l7-1 /><path d=M2397,328l7,6-8-6-7-7z color=#312f1a /><path d=M2142,315l9,11-7-8-10-14z color=#2473a2 /><path class=m d=M2144,318l-7-10M2148,322l9,8 /><path d=M2359,275l7,19-7-13-7-26z color=#373417 /><path d=M2204,362l8-1-7-5-8,1z color=#81e8ff /><path class=m d=M2201,356l-7-4M2209,358l8-3 /><path d=M2466,372l7-3-8-5-7,2z color=#ffc44e /><path class=m d=M2465,364l-8-5 /><path d=M2219,365l8-3-7-5-8,4z color=#abffff /><path d=M2352,255l7,26-7-18-8-32z color=#393618 /><path d=M2367,291l7,14-8-11-7-19z color=#353216 /><path class=m d=M2366,294l8,13 /><path d=M2282,280l8-31-7,14-8,24z color=#5b7a3c /><path class=m d=M2275,287l-7,4 /><path d=M2188,355l9,2-7-5-9-2z color=#51c0f2 /><path d=M2521,324l9-37-9,12-9,29z color=#8c5e3a /><path class=m d=M2521,299l-9,7 /><path d=M2298,201l8-26-7,18-8,27z color=#6a6318 /><path d=M2235,366l8-6-7-4-9,6z color=#95ffe3 /><path class=m d=M2236,356l-7-4 /><path d=M2512,371l9-21-9-1-8,16z color=#dd9354 /><path class=m d=M2508,357l-8-3 /><path d=M2306,175l8-11-7,10-8,19z color=#3b3813 /><path class=m d=M2307,174l-8,15 /><path d=M2344,231l8,32-8-22-7-37z color=#3a3719 /><path class=m d=M2348,252l7,27 /><path d=M2504,382l8-11-8-6-8,10z color=#ffca6c /><path d=M2266,339l8-17-8,1-7,15z color=#48b135 /><path class=m d=M2263,330l-8,0 /><path d=M2489,381l7-6-8-6-7,6z color=#ffd05c /><path d=M2427,352l8,2-8-5-7-3z color=#f2d36d /><path class=m d=M2423,347l-8-5 /><path d=M2322,166l7,27-7-16-8-13z color=#44411d /><path d=M2258,353l8-14-7-1-8,12z color=#46d139 /><path d=M2374,303l7,10-7-8-7-14z color=#333015 /><path d=M2451,366l7,0-8-6-7,0z color=#ffce5f /><path d=M2405,335l7,5-8-6-7-6z color=#d6ce6f /><path d=M2149,324l9,9-7-7-9-11z color=#267aad /><path class=m d=M2151,326l-7-8 /><path d=M2172,346l9,4-7-5-9-5z color=#2a9bd0 /><path class=m d=M2174,345l9,2 /><path d=M2274,322l7-23-7,5-8,19z color=#4d943b /><path class=m d=M2259,338l7-15 /><path d=M2474,378l7-3-8-6-7,3z color=#ffca52 /><path class=m d=M2473,369l-8-5M2473,369l7-5 /><path d=M2337,204l7,37-7-25-8-35z color=#3c3919 /><path d=M2250,363l8-10-7-3-8,10z color=#6df489 /><path class=m d=M2251,350l8-12 /><path d=M2521,350l9-33-9,7-9,25z color=#9c6a41 /><path class=m d=M2508,368l8-18 /><path d=M2329,181l8,35-8-23-7-27z color=#3e3c1a /><path class=m d=M2329,193l8,38 /><path d=M2211,367l8-2-7-4-8,1z color=#84eeff /><path class=m d=M2208,361l-7-5 /><path d=M2226,370l9-4-8-4-8,3z color=#afffff /><path d=M2382,312l7,9-8-8-7-10z color=#312f15 /><path class=m d=M2385,317l8,8 /><path d=M2290,249l8-35-8,19-7,30z color=#5b6a2a /><path d=M2513,391l8-16-9-4-8,11z color=#ffba63 /><path d=M2497,389l7-7-8-7-7,6z color=#ffd863 /><path class=m d=M2500,379l8-11 /><path d=M2195,361l9,1-7-5-9-2z color=#54c6fa /><path class=m d=M2200,359l9-1 /><path d=M2435,357l8,3-8-6-8-2z color=#f7d76f /><path class=m d=M2431,353l-8-6M2439,357l7,0 /><path d=M2242,371l8-8-7-3-8,6z color=#95ffe2 /><path class=m d=M2243,360l-7-4M2243,360l8-10 /><path d=M2458,372l8,0-8-6-7,0z color=#ffd362 /><path d=M2521,375l8-28-8,3-9,21z color=#b87944 /><path class=m d=M2516,360l-8-3 /><path d=M2412,341l8,5-8-6-7-5z color=#ddd573 /><path class=m d=M2412,340l7,3 /><path d=M2281,299l8-31-7,12-8,24z color=#507e3e /><path class=m d=M2266,323l8-19 /><path d=M2156,332l9,8-7-7-9-9z color=#2881b7 /><path class=m d=M2158,333l-7-7 /><path d=M2482,385l7-4-8-6-7,3z color=#ffd056 /><path class=m d=M2481,375l-8-6 /><path d=M2179,352l9,3-7-5-9-4z color=#2ca2d9 /><path d=M2505,398l8-7-9-9-7,7z color=#ffdc67 /><path d=M2389,320l8,8-8-7-7-9z color=#312f15 /><path d=M2265,356l8-16-7-1-8,14z color=#41c435 /><path d=M2521,399l8-22-8-2-8,16z color=#f19b4f /><path d=M2273,340l8-21-7,3-8,17z color=#409d2f /><path class=m d=M2270,331l-7-1 /><path d=M2257,367l8-11-7-3-8,10z color=#6aed85 /><path d=M2124,283l10,21-7-15-11-28z color=#375f8b /><path d=M2116,261l11,28-8-19-11-35z color=#335983 /><path class=m d=M2119,270l11,26 /><path d=M2218,372l8-2-7-5-8,2z color=#88f4ff /><path class=m d=M2215,366l-7-5 /><path d=M2467,378l7,0-8-6-8,0z color=#ffd864 /><path class=m d=M2466,372l7-3 /><path d=M2443,364l8,2-8-6-8-3z color=#fbdb71 /><path class=m d=M2439,359l-8-6 /><path d=M2233,376l9-5-7-5-9,4z color=#b3ffff /><path class=m d=M2235,366l8-6 /><path d=M2298,214l8-33-8,20-8,32z color=#61621e /><path class=m d=M2294,217l-7,17 /><path d=M2513,409l8-10-8-8-8,7z color=#ffda68 /><path d=M2530,317l10-44-10,14-9,37z color=#805635 /><path class=m d=M2530,287l-9,12M2516,350l9-30M2525,320l10-40 /><path d=M2420,348l7,4-7-6-8-5z color=#e3db76 /><path d=M2490,392l7-3-8-8-7,4z color=#ffd65a /><path class=m d=M2489,381l-8-6M2493,385l7-6 /><path d=M2132,300l10,15-8-11-10-21z color=#3b6797 /><path class=m d=M2138,309l10,13 /><path d=M2202,366l9,1-7-5-9-1z color=#56cbff /><path d=M2314,162l8,4-8-2-8,11z color=#343111 /><path class=m d=M2314,164l-7,10 /><path d=M2163,340l9,6-7-6-9-8z color=#2a88c0 /><path class=m d=M2165,340l-7-7M2165,340l9,5 /><path d=M2249,376l8-9-7-4-8,8z color=#95ffe1 /><path class=m d=M2250,363l-7-3 /><path d=M2289,268l8-37-7,18-8,31z color=#526d36 /><path class=m d=M2282,280l-7,7M2274,304l8-24 /><path d=M2529,347l11-41-10,11-9,33z color=#8c5e3a /><path d=M2397,328l8,7-8-7-8-8z color=#312f15 /><path d=M2281,319l8-29-8,9-7,23z color=#458434 /><path d=M2521,421l8-16-8-6-8,10z color=#ffc85f /><path d=M2186,358l9,3-7-6-9-3z color=#2da7e0 /><path class=m d=M2192,358l8,1 /><path d=M2529,377l10-37-10,7-8,28z color=#9d6639 /><path class=m d=M2525,361l-9-1 /><path d=M2139,313l10,11-7-9-10-15z color=#406fa3 /><path d=M2306,181l8-19-8,13-8,26z color=#776e1b /><path d=M2498,401l7-3-8-9-7,3z color=#ffd85c /><path class=m d=M2497,389l-8-8 /><path d=M2475,385l7,0-8-7-7,0z color=#ffdd67 /><path d=M2529,405l9-31-9,3-8,22z color=#bc773a /><path d=M2451,370l7,2-7-6-8-2z color=#ffdf73 /><path class=m d=M2447,365l-8-6 /><path d=M2359,272l8,19-8-16-7-25z color=#333011 /><path d=M2428,354l7,3-8-5-7-4z color=#e7df79 /><path class=m d=M2431,355l8,2 /><path d=M2367,289l7,14-7-12-8-19z color=#312e10 /><path d=M2529,432l9-24-9-3-8,16z color=#fa9b44 /><path d=M2272,358l8-18-7,0-8,16z color=#3bb32f /><path d=M2225,378l8-2-7-6-8,2z color=#8cfaff /><path class=m d=M2222,371l-7-5M2226,370l9-4 /><path d=M2264,371l8-13-7-2-8,11z color=#66e580 /><path d=M2241,381l8-5-7-5-9,5z color=#b7ffff /><path d=M2506,412l7-3-8-11-7,3z color=#ffd65b /><path class=m d=M2505,398l-8-9 /><path d=M2352,250l7,25-7-20-8-31z color=#343111 /><path class=m d=M2367,291l-8-16M2359,275l7,19 /><path d=M2405,335l7,6-7-6-8-7z color=#d1c759 /><path class=m d=M2405,335l7,5 /><path d=M2170,347l9,5-7-6-9-6z color=#2c8ec8 /><path class=m d=M2172,346l-7-6 /><path d=M2514,425l7-4-8-12-7,3z color=#ffd85f /><path class=m d=M2513,409l-8-11M2513,409l8-10 /><path d=M2209,372l9,0-7-5-9-1z color=#59d0ff /><path d=M2521,441l8-9-8-11-7,4z color=#ffe369 /><path class=m d=M2521,421l-8-12 /><path d=M2374,301l8,11-8-9-7-14z color=#312e10 /><path class=m d=M2374,303l-7-12M2378,307l7,10 /><path d=M2146,323l10,9-7-8-10-11z color=#4477ae /><path d=M2529,457l8-18-8-7-8,9z color=#ffd867 /><path d=M2483,393l7-1-8-7-7,0z color=#ffe16a /><path class=m d=M2486,388l7-3 /><path d=M2256,380l8-9-7-4-8,9z color=#95ffe1 /><path class=m d=M2257,367l-7-4M2261,369l8-12 /><path d=M2280,340l8-27-7,6-8,21z color=#398d29 /><path class=m d=M2277,330l-7,1M2269,357l8-17 /><path d=M2321,161l8,20-7-15-8-4z color=#353211 /><path class=m d=M2322,166l-8-2M2322,166l7,27 /><path d=M2459,377l8,1-9-6-7-2z color=#ffe275 /><path class=m d=M2455,371l-8-6M2458,372l8,0 /><path d=M2289,290l8-38-8,16-8,31z color=#487138 /><path d=M2344,224l8,31-8-24-7-35z color=#353211 /><path class=m d=M2359,275l-7-20 /><path d=M2193,364l9,2-7-5-9-3z color=#2face6 /><path d=M2436,360l7,4-8-7-7-3z color=#ebe37b /><path d=M2297,231l8-38-7,21-8,35z color=#566428 /><path class=m d=M2282,280l8-31 /><path d=M2382,312l7,8-7-8-8-11z color=#312e10 /><path class=m d=M2382,312l-8-9 /><path d=M2537,468l9-29-9,0-8,18z color=#ec9c42 /><path d=M2537,439l10-35-9,4-9,24z color=#b46c2a /><path class=m d=M2529,432l-8-11 /><path d=M2413,342l7,6-8-7-7-6z color=#d6cc5b /><path d=M2337,196l7,35-7-27-8-31z color=#353211 /><path class=m d=M2352,255l-8-24M2340,217l8,35 /><path d=M2033,387l8-15-6-2-9,13z color=#e45d78 /><path d=M2491,401l7,0-8-9-7,1z color=#ffe16a /><path d=M2232,384l9-3-8-5-8,2z color=#91ffff /><path class=m d=M2229,377l-7-6 /><path d=M2529,478l8-10-8-11-7,1z color=#ffff85 /><path d=M2538,408l10-41-10,7-9,31z color=#9a602d /><path d=M2024,397l9-10-7-4-8,9z color=#ff5a7e /><path d=M2248,387l8-7-7-4-8,5z color=#baffff /><path class=m d=M2253,378l8-9 /><path d=M2329,173l8,31-8-23-8-20z color=#353211 /><path class=m d=M2344,231l-7-27M2337,204l-8-23M2329,181l-7-15 /><path d=M2154,332l9,8-7-8-10-9z color=#497eb9 /><path class=m d=M2156,332l9,8 /><path d=M2537,493l9-22-9-3-8,10z color=#fff07f /><path d=M2177,353l9,5-7-6-9-5z color=#2e93cf /><path class=m d=M2179,352l-7-6M2183,355l9,3 /><path d=M2272,376l8-15-8-3-8,13z color=#60d878 /><path d=M2217,378l8,0-7-6-9,0z color=#5bd5ff /><path class=m d=M2218,372l8-2 /><path d=M2540,306l10-48-10,15-10,44z color=#7c5433 /><path class=m d=M2540,273l-10,14 /><path d=M2538,374l11-44-10,10-10,37z color=#8c5b32 /><path class=m d=M2534,358l-9,3M2521,399l8-22 /><path d=M2467,384l8,1-8-7-8-1z color=#ffe677 /><path class=m d=M2463,378l-8-7 /><path d=M2522,458l7-1-8-16-7-1z color=#ffdf6b /><path class=m d=M2525,449l8-13 /><path d=M2539,340l10-47-9,13-11,41z color=#835836 /><path d=M2041,372l8-22-6,2-8,18z color=#af5568 /><path class=m d=M2026,383l9-13 /><path d=M2390,321l7,7-8-8-7-8z color=#312e10 /><path class=m d=M2389,320l-7-8 /><path d=M2280,361l8-24-8,3-8,18z color=#339c29 /><path d=M2499,411l7,1-8-11-7,0z color=#ffdc67 /><path d=M2264,386l8-10-8-5-8,9z color=#96ffe1 /><path class=m d=M2264,371l-7-4 /><path d=M2015,404l9-7-6-5-9,7z color=#ff4d77 /><path class=m d=M2018,392l8-9 /><path d=M2444,367l7,3-8-6-7-4z color=#eee67d /><path d=M2288,313l8-37-7,14-8,29z color=#3d762f /><path class=m d=M2277,340l8-24 /><path d=M2514,440l7,1-7-16-7-2z color=#ffce61 /><path d=M2201,370l8,2-7-6-9-2z color=#30b0ec /><path d=M2507,423l7,2-8-13-7-1z color=#ffd262 /><path class=m d=M2506,412l7-3 /><path d=M2537,513l8-14-8-6-7,2z color=#ffffb0 /><path d=M2421,349l7,5-8-6-7-6z color=#dbd15d /><path class=m d=M2424,351l7,4 /><path d=M2305,193l8-27-7,15-8,33z color=#686a20 /><path class=m d=M2302,197l-8,20M2290,249l8-35 /><path d=M2313,166l8-5-7,1-8,19z color=#ab9f27 /><path class=m d=M2298,214l8-33M2306,181l8-19M2314,162l8,4 /><path d=M2476,391l7,2-8-8-8-1z color=#ffe979 /><path class=m d=M2471,385l-8-7M2479,389l7-1 /><path d=M2545,499l10-33-9,5-9,22z color=#c59648 /><path d=M2530,495l7-2-8-15-6-6z color=#fffa86 /><path d=M2121,278l11,22-8-17-11-28z color=#505d8f /><path class=m d=M2128,291l10,18 /><path d=M2240,390l8-3-7-6-9,3z color=#95ffff /><path class=m d=M2237,382l-8-5M2244,384l9-6 /><path d=M2161,340l9,7-7-7-9-8z color=#4c84c1 /><path d=M2546,471l10-39-10,7-9,29z color=#a16727 /><path d=M2297,252l8-42-8,21-8,37z color=#4d6733 /><path class=m d=M2289,268l-7,12 /><path d=M2255,393l9-7-8-6-8,7z color=#c0ffff /><path d=M2129,297l10,16-7-13-11-22z color=#56659a /><path d=M2006,408l9-4-6-5-10,3z color=#ff4c77 /><path class=m d=M1999,402l10-3M2009,399l9-7 /><path d=M2398,329l7,6-8-7-7-7z color=#cabe42 /><path class=m d=M2397,328l-8-8M2397,328l8,7 /><path d=M2113,255l11,28-8-22-11-34z color=#4b5887 /><path class=m d=M2127,289l-8-20 /><path d=M2184,360l9,4-7-6-9-5z color=#3097d6 /><path class=m d=M2186,358l-7-6 /><path d=M2546,523l9-27-10,3-8,14z color=#ffe17c /><path class=m d=M2541,506l-8-12 /><path d=M2224,384l8,0-7-6-8,0z color=#5edaff /><path d=M2452,374l7,3-8-7-7-3z color=#f1e87e /><path class=m d=M2451,370l7,2 /><path d=M2031,403l8-11-6-5-9,10z color=#ff597d /><path class=m d=M2029,392l-7-5 /><path d=M2049,350l6-33-5,10-7,25z color=#81475f /><path class=m d=M2035,370l8-18 /><path d=M2288,337l8-35-8,11-8,27z color=#327e25 /><path class=m d=M2284,326l-7,4 /><path d=M2546,439l11-44-10,9-10,35z color=#915620 /><path class=m d=M2537,439l-8-7 /><path d=M2039,392l8-19-6-1-8,15z color=#d1546d /><path d=M2279,381l8-20-7,0-8,15z color=#55c26b /><path d=M2271,393l8-12-7-5-8,10z color=#95ffdf /><path class=m d=M2272,376l-8-5 /><path d=M2105,227l11,34-8-26-12-35z color=#4a5785 /><path class=m d=M2119,269l-9-25M2110,244l-8-27M2108,235l11,35 /><path d=M2429,356l7,4-8-6-7-5z color=#dfd45f /><path d=M2137,311l9,12-7-10-10-16z color=#5d6da7 /><path class=m d=M2134,305l-7-16 /><path d=M2484,399l7,2-8-8-7-2z color=#ffea7a /><path class=m d=M2479,392l-8-7 /><path d=M2022,411l9-8-7-6-9,7z color=#ff517c /><path d=M2208,376l9,2-8-6-8-2z color=#31b4f0 /><path class=m d=M2209,372l9,0 /><path d=M2523,472l6,6-7-20-7-7z color=#edcf6c /><path class=m d=M2533,494l-7-19 /><path d=M2538,529l8-6-9-10-6-5z color=#ffffaa /><path d=M2547,404l11-46-10,9-10,41z color=#895527 /><path class=m d=M2533,436l9-30 /><path d=M2359,271l8,18-8-17-7-24z color=#312d0b /><path d=M2367,288l7,13-7-12-8-18z color=#312d0b /><path class=m d=M2370,295l8,12 /><path d=M2406,336l7,6-8-7-7-6z color=#d0c344 /><path class=m d=M2405,335l-8-7 /><path d=M2546,542l9-19-9,0-8,6z color=#ffffb8 /><path d=M2168,347l9,6-7-6-9-7z color=#4f88c8 /><path class=m d=M2174,350l9,5 /><path d=M2247,396l8-3-7-6-8,3z color=#9bffff /><path class=m d=M2244,388l-7-6 /><path d=M2460,381l7,3-8-7-7-3z color=#f3ea7f /><path d=M2263,399l8-6-7-7-9,7z color=#c7ffff /><path d=M2287,361l8-31-7,7-8,24z color=#2c8a23 /><path d=M2374,302l8,10-8-11-7-13z color=#b5a82a /><path d=M2352,248l7,24-7-22-8-29z color=#312d0b /><path d=M2047,373l7-29-5,6-8,22z color=#9c4b5c /><path d=M2492,408l7,3-8-10-7-2z color=#ffe678 /><path class=m d=M2487,400l-8-8 /><path d=M2296,276l8-44-7,20-8,38z color=#436a34 /><path class=m d=M2285,316l7-33 /><path d=M2548,367l10-47-9,10-11,44z color=#84562f /><path class=m d=M2543,352l-9,6 /><path d=M2144,322l10,10-8-9-9-12z color=#6576b4 /><path class=m d=M2142,317l-8-12M2146,323l10,9 /><path d=M2192,366l9,4-8-6-9-4z color=#319bdb /><path class=m d=M2193,364l-7-6 /><path d=M2231,390l9,0-8-6-8,0z color=#61dfff /><path class=m d=M2236,387l8-3 /><path d=M2515,451l7,7-8-18-6-7z color=#e3c667 /><path class=m d=M2526,475l-7-20M2518,449l7,0 /><path d=M2012,415l10-4-7-7-9,4z color=#ff507c /><path class=m d=M2006,408l-7-6 /><path d=M2437,362l7,5-8-7-7-4z color=#e1d760 /><path d=M2321,161l8,12-8-12-8,5z color=#fcea3b /><path d=M2531,508l6,5-7-18-6-12z color=#e8e07a /><path d=M2549,330l10-47-10,10-10,47z color=#825836 /><path class=m d=M2529,377l10-37 /><path d=M2549,293l11-44-10,9-10,48z color=#805635 /><path class=m d=M2550,258l-10,15 /><path d=M2038,411l8-15-7-4-8,11z color=#ff5476 /><path class=m d=M2035,398l-6-6 /><path d=M2279,400l8-15-8-4-8,12z color=#8cfbd1 /><path d=M2500,419l7,4-8-12-7-3z color=#fcdc72 /><path class=m d=M2495,410l-8-10M2499,411l7,1 /><path d=M2305,210l8-35-8,18-8,38z color=#5a682a /><path d=M2508,433l6,7-7-17-7-4z color=#ecce6b /><path class=m d=M2519,455l-8-19M2511,436l-8-15M2503,421l-8-11 /><path d=M2382,312l8,9-8-9-8-10z color=#c1b32c /><path d=M2344,221l8,29-8-26-8-31z color=#312d0b /><path class=m d=M2352,250l7,25 /><path d=M2215,382l9,2-7-6-9-2z color=#33b7f4 /><path d=M2555,496l10-42-10,12-10,33z color=#8b6930 /><path d=M2029,418l9-7-7-8-9,8z color=#ff5782 /><path d=M2413,343l8,6-8-7-7-6z color=#d4c745 /><path class=m d=M2413,342l-8-7M2417,346l7,5 /><path d=M2468,388l8,3-9-7-7-3z color=#f5ec80 /><path class=m d=M2472,388l7,1 /><path d=M2555,523l10-38-10,11-9,27z color=#998646 /><path class=m d=M2550,510l-9-4 /><path d=M2287,385l8-26-8,2-8,20z color=#47a55a /><path class=m d=M2279,381l-7-5 /><path d=M2046,396l7-24-6,1-8,19z color=#b5485e /><path class=m d=M2034,407l9-13 /><path d=M2270,408l9-8-8-7-8,6z color=#cdffff /><path class=m d=M2271,393l8-12 /><path d=M2555,466l11-46-10,12-10,39z color=#84541f /><path class=m d=M2537,493l9-22 /><path d=M2254,403l9-4-8-6-8,3z color=#a1ffff /><path class=m d=M2251,394l-7-6 /><path d=M2175,354l9,6-7-7-9-6z color=#518cce /><path d=M2055,317l6-42-5,17-6,35z color=#5a385d /><path class=m d=M2043,352l7-25 /><path d=M2296,302l8-44-8,18-8,37z color=#396d2b /><path d=M2151,332l10,8-7-8-10-10z color=#6a7dbe /><path class=m d=M2149,327l-7-10 /><path d=M2336,193l8,31-7-28-8-25z color=#312d0b /><path d=M2329,171l8,25-8-23-8-12z color=#cbbc2f /><path class=m d=M2333,185l7,32 /><path d=M2445,369l7,5-8-7-7-5z color=#e3d861 /><path class=m d=M2444,367l7,3 /><path d=M2313,175l8-14-8,5-8,27z color=#96982f /><path class=m d=M2309,179l-7,18 /><path d=M2239,397l8-1-7-6-9,0z color=#64e4ff /><path d=M2547,556l8-12-9-2-7-2z color=#ffffa3 /><path d=M2199,373l9,3-7-6-9-4z color=#329edf /><path class=m d=M2201,370l-8-6M2201,370l8,2 /><path d=M2555,544l10-32-10,11-9,19z color=#b5af60 /><path d=M2390,321l8,8-8-8-8-9z color=#c9bb2e /><path class=m d=M2390,321l7,7 /><path d=M2539,540l7,2-8-13-6-13z color=#fff770 /><path class=m d=M2542,536l8-13 /><path d=M2019,423l10-5-7-7-10,4z color=#ff5682 /><path class=m d=M2012,415l-6-7M2016,419l9-4M2025,415l9-8 /><path d=M2556,432l11-47-10,10-11,44z color=#824d1c /><path class=m d=M2546,439l-9,0 /><path d=M2524,483l6,12-7-23-6-12z color=#c6c068 /><path class=m d=M2530,495l7-2 /><path d=M2477,396l7,3-8-8-8-3z color=#f6ed80 /><path d=M2286,409l8-21-7-3-8,15z color=#77d9b5 /><path d=M2421,350l8,6-8-7-8-6z color=#d7cb47 /><path class=m d=M2421,349l-8-7 /><path d=M2295,330l8-42-7,14-8,35z color=#2e7221 /><path class=m d=M2292,320l-8,6 /><path d=M2278,418l8-9-7-9-9,8z color=#cdffff /><path d=M2222,389l9,1-7-6-9-2z color=#34baf9 /><path class=m d=M2227,387l9,0 /><path d=M2036,428l9-9-7-8-9,7z color=#ff5984 /><path d=M2045,419l8-20-7-3-8,15z color=#e34968 /><path class=m d=M2042,404l-7-6 /><path d=M2054,344l6-40-5,13-6,33z color=#764258 /><path class=m d=M2049,350l-6,2 /><path d=M2262,411l8-3-7-9-9,4z color=#a6ffff /><path class=m d=M2259,401l-8-7M2263,399l8-6 /><path d=M2557,395l10-46-9,9-11,46z color=#825125 /><path d=M2159,340l9,7-7-7-10-8z color=#6e82c6 /><path class=m d=M2156,336l-7-9M2164,344l10,6 /><path d=M2453,376l7,5-8-7-7-5z color=#e4d961 /><path d=M2304,232l8-40-7,18-8,42z color=#4e6834 /><path class=m d=M2297,252l-8,16M2292,283l8-41 /><path d=M2183,361l9,5-8-6-9-6z color=#5390d3 /><path d=M2485,404l7,4-8-9-7-3z color=#f4ec80 /><path d=M2398,330l8,6-8-7-8-8z color=#cec030 /><path d=M2295,359l8-39-8,10-8,31z color=#277b1f /><path class=m d=M2279,381l8-20 /><path d=M2119,276l10,21-8-19-11-26z color=#665d95 /><path d=M2246,404l8-1-7-7-8,1z color=#67eaff /><path d=M2127,296l10,15-8-14-10-21z color=#6e65a2 /><path d=M2053,372l7-38-6,10-7,29z color=#8b4352 /><path class=m d=M2043,394l7-21 /><path d=M2517,460l6,12-8-21-6-11z color=#c4be66 /><path d=M2558,358l10-45-10,7-10,47z color=#855730 /><path class=m d=M2553,344l-10,8M2542,406l11-44 /><path d=M2026,432l10-4-7-10-10,5z color=#ff5b87 /><path class=m d=M2019,423l-7-8 /><path d=M2206,379l9,3-7-6-9-3z color=#33a1e2 /><path class=m d=M2208,376l-7-6 /><path d=M2286,430l8-14-8-7-8,9z color=#beffff /><path d=M2532,516l6,13-7-21-6-18z color=#bcb350 /><path d=M2556,560l9-25-10,9-8,12z color=#f7ec6f /><path d=M2430,357l7,5-8-6-8-6z color=#dacd47 /><path class=m d=M2429,356l-8-7 /><path d=M2110,252l11,26-8-23-11-32z color=#61598e /><path class=m d=M2117,267l11,24 /><path d=M2294,388l8-35-7,6-8,26z color=#3b8c4c /><path class=m d=M2287,385l-8-4 /><path d=M2559,283l10-35-9,1-11,44z color=#8f613b /><path class=m d=M2560,249l-10,9M2539,340l10-47M2549,293l11-44 /><path d=M2558,320l11-41-10,4-10,47z color=#8b5e3a /><path d=M2270,421l8-3-8-10-8,3z color=#a7ffff /><path class=m d=M2266,410l-7-9 /><path d=M2493,414l7,5-8-11-7-4z color=#ede57c /><path class=m d=M2492,408l7,3 /><path d=M2134,311l10,11-7-11-10-15z color=#786eb0 /><path class=m d=M2137,311l9,12 /><path d=M2043,439l9-13-7-7-9,9z color=#ff537b /><path d=M2053,399l6-32-6,5-7,24z color=#9a3c4f /><path d=M2230,396l9,1-8-7-9-1z color=#35bdfd /><path d=M2294,416l8-30-8,2-8,21z color=#5cae90 /><path d=M2367,290l7,12-7-14-8-16z color=#a2a533 /><path d=M2461,384l7,4-8-7-7-5z color=#e4d961 /><path class=m d=M2464,384l8,4 /><path d=M2359,272l8,16-8-17-8-22z color=#95982f /><path class=m d=M2363,279l7,16 /><path d=M2509,440l6,11-7-18-7-7z color=#d0c96c /><path class=m d=M2512,442l6,7 /><path d=M2102,223l11,32-8-28-12-31z color=#61598e /><path d=M2501,426l7,7-8-14-7-5z color=#e0d875 /><path d=M2406,337l7,6-7-7-8-6z color=#d2c330 /><path class=m d=M2409,340l8,6 /><path d=M2166,348l9,6-7-7-9-7z color=#7285cb /><path class=m d=M2163,344l-7-8 /><path d=M2320,169l9,2-8-10-8,14z color=#ffff57 /><path class=m d=M2317,168l-8,11M2325,166l8,19 /><path d=M2093,196l12,31-9-27-11-22z color=#6f66a3 /><path class=m d=M2096,200l12,35 /><path d=M2277,434l9-4-8-12-8,3z color=#a9ffff /><path class=m d=M2274,420l-8-10M2282,424l8-12 /><path d=M2375,303l7,9-8-10-7-12z color=#afb237 /><path class=m d=M2371,296l-8-16 /><path d=M2052,426l7-27-6,0-8,20z color=#bb3953 /><path class=m d=M2049,409l-7-5 /><path d=M2190,368l9,5-7-7-9-5z color=#5593d7 /><path class=m d=M2192,366l9,4 /><path d=M2254,412l8-1-8-8-8,1z color=#69edff /><path class=m d=M2254,403l9-4 /><path d=M2034,444l9-5-7-11-10,4z color=#ff5f8a /><path class=m d=M2026,432l-7-9 /><path d=M2293,442l8-23-7-3-8,14z color=#98ebff /><path d=M2351,249l8,22-7-23-8-26z color=#8e912d /><path class=m d=M2363,280l-8-20 /><path d=M2304,258l8-44-8,18-8,44z color=#436934 /><path d=M2549,564l7-4-9-4-6-10z color=#ffff65 /><path d=M2312,192l8-23-7,6-8,35z color=#768837 /><path class=m d=M2300,242l8-41M2308,201l9-29M2317,172l8-6 /><path d=M2142,323l9,9-7-10-10-11z color=#8176bd /><path d=M2438,364l7,5-8-7-7-5z color=#dbce48 /><path class=m d=M2437,362l-8-6M2437,362l7,5 /><path d=M2061,275l6-45-5,19-6,43z color=#433163 /><path class=m d=M2050,327l6-35 /><path d=M2565,485l11-45-11,14-10,42z color=#795b29 /><path class=m d=M2550,523l10-33 /><path d=M2285,449l8-7-7-12-9,4z color=#b0ffff /><path class=m d=M2281,432l-7-12 /><path d=M2565,512l11-43-11,16-10,38z color=#796936 /><path class=m d=M2560,504l-10,6 /><path d=M2214,386l8,3-7-7-9-3z color=#34a3e5 /><path class=m d=M2215,382l-7-6M2219,386l8,1 /><path d=M2565,454l11-45-10,11-11,46z color=#7a4e1c /><path d=M2470,391l7,5-9-8-7-4z color=#e4d961 /><path d=M2050,451l8-21-6-4-9,13z color=#f53f63 /><path d=M2382,314l8,7-8-9-7-9z color=#babd3a /><path class=m d=M2378,308l-7-12M2382,312l8,9 /><path d=M2541,546l6,10-8-16-5-20z color=#c9bd42 /><path class=m d=M2556,560l-9-4 /><path d=M2293,465l8-15-8-8-8,7z color=#aaffff /><path class=m d=M2289,445l-8-13 /><path d=M2525,490l6,18-7-25-6-18z color=#aca449 /><path d=M2237,403l9,1-7-7-9-1z color=#36c1ff /><path d=M2041,458l9-7-7-12-9,5z color=#ff618b /><path class=m d=M2034,444l-8-12M2034,444l9-5 /><path d=M2344,222l8,26-8-27-8-26z color=#8f922d /><path class=m d=M2355,260l-7-25 /><path d=M2414,345l7,5-8-7-7-6z color=#d5c631 /><path d=M2566,420l11-44-10,9-11,47z color=#7e4b1b /><path class=m d=M2556,432l-10,7M2546,471l10-39 /><path d=M2565,535l11-40-11,17-10,32z color=#7e7a42 /><path class=m d=M2556,560l9-25 /><path d=M2261,422l9-1-8-10-8,1z color=#69ebff /><path d=M2303,288l8-47-7,17-8,44z color=#376a2a /><path d=M2173,356l10,5-8-7-9-6z color=#7489d0 /><path class=m d=M2171,351l-8-7 /><path d=M2328,176l8,17-7-22-9-2z color=#eef24d /><path class=m d=M2325,170l-8-2 /><path d=M2569,279l9-24-9-7-10,35z color=#ae774b /><path class=m d=M2569,248l-9,1 /><path d=M2060,304l6-48-5,19-6,42z color=#58375b /><path d=M2149,332l10,8-8-8-9-9z color=#887cc7 /><path class=m d=M2155,336l9,8 /><path d=M2336,195l8,26-8-28-8-17z color=#a6a934 /><path class=m d=M2348,235l-8-27M2340,208l-8-24M2332,184l-7-14M2344,221l8,29 /><path d=M2446,371l7,5-8-7-7-5z color=#dccf48 /><path class=m d=M2445,369l-8-7 /><path d=M2567,385l10-41-10,5-10,46z color=#865326 /><path d=M2197,375l9,4-7-6-9-5z color=#5695da /><path d=M2049,473l9-13-8-9-9,7z color=#ff537a /><path class=m d=M2041,458l-7-14 /><path d=M2478,399l7,5-8-8-7-5z color=#e3d861 /><path d=M2301,450l8-33-8,2-8,23z color=#6dadbe /><path d=M2300,478l9-26-8-2-8,15z color=#7edaff /><path class=m d=M2297,457l-8-12 /><path d=M2390,323l8,7-8-9-8-7z color=#c0c43c /><path class=m d=M2386,318l-8-10 /><path d=M2568,313l10-31-9-3-11,41z color=#a36f45 /><path class=m d=M2553,362l10-45 /><path d=M2303,320l8-48-8,16-8,42z color=#2b6d20 /><path class=m d=M2299,309l-7,11M2287,361l8-31 /><path d=M2567,349l11-37-10,1-10,45z color=#915f34 /><path class=m d=M2563,336l-10,8 /><path d=M2301,419l8-38-7,5-8,30z color=#498c73 /><path d=M2221,393l9,3-8-7-8-3z color=#34a4e7 /><path class=m d=M2222,389l-7-7 /><path d=M2269,433l8,1-7-13-9,1z color=#64e3ff /><path class=m d=M2273,428l9-4 /><path d=M2302,386l8-43-8,10-8,35z color=#347c43 /><path class=m d=M2294,388l-7-3M2290,412l8-25 /><path d=M2292,485l8-7-7-13-9,1z color=#7effff /><path d=M2302,353l8-46-7,13-8,39z color=#24711c /><path d=M2060,334l5-46-5,16-6,40z color=#6f3d52 /><path class=m d=M2054,344l-5,6M2050,373l7-34 /><path d=M2422,352l8,5-9-7-7-5z color=#d7c832 /><path d=M2284,466l9-1-8-16-8-1z color=#68e5ff /><path d=M2300,502l8-18-8-6-8,7z color=#82ffff /><path d=M2245,411l9,1-8-8-9-1z color=#37c3ff /><path class=m d=M2246,404l8-1 /><path d=M2277,448l8,1-8-15-8-1z color=#62dcff /><path d=M2059,367l6-45-5,12-7,38z color=#7f3d4b /><path d=M2058,460l7-30-7,0-8,21z color=#ba2a46 /><path d=M2518,465l6,18-7-23-7-15z color=#aea64a /><path class=m d=M2524,483l6,12 /><path d=M2058,430l7-36-6,5-7,27z color=#972c42 /><path class=m d=M2055,412l-6-3M2043,439l9-13 /><path d=M2059,399l6-41-6,9-6,32z color=#883546 /><path d=M2486,408l7,6-8-10-7-5z color=#dfd55f /><path class=m d=M2485,404l7,4 /><path d=M2312,214l8-31-8,9-8,40z color=#5d7c3d /><path class=m d=M2304,232l-7,20 /><path d=M2057,487l7-23-6-4-9,13z color=#d43453 /><path class=m d=M2049,473l-8-15 /><path d=M2534,520l5,20-7-24-5-23z color=#a09634 /><path class=m d=M2547,556l-8-16M2536,528l6,8 /><path d=M2454,378l7,6-8-8-7-5z color=#dbce48 /><path class=m d=M2453,376l-8-7M2457,380l7,4 /><path d=M2578,282l8-13-8-14-9,24z color=#f8ad72 /><path class=m d=M2578,255l-9-7M2563,317l10-36M2573,281l9-19 /><path d=M2156,341l10,7-7-8-10-8z color=#8c80cd /><path d=M2181,363l9,5-7-7-10-5z color=#778bd4 /><path class=m d=M2178,358l-7-7M2183,361l9,5 /><path d=M2398,331l8,6-8-7-8-7z color=#c4c73e /><path class=m d=M2394,326l-8-8M2402,333l7,7 /><path d=M2205,382l9,4-8-7-9-4z color=#5797dd /><path class=m d=M2210,383l9,3 /><path d=M2116,277l11,19-8-20-12-24z color=#62599e /><path d=M2124,297l10,14-7-15-11-19z color=#6a60aa /><path class=m d=M2127,296l10,15 /><path d=M2494,418l7,8-8-12-7-6z color=#d7cd5b /><path d=M2320,183l8-7-8-7-8,23z color=#cfee65 /><path d=M2067,230l7-35-6,13-6,41z color=#3d367a /><path class=m d=M2056,292l6-43 /><path d=M2299,522l9-10-8-10-9,0z color=#5bf9ff /><path d=M2510,445l7,15-8-20-7-10z color=#bab24f /><path d=M2229,400l8,3-7-7-9-3z color=#35a6ea /><path class=m d=M2230,396l-8-7 /><path d=M2430,359l8,5-8-7-8-5z color=#d9c932 /><path class=m d=M2430,357l7,5 /><path d=M2587,291l7-6-8-16-8,13z color=#ffe59b /><path class=m d=M2586,269l-8-14 /><path d=M2308,512l8-31-8,3-8,18z color=#4eb0dc /><path d=M2252,420l9,2-7-10-9-1z color=#37c2ff /><path d=M2082,183l11,13-8-18-9,2z color=#baaaff /><path class=m d=M2085,178l11,22 /><path d=M2502,430l7,10-8-14-7-8z color=#cac056 /><path class=m d=M2505,433l7,9 /><path d=M2107,252l12,24-9-24-11-28z color=#5f5699 /><path d=M2308,484l8-37-7,5-9,26z color=#5092ae /><path class=m d=M2304,465l-7-8 /><path d=M2578,312l9-21-9-9-10,31z color=#d99560 /><path d=M2291,502l9,0-8-17-8-5z color=#3cc5ff /><path d=M2132,313l10,10-8-12-10-14z color=#7369b9 /><path d=M2359,276l8,14-8-18-8-18z color=#90a643 /><path d=M2367,293l8,10-8-13-8-14z color=#9bb348 /><path d=M2595,303l7-4-8-14-7,6z color=#fff3a3 /><path class=m d=M2594,285l-8-16 /><path d=M2462,386l8,5-9-7-7-6z color=#dacd47 /><path class=m d=M2461,384l-8-8 /><path d=M2307,536l8-24-7,0-9,10z color=#4ad5ff /><path d=M2406,339l8,6-8-8-8-6z color=#c6c93e /><path class=m d=M2402,334l-8-8 /><path d=M2309,452l8-42-8,7-8,33z color=#548794 /><path class=m d=M2293,465l8-15 /><path d=M2099,224l11,28-8-29-12-24z color=#635a9f /><path class=m d=M2106,237l11,30 /><path d=M2351,254l8,18-8-23-7-21z color=#8ba040 /><path class=m d=M2355,260l8,19 /><path d=M2375,307l7,7-7-11-8-10z color=#a7c14e /><path class=m d=M2375,303l7,9 /><path d=M2577,344l10-28-9-4-11,37z color=#a86f3e /><path class=m d=M2573,331l-10,5 /><path d=M2603,314l8-4-9-11-7,4z color=#fff09e /><path class=m d=M2602,299l-8-14 /><path d=M2164,349l9,7-7-8-10-7z color=#8f83d2 /><path d=M2311,241l9-38-8,11-8,44z color=#4a753a /><path d=M2090,199l12,24-9-27-11-13z color=#7d71c8 /><path d=M2188,370l9,5-7-7-9-5z color=#788dd7 /><path class=m d=M2185,365l-7-7 /><path d=M2260,430l9,3-8-11-9-2z color=#35bcfb /><path class=m d=M2265,427l8,1 /><path d=M2064,496l6-35-6,3-7,23z color=#962038 /><path class=m d=M2057,487l-8-14 /><path d=M2577,376l10-33-10,1-10,41z color=#925b2a /><path class=m d=M2556,432l11-47 /><path d=M2284,480l8,5-8-19-8-7z color=#30a9e2 /><path d=M2576,440l11-41-11,10-11,45z color=#7b4e1d /><path class=m d=M2560,490l11-43 /><path d=M2576,409l11-38-10,5-11,44z color=#844e1c /><path class=m d=M2566,420l-10,12 /><path d=M2074,195l8-12-6-3-8,28z color=#8679ec /><path class=m d=M2062,249l6-41M2068,208l8-28M2076,180l9-2 /><path d=M2576,469l11-42-11,13-11,45z color=#755928 /><path d=M2212,389l9,4-7-7-9-4z color=#5897de /><path d=M2139,324l10,8-7-9-10-10z color=#7b70c6 /><path class=m d=M2145,328l10,8 /><path d=M2439,366l7,5-8-7-8-5z color=#d9c932 /><path d=M2236,408l9,3-8-8-8-3z color=#35a7eb /><path class=m d=M2237,403l-7-7M2237,403l9,1 /><path d=M2309,417l8-46-8,10-8,38z color=#407b65 /><path d=M2527,493l5,23-7-26-5-22z color=#312e10 /><path class=m d=M2539,540l-7-24 /><path d=M2344,228l7,21-7-27-8-18z color=#92a844 /><path d=M2328,187l8,8-8-19-8,7z color=#ffff83 /><path d=M2612,323l7-4-8-9-8,4z color=#ffef9c /><path class=m d=M2611,310l-9-11 /><path d=M2064,464l6-40-5,6-7,30z color=#8e1e34 /><path class=m d=M2053,480l8-18 /><path d=M2471,394l7,5-8-8-8-5z color=#d8cb47 /><path class=m d=M2470,391l-9-7 /><path d=M2066,256l6-41-5,15-6,45z color=#48356a /><path class=m d=M2064,252l-5,19 /><path d=M2587,316l8-13-8-12-9,21z color=#ffc985 /><path d=M2299,538l8-2-8-14-8-7z color=#47c7ff /><path d=M2268,443l9,5-8-15-9-3z color=#32b1ec /><path d=M2307,555l8-16-8-3-8,2z color=#6afaff /><path d=M2576,495l11-41-11,15-11,43z color=#706232 /><path class=m d=M2581,475l-11,16M2570,491l-10,13M2565,535l11-40 /><path d=M2276,459l8,7-7-18-9-5z color=#2fa7e0 /><path class=m d=M2284,466l9-1 /><path d=M2383,317l7,6-8-9-7-7z color=#b1cc52 /><path d=M2543,547l6,17-8-18-5-26z color=#a19625 /><path class=m d=M2549,564l7-4 /><path d=M2336,204l8,18-8-27-8-8z color=#bad758 /><path class=m d=M2336,195l8,26 /><path d=M2415,347l7,5-8-7-8-6z color=#c7cb3f /><path class=m d=M2410,342l-8-8 /><path d=M2311,272l8-43-8,12-8,47z color=#3a702c /><path class=m d=M2295,330l8-42 /><path d=M2309,381l9-48-8,10-8,43z color=#30733e /><path class=m d=M2302,386l-8,2 /><path d=M2065,430l5-44-5,8-7,36z color=#832639 /><path class=m d=M2061,412l-6,0 /><path d=M2171,357l10,6-8-7-9-7z color=#9185d5 /><path class=m d=M2173,356l10,5 /><path d=M2621,331l7-4-9-8-7,4z color=#ffec9a /><path class=m d=M2619,319l-8-9 /><path d=M2310,343l8-48-8,12-8,46z color=#236f1c /><path class=m d=M2298,387l8-39 /><path d=M2320,203l8-16-8-4-8,31z color=#98c966 /><path class=m d=M2312,214l-8,18 /><path d=M2310,307l9-46-8,11-8,48z color=#2c6e20 /><path class=m d=M2307,296l-8,13 /><path d=M2596,323l7-9-8-11-8,13z color=#ffea9e /><path class=m d=M2595,303l7-4 /><path d=M2147,334l9,7-7-9-10-8z color=#8175cf /><path d=M2479,402l7,6-8-9-7-5z color=#d5c846 /><path class=m d=M2478,399l-8-8M2478,399l7,5 /><path d=M2447,373l7,5-8-7-7-5z color=#d8c932 /><path class=m d=M2450,375l7,5 /><path d=M2195,377l10,5-8-7-9-5z color=#7a8fd9 /><path class=m d=M2193,372l-8-7M2201,378l9,5 /><path d=M2065,288l6-46-5,14-6,48z color=#5a395d /><path class=m d=M2057,339l6-43 /><path d=M2291,515l8,7-8-20-8-12z color=#3094d1 /><path class=m d=M2295,512l9-5 /><path d=M2244,417l8,3-7-9-9-3z color=#36a7eb /><path class=m d=M2245,411l-8-8 /><path d=M2315,512l9-41-8,10-8,31z color=#317493 /><path d=M2315,539l8-36-8,9-8,24z color=#227ba4 /><path class=m d=M2307,536l-8-14 /><path d=M2391,326l7,5-8-8-7-6z color=#b5d154 /><path class=m d=M2394,327l8,6 /><path d=M2587,343l9-20-9-7-10,28z color=#d48d51 /><path class=m d=M2582,330l-9,1M2567,385l10-41M2577,344l10-28M2587,316l8-13 /><path d=M2065,394l5-47-5,11-6,41z color=#7d3040 /><path class=m d=M2052,426l7-27 /><path d=M2220,396l9,4-8-7-9-4z color=#5898df /><path d=M2065,322l6-48-6,14-5,46z color=#6e3d52 /><path class=m d=M2060,334l-6,10 /><path d=M2065,358l5-49-5,13-6,45z color=#7a3b48 /><path d=M2520,468l5,22-7-25-6-17z color=#312e10 /><path class=m d=M2532,516l-7-26 /><path d=M2316,481l8-44-8,10-8,37z color=#3f748b /><path class=m d=M2312,465l-8,0M2304,507l8-25 /><path d=M2423,354l7,5-8-7-7-5z color=#c8cb3f /><path class=m d=M2418,349l-8-7M2422,352l8,5 /><path d=M2604,331l8-8-9-9-7,9z color=#fff4a4 /><path d=M2487,411l7,7-8-10-7-6z color=#d0c444 /><path class=m d=M2486,408l-8-9 /><path d=M2314,561l9-30-8,8-8,16z color=#3294cf /><path d=M2630,337l7-3-9-7-7,4z color=#ffe695 /><path class=m d=M2628,327l-9-8 /><path d=M2587,371l9-25-9-3-10,33z color=#a76931 /><path d=M2080,194l10,5-8-16-8,12z color=#c7b5ff /><path class=m d=M2082,183l-6-3 /><path d=M2306,569l8-8-7-6-9-6z color=#8ae0ff /><path d=M2455,380l7,6-8-8-7-5z color=#d6c731 /><path d=M2072,215l8-21-6,1-7,35z color=#574cad /><path d=M2251,426l9,4-8-10-8-3z color=#35a4e7 /><path class=m d=M2252,420l-7-9M2256,425l9,2 /><path d=M2536,520l5,26-7-26-5-27z color=#312d0b /><path d=M2399,334l7,5-8-8-7-5z color=#b7d355 /><path d=M2154,343l10,6-8-8-9-7z color=#8478d4 /><path d=M2179,364l9,6-7-7-10-6z color=#9387d8 /><path d=M2283,490l8,12-7-22-9-12z color=#2a86bd /><path class=m d=M2299,522l-8-20 /><path d=M2114,281l10,16-8-20-11-20z color=#6056ac /><path d=M2070,496l6-43-6,8-6,35z color=#7d1a2d /><path class=m d=M2064,496l-7-9 /><path d=M2122,301l10,12-8-16-10-16z color=#675cb7 /><path d=M2316,447l9-47-8,10-8,42z color=#497682 /><path d=M2496,421l6,9-8-12-7-7z color=#c7bb41 /><path class=m d=M2494,418l-8-10M2498,424l7,9 /><path d=M2203,384l9,5-7-7-10-5z color=#7a8fda /><path class=m d=M2200,379l-7-7 /><path d=M2227,404l9,4-7-8-9-4z color=#5898df /><path class=m d=M2229,400l8,3 /><path d=M2512,448l6,17-8-20-6-12z color=#312e10 /><path class=m d=M2525,490l-7-25M2518,465l6,18 /><path d=M2298,549l9,6-8-17-9-14z color=#5b9be2 /><path d=M2359,283l8,10-8-17-8-14z color=#8cbb5d /><path d=M2596,346l8-15-8-8-9,20z color=#ffaf68 /><path class=m d=M2591,333l-9-3 /><path d=M2613,338l8-7-9-8-8,8z color=#fff3a2 /><path class=m d=M2616,327l8-4 /><path d=M2587,399l10-29-10,1-11,38z color=#915620 /><path class=m d=M2576,409l-10,11M2571,447l11-43 /><path d=M2367,300l8,7-8-14-8-10z color=#96c863 /><path class=m d=M2367,293l8,10 /><path d=M2105,257l11,20-9-25-11-21z color=#5f55a9 /><path class=m d=M2124,297l-8-20M2116,277l11,19 /><path d=M2319,229l8-25-7-1-9,38z color=#659e4f /><path class=m d=M2303,288l8-47 /><path d=M2504,433l6,12-8-15-6-9z color=#baaf3d /><path class=m d=M2518,465l-8-20M2510,445l-8-15M2502,430l-8-12 /><path d=M2327,204l9,0-8-17-8,16z color=#fdffb4 /><path class=m d=M2320,203l-8,11M2311,241l9-38M2320,203l8-16M2328,187l8,8 /><path d=M2431,361l8,5-9-7-7-5z color=#c8cb3f /><path class=m d=M2427,356l-9-7 /><path d=M2351,262l8,14-8-22-8-15z color=#8ab85b /><path d=M2129,316l10,8-7-11-10-12z color=#7064c6 /><path class=m d=M2132,313l-8-16M2136,319l9,9 /><path d=M2639,343l7-3-9-6-7,3z color=#ffe190 /><path class=m d=M2646,340l-9-6M2637,334l-9-7 /><path d=M2259,437l9,6-8-13-9-4z color=#329ddd /><path class=m d=M2260,430l-8-10 /><path d=M2088,208l11,16-9-25-10-5z color=#9385ff /><path class=m d=M2090,199l-8-16M2094,212l12,25 /><path d=M2096,231l11,21-8-28-11-16z color=#685eb9 /><path class=m d=M2116,277l-9-25M2107,252l-8-28M2099,224l-9-25 /><path d=M2275,468l9,12-8-21-9-9z color=#2b88c0 /><path class=m d=M2291,502l-7-22 /><path d=M2375,312l8,5-8-10-8-7z color=#a1d66a /><path d=M2587,427l10-33-10,5-11,41z color=#83541f /><path d=M2070,461l6-46-6,9-6,40z color=#7a192c /><path d=M2317,410l8-48-8,9-8,46z color=#3c735f /><path class=m d=M2301,450l8-33 /><path d=M2464,388l7,6-9-8-7-6z color=#d4c431 /><path d=M2343,239l8,15-7-26-9-10z color=#98cb65 /><path class=m d=M2347,241l8,19 /><path d=M2314,577l8-22-8,6-8,8z color=#69affc /><path d=M2267,450l9,9-8-16-9-6z color=#2e92ce /><path class=m d=M2284,480l-8-21M2276,459l-8-16M2268,443l-8-13M2276,459l8,7 /><path d=M2407,342l8,5-9-8-7-5z color=#b7d455 /><path d=M2335,218l9,10-8-24-9,0z color=#cbff8a /><path d=M2162,351l9,6-7-8-10-6z color=#867ad7 /><path class=m d=M2164,349l9,7 /><path d=M2623,344l7-7-9-6-8,7z color=#ffec9c /><path d=M2186,372l9,5-7-7-9-6z color=#9588da /><path class=m d=M2192,373l9,5 /><path d=M2605,350l8-12-9-7-8,15z color=#ffc577 /><path class=m d=M2600,338l-9-5M2609,335l7-8 /><path d=M2587,454l10-36-10,9-11,42z color=#785b29 /><path class=m d=M2576,495l11-41 /><path d=M2235,412l9,5-8-9-9-4z color=#5898de /><path d=M2319,261l8-33-8,1-8,43z color=#478836 /><path d=M2137,328l10,6-8-10-10-8z color=#776bd4 /><path class=m d=M2139,324l-7-11 /><path d=M2071,242l8-29-7,2-6,41z color=#5b4386 /><path class=m d=M2069,236l-5,16M2063,296l5-47 /><path d=M2210,391l10,5-8-7-9-5z color=#7a8fda /><path class=m d=M2208,386l-8-7 /><path d=M2597,370l8-20-9-4-9,25z color=#c67d3d /><path class=m d=M2582,404l10-34M2592,370l9-22M2601,348l8-13 /><path d=M2317,371l9-46-8,8-9,48z color=#30723e /><path class=m d=M2309,381l-7,5 /><path d=M2290,524l9,14-8-23-9-18z color=#4678b1 /><path d=M2383,322l8,4-8-9-8-5z color=#a8e06f /><path class=m d=M2387,322l7,5 /><path d=M2439,368l8,5-8-7-8-5z color=#c7cb3f /><path class=m d=M2435,363l-8-7M2443,369l7,6 /><path d=M2070,424l6-48-6,10-5,44z color=#792334 /><path class=m d=M2067,408l-6,4M2061,462l6-35 /><path d=M2472,395l7,7-8-8-7-6z color=#d0c130 /><path class=m d=M2471,394l7,5 /><path d=M2529,493l5,27-7-27-5-24z color=#312d0b /><path class=m d=M2531,507l5,21 /><path d=M2318,333l8-44-8,6-8,48z color=#25741d /><path d=M2318,295l9-39-8,5-9,46z color=#317b24 /><path class=m d=M2314,284l-7,12M2306,348l8-47 /><path d=M2415,349l8,5-8-7-8-5z color=#b7d455 /><path class=m d=M2415,347l7,5 /><path d=M2079,213l9-5-8-14-8,21z color=#a292ff /><path class=m d=M2068,249l7-35M2075,214l9-13M2084,201l10,11 /><path d=M2323,531l8-42-8,14-8,36z color=#185a79 /><path class=m d=M2315,539l-8-3M2307,555l8-16 /><path d=M2632,350l7-7-9-6-7,7z color=#ffe696 /><path class=m d=M2639,343l7-3 /><path d=M2323,503l9-45-8,13-9,41z color=#28607a /><path d=M2327,228l8-10-8-14-8,25z color=#b4ff91 /><path class=m d=M2327,204l-7-1 /><path d=M2070,386l6-49-6,10-5,47z color=#7a2f3f /><path d=M2305,577l9,0-8-8-9-14z color=#94acff /><path d=M2243,421l8,5-7-9-9-5z color=#5796dc /><path class=m d=M2248,421l8,4 /><path d=M2615,355l8-11-10-6-8,12z color=#ffce7c /><path class=m d=M2609,344l-9-6 /><path d=M2071,274l6-37-6,5-6,46z color=#68416c /><path d=M2145,337l9,6-7-9-10-6z color=#7c6fdc /><path class=m d=M2147,334l-8-10 /><path d=M2169,359l10,5-8-7-9-6z color=#877bd9 /><path d=M2391,331l8,3-8-8-8-4z color=#abe471 /><path d=M2597,394l9-23-9-1-10,29z color=#a36225 /><path class=m d=M2587,399l-11,10 /><path d=M2480,404l7,7-8-9-7-7z color=#ccbd2f /><path d=M2194,379l9,5-8-7-9-5z color=#9589db /><path d=M2448,375l7,5-8-7-8-5z color=#c5c93e /><path class=m d=M2443,370l-8-7 /><path d=M2322,555l9-39-8,15-9,30z color=#1c5a7f /><path d=M2218,399l9,5-7-8-10-5z color=#7a8fd9 /><path class=m d=M2215,394l-7-8M2220,396l9,4 /><path d=M2324,471l8-46-8,12-8,44z color=#39687d /><path class=m d=M2320,459l-8,6 /><path d=M2070,347l6-47-6,9-5,49z color=#7d3c4a /><path class=m d=M2059,399l6-41 /><path d=M2070,309l7-42-6,7-6,48z color=#774258 /><path class=m d=M2065,322l-5,12 /><path d=M2282,497l9,18-8-25-9-16z color=#4273a8 /><path class=m d=M2287,502l8,10 /><path d=M2606,371l9-16-10-5-8,20z color=#e59349 /><path d=M2423,357l8,4-8-7-8-5z color=#b7d355 /><path d=M2313,588l9-14-8,3-9,0z color=#a7c2ff /><path d=M2297,555l9,14-8-20-9-21z color=#6577b5 /><path class=m d=M2310,577l-8-15 /><path d=M2359,293l8,7-8-17-8-8z color=#89d76b /><path d=M2335,237l8,2-8-21-8,10z color=#d1ffaa /><path class=m d=M2335,218l-8-14M2339,228l8,13 /><path d=M2351,275l8,8-8-21-8-7z color=#8bd96c /><path class=m d=M2359,283l8,10 /><path d=M2111,289l11,12-8-20-11-15z color=#6055bf /><path d=M2522,469l5,24-7-25-6-19z color=#312d0b /><path d=M2250,430l9,7-8-11-8-5z color=#5592d6 /><path d=M2086,222l10,9-8-23-9,5z color=#a695ff /><path d=M2324,437l9-47-8,10-9,47z color=#46707c /><path class=m d=M2312,482l8-40 /><path d=M2489,412l7,9-9-10-7-7z color=#c5b72d /><path class=m d=M2492,416l6,8 /><path d=M2343,255l8,7-8-23-8-2z color=#a2fa80 /><path class=m d=M2359,283l-8-21M2351,262l-8-23M2343,239l-8-21 /><path d=M2076,489l6-48-6,12-6,43z color=#711729 /><path class=m d=M2070,496l-6,0 /><path d=M2367,308l8,4-8-12-8-7z color=#91e271 /><path class=m d=M2367,300l-8-17 /><path d=M2119,307l10,9-7-15-11-12z color=#655aca /><path class=m d=M2126,309l10,10 /><path d=M2103,266l11,15-9-24-11-15z color=#6156c1 /><path d=M2624,359l8-9-9-6-8,11z color=#ffd07d /><path class=m d=M2628,354l-9-4M2619,350l-10-6M2632,350l7-7 /><path d=M2399,339l8,3-8-8-8-3z color=#abe471 /><path d=M2597,418l10-26-10,2-10,33z color=#8f5b22 /><path class=m d=M2587,454l10-36 /><path d=M2327,256l8-19-8-9-8,33z color=#6fcc56 /><path class=m d=M2314,301l9-42M2323,259l8-26M2331,233l8-5 /><path d=M2094,242l11,15-9-26-10-9z color=#7467e4 /><path class=m d=M2105,257l11,20 /><path d=M2152,346l10,5-8-8-9-6z color=#7e71df /><path class=m d=M2154,343l-7-9M2154,343l10,6 /><path d=M2456,382l8,6-9-8-7-5z color=#c2c63d /><path class=m d=M2452,377l-9-7 /><path d=M2177,366l9,6-7-8-10-5z color=#887bda /><path class=m d=M2182,368l10,5 /><path d=M2322,574l8-34-8,15-8,22z color=#38628f /><path d=M2226,407l9,5-8-8-9-5z color=#798ed8 /><path class=m d=M2223,401l-8-7 /><path d=M2274,474l9,16-8-22-9-12z color=#4577af /><path d=M2201,386l9,5-7-7-9-5z color=#9589da /><path d=M2497,422l7,11-8-12-7-9z color=#312d0b /><path d=M2077,237l9-15-7-9-8,29z color=#9872dc /><path class=m d=M2075,227l-6,9 /><path d=M2258,442l9,8-8-13-9-7z color=#508bcb /><path d=M2325,400l8-44-8,6-8,48z color=#3c745f /><path d=M2127,322l10,6-8-12-10-9z color=#6d61da /><path d=M2375,320l8,2-8-10-8-4z color=#9af078 /><path class=m d=M2375,312l-8-12M2379,317l8,5 /><path d=M2514,449l6,19-8-20-6-14z color=#312d0b /><path d=M2076,453l6-48-6,10-6,46z color=#721729 /><path d=M2266,456l9,12-8-18-9-8z color=#4a80bc /><path class=m d=M2267,450l9,9 /><path d=M2432,363l7,5-8-7-8-4z color=#b6d254 /><path class=m d=M2435,364l8,5 /><path d=M2506,434l6,14-8-15-7-11z color=#312d0b /><path class=m d=M2512,448l6,17 /><path d=M2616,373l8-14-9-4-9,16z color=#fca252 /><path class=m d=M2624,359l8-9 /><path d=M2326,289l9-27-8-6-9,39z color=#409b2f /><path class=m d=M2322,276l-8,8 /><path d=M2607,392l9-19-10-2-9,23z color=#b86f2b /><path class=m d=M2607,392l-10,2M2597,394l-10,5M2597,418l10-26M2607,392l9-19M2616,373l8-14 /><path d=M2539,516l4,31-7-27-4-31z color=#2f300f /><path class=m d=M2543,547l6,17 /><path d=M2325,362l9-40-8,3-9,46z color=#337a42 /><path class=m d=M2317,371l-8,10M2309,417l8-46 /><path d=M2407,346l8,3-8-7-8-3z color=#aae270 /><path class=m d=M2407,342l8,5 /><path d=M2326,325l8-35-8-1-8,44z color=#2a8422 /><path d=M2465,389l7,6-8-7-8-6z color=#bfc23c /><path class=m d=M2460,385l-8-8M2464,388l7,6 /><path d=M2289,528l9,21-8-25-9-23z color=#57669c /><path class=m d=M2302,562l-8-23M2298,549l9,6 /><path d=M2383,329l8,2-8-9-8-2z color=#9ff87c /><path class=m d=M2383,322l-8-10 /><path d=M2135,333l10,4-8-9-10-6z color=#7467e7 /><path d=M2335,262l8-7-8-18-8,19z color=#adff8d /><path d=M2160,354l9,5-7-8-10-5z color=#7e71e0 /><path class=m d=M2162,351l-8-8 /><path d=M2076,415l6-46-6,7-6,48z color=#772334 /><path class=m d=M2073,400l-6,8 /><path d=M2233,415l10,6-8-9-9-5z color=#788cd6 /><path class=m d=M2230,409l-7-8M2239,416l9,5 /><path d=M2184,374l10,5-8-7-9-6z color=#887cdb /><path d=M2077,267l8-24-8-6-6,37z color=#915c97 /><path d=M2209,393l9,6-8-8-9-5z color=#9488d9 /><path class=m d=M2210,391l10,5 /><path d=M2440,370l8,5-9-7-7-5z color=#b4d054 /><path d=M2343,275l8,0-8-20-8,7z color=#a9ff87 /><path d=M2085,243l9-1-8-20-9,15z color=#e0b0ff /><path class=m d=M2082,230l-7-3 /><path d=M2076,376l6-43-6,4-6,49z color=#7f3241 /><path class=m d=M2067,427l6-46 /><path d=M2351,291l8,2-8-18-8,0z color=#90ff70 /><path class=m d=M2351,275l8,8 /><path d=M2473,397l7,7-8-9-7-6z color=#babe3b /><path class=m d=M2468,392l-8-7 /><path d=M2416,353l7,4-8-8-8-3z color=#a8e06f /><path d=M2321,587l9-27-8,14-9,14z color=#5b6ba3 /><path class=m d=M2318,581l-8-4 /><path d=M2076,300l7-31-6-2-7,42z color=#90506b /><path class=m d=M2070,309l-5,13M2065,358l5-49 /><path d=M2359,306l8,2-8-15-8-2z color=#88fd69 /><path d=M2305,580l8,8-8-11-8-20z color=#8b80cc /><path class=m d=M2309,583l9-8 /><path d=M2391,337l8,2-8-8-8-2z color=#9ff97c /><path class=m d=M2391,331l-8-9 /><path d=M2076,337l7-38-7,1-6,47z color=#8b4352 /><path d=M2142,342l10,4-7-9-10-4z color=#776aee /><path class=m d=M2145,337l9,6 /><path d=M2093,259l10,7-9-24-9,1z color=#b68bff /><path class=m d=M2089,243l-7-13M2094,242l11,15 /><path d=M2334,290l9-15-8-13-9,27z color=#68e750 /><path class=m d=M2330,276l-8,0 /><path d=M2241,424l9,6-7-9-10-6z color=#758ad2 /><path class=m d=M2238,418l-8-9 /><path d=M2101,279l10,10-8-23-10-7z color=#926dd4 /><path class=m d=M2098,263l-9-20 /><path d=M2109,300l10,7-8-18-10-10z color=#8a67ca /><path class=m d=M2106,284l-8-21M2115,298l11,11 /><path d=M2167,362l10,4-8-7-9-5z color=#7e71e0 /><path class=m d=M2169,359l-7-8M2173,363l9,5 /><path d=M2367,319l8,1-8-12-8-2z color=#8cff6c /><path class=m d=M2371,314l8,3 /><path d=M2313,593l8-6-8,1-8-8z color=#afa1ff /><path d=M2532,489l4,31-7-27-5-27z color=#30310f /><path class=m d=M2541,532l-7-27 /><path d=M2331,489l9-45-8,14-9,45z color=#265b73 /><path class=m d=M2315,539l8-36 /><path d=M2281,501l9,23-8-27-9-19z color=#56659b /><path class=m d=M2294,539l-8-27 /><path d=M2331,516l9-43-9,16-8,42z color=#16516d /><path class=m d=M2323,531l-8,8 /><path d=M2332,458l8-43-8,10-8,46z color=#38667b /><path class=m d=M2328,448l-8,11 /><path d=M2192,381l9,5-7-7-10-5z color=#887bda /><path d=M2449,377l7,5-8-7-8-5z color=#b1cd52 /><path d=M2117,317l10,5-8-15-10-7z color=#906bd2 /><path class=m d=M2114,304l-8-20 /><path d=M2216,401l10,6-8-8-9-6z color=#9286d7 /><path d=M2482,405l7,7-9-8-7-7z color=#2c2d0e /><path class=m d=M2477,400l-9-8M2485,408l7,8 /><path d=M2334,322l8-24-8-8-8,35z color=#39aa2f /><path class=m d=M2317,371l9-46 /><path d=M2332,425l9-41-8,6-9,47z color=#47737f /><path d=M2424,360l8,3-9-6-7-4z color=#a7de6e /><path class=m d=M2428,360l7,4 /><path d=M2297,557l8,20-8-22-8-26z color=#685f99 /><path d=M2330,540l9-41-8,17-9,39z color=#184c6b /><path class=m d=M2318,575l8-27 /><path d=M2333,390l8-36-8,2-8,44z color=#417d66 /><path class=m d=M2320,442l9-47 /><path d=M2249,433l9,9-8-12-9-6z color=#7185cb /><path class=m d=M2246,427l-8-9 /><path d=M2399,344l8,2-8-7-8-2z color=#9ef67b /><path class=m d=M2399,339l-8-8M2399,339l8,3 /><path d=M2333,356l9-31-8-3-9,40z color=#3b8c4c /><path class=m d=M2325,362l-8,9 /><path d=M2083,269l10-10-8-16-8,24z color=#e79bee /><path class=m d=M2070,309l7-42M2077,267l8-24M2085,243l9-1 /><path d=M2375,330l8-1-8-9-8-1z color=#91ff70 /><path d=M2342,298l9-7-8-16-9,15z color=#8fff73 /><path class=m d=M2338,283l-8-7M2326,325l8-35M2334,290l9-15M2343,275l8,0 /><path d=M2125,330l10,3-8-11-10-5z color=#9a72e0 /><path class=m d=M2122,319l-8-15 /><path d=M2150,350l10,4-8-8-10-4z color=#786aef /><path d=M2081,476l6-45-5,10-6,48z color=#6e1628 /><path class=m d=M2076,489l-6,7 /><path d=M2490,413l7,9-8-10-7-7z color=#2c2d0e /><path class=m d=M2485,409l-8-9 /><path d=M2273,478l9,19-8-23-9-15z color=#5b6ba3 /><path class=m d=M2286,512l-8-25M2278,486l9,16 /><path d=M2175,369l9,5-7-8-10-4z color=#7e71e0 /><path class=m d=M2177,366l-8-7 /><path d=M2457,384l8,5-9-7-7-5z color=#aec951 /><path class=m d=M2456,382l8,6 /><path d=M2257,445l9,11-8-14-9-9z color=#6b7dbf /><path class=m d=M2254,438l-8-11M2258,442l9,8 /><path d=M2350,310l9-4-8-15-9,7z color=#90ff73 /><path class=m d=M2346,295l-8-12 /><path d=M2524,466l5,27-7-24-6-21z color=#2f300f /><path class=m d=M2534,505l-7-25M2525,481l6,26 /><path d=M2224,408l9,7-7-8-10-6z color=#9084d4 /><path class=m d=M2230,411l9,5 /><path d=M2082,441l6-43-6,7-6,48z color=#73182a /><path class=m d=M2070,496l6-43 /><path d=M2199,388l10,5-8-7-9-5z color=#877bd9 /><path class=m d=M2201,386l9,5 /><path d=M2265,459l9,15-8-18-9-11z color=#6374b0 /><path class=m d=M2278,487l-8-20M2270,467l-8-17M2262,450l-8-12 /><path d=M2091,280l10-1-8-20-10,10z color=#ffb3ff /><path d=M2383,338l8-1-8-8-8,1z color=#92ff71 /><path d=M2083,299l8-19-8-11-7,31z color=#d0779d /><path class=m d=M2076,300l-6,9 /><path d=M2433,367l7,3-8-7-8-3z color=#a5dc6d /><path d=M2499,423l7,11-9-12-7-9z color=#2c2d0e /><path class=m d=M2494,418l-9-9 /><path d=M2330,560l9-38-9,18-8,34z color=#2b4a6d /><path d=M2408,351l8,2-9-7-8-2z color=#9bf279 /><path class=m d=M2407,346l-8-7 /><path d=M2358,322l9-3-8-13-9,4z color=#89ff6b /><path class=m d=M2354,308l-8-13M2363,313l8,1 /><path d=M2133,340l9,2-7-9-10-3z color=#a178eb /><path class=m d=M2130,331l-8-12M2135,333l10,4 /><path d=M2342,325l8-15-8-12-8,24z color=#56e849 /><path d=M2082,405l7-39-7,3-6,46z color=#7e2537 /><path class=m d=M2079,392l-6,8 /><path d=M2516,448l6,21-8-20-6-15z color=#2e2e0e /><path class=m d=M2527,480l-8-22 /><path d=M2508,434l6,15-8-15-7-11z color=#2c2d0e /><path class=m d=M2519,458l-8-16M2511,442l-9-13M2502,429l-8-11M2506,434l6,14 /><path d=M2099,297l10,3-8-21-10,1z color=#e597ec /><path class=m d=M2105,289l10,9 /><path d=M2082,333l8-27-7-7-7,38z color=#ab5366 /><path class=m d=M2073,381l6-46 /><path d=M2321,595l9-20-9,12-8,6z color=#766cac /><path d=M2082,369l7-34-7-2-6,43z color=#8f384a /><path d=M2158,358l9,4-7-8-10-4z color=#776aee /><path class=m d=M2163,358l10,5 /><path d=M2466,391l7,6-8-8-8-5z color=#aac44f /><path d=M2289,529l8,26-8-27-9-26z color=#61598f /><path d=M2107,314l10,3-8-17-10-3z color=#d288d9 /><path d=M2367,333l8-3-8-11-9,3z color=#86ff68 /><path class=m d=M2363,321l-9-13 /><path d=M2232,417l9,7-8-9-9-7z color=#8e82d0 /><path d=M2182,376l10,5-8-7-9-5z color=#7e71df /><path class=m d=M2184,374l-7-8 /><path d=M2341,354l9-22-8-7-9,31z color=#4bad60 /><path class=m d=M2333,356l-8,6M2329,395l8-40 /><path d=M2391,345l8-1-8-7-8,1z color=#90ff6f /><path class=m d=M2391,337l8,2 /><path d=M2207,395l9,6-7-8-10-5z color=#8579d6 /><path d=M2441,373l8,4-9-7-7-3z color=#a2d96b /><path d=M2350,332l8-10-8-12-8,15z color=#71ff61 /><path class=m d=M2337,355l9-26M2346,329l8-13M2354,316l9-3 /><path d=M2416,358l8,2-8-7-8-2z color=#98ee76 /><path class=m d=M2416,353l-9-7M2420,357l8,3 /><path d=M2115,328l10,2-8-13-10-3z color=#d58adc /><path d=M2090,306l9-9-8-17-8,19z color=#ffaedd /><path class=m d=M2083,299l-7,1M2079,335l7-32M2086,303l9-14M2095,289l10,0 /><path d=M2140,349l10,1-8-8-9-2z color=#a379ef /><path class=m d=M2138,341l-8-10 /><path d=M2341,384l9-27-9-3-8,36z color=#4a8d74 /><path d=M2475,398l7,7-9-8-7-6z color=#a5be4c /><path class=m d=M2478,401l7,7 /><path d=M2375,342l8-4-8-8-8,3z color=#85ff67 /><path class=m d=M2371,331l-8-10 /><path d=M2330,575l8-33-8,18-9,27z color=#3f4a71 /><path class=m d=M2326,574l-8,7 /><path d=M2340,415l9-33-8,2-9,41z color=#4e7d8a /><path d=M2165,366l10,3-8-7-9-4z color=#7669ec /><path d=M2240,426l9,7-8-9-9-7z color=#8a7fcb /><path d=M2340,444l9-36-9,7-8,43z color=#3b6c81 /><path class=m d=M2336,436l-8,12M2323,503l9-45 /><path d=M2123,340l10,0-8-10-10-2z color=#de90e6 /><path class=m d=M2125,330l10,3 /><path d=M2358,341l9-8-9-11-8,10z color=#7aff69 /><path d=M2098,318l9-4-8-17-9,9z color=#ffbff2 /><path d=M2304,577l9,16-8-13-9-27z color=#61589d /><path d=M2400,352l8-1-9-7-8,1z color=#8cff6c /><path d=M2190,383l9,5-7-7-10-5z color=#7d70de /><path class=m d=M2192,381l-8-7M2192,381l9,5 /><path d=M2450,380l7,4-8-7-8-4z color=#9fd469 /><path class=m d=M2449,377l7,5 /><path d=M2280,502l9,26-8-27-9-22z color=#635b91 /><path class=m d=M2289,528l9,21 /><path d=M2089,335l9-17-8-12-8,27z color=#eb7790 /><path class=m d=M2090,306l-7-7 /><path d=M2312,593l9,2-8-2-9-16z color=#796ec3 /><path d=M2340,473l8-38-8,9-9,45z color=#275d76 /><path d=M2215,402l9,6-8-7-9-6z color=#8377d3 /><path class=m d=M2220,405l10,6 /><path d=M2425,365l8,2-9-7-8-2z color=#96eb74 /><path class=m d=M2424,360l-8-7 /><path d=M2350,357l8-16-8-9-9,22z color=#63d97b /><path class=m d=M2341,354l-8,2 /><path d=M2483,406l7,7-8-8-7-7z color=#272d12 /><path d=M2148,356l10,2-8-8-10-1z color=#a279ed /><path class=m d=M2145,350l-7-9M2154,354l9,4 /><path d=M2248,435l9,10-8-12-9-7z color=#8579c2 /><path class=m d=M2249,433l9,9 /><path d=M2339,499l9-39-8,13-9,43z color=#16526e /><path class=m d=M2331,516l-8,15M2326,548l9-40 /><path d=M2383,349l8-4-8-7-8,4z color=#80ff63 /><path class=m d=M2379,340l-8-9M2383,338l8-1 /><path d=M2089,366l8-25-8-6-7,34z color=#ad455a /><path d=M2106,331l9-3-8-14-9,4z color=#ffb7ea /><path d=M2366,349l9-7-8-9-9,8z color=#78ff67 /><path d=M2088,398l7-30-6-2-7,39z color=#8d293d /><path class=m d=M2085,385l-6,7M2076,453l6-48 /><path d=M2087,462l7-39-7,8-6,45z color=#711729 /><path class=m d=M2081,476l-5,13 /><path d=M2534,483l5,33-7-27-6-27z color=#2f3616 /><path class=m d=M2539,516l4,31 /><path d=M2087,431l7-36-6,3-6,43z color=#7b192d /><path d=M2131,349l9,0-7-9-10,0z color=#e393eb /><path d=M2173,373l9,3-7-7-10-3z color=#7568ea /><path d=M2272,479l9,22-8-23-9-17z color=#69609a /><path d=M2296,553l9,27-8-23-9-32z color=#554d89 /><path class=m d=M2301,568l8,15 /><path d=M2458,386l8,5-9-7-7-4z color=#9bcf67 /><path d=M2408,358l8,0-8-7-8,1z color=#89ff69 /><path class=m d=M2412,355l8,2 /><path d=M2492,414l7,9-9-10-7-7z color=#272d12 /><path d=M2256,447l9,12-8-14-9-10z color=#7c72b7 /><path d=M2339,522l9-38-9,15-9,41z color=#174b69 /><path d=M2433,371l8,2-8-6-8-2z color=#93e772 /><path class=m d=M2433,367l-9-7 /><path d=M2349,382l9-21-8-4-9,27z color=#58a689 /><path d=M2223,410l9,7-8-9-9-6z color=#8075ce /><path d=M2198,390l9,5-8-7-9-5z color=#7b6edb /><path class=m d=M2199,388l-7-7 /><path d=M2097,341l9-10-8-13-9,17z color=#ff9ebc /><path class=m d=M2098,318l-8-12 /><path d=M2264,461l9,17-8-19-9-12z color=#7369a8 /><path class=m d=M2269,468l9,18 /><path d=M2113,343l10-3-8-12-9,3z color=#ffb3e7 /><path class=m d=M2115,328l10,2 /><path d=M2358,361l8-12-8-8-8,16z color=#75fb91 /><path class=m d=M2350,357l-9-3 /><path d=M2155,364l10,2-7-8-10-2z color=#a076ea /><path class=m d=M2153,357l-8-7 /><path d=M2391,355l9-3-9-7-8,4z color=#7bff5e /><path class=m d=M2387,347l-8-7 /><path d=M2501,423l7,11-9-11-7-9z color=#272d12 /><path class=m d=M2499,423l7,11 /><path d=M2321,597l8-11-8,9-9-2z color=#6c62ad /><path d=M2329,586l9-28-8,17-9,20z color=#514a77 /><path d=M2375,356l8-7-8-7-9,7z color=#72ff61 /><path class=m d=M2375,342l8-4 /><path d=M2526,462l6,27-8-23-6-20z color=#2d3415 /><path d=M2349,408l9-25-9-1-9,33z color=#578c9b /><path class=m d=M2332,458l8-43 /><path d=M2138,357l10-1-8-7-9,0z color=#e292ea /><path class=m d=M2144,353l10,1 /><path d=M2467,393l8,5-9-7-8-5z color=#97c964 /><path class=m d=M2470,394l8,7 /><path d=M2509,433l7,15-8-14-7-11z color=#293013 /><path d=M2180,380l10,3-8-7-9-3z color=#7467e8 /><path class=m d=M2182,376l10,5 /><path d=M2417,365l8,0-9-7-8,0z color=#85fc66 /><path d=M2518,446l6,20-8-18-7-15z color=#2b3214 /><path class=m d=M2520,457l5,24 /><path d=M2095,368l9-17-7-10-8,25z color=#dd5b75 /><path class=m d=M2082,405l7-39 /><path d=M2121,353l10-4-8-9-10,3z color=#ffb3e7 /><path d=M2338,542l9-36-8,16-9,38z color=#294769 /><path d=M2104,351l9-8-7-12-9,10z color=#ffb2d2 /><path class=m d=M2106,331l-8-13M2089,366l8-25M2097,341l9-10M2106,331l9-3 /><path d=M2231,418l9,8-8-9-9-7z color=#7d72c9 /><path d=M2442,377l8,3-9-7-8-2z color=#90e270 /><path class=m d=M2441,373l-8-6M2441,373l8,4 /><path d=M2205,397l10,5-8-7-9-5z color=#796cd7 /><path class=m d=M2207,395l-8-7M2211,399l9,6 /><path d=M2288,525l9,32-8-28-10-30z color=#534c86 /><path d=M2366,367l9-11-9-7-8,12z color=#7dff9a /><path class=m d=M2366,349l9-7 /><path d=M2348,435l9-29-8,2-9,36z color=#41778e /><path class=m d=M2344,427l-8,9 /><path d=M2400,361l8-3-8-6-9,3z color=#77ff5a /><path class=m d=M2396,354l-9-7M2404,355l8,0 /><path d=M2163,371l10,2-8-7-10-2z color=#9d74e6 /><path class=m d=M2160,365l-7-8 /><path d=M2358,383l8-16-8-6-9,21z color=#6ac4a3 /><path class=m d=M2358,361l-8-4M2340,415l9-33M2349,382l9-21M2358,361l8-12 /><path d=M2383,362l8-7-8-6-8,7z color=#6cff5b /><path d=M2094,395l9-23-8-4-7,30z color=#a53148 /><path class=m d=M2092,383l-7,2 /><path d=M2476,399l7,7-8-8-8-5z color=#92c360 /><path d=M2425,371l8,0-8-6-8,0z color=#82f663 /><path d=M2238,427l10,8-8-9-9-8z color=#796ec3 /><path class=m d=M2240,426l9,7 /><path d=M2146,364l9,0-7-8-10,1z color=#dd8ee5 /><path d=M2112,360l9-7-8-10-9,8z color=#ffb5d5 /><path class=m d=M2113,343l-7-12 /><path d=M2451,383l7,3-8-6-8-3z color=#8ddd6d /><path class=m d=M2450,380l-9-7 /><path d=M2188,387l10,3-8-7-10-3z color=#7365e5 /><path d=M2348,460l9-31-9,6-8,38z color=#2a6580 /><path class=m d=M2335,508l9-42 /><path d=M2129,361l9-4-7-8-10,4z color=#ffafe3 /><path class=m d=M2134,353l10,0 /><path d=M2094,423l7-27-7-1-7,36z color=#891c32 /><path class=m d=M2084,469l6-42 /><path d=M2213,404l10,6-8-8-10-5z color=#766ad3 /><path class=m d=M2215,402l-8-7 /><path d=M2103,372l9-12-8-9-9,17z color=#ff708e /><path d=M2338,558l9-33-9,17-8,33z color=#3b4569 /><path class=m d=M2334,559l-8,15M2321,595l9-20 /><path d=M2375,372l8-10-8-6-9,11z color=#7eff9c /><path d=M2409,367l8-2-9-7-8,3z color=#73ff56 /><path class=m d=M2404,360l-8-6 /><path d=M2485,406l7,8-9-8-7-7z color=#222d16 /><path d=M2279,499l10,30-9-27-9-25z color=#564e8a /><path d=M2093,452l7-32-6,3-7,39z color=#7c192d /><path class=m d=M2087,462l-6,14 /><path d=M2357,406l9-20-8-3-9,25z color=#64a0b0 /><path d=M2171,378l9,2-7-7-10-2z color=#9a72e2 /><path class=m d=M2168,372l-8-7M2173,373l9,3 /><path d=M2246,436l10,11-8-12-10-8z color=#7369ba /><path d=M2392,367l8-6-9-6-8,7z color=#68ff57 /><path class=m d=M2396,358l8-3 /><path d=M2348,484l9-33-9,9-9,39z color=#175876 /><path class=m d=M2339,499l-8,17 /><path d=M2366,386l9-14-9-5-8,16z color=#77dbb6 /><path class=m d=M2366,367l-8-6 /><path d=M2434,377l8,0-9-6-8,0z color=#7ff161 /><path class=m d=M2433,371l8,2 /><path d=M2119,367l10-6-8-8-9,7z color=#ffb0d1 /><path class=m d=M2121,353l-8-10M2125,357l9-4 /><path d=M2459,389l8,4-9-7-7-3z color=#89d76a /><path class=m d=M2458,386l-8-6M2463,389l7,5 /><path d=M2312,587l9,10-9-4-8-23z color=#252143 /><path d=M2153,371l10,0-8-7-9,0z color=#d88ae0 /><path d=M2304,570l8,23-8-16-9-32z color=#221f3d /><path class=m d=M2312,593l9,2 /><path d=M2196,393l9,4-7-7-10-3z color=#7163e1 /><path class=m d=M2202,394l9,5 /><path d=M2136,367l10-3-8-7-9,4z color=#ffaadd /><path d=M2329,591l9-20-9,15-8,11z color=#4c457a /><path d=M2255,447l9,14-8-14-10-11z color=#6c62ae /><path class=m d=M2260,454l9,14 /><path d=M2494,414l7,9-9-9-7-8z color=#222d16 /><path class=m d=M2492,414l7,9 /><path d=M2221,412l10,6-8-8-10-6z color=#7367cd /><path class=m d=M2223,410l-8-8 /><path d=M2271,477l9,25-8-23-9-19z color=#5c5393 /><path class=m d=M2280,502l9,26 /><path d=M2101,396l9-18-7-6-9,23z color=#c53c58 /><path class=m d=M2099,384l-7-1M2090,427l8-32 /><path d=M2110,378l9-11-7-7-9,12z color=#ff7b9c /><path class=m d=M2098,395l8-20M2106,375l10-12M2116,363l9-6 /><path d=M2263,460l9,19-8-18-9-14z color=#635aa0 /><path d=M2417,373l8-2-8-6-8,2z color=#6fff53 /><path class=m d=M2413,366l-9-6 /><path d=M2357,429l9-23-9,0-9,29z color=#49859f /><path class=m d=M2353,420l-9,7M2344,466l9-34 /><path d=M2383,376l9-9-9-5-8,10z color=#7dff9b /><path class=m d=M2387,364l9-6 /><path d=M2347,506l9-33-8,11-9,38z color=#195070 /><path d=M2400,372l9-5-9-6-8,6z color=#65ff54 /><path d=M2178,384l10,3-8-7-9-2z color=#9870df /><path class=m d=M2176,379l-8-7 /><path d=M2503,422l6,11-8-10-7-9z color=#232f17 /><path d=M2443,382l8,1-9-6-8,0z color=#7cec5e /><path d=M2468,395l8,4-9-6-8-4z color=#84d067 /><path class=m d=M2467,393l-9-7 /><path d=M2127,374l9-7-7-6-10,6z color=#ffa9c9 /><path class=m d=M2129,361l-8-8 /><path d=M2295,545l9,32-8-24-9-34z color=#211d3b /><path class=m d=M2312,593l-8-16 /><path d=M2374,389l9-13-8-4-9,14z color=#7fe8c1 /><path class=m d=M2375,372l-9-5M2379,374l8-10 /><path d=M2320,595l9-4-8,6-9-10z color=#272346 /><path class=m d=M2321,597l-9-4 /><path d=M2366,406l8-17-8-3-9,20z color=#73b7c9 /><path class=m d=M2353,432l8-26M2361,406l9-19M2370,387l9-13 /><path d=M2161,378l10,0-8-7-10,0z color=#d387da /><path class=m d=M2163,371l10,2 /><path d=M2100,420l9-22-8-2-7,27z color=#9b2139 /><path d=M2229,419l9,8-7-9-10-6z color=#6f64c7 /><path class=m d=M2231,418l-8-8M2231,418l9,8 /><path d=M2338,571l9-29-9,16-9,28z color=#49436b /><path d=M2204,400l9,4-8-7-9-4z color=#6e61dc /><path d=M2144,374l9-3-7-7-10,3z color=#ffa4d6 /><path d=M2511,432l7,14-9-13-6-11z color=#253219 /><path class=m d=M2514,440l6,17 /><path d=M2426,378l8-1-9-6-8,2z color=#6bff50 /><path class=m d=M2421,372l-8-6M2425,371l8,0 /><path d=M2357,451l8-25-8,3-9,31z color=#2f718f /><path d=M2529,457l5,26-8-21-6-19z color=#2b391c /><path class=m d=M2534,483l5,33 /><path d=M2520,443l6,19-8-16-7-14z color=#28351a /><path d=M2347,525l9-31-9,12-9,36z color=#2c4c6f /><path class=m d=M2330,575l8-33 /><path d=M2118,384l9-10-8-7-9,11z color=#ff7d9f /><path d=M2392,380l8-8-8-5-9,9z color=#7dff9b /><path d=M2477,401l8,5-9-7-8-4z color=#7fc863 /><path class=m d=M2476,399l-9-6 /><path d=M2109,398l9-14-8-6-9,18z color=#de4665 /><path class=m d=M2106,387l-7-3 /><path d=M2409,377l8-4-8-6-9,5z color=#61ff51 /><path d=M2452,388l7,1-8-6-8-1z color=#78e65c /><path class=m d=M2455,386l8,3 /><path d=M2186,391l10,2-8-6-10-3z color=#956edb /><path class=m d=M2183,386l-7-7M2192,390l10,4 /><path d=M2099,445l8-25-7,0-7,32z color=#8b1d32 /><path class=m d=M2093,452l-6,10 /><path d=M2237,428l9,8-8-9-9-8z color=#6b60bf /><path class=m d=M2238,427l-7-9 /><path d=M2134,380l10-6-8-7-9,7z color=#ffa3c3 /><path class=m d=M2136,367l-7-6 /><path d=M2212,407l9,5-8-8-9-4z color=#6b5ed6 /><path d=M2287,519l9,34-8-28-10-31z color=#201d39 /><path class=m d=M2304,577l-8-24M2292,539l9,29 /><path d=M2169,384l9,0-7-6-10,0z color=#ce83d6 /><path d=M2383,392l9-12-9-4-9,13z color=#83f0c8 /><path class=m d=M2383,376l-8-4 /><path d=M2365,426l9-19-8-1-9,23z color=#5295b2 /><path class=m d=M2361,417l-8,3 /><path d=M2356,473l9-26-8,4-9,33z color=#1a6283 /><path class=m d=M2348,484l-9,15 /><path d=M2151,380l10-2-8-7-9,3z color=#ff9fd0 /><path class=m d=M2153,371l10,0 /><path d=M2435,384l8-2-9-5-8,1z color=#68fb4d /><path class=m d=M2430,377l-9-5 /><path d=M2374,407l9-15-9-3-8,17z color=#7fc9dd /><path d=M2486,408l8,6-9-8-8-5z color=#7abf5e /><path class=m d=M2485,406l-9-7M2485,406l7,8 /><path d=M2400,385l9-8-9-5-8,8z color=#7dff9b /><path d=M2461,393l7,2-9-6-7-1z color=#75df59 /><path d=M2418,382l8-4-9-5-8,4z color=#5eff4e /><path class=m d=M2417,373l8-2 /><path d=M2245,437l10,10-9-11-9-8z color=#655bb5 /><path class=m d=M2246,436l-8-9M2251,442l9,12 /><path d=M2125,389l9-9-7-6-9,10z color=#ff7c9e /><path d=M2107,420l9-18-7-4-9,22z color=#b32742 /><path d=M2194,397l10,3-8-7-10-2z color=#926cd6 /><path class=m d=M2191,392l-8-6 /><path d=M2347,542l9-30-9,13-9,33z color=#3e496f /><path class=m d=M2342,542l-8,17 /><path d=M2116,402l9-13-7-5-9,14z color=#ee4c6c /><path class=m d=M2113,391l-7-4 /><path d=M2278,494l10,31-9-26-9-25z color=#1f1c38 /><path class=m d=M2296,553l-8-28 /><path d=M2219,414l10,5-8-7-9-5z color=#685bcf /><path class=m d=M2221,412l10,6 /><path d=M2329,592l8-13-8,12-9,4z color=#231f3e /><path d=M2495,415l8,7-9-8-8-6z color=#1c2d16 /><path class=m d=M2494,414l-9-8 /><path d=M2177,390l9,1-8-7-9,0z color=#ca80d1 /><path class=m d=M2182,388l10,2 /><path d=M2337,579l9-24-8,16-9,20z color=#433d6c /><path class=m d=M2329,591l-8,6 /><path d=M2253,447l10,13-8-13-10-10z color=#5f55aa /><path class=m d=M2255,447l-9-11 /><path d=M2142,385l9-5-7-6-10,6z color=#ff9fbe /><path class=m d=M2144,374l-8-7M2144,374l9-3 /><path d=M2356,494l9-27-9,6-9,33z color=#1c597d /><path class=m d=M2338,542l9-36 /><path d=M2444,389l8-1-9-6-8,2z color=#65f54b /><path class=m d=M2439,383l-9-6M2447,385l8,1 /><path d=M2365,447l9-21-9,0-8,25z color=#357fa0 /><path d=M2392,395l8-10-8-5-9,12z color=#88f7ce /><path class=m d=M2392,380l-9-4 /><path d=M2159,386l10-2-8-6-10,2z color=#ff9acb /><path d=M2470,399l7,2-9-6-7-2z color=#71d855 /><path d=M2270,474l9,25-8-22-9-18z color=#1e1b36 /><path class=m d=M2288,525l-9-26 /><path d=M2262,459l9,18-8-17-10-13z color=#584f9e /><path class=m d=M2279,499l-8-22M2271,477l-8-17M2263,460l-8-13M2271,477l9,25 /><path d=M2426,387l9-3-9-6-8,4z color=#5bff4b /><path d=M2409,389l9-7-9-5-9,8z color=#7cff9b /><path class=m d=M2409,377l8-4 /><path d=M2383,409l9-14-9-3-9,15z color=#88d6eb /><path d=M2374,426l9-17-9-2-9,19z color=#5da8c8 /><path class=m d=M2370,417l-9,0 /><path d=M2106,442l8-21-7-1-8,25z color=#9c2139 /><path class=m d=M2099,445l-6,7 /><path d=M2202,403l10,4-8-7-10-3z color=#8e69d1 /><path class=m d=M2199,398l-8-6 /><path d=M2504,422l7,10-8-10-8-7z color=#1d2e17 /><path class=m d=M2503,422l-9-8M2507,427l7,13 /><path d=M2133,393l9-8-8-5-9,9z color=#ff7b9d /><path class=m d=M2134,380l10-6 /><path d=M2227,421l10,7-8-9-10-5z color=#6458c8 /><path d=M2311,576l9,19-8-8-9-29z color=#242048 /><path d=M2452,394l9-1-9-5-8,1z color=#62ef48 /><path class=m d=M2448,388l-9-5 /><path d=M2114,421l9-16-7-3-9,18z color=#c62c4a /><path class=m d=M2099,445l8-25 /><path d=M2123,405l10-12-8-4-9,13z color=#f74f71 /><path class=m d=M2120,395l-7-4M2107,420l9-18M2116,402l9-13M2125,389l9-9 /><path d=M2184,396l10,1-8-6-9-1z color=#c57dcc /><path d=M2303,558l9,29-8-17-10-37z color=#211d42 /><path d=M2365,467l9-22-9,2-9,26z color=#1e6f94 /><path class=m d=M2356,473l-8,11M2347,506l9-33 /><path d=M2356,512l9-26-9,8-9,31z color=#31557c /><path d=M2150,390l9-4-8-6-9,5z color=#ff9bbb /><path class=m d=M2151,380l-7-6 /><path d=M2346,555l9-26-8,13-9,29z color=#4c4670 /><path class=m d=M2333,585l9-22 /><path d=M2479,404l7,4-9-7-7-2z color=#6ccf52 /><path class=m d=M2477,401l8,5 /><path d=M2400,399l9-10-9-4-8,10z color=#8bfed4 /><path class=m d=M2400,385l-8-5M2400,385l9-8 /><path d=M2514,430l6,13-9-11-7-10z color=#203319 /><path class=m d=M2511,432l-8-10 /><path d=M2167,392l10-2-8-6-10,2z color=#ff96c5 /><path class=m d=M2173,387l9,1 /><path d=M2435,392l9-3-9-5-9,3z color=#58ff48 /><path class=m d=M2439,386l8-1 /><path d=M2418,393l8-6-8-5-9,7z color=#7bff9a /><path d=M2523,439l6,18-9-14-6-13z color=#24391c /><path class=m d=M2529,457l-9-14M2520,443l-9-11M2529,457l5,26 /><path d=M2320,587l9,5-9,3-9-19z color=#27234f /><path class=m d=M2324,593l9-8 /><path d=M2236,428l9,9-8-9-10-7z color=#5f54bf /><path class=m d=M2241,432l10,10 /><path d=M2210,409l9,5-7-7-10-4z color=#8965ca /><path class=m d=M2207,405l-8-7M2212,407l9,5 /><path d=M2392,411l8-12-8-4-9,14z color=#8fe1f7 /><path class=m d=M2392,395l8-10 /><path d=M2374,445l9-18-9-1-9,21z color=#3c8eb3 /><path class=m d=M2356,473l9-26 /><path d=M2383,427l9-16-9-2-9,17z color=#66b7da /><path class=m d=M2378,417l-8,0M2365,447l9-21M2374,426l9-17M2383,409l9-14 /><path d=M2140,398l10-8-8-5-9,8z color=#ff7b9d /><path d=M2294,533l10,37-9-25-9-36z color=#1f1c3f /><path class=m d=M2304,570l8,23 /><path d=M2462,399l8,0-9-6-9,1z color=#5fe845 /><path class=m d=M2457,393l-9-5 /><path d=M2488,410l7,5-9-7-7-4z color=#67c54e /><path d=M2192,402l10,1-8-6-10-1z color=#c17ac7 /><path d=M2113,441l9-18-8-2-8,21z color=#b12641 /><path class=m d=M2106,442l-7,3 /><path d=M2365,486l9-22-9,3-9,27z color=#20658e /><path d=M2409,402l9-9-9-4-9,10z color=#8effd8 /><path class=m d=M2409,389l-9-4 /><path d=M2157,396l10-4-8-6-9,4z color=#ff98b7 /><path class=m d=M2159,386l-8-6M2163,389l10-2 /><path d=M2131,409l9-11-7-5-10,12z color=#fe5274 /><path class=m d=M2128,399l-8-4 /><path d=M2175,397l9-1-7-6-10,2z color=#ff92c1 /><path d=M2444,397l8-3-8-5-9,3z color=#55fd45 /><path d=M2244,437l9,10-8-10-9-9z color=#5a4fb4 /><path d=M2122,423l9-14-8-4-9,16z color=#d43050 /><path d=M2355,529l10-25-9,8-9,30z color=#45527d /><path class=m d=M2351,527l-9,15M2342,563l9-28 /><path d=M2427,398l8-6-9-5-8,6z color=#79ff97 /><path class=m d=M2431,390l8-4 /><path d=M2337,583l9-18-9,14-8,13z color=#3f3971 /><path d=M2218,416l9,5-8-7-9-5z color=#8462c3 /><path class=m d=M2215,412l-8-7 /><path d=M2497,416l7,6-9-7-7-5z color=#61bb49 /><path class=m d=M2500,418l7,9 /><path d=M2286,509l9,36-8-26-10-32z color=#1e1b3d /><path d=M2400,414l9-12-9-3-8,12z color=#95eaff /><path d=M2471,403l8,1-9-5-8,0z color=#5be143 /><path class=m d=M2466,399l-9-6M2470,399l7,2 /><path d=M2374,464l9-19-9,0-9,22z color=#227ba5 /><path class=m d=M2365,467l-9,6 /><path d=M2252,446l10,13-9-12-9-10z color=#554baa /><path d=M2346,565l9-22-9,12-9,24z color=#463f70 /><path class=m d=M2337,579l-8,12 /><path d=M2148,403l9-7-7-6-10,8z color=#ff7b9e /><path class=m d=M2153,393l10-4 /><path d=M2392,428l8-14-8-3-9,16z color=#6dc2e7 /><path class=m d=M2387,419l-9-2 /><path d=M2383,445l9-17-9-1-9,18z color=#439dc5 /><path d=M2200,408l10,1-8-6-10-1z color=#bb76c2 /><path class=m d=M2202,403l10,4 /><path d=M2328,588l9-5-8,9-9-5z color=#26214c /><path d=M2453,401l9-2-10-5-8,3z color=#52f743 /><path d=M2418,406l9-8-9-5-9,9z color=#90ffda /><path class=m d=M2418,393l-9-4M2422,395l9-5 /><path d=M2165,401l10-4-8-5-10,4z color=#ff94b3 /><path class=m d=M2167,392l-8-6 /><path d=M2183,403l9-1-8-6-9,1z color=#fb8ebc /><path d=M2277,487l10,32-9-25-9-24z color=#1d1a3b /><path class=m d=M2283,506l9,33 /><path d=M2365,504l9-21-9,3-9,26z color=#38618e /><path class=m d=M2351,535l9-27 /><path d=M2436,402l8-5-9-5-8,6z color=#76ff94 /><path d=M2260,457l10,17-8-15-10-13z color=#1b1836 /><path class=m d=M2262,459l9,18 /><path d=M2226,423l10,5-9-7-9-5z color=#7f5dbb /><path class=m d=M2223,418l-8-6M2232,425l9,7 /><path d=M2506,422l8,8-10-8-7-6z color=#172c11 /><path d=M2138,412l10-9-8-5-9,11z color=#ff5578 /><path class=m d=M2135,403l-7-4M2144,400l9-7 /><path d=M2269,470l9,24-8-20-10-17z color=#1c1939 /><path d=M2120,442l9-16-7-3-9,18z color=#c12a48 /><path class=m d=M2113,441l-7,1 /><path d=M2480,408l8,2-9-6-8-1z color=#57d840 /><path class=m d=M2475,404l-9-5 /><path d=M2129,426l9-14-7-3-9,14z color=#df3355 /><path class=m d=M2116,441l9-17M2125,424l9-13M2134,411l10-11 /><path d=M2409,417l9-11-9-4-9,12z color=#9bf2ff /><path class=m d=M2414,404l8-9 /><path d=M2355,543l9-22-9,8-9,26z color=#564f7e /><path d=M2374,483l9-20-9,1-9,22z color=#24719f /><path class=m d=M2360,508l9-24 /><path d=M2208,413l10,3-8-7-10-1z color=#b572bb /><path d=M2155,407l10-6-8-5-9,7z color=#ff7b9d /><path d=M2516,428l7,11-9-9-8-8z color=#1a3314 /><path class=m d=M2523,439l6,18 /><path d=M2463,405l8-2-9-4-9,2z color=#4ff140 /><path class=m d=M2462,399l8,0 /><path d=M2401,430l8-13-9-3-8,14z color=#73ccf3 /><path class=m d=M2396,421l-9-2M2405,415l9-11 /><path d=M2427,410l9-8-9-4-9,8z color=#90ffda /><path class=m d=M2427,398l-9-5 /><path d=M2383,463l9-17-9-1-9,19z color=#2689b7 /><path class=m d=M2374,464l-9,3M2369,484l9-20 /><path d=M2234,430l10,7-8-9-10-5z color=#7859b2 /><path class=m d=M2231,426l-8-8 /><path d=M2445,406l8-5-9-4-8,5z color=#73ff91 /><path d=M2392,446l9-16-9-2-9,17z color=#49a9d4 /><path class=m d=M2378,464l9-19M2387,445l9-16M2396,429l9-14 /><path d=M2190,408l10,0-8-6-9,1z color=#f58ab7 /><path class=m d=M2192,402l10,1 /><path d=M2173,406l10-3-8-6-10,4z color=#ff90ae /><path class=m d=M2175,397l-8-5 /><path d=M2489,413l8,3-9-6-8-2z color=#53ce3c /><path class=m d=M2484,409l-9-5M2492,413l8,5 /><path d=M2364,521l9-21-8,4-10,25z color=#505e8f /><path class=m d=M2360,516l-9,11 /><path d=M2146,416l9-9-7-4-10,9z color=#ff577b /><path class=m d=M2143,408l-8-5 /><path d=M2418,420l9-10-9-4-9,11z color=#9ef7ff /><path d=M2137,428l9-12-8-4-9,14z color=#e83659 /><path d=M2127,443l10-15-8-2-9,16z color=#ce2e4d /><path class=m d=M2120,442l-7-1 /><path d=M2216,419l10,4-8-7-10-3z color=#ae6eb4 /><path class=m d=M2222,419l10,6 /><path d=M2346,572l9-18-9,11-9,18z color=#403a73 /><path d=M2472,409l8-1-9-5-8,2z color=#4cea3d /><path d=M2242,437l10,9-8-9-10-7z color=#7153a7 /><path class=m d=M2239,433l-8-7 /><path d=M2311,561l9,26-9-11-9-35z color=#2d2143 /><path class=m d=M2315,582l9,11 /><path d=M2373,500l10-19-9,2-9,21z color=#3f6da0 /><path d=M2163,412l10-6-8-5-10,6z color=#ff799b /><path d=M2337,583l9-11-9,11-9,5z color=#201c40 /><path d=M2436,413l9-7-9-4-9,8z color=#8effd9 /><path class=m d=M2436,402l-9-4 /><path d=M2454,410l9-5-10-4-8,5z color=#70fe8d /><path class=m d=M2453,401l9-2 /><path d=M2410,432l8-12-9-3-8,13z color=#78d4fc /><path class=m d=M2405,423l-9-2 /><path d=M2499,418l7,4-9-6-8-3z color=#4ec339 /><path class=m d=M2493,414l-9-5 /><path d=M2302,541l9,35-8-18-10-40z color=#2b1f3f /><path d=M2198,413l10,0-8-5-10,0z color=#ee86b1 /><path d=M2181,411l9-3-7-5-10,3z color=#ff8caa /><path class=m d=M2183,403l-8-6M2183,403l9-1 /><path d=M2383,481l9-18-9,0-9,20z color=#297eb1 /><path d=M2355,554l9-19-9,8-9,22z color=#4f487f /><path class=m d=M2346,565l-9,14 /><path d=M2319,575l9,13-8-1-9-26z color=#322449 /><path class=m d=M2315,574l-8-15 /><path d=M2401,447l9-15-9-2-9,16z color=#4eb2df /><path d=M2392,463l9-16-9-1-9,17z color=#2a94c5 /><path class=m d=M2383,463l-9,1 /><path d=M2154,420l9-8-8-5-9,9z color=#ff587d /><path class=m d=M2151,412l-8-4 /><path d=M2251,445l9,12-8-11-10-9z color=#6b4f9e /><path class=m d=M2247,441l-8-8M2252,446l10,13 /><path d=M2428,423l8-10-9-3-9,10z color=#a0f9ff /><path d=M2293,518l10,40-9-25-9-36z color=#291e3c /><path class=m d=M2307,559l-9-21 /><path d=M2224,425l10,5-8-7-10-4z color=#a669ac /><path d=M2481,413l8,0-9-5-8,1z color=#49e23a /><path class=m d=M2485,411l7,2 /><path d=M2364,535l9-19-9,5-9,22z color=#645c93 /><path d=M2508,423l8,5-10-6-7-4z color=#112b0c /><path class=m d=M2512,426l-10-6M2502,420l-9-6M2516,428l7,11 /><path d=M2144,431l10-11-8-4-9,12z color=#f0395d /><path d=M2445,417l9-7-9-4-9,7z color=#8cffd6 /><path class=m d=M2445,406l-9-4M2445,406l8-5 /><path d=M2463,414l9-5-9-4-9,5z color=#6df98a /><path d=M2171,416l10-5-8-5-10,6z color=#ff7698 /><path class=m d=M2173,406l10-3 /><path d=M2135,445l9-14-7-3-10,15z color=#d83152 /><path class=m d=M2127,443l-7-1 /><path d=M2259,454l10,16-9-13-9-12z color=#231933 /><path class=m d=M2255,451l-8-10 /><path d=M2419,435l9-12-10-3-8,12z color=#7bdaff /><path class=m d=M2414,426l-9-3 /><path d=M2206,418l10,1-8-6-10,0z color=#e681ac /><path class=m d=M2212,416l10,3 /><path d=M2373,516l9-17-9,1-9,21z color=#5c6ba3 /><path class=m d=M2369,510l-9,6 /><path d=M2189,416l9-3-8-5-9,3z color=#ff88a5 /><path class=m d=M2190,408l-7-5 /><path d=M2285,497l9,36-8-24-10-30z color=#281d3b /><path class=m d=M2298,538l-8-23M2294,533l10,37 /><path d=M2328,580l9,3-9,5-9-13z color=#33254b /><path class=m d=M2324,581l-9-7 /><path d=M2382,499l10-18-9,0-10,19z color=#477ab2 /><path d=M2410,449l9-14-9-3-9,15z color=#51b9e8 /><path d=M2267,465l10,22-8-17-10-16z color=#251b36 /><path class=m d=M2264,462l-9-11M2273,479l10,27 /><path d=M2276,479l10,30-9-22-10-22z color=#271c39 /><path class=m d=M2290,515l-9-21M2281,494l-9-18M2272,476l-8-14 /><path d=M2392,481l9-17-9-1-9,18z color=#2d89c0 /><path d=M2401,464l9-15-9-2-9,16z color=#2e9dd1 /><path class=m d=M2392,463l-9,0 /><path d=M2233,431l9,6-8-7-10-5z color=#9e63a3 /><path d=M2491,418l8,0-10-5-8,0z color=#45d937 /><path d=M2161,424l10-8-8-4-9,8z color=#ff597d /><path class=m d=M2158,416l-7-4M2163,412l10-6 /><path d=M2437,426l8-9-9-4-8,10z color=#a0f9ff /><path class=m d=M2436,413l9-7 /><path d=M2455,420l8-6-9-4-9,7z color=#89fdd2 /><path class=m d=M2454,410l-9-4 /><path d=M2473,417l8-4-9-4-9,5z color=#6af486 /><path class=m d=M2476,411l9,0 /><path d=M2152,435l9-11-7-4-10,11z color=#f63b60 /><path class=m d=M2154,420l9-8 /><path d=M2179,421l10-5-8-5-10,5z color=#ff7495 /><path d=M2355,563l9-16-9,7-9,18z color=#494283 /><path d=M2215,423l9,2-8-6-10-1z color=#de7ca5 /><path d=M2346,576l9-13-9,9-9,11z color=#3d367a /><path d=M2428,438l9-12-9-3-9,12z color=#7edeff /><path class=m d=M2423,429l-9-3M2428,423l8-10 /><path d=M2197,420l9-2-8-5-9,3z color=#ff84a1 /><path class=m d=M2198,413l-8-5M2202,416l10,0 /><path d=M2142,447l10-12-8-4-9,14z color=#e13456 /><path class=m d=M2135,445l-8-2M2135,445l9-14M2144,431l10-11 /><path d=M2364,547l9-16-9,4-9,19z color=#5d5495 /><path class=m d=M2355,554l-9,11M2346,572l9-18 /><path d=M2241,438l10,7-9-8-9-6z color=#945d99 /><path class=m d=M2242,437l10,9 /><path d=M2500,422l8,1-9-5-8,0z color=#41cf34 /><path class=m d=M2508,423l8,5 /><path d=M2373,531l9-16-9,1-9,19z color=#7369a8 /><path class=m d=M2355,554l9-19 /><path d=M2419,451l9-13-9-3-9,14z color=#55bfef /><path class=m d=M2419,435l9-12 /><path d=M2446,429l9-9-10-3-8,9z color=#9ef8ff /><path d=M2382,515l10-17-10,1-9,17z color=#6779b7 /><path class=m d=M2378,507l-9,3M2364,535l9-19 /><path d=M2410,466l9-15-9-2-9,15z color=#30a4d9 /><path class=m d=M2410,449l9-14 /><path d=M2169,428l10-7-8-5-10,8z color=#ff587c /><path class=m d=M2166,420l-8-4 /><path d=M2392,498l9-16-9-1-10,18z color=#4e85c2 /><path class=m d=M2373,516l9-17 /><path d=M2401,482l9-16-9-2-9,17z color=#3091cb /><path class=m d=M2401,464l-9-1M2382,499l10-18M2392,481l9-17M2401,464l9-15 /><path d=M2482,420l9-2-10-5-8,4z color=#66ed82 /><path d=M2464,423l9-6-10-3-8,6z color=#86f9cf /><path class=m d=M2463,414l-9-4M2468,415l8-4 /><path d=M2337,580l9-4-9,7-9-3z color=#2e2244 /><path class=m d=M2332,582l-8-1M2337,583l9-11 /><path d=M2223,429l10,2-9-6-9-2z color=#d4769e /><path d=M2187,425l10-5-8-4-10,5z color=#ff7192 /><path class=m d=M2193,418l9-2 /><path d=M2437,441l9-12-9-3-9,12z color=#7edfff /><path class=m d=M2432,432l-9-3 /><path d=M2160,438l9-10-8-4-9,11z color=#fa3c62 /><path d=M2249,444l10,10-8-9-10-7z color=#8b5790 /><path d=M2205,425l10-2-9-5-9,2z color=#ff809c /><path class=m d=M2206,418l-8-5 /><path d=M2150,450l10-12-8-3-10,12z color=#e83659 /><path class=m d=M2142,447l-7-2 /><path d=M2428,453l9-12-9-3-9,13z color=#56c3f4 /><path d=M2455,432l9-9-9-3-9,9z color=#9cf5ff /><path class=m d=M2460,422l8-7 /><path d=M2492,424l8-2-9-4-9,2z color=#62e67e /><path class=m d=M2500,422l8,1 /><path d=M2177,432l10-7-8-4-10,7z color=#ff567a /><path class=m d=M2174,425l-8-5M2183,423l10-5 /><path d=M2419,468l9-15-9-2-9,15z color=#32a9e0 /><path d=M2474,426l8-6-9-3-9,6z color=#84f5cb /><path class=m d=M2473,417l-10-3 /><path d=M2258,451l9,14-8-11-10-10z color=#2c1c2e /><path class=m d=M2263,459l10,20 /><path d=M2410,483l9-15-9-2-9,16z color=#3397d3 /><path class=m d=M2410,466l-9-2 /><path d=M2382,530l10-15-10,0-9,16z color=#8479c0 /><path d=M2373,544l9-14-9,1-9,16z color=#6d63ae /><path d=M2392,515l9-16-9-1-10,17z color=#7184c8 /><path class=m d=M2387,507l-9,0 /><path d=M2401,499l9-16-9-1-9,16z color=#538dcd /><path d=M2364,558l9-14-9,3-9,16z color=#574e9a /><path class=m d=M2364,547l-9,7 /><path d=M2231,434l10,4-8-7-10-2z color=#c97095 /><path class=m d=M2233,431l9,6 /><path d=M2310,543l9,32-8-14-10-39z color=#39243b /><path d=M2355,569l9-11-9,5-9,13z color=#443c89 /><path d=M2195,429l10-4-8-5-10,5z color=#ff6d8e /><path d=M2447,443l8-11-9-3-9,12z color=#7edeff /><path class=m d=M2442,435l-10-3M2451,431l9-9 /><path d=M2319,559l9,21-9-5-9-32z color=#3d263f /><path d=M2213,429l10,0-8-6-10,2z color=#fc7b96 /><path class=m d=M2215,423l-9-5 /><path d=M2168,442l9-10-8-4-9,10z color=#fb3c62 /><path class=m d=M2173,430l10-7 /><path d=M2301,522l10,39-9-20-10-40z color=#372339 /><path class=m d=M2306,551l9,31 /><path d=M2266,459l10,20-9-14-9-14z color=#301e32 /><path d=M2465,435l9-9-10-3-9,9z color=#9af1ff /><path d=M2438,456l9-13-10-2-9,12z color=#57c5f6 /><path class=m d=M2442,442l9-11 /><path d=M2158,453l10-11-8-4-10,12z color=#ec375b /><path class=m d=M2150,450l-8-3M2154,452l10-12M2164,440l9-10 /><path d=M2346,576l9-7-9,7-9,4z color=#251b37 /><path class=m d=M2341,578l-9,4 /><path d=M2292,501l10,40-9-23-9-35z color=#362238 /><path d=M2483,429l9-5-10-4-8,6z color=#81f1c8 /><path class=m d=M2492,424l-10-4M2482,420l-9-3M2492,424l8-2 /><path d=M2275,469l10,28-9-18-10-20z color=#332035 /><path d=M2428,470l10-14-10-3-9,15z color=#34ade5 /><path class=m d=M2433,455l9-13 /><path d=M2239,439l10,5-8-6-10-4z color=#bd698c /><path d=M2185,436l10-7-8-4-10,7z color=#ff5478 /><path class=m d=M2182,429l-8-4 /><path d=M2284,483l9,35-8-21-10-28z color=#352136 /><path class=m d=M2285,497l9,36 /><path d=M2328,569l9,11-9,0-9-21z color=#3f2841 /><path class=m d=M2328,580l9,3 /><path d=M2419,485l9-15-9-2-9,15z color=#359cda /><path class=m d=M2419,468l-9-2M2424,469l9-14 /><path d=M2410,500l9-15-9-2-9,16z color=#5793d5 /><path class=m d=M2415,484l9-15 /><path d=M2401,516l9-16-9-1-9,16z color=#788cd3 /><path class=m d=M2396,507l-9,0M2405,500l10-16 /><path d=M2456,446l9-11-10-3-8,11z color=#7cdcff /><path class=m d=M2451,438l-9-3 /><path d=M2203,433l10-4-8-4-10,4z color=#ff6a8a /><path d=M2392,530l9-14-9-1-10,15z color=#9085d2 /><path class=m d=M2396,515l9-15 /><path d=M2221,433l10,1-8-5-10,0z color=#f27690 /><path class=m d=M2223,429l-8-6M2223,429l10,2 /><path d=M2382,544l10-14-10,0-9,14z color=#7e73c9 /><path class=m d=M2387,530l9-15 /><path d=M2176,445l9-9-8-4-9,10z color=#fa3b61 /><path d=M2373,556l9-12-9,0-9,14z color=#695fbb /><path class=m d=M2373,544l-9,3M2378,544l9-14 /><path d=M2475,437l8-8-9-3-9,9z color=#98efff /><path class=m d=M2483,429l9-5 /><path d=M2447,458l9-12-9-3-9,13z color=#57c4f6 /><path d=M2166,456l10-11-8-3-10,11z color=#ee385c /><path class=m d=M2158,453l-8-3 /><path d=M2248,444l10,7-9-7-10-5z color=#b06182 /><path class=m d=M2253,448l10,11 /><path d=M2364,566l9-10-9,2-9,11z color=#544aa8 /><path class=m d=M2369,557l9-13 /><path d=M2438,472l9-14-9-2-10,14z color=#35aee7 /><path d=M2193,439l10-6-8-4-10,7z color=#ff5276 /><path class=m d=M2190,432l-8-3 /><path d=M2337,573l9,3-9,4-9-11z color=#3d263f /><path d=M2429,487l9-15-10-2-9,15z color=#37a0de /><path class=m d=M2428,470l-9-2 /><path d=M2466,448l9-11-10-2-9,11z color=#7bdaff /><path class=m d=M2470,443l-9-3M2461,440l-10-2M2475,437l8-8 /><path d=M2229,438l10,1-8-5-10-1z color=#e77089 /><path class=m d=M2231,434l-8-5 /><path d=M2419,502l10-15-10-2-9,15z color=#5a97db /><path d=M2211,436l10-3-8-4-10,4z color=#ff6786 /><path class=m d=M2213,429l10,0 /><path d=M2410,517l9-15-9-2-9,16z color=#7d91db /><path class=m d=M2405,508l-9-1 /><path d=M2355,573l9-7-9,3-9,7z color=#60478e /><path class=m d=M2350,573l-9,5M2359,568l10-11 /><path d=M2401,532l9-15-9-1-9,14z color=#988cdd /><path d=M2184,448l9-9-8-3-9,9z color=#f73a60 /><path d=M2392,545l9-13-9-2-10,14z color=#8a7edb /><path d=M2457,461l9-13-10-2-9,12z color=#56c3f4 /><path class=m d=M2466,448l9-11 /><path d=M2256,449l10,10-8-8-10-7z color=#351d27 /><path d=M2383,556l9-11-10-1-9,12z color=#7a6ed7 /><path class=m d=M2382,544l-9,0 /><path d=M2174,459l10-11-8-3-10,11z color=#ee375b /><path class=m d=M2166,456l-8-3 /><path d=M2448,474l9-13-10-3-9,14z color=#35afe8 /><path class=m d=M2457,461l9-13 /><path d=M2201,442l10-6-8-3-10,6z color=#ff5073 /><path class=m d=M2198,436l-8-4M2203,433l10-4 /><path d=M2438,489l10-15-10-2-9,15z color=#37a2e1 /><path class=m d=M2448,474l-10-2M2438,472l-10-2M2448,474l9-13 /><path d=M2238,442l10,2-9-5-10-1z color=#d96981 /><path class=m d=M2239,439l-8-5M2244,442l9,6 /><path d=M2373,565l10-9-10,0-9,10z color=#675bcc /><path d=M2220,440l9-2-8-5-10,3z color=#f86382 /><path d=M2429,504l9-15-9-2-10,15z color=#5c9be0 /><path class=m d=M2438,489l10-15 /><path d=M2346,574l9-1-9,3-9-3z color=#352137 /><path class=m d=M2350,575l9-7 /><path d=M2265,454l10,15-9-10-10-10z color=#3c212c /><path d=M2420,519l9-15-10-2-9,15z color=#8095e0 /><path class=m d=M2424,511l-9-2M2415,509l-10-1M2429,504l9-15 /><path d=M2410,533l10-14-10-2-9,15z color=#9d90e3 /><path class=m d=M2420,519l9-15 /><path d=M2192,451l9-9-8-3-9,9z color=#f4395e /><path class=m d=M2193,439l10-6 /><path d=M2401,546l9-13-9-1-9,13z color=#9083e4 /><path class=m d=M2410,533l10-14 /><path d=M2364,572l9-7-9,1-9,7z color=#7556ac /><path class=m d=M2359,570l-9,3 /><path d=M2182,462l10-11-8-3-10,11z color=#ec375a /><path class=m d=M2174,459l-8-3M2174,459l10-11M2184,448l9-9 /><path d=M2392,558l9-12-9-1-9,11z color=#8376e6 /><path class=m d=M2401,546l-9-1M2392,545l-10-1M2401,546l9-13 /><path d=M2274,460l10,23-9-14-10-15z color=#402430 /><path class=m d=M2275,469l10,28 /><path d=M2210,445l10-5-9-4-10,6z color=#fb4e71 /><path class=m d=M2206,439l-8-3 /><path d=M2246,446l10,3-8-5-10-2z color=#c86076 /><path class=m d=M2248,444l-9-5 /><path d=M2318,540l10,29-9-10-10-38z color=#472734 /><path d=M2309,521l10,38-9-16-10-42z color=#452633 /><path class=m d=M2319,559l9,21 /><path d=M2228,443l10-1-9-4-9,2z color=#ee5e7c /><path class=m d=M2234,440l10,2 /><path d=M2300,501l10,42-9-21-10-40z color=#442632 /><path d=M2383,567l9-9-9-2-10,9z color=#7366e3 /><path class=m d=M2392,558l9-12 /><path d=M2282,469l10,32-8-18-10-23z color=#432531 /><path d=M2327,555l10,18-9-4-10-29z color=#482836 /><path d=M2291,482l10,40-9-21-10-32z color=#432532 /><path class=m d=M2297,512l9,39 /><path d=M2200,454l10-9-9-3-9,9z color=#f1385c /><path d=M2355,575l9-3-9,1-9,1z color=#8b5790 /><path d=M2373,573l10-6-10-2-9,7z color=#8563c3 /><path class=m d=M2378,570l-9-1M2369,569l-10,1M2383,567l9-9 /><path d=M2190,465l10-11-8-3-10,11z color=#e93559 /><path class=m d=M2182,462l-8-3 /><path d=M2255,448l10,6-9-5-10-3z color=#371a20 /><path class=m d=M2256,449l-8-5 /><path d=M2218,448l10-5-8-3-10,5z color=#f64c6e /><path class=m d=M2215,443l-9-4M2224,442l10-2 /><path d=M2336,565l10,9-9-1-10-18z color=#472835 /><path class=m d=M2341,574l9,1 /><path d=M2236,446l10,0-8-4-10,1z color=#e15874 /><path d=M2208,456l10-8-8-3-10,9z color=#ee365b /><path class=m d=M2214,447l10-5 /><path d=M2364,576l9-3-9-1-9,3z color=#965e9b /><path class=m d=M2373,573l10-6 /><path d=M2264,450l10,10-9-6-10-6z color=#411f26 /><path class=m d=M2265,454l-9-5M2265,454l10,15 /><path d=M2346,570l9,5-9-1-10-9z color=#412431 /><path d=M2198,467l10-11-8-2-10,11z color=#e63457 /><path class=m d=M2190,465l-8-3M2194,466l10-11M2204,455l10-8 /><path d=M2226,451l10-5-8-3-10,5z color=#ed4869 /><path class=m d=M2223,446l-8-3 /><path d=M2245,449l10-1-9-2-10,0z color=#ce506a /><path d=M2217,458l9-7-8-3-10,8z color=#e93558 /><path d=M2272,451l10,18-8-9-10-10z color=#48232b /><path class=m d=M2274,460l-9-6 /><path d=M2355,575l9,1-9-1-9-5z color=#391f2a /><path class=m d=M2364,576l9-3 /><path d=M2235,453l10-4-9-3-10,5z color=#de4262 /><path class=m d=M2231,449l-8-3 /><path d=M2207,469l10-11-9-2-10,11z color=#e23356 /><path class=m d=M2198,467l-8-2 /><path d=M2254,449l10,1-9-2-10,1z color=#b9485f /><path class=m d=M2255,448l10,6 /><path d=M2281,455l10,27-9-13-10-18z color=#4b242c /><path class=m d=M2282,469l-8-9M2287,476l10,36 /><path d=M2225,460l10-7-9-2-9,7z color=#e03254 /><path d=M2318,520l9,35-9-15-9-42z color=#49232b /><path d=M2327,539l9,26-9-10-9-35z color=#4a232b /><path class=m d=M2332,560l9,14 /><path d=M2290,464l10,37-9-19-10-27z color=#4b242c /><path class=m d=M2291,482l-9-13 /><path d=M2309,498l9,42-9-19-10-43z color=#49232b /><path class=m d=M2327,555l-9-15 /><path d=M2299,478l10,43-9-20-10-37z color=#4a242c /><path class=m d=M2318,540l-9-19M2309,521l-9-20M2300,501l-9-19M2309,521l10,38 /><path d=M2336,554l10,16-10-5-9-26z color=#48232b /><path class=m d=M2336,565l-9-10 /><path d=M2215,471l10-11-8-2-10,11z color=#dd3153 /><path class=m d=M2207,469l-9-2 /><path d=M2244,453l10-4-9,0-10,4z color=#c73b57 /><path class=m d=M2240,451l-9-2M2245,449l10-1 /><path d=M2262,447l10,4-8-1-10-1z color=#3d181f /><path d=M2345,565l10,10-9-5-10-16z color=#432028 /><path class=m d=M2355,575l-9-5M2346,570l-10-5M2355,575l9,1 /><path d=M2234,461l10-8-9,0-10,7z color=#cf2d4d /><path class=m d=M2235,453l10-4 /><path d=M2224,472l10-11-9-1-10,11z color=#d22e4f /><path class=m d=M2215,471l-8-2M2215,471l10-11M2225,460l10-7 /><path d=M2252,452l10-5-8,2-10,4z color=#ab324a /><path class=m d=M2249,451l-9,0 /><path d=M2271,444l10,11-9-4-10-4z color=#481c25 /><path class=m d=M2277,453l10,23 /><path d=M2242,461l10-9-8,1-10,8z color=#b52642 /><path d=M2232,472l10-11-8,0-10,11z color=#c02947 /><path class=m d=M2224,472l-9-1 /><path d=M2280,443l10,21-9-9-10-11z color=#4d1e28 /><path d=M2261,447l10-3-9,3-10,5z color=#350f17 /><path class=m d=M2257,449l-8,2M2267,446l10,7 /><path d=M2336,542l9,23-9-11-9-32z color=#411921 /><path class=m d=M2345,565l10,10 /><path d=M2327,522l9,32-9-15-10-40z color=#441a23 /><path d=M2289,446l10,32-9-14-10-21z color=#4d1e27 /><path d=M2251,457l10-10-9,5-10,9z color=#941f36 /><path class=m d=M2257,449l10-3 /><path d=M2317,499l10,40-9-19-10-45z color=#451b23 /><path class=m d=M2322,529l10,31 /><path d=M2241,470l10-13-9,4-10,11z color=#a3223b /><path class=m d=M2232,472l-8,0M2236,471l11-12M2247,459l10-10 /><path d=M2298,457l11,41-10-20-10-32z color=#491c26 /><path class=m d=M2299,478l10,43 /><path d=M2308,475l10,45-9-22-11-41z color=#471b24 /><path d=M2270,440l10,3-9,1-10,3z color=#42131c /><path class=m d=M2266,446l-9,3 /><path d=M2260,450l10-10-9,7-10,10z color=#79192c /><path d=M2250,465l10-15-9,7-10,13z color=#841b30 /><path class=m d=M2241,470l-9,2 /><path d=M2279,433l10,13-9-3-10-3z color=#4c1621 /><path class=m d=M2275,441l-9,5 /><path d=M2268,439l11-6-9,7-10,10z color=#370b14 /><path d=M2288,431l10,26-9-11-10-13z color=#4d1621 /><path class=m d=M2284,439l-9,2M2289,446l10,32 /><path d=M2326,506l10,36-9-20-10-43z color=#3d121b /><path class=m d=M2336,542l9,23 /><path d=M2258,456l10-17-8,11-10,15z color=#711729 /><path class=m d=M2250,465l-9,5 /><path d=M2317,479l10,43-10-23-10-45z color=#41131c /><path class=m d=M2331,524l-9-23 /><path d=M2297,437l11,38-10-18-10-26z color=#48151f /><path class=m d=M2293,444l-9-5 /><path d=M2307,454l10,45-9-24-11-38z color=#44141d /><path class=m d=M2322,501l-10-24M2312,477l-9-20M2303,457l-10-13M2313,487l9,42 /><path d=M2278,427l10,4-9,2-11,6z color=#430e18 /><path class=m d=M2279,433l10,13 /><path d=M2267,442l11-15-10,12-10,17z color=#3b0c15 /><path class=m d=M2258,456l-8,9M2258,456l10-17M2268,439l11-6 /><path d=M2287,419l10,18-9-6-10-4z color=#4a0f1b /><path d=M2296,421l11,33-10-17-10-18z color=#470e19 /><path class=m d=M2302,446l11,41 /><path d=M2316,461l10,45-9-27-11-43z color=#3d0c16 /><path class=m d=M2326,506l10,36 /><path d=M2276,425l11-6-9,8-11,15z color=#410d17 /><path class=m d=M2267,442l-9,14 /><path d=M2306,436l11,43-10-25-11-33z color=#400d17 /><path d=M2286,413l10,8-9-2-11,6z color=#4e101c /><path class=m d=M2276,425l-9,17M2281,419l11,1M2292,420l10,26 /><path d=M2295,410l11,26-10-15-10-8z color=#4c101c /><path class=m d=M2286,413l-10,12 /><path d=M2305,422l11,39-10-25-11-26z color=#460e19 /><path class=m d=M2305,422l-10-12M2295,410l-9,3M2305,422l11,39M2316,461l10,45 /></g>
<path d="M490.6 50.2L576.2 96.3M576.2 96.3L668.8 52.2M576.2 96.3L576.6 183.8M499.8 127.3L576.6 183.8M576.6 183.8L659.5 129.7M490.6 50.2L499.8 127.3M668.8 52.2L659.5 129.7" stroke="#666" stroke-width="0.6" fill="none"/>
<path d="M574.8 182.5L577 181.1M569.3 178.5L570.7 177.6M564 174.5L565.4 173.7M558.8 170.7L560.2 169.9M553.7 167L555.9 165.7M548.7 163.3L550.1 162.5M543.9 159.7L545.3 159M539.2 156.3L540.5 155.5M534.5 152.9L536.7 151.7M530 149.5L531.4 148.8M525.6 146.3L527 145.6M521.3 143.1L522.6 142.4M517.1 140L519.2 138.9M512.9 136.9L514.3 136.3M508.9 134L510.2 133.3M504.9 131L506.2 130.4M501 128.2L503.1 127.2M578.5 182.6L577.2 181.6M586.2 177.5L584.9 176.6M593.8 172.6L591.8 171.2M601.1 167.8L599.8 166.9M608.2 163.2L606.9 162.3M615.1 158.7L613.8 157.9M621.8 154.3L619.7 153.1M628.3 150.1L627 149.3M634.6 146L633.3 145.2M640.7 142L639.4 141.2M646.7 138.1L644.7 137M652.5 134.3L651.2 133.6M658.2 130.6L656.9 129.9M660 125.5L659 126.2M660.6 120.5L659.6 121.1M661.2 115.3L659.7 116.3M661.9 110.1L660.9 110.7M662.5 104.8L661.5 105.4M663.2 99.4L662.2 100M663.8 94L662.2 94.9M664.5 88.4L663.5 89M665.2 82.8L664.1 83.3M665.9 77L664.8 77.6M666.6 71.2L664.9 72.1M667.3 65.3L666.2 65.8M668 59.3L666.9 59.8M668.7 53.2L667.7 53.7" stroke="#444" stroke-width="0.55" fill="none"/>
<text x="497.2" y="133.3" font-size="5.6" text-anchor="middle" fill="#111" >2</text>
<text x="513.5" y="145" font-size="5.6" text-anchor="middle" fill="#111" >1</text>
<text x="531.1" y="158.3" font-size="5.6" text-anchor="middle" fill="#111" >0</text>
<text x="548.9" y="172.2" font-size="5.6" text-anchor="middle" fill="#111" >−1</text>
<text x="569.7" y="188.5" font-size="5.6" text-anchor="middle" fill="#111" >−2</text>
<text x="523.1" y="163.2" font-size="5.6" text-anchor="middle" fill="#111" ><tspan font-style="italic">t</tspan></text>
<text x="598.5" y="179.5" font-size="5.6" text-anchor="middle" fill="#111" >−2</text>
<text x="624.3" y="159.5" font-size="5.6" text-anchor="middle" fill="#111" >0</text>
<text x="649.3" y="143.2" font-size="5.6" text-anchor="middle" fill="#111" >2</text>
<text x="632.4" y="165.5" font-size="5.6" text-anchor="middle" fill="#111" ><tspan font-style="italic">x</tspan></text>
<text x="671" y="75" font-size="5.6" text-anchor="middle" fill="#111" >10</text>
<text x="667" y="98" font-size="5.6" text-anchor="middle" fill="#111" >0</text>
<text x="667.4" y="119.1" font-size="5.6" text-anchor="middle" fill="#111" >−10</text>
<text x="679" y="102.4" font-size="5.6" text-anchor="middle" fill="#111" >Im[q]</text>
<text x="568.6" y="18.8" font-size="7.5" textLength="22.3" lengthAdjust="spacingAndGlyphs" fill="#2a2a2a">Figure (<tspan font-style="italic">c</tspan>)</text>
<g clip-path="url(#cg)">
<rect x="16" y="355" width="185" height="186" fill="#6b2521"/>
<path fill="#a88b84" fill-rule="evenodd" d="M12.3 544.7L50.1 544.7L204.7 374.3L204.7 351.3L166.9 351.3L12.3 521.7ZM74.2 544.7L132.8 544.7L142.3 534.2L204.7 465.4L204.7 400.8ZM156.8 544.7L204.7 544.7L204.7 492ZM12.3 494.5L12.3 495.2L142.8 351.3L84.2 351.3L12.3 430.6ZM12.3 403.9L12.3 404L60.2 351.3L12.3 351.3Z"/>
<path fill="#e07a1f" fill-rule="evenodd" d="M12.3 544.7L38.5 544.7L204.7 361.5L204.7 351.3L178.5 351.3L12.3 534.5ZM85.7 544.7L121.2 544.7L127.1 538.2L204.7 452.6L204.7 413.6ZM168.4 544.7L203.9 544.7L204.6 543.9L204.7 504.7ZM12.3 482.4L131.3 351.3L95.8 351.3L89.9 357.8L12.3 443.4ZM12.3 390.9L12.3 391.3L48.6 351.3L13.1 351.3L12.3 352.2Z"/>
<path fill="#f1e4cc" fill-rule="evenodd" d="M12.3 544.7L34.4 544.7L204.7 356.9L204.7 351.3L182.6 351.3L12.3 539.1ZM89.9 544.7L117.1 544.7L122.2 539.1L204.7 448.1L204.7 418.1ZM172.6 544.7L199.7 544.7L202.7 541.5L204.7 539.3L204.7 509.3ZM12.3 477.5L12.3 477.9L127.1 351.3L99.9 351.3L12.3 447.9ZM12.3 386.1L12.3 386.7L44.4 351.3L17.3 351.3L12.3 356.7Z"/>
<path fill="#e8c248" fill-rule="evenodd" d="M12.3 544.7L31.6 544.7L204.7 353.9L204.7 351.3L185.4 351.3L12.3 542.1ZM92.6 544.7L114.3 544.7L199.5 450.8L204.7 445.1L204.7 421.2ZM175.3 544.7L197 544.7L204.7 536.2L204.7 512.3ZM12.3 474.3L12.3 474.8L124.4 351.3L102.7 351.3L12.3 450.9ZM12.3 383.7L41.7 351.3L20 351.3L12.3 359.8Z"/>
<path fill="#2a2f6e" fill-rule="evenodd" d="M12.3 544.7L29.3 544.7L204.7 351.3L187.7 351.3ZM95 544.7L112 544.7L115.6 540.7L204.7 442.5L204.7 423.7ZM177.7 544.7L194.7 544.7L196.1 543.1L204.7 533.6L204.7 514.9ZM12.3 471.9L12.3 472.3L122 351.3L105 351.3L12.3 453.5ZM12.3 380.4L12.3 381.1L39.3 351.3L22.3 351.3L12.3 362.4Z"/>
<path fill="#301c78" fill-rule="evenodd" d="M14.6 544.7L27 544.7L202.4 351.3L190 351.3ZM97.3 544.7L109.7 544.7L192.6 453.3L204.7 439.9L204.7 426.3ZM180 544.7L192.4 544.7L197.5 539.1L204.7 531.1L204.7 517.4ZM12.3 469.4L12.3 469.7L119.7 351.3L107.3 351.3L12.3 456.1ZM12.3 378L12.3 378.6L37 351.3L24.6 351.3L12.3 364.9Z"/>
<path fill="#5e3d7a" fill-rule="evenodd" d="M17.4 544.7L24.1 544.7L199.6 351.3L192.9 351.3ZM100.1 544.7L106.8 544.7L110.5 540.7L204.7 436.8L204.7 429.4ZM182.8 544.7L189.5 544.7L199.1 534.2L204.7 528L204.7 520.5ZM12.3 466.2L12.3 466.6L116.9 351.3L110.2 351.3L106.5 355.3L12.3 459.2ZM12.3 374.8L12.3 375.5L34.2 351.3L27.5 351.3L12.3 368Z"/>
</g>
<rect x="12.3" y="351.6" width="193.2" height="192.8" fill="none" stroke="#444" stroke-width="0.9"/>
<path d="M34.5 544.4v-2.2M34.5 351.6v2.2M71.5 544.4v-2.2M71.5 351.6v2.2M108.5 544.4v-2.2M108.5 351.6v2.2M145.5 544.4v-2.2M145.5 351.6v2.2M182.5 544.4v-2.2M182.5 351.6v2.2M16 544.4v-1.2M16 351.6v1.2M25.2 544.4v-1.2M25.2 351.6v1.2M43.8 544.4v-1.2M43.8 351.6v1.2M53 544.4v-1.2M53 351.6v1.2M62.2 544.4v-1.2M62.2 351.6v1.2M80.8 544.4v-1.2M80.8 351.6v1.2M90 544.4v-1.2M90 351.6v1.2M99.2 544.4v-1.2M99.2 351.6v1.2M117.8 544.4v-1.2M117.8 351.6v1.2M127 544.4v-1.2M127 351.6v1.2M136.2 544.4v-1.2M136.2 351.6v1.2M154.8 544.4v-1.2M154.8 351.6v1.2M164 544.4v-1.2M164 351.6v1.2M173.2 544.4v-1.2M173.2 351.6v1.2M191.8 544.4v-1.2M191.8 351.6v1.2M201 544.4v-1.2M201 351.6v1.2M12.3 541h2.2M205.5 541h-2.2M12.3 510h2.2M205.5 510h-2.2M12.3 479h2.2M205.5 479h-2.2M12.3 448h2.2M205.5 448h-2.2M12.3 417h2.2M205.5 417h-2.2M12.3 386h2.2M205.5 386h-2.2M12.3 355h2.2M205.5 355h-2.2M12.3 534.8h1.2M205.5 534.8h-1.2M12.3 528.6h1.2M205.5 528.6h-1.2M12.3 522.4h1.2M205.5 522.4h-1.2M12.3 516.2h1.2M205.5 516.2h-1.2M12.3 503.8h1.2M205.5 503.8h-1.2M12.3 497.6h1.2M205.5 497.6h-1.2M12.3 491.4h1.2M205.5 491.4h-1.2M12.3 485.2h1.2M205.5 485.2h-1.2M12.3 472.8h1.2M205.5 472.8h-1.2M12.3 466.6h1.2M205.5 466.6h-1.2M12.3 460.4h1.2M205.5 460.4h-1.2M12.3 454.2h1.2M205.5 454.2h-1.2M12.3 441.8h1.2M205.5 441.8h-1.2M12.3 435.6h1.2M205.5 435.6h-1.2M12.3 429.4h1.2M205.5 429.4h-1.2M12.3 423.2h1.2M205.5 423.2h-1.2M12.3 410.8h1.2M205.5 410.8h-1.2M12.3 404.6h1.2M205.5 404.6h-1.2M12.3 398.4h1.2M205.5 398.4h-1.2M12.3 392.2h1.2M205.5 392.2h-1.2M12.3 379.8h1.2M205.5 379.8h-1.2M12.3 373.6h1.2M205.5 373.6h-1.2M12.3 367.4h1.2M205.5 367.4h-1.2M12.3 361.2h1.2M205.5 361.2h-1.2" stroke="#444" stroke-width="0.6" fill="none"/>
<text x="34.5" y="551.2" font-size="5.8" text-anchor="middle" fill="#111" >−4</text>
<text x="71.5" y="551.2" font-size="5.8" text-anchor="middle" fill="#111" >−2</text>
<text x="108.5" y="551.2" font-size="5.8" text-anchor="middle" fill="#111" >0</text>
<text x="145.5" y="551.2" font-size="5.8" text-anchor="middle" fill="#111" >2</text>
<text x="182.5" y="551.2" font-size="5.8" text-anchor="middle" fill="#111" >4</text>
<text x="10.1" y="543" font-size="5.8" text-anchor="end" fill="#111" >−3</text>
<text x="10.1" y="512" font-size="5.8" text-anchor="end" fill="#111" >−2</text>
<text x="10.1" y="481" font-size="5.8" text-anchor="end" fill="#111" >−1</text>
<text x="10.1" y="450" font-size="5.8" text-anchor="end" fill="#111" >0</text>
<text x="10.1" y="419" font-size="5.8" text-anchor="end" fill="#111" >1</text>
<text x="10.1" y="388" font-size="5.8" text-anchor="end" fill="#111" >2</text>
<text x="10.1" y="357" font-size="5.8" text-anchor="end" fill="#111" >3</text>
<text x="94.9" y="350" font-size="7.5" textLength="25.8" lengthAdjust="spacingAndGlyphs" fill="#2a2a2a">Figure(<tspan font-style="italic">g</tspan>)</text>
<g clip-path="url(#ch)">
<rect x="254" y="355" width="186" height="186" fill="#7a0f0c"/>
<path fill="#b65c06" fill-rule="evenodd" d="M250.3 544.7L256.8 544.7L259.2 540.3L262.4 535.5L265.7 531.9L267.3 530.7L268.1 530.5L268.8 531L269 531.8L268.7 533.4L268.1 535.5L265.7 540.7L263.2 544.7L443.7 544.7L443.7 529.1L440.5 533.3L438.1 535.5L437.2 536L436.4 536.2L435.9 535.8L435.6 535L436.3 531.8L438.1 527.7L440.5 523.4L443.7 518.9L443.7 351.3L437.2 351.3L434.8 355.7L431.6 360.5L428.3 364.1L426.7 365.3L425.9 365.5L425.2 365L425 364.2L425.3 362.6L425.9 360.5L428.3 355.3L430.8 351.3L250.3 351.3L250.3 366.9L253.5 362.7L255.9 360.5L256.8 360L257.6 359.8L258.1 360.2L258.4 361L257.7 364.2L255.9 368.3L253.5 372.6L250.3 377.1ZM292.4 419.5L292.3 417.6L293.2 414.8L294.8 411.2L297.2 407L299.7 403.5L302.1 400.7L303.7 399.3L304.5 398.8L305.3 398.6L306 399L306.2 399.8L305.5 403.1L303.7 407.1L301.3 411.4L298 415.9L295.6 418.5L294 419.7L293.2 420ZM340.1 458.1L340.1 456.5L340.9 453.6L342.5 450L345 445.8L347.4 442.3L349.8 439.5L351.5 438.1L353.1 437.3L353.9 437.9L353.9 439.5L353.5 441.1L351.5 446L349 450.2L345.8 454.7L343.4 457.3L341.7 458.4L340.9 458.7ZM388.7 497.4L388 497L387.9 496.5L388.1 494.5L389.5 490.6L391.1 487.3L393.5 483.4L396.8 479.2L399.2 476.8L400.8 476L401.7 476.7L401.6 478.6L400.7 481.6L398.4 486.3L396 490.3L392.7 494.5L390.3 496.7L389.5 497.2Z"/>
<path fill="#eba518" fill-rule="evenodd" d="M250.3 544.7L253.4 544.7L255.9 539.9L258.4 535.6L261.6 530.6L264 527.3L267.3 523.5L269.7 521.1L272.1 519.5L273.8 519L274.6 519.1L275.1 519.6L275.6 521.2L275.5 523.7L274.8 526.9L273.5 531L271.5 535.8L269.6 539.9L266.9 544.7L429 544.7L429.2 542.3L430 539.1L431.6 534.5L433.4 530.2L435.6 525.7L438.1 521.4L440.5 517.5L443.7 512.8L443.7 351.3L440.6 351.3L438.1 356.1L435.6 360.4L432.4 365.4L430 368.7L426.7 372.5L424.3 374.9L421.9 376.5L420.2 377L419.4 376.9L418.9 376.4L418.4 374.8L418.5 372.3L419.2 369.1L420.5 365L422.5 360.2L424.4 356.1L427.1 351.3L265 351.3L264.8 353.7L264 356.9L262.4 361.5L260.6 365.8L258.4 370.3L255.9 374.6L253.5 378.5L250.3 383.2ZM287.5 431.5L286.7 431.4L285.9 430.6L285.7 429.8L285.6 427.4L286 424.9L286.9 421.7L288.4 417.6L290.5 412.8L293 407.9L298 399.8L301.3 395.3L303.7 392.4L306.1 389.9L308.6 388L310.2 387.2L311 387L311.8 387.2L312.6 388.2L312.8 390.1L312.6 392.6L311.8 395.8L309.4 402.4L305.3 410.6L300.5 418.6L295.6 425.1L293.2 427.7L290.7 429.9L289.1 431ZM334.5 470.1L333.6 469.2L333.4 467L333.6 464.6L334.4 461.4L335.8 457.3L337.5 453.3L341.7 445.2L346.6 437.4L349.8 433.1L352.3 430.3L354.7 428L356.3 426.7L357.9 425.9L358.7 425.8L359.5 425.9L360.4 426.8L360.6 429L360.4 431.4L359.6 434.6L358.2 438.7L356.5 442.7L352.3 450.8L347.4 458.6L344.2 462.9L341.7 465.7L339.3 468L337.7 469.3L336.1 470.1L335.3 470.2ZM382.2 508.8L381.4 507.8L381.2 505.9L381.4 503.4L382.2 500.2L383.6 496.2L385.3 492.1L389.4 484L394.3 476.2L397.6 471.9L400 469.1L402.4 466.7L404.1 465.5L405.7 464.7L406.5 464.5L407.3 464.6L408.1 465.4L408.3 466.2L408.4 467.8L408.1 470.3L407.3 473.5L405.9 477.5L404.2 481.6L400 489.7L395.2 497.4L391.9 501.7L389.5 504.5L387.1 506.8L385.4 508L383.8 508.8L383 509ZM435.8 544.7L443.7 544.7L443.7 535L439.7 540.5ZM250.3 360.2L250.3 361L254.3 355.5L258.2 351.3L250.3 351.3Z"/>
<path fill="#2b7021" fill-rule="evenodd" d="M250.3 544.7L254.1 536.6L257.8 529.3L262.4 521L267.3 512.9L269.7 509.4L272.1 506.5L274.6 504.5L276.2 504L277 504L278.6 504.6L279.4 505.2L280.2 506.2L280.8 507.5L281.1 509.1L281.2 511.5L281 514L279.5 521.2L277.3 528.5L274.1 536.6L270.5 544.7L320.5 544.7L322.3 543.3L323.9 542.8L324.7 542.8L326.4 543.3L327.9 544.7L425.3 544.7L428.2 535.8L431.9 526.9L437 516.4L443.7 504.1L443.7 351.3L439.9 359.4L436.2 366.7L431.6 375L426.7 383.1L424.3 386.6L421.9 389.5L419.4 391.5L417.8 392L417 392L415.4 391.4L414.6 390.8L413.8 389.8L413.2 388.5L412.9 386.9L412.8 384.5L413 382L414.5 374.8L416.7 367.5L419.9 359.4L423.5 351.3L373.5 351.3L371.7 352.7L370.1 353.2L369.3 353.2L367.6 352.7L366.1 351.3L268.7 351.3L265.8 360.2L262.1 369.1L257 379.6L250.3 391.9ZM283.5 446.3L281.8 445.3L281 444.3L280.3 442.7L280 440.3L280.1 437.1L280.9 432.2L282.4 426.6L284.6 420.1L287.2 413.6L291.2 404.7L295.6 396.3L300.8 386.9L305.3 379.7L308.6 375.3L311 373.1L311.8 372.6L313.4 372.1L315 372.3L316.6 373.3L317.5 374.4L318 375.6L318.4 378L318.3 381.6L317.5 386.2L315.8 392.3L313.9 398.2L311.3 404.7L308 412L303.1 421.7L297.7 431.4L293.2 438.7L289.9 443L287.5 445.4L285.9 446.2L285.1 446.4ZM331.2 485L329.6 484L328.8 483L328.2 481.6L327.8 479.2L328 475.2L328.8 470.8L330.5 464.6L332.4 458.9L334.9 452.5L339 443.5L343.4 435.1L348.6 425.7L353.1 418.5L356.3 414.2L358.7 411.9L360.4 411L361.2 410.8L362.8 411L364.4 412L365.2 413L365.8 414.4L366.2 416.8L366 420.8L365.2 425.2L363.5 431.4L361.6 437.1L359.1 443.5L355 452.5L350.6 460.9L345.4 470.3L340.9 477.5L337.7 481.8L335.3 484.1L333.6 485L332.8 485.2ZM379 523.7L377.4 522.7L376.5 521.6L376 520.4L375.6 518L375.7 514.4L376.5 509.8L378.2 503.7L380.1 497.8L382.7 491.3L386 484L390.9 474.3L396.3 464.6L400.8 457.3L404.1 453L406.5 450.6L408.1 449.8L408.9 449.6L410.5 449.7L412.2 450.7L413 451.7L413.7 453.3L414 455.7L413.9 458.9L413.1 463.8L411.6 469.4L409.4 475.9L406.8 482.4L402.8 491.3L398.4 499.7L393.2 509.1L388.7 516.3L385.4 520.7L383 522.9L382.2 523.4L380.6 523.9ZM442.8 544.7L443.7 544.7L443.7 543ZM250.3 352.9L251.2 351.3L250.3 351.3Z"/>
<path fill="#dcf2fc" fill-rule="evenodd" d="M275.7 544.7L305.1 544.7L359.6 351.3L330.2 351.3ZM334.4 544.7L363.8 544.7L418.3 351.3L388.9 351.3ZM393.1 544.7L422.5 544.7L443.3 471.1L443.7 469.5L443.7 365.3ZM250.3 530.2L250.3 530.7L300.9 351.3L271.5 351.3L271.3 351.9L250.3 426.5Z"/>
<path fill="#2a86c4" fill-rule="evenodd" d="M337.5 544.7L356.8 544.7L361.7 535L364.9 527.7L367.9 519.6L370.1 512.4L371.2 506.7L371.5 502.6L371.4 501L370.9 499L370.1 497.7L369.3 497L368.4 496.5L366.8 496.2L365.2 496.5L364.4 497L362.8 498.3L361.2 500L357.9 504.5L351.8 514.8L345.3 526.9L340.7 536.6ZM404.8 544.7L419.1 544.7L419.3 540.7L419.1 539.1L418.6 537.7L417.8 536.4L416.2 535.2L414.6 534.9L413 535.3L411.3 536.3L409.7 537.9L407.3 541ZM289.9 531.8L291.6 531.4L294 529.7L296.4 526.9L299.7 522.3L304.5 514.1L309.9 504.3L313.9 496.2L317.1 488.9L319.6 482.4L321.4 476.7L322.9 471.1L323.6 467L323.7 463.8L323.6 462.2L323.2 460.5L322.3 459L320.7 457.8L319.1 457.4L318.3 457.5L316.6 458.2L314.2 460.3L311 464.5L306.1 472.3L300.1 483.2L295.2 492.9L291.9 500.2L289.5 506.7L287.4 513.2L285.9 519.3L285.3 523.7L285.4 526.9L286.2 529.3L286.7 530.2L287.5 530.9L288.3 531.4ZM250.3 485.6L250.3 485.9L255.9 476.7L263.8 462.2L268.7 451.6L270.9 446L272.6 441.1L274.1 436.3L275.3 431.4L275.8 428.2L275.9 424.9L275.6 422.5L274.9 420.9L273.8 419.6L272.1 418.8L270.5 418.7L269.7 419L268.1 420L266.5 421.5L264 424.5L261.6 428.1L258.4 433.4L250.3 448.3ZM420.7 476.7L421.9 477.2L422.7 477.3L424.3 477L426.7 475.3L429.2 472.6L431.6 469.2L435.6 462.6L443.7 447.7L443.7 410.1L437.6 420.1L430.2 433.8L425.7 443.5L421.9 453.3L419.3 462.2L418.5 466.2L418.1 469.4L418.1 471.9L418.6 474.2L419.4 475.6ZM372.8 437.9L374.1 438.5L374.9 438.6L375.7 438.5L377.4 437.8L379.8 435.7L382.2 432.7L386.3 426.5L391.1 418L396.5 407.9L400.3 399.8L403.4 392.6L405.6 386.1L407.3 380.3L408.4 374.8L408.7 370.7L408.4 368.3L408.1 367.2L407.3 365.8L405.7 364.6L404.1 364.2L402.4 364.6L401.6 365L399.2 367.1L396.8 370.1L392.7 376.4L387.9 384.8L382.5 395L378.6 403.1L376.2 408.7L373.9 415.2L372.1 420.9L370.8 426.6L370.3 430.6L370.4 433.8L370.8 435.5L371.2 436.3L371.7 437ZM324.8 399L325.6 399.5L327.2 399.8L328.8 399.5L329.6 399L331.2 397.7L332.8 396L336.1 391.5L342.2 381.2L348.7 369.1L353.3 359.4L356.5 351.3L337.2 351.3L332.3 361L329.1 368.3L326.1 376.4L323.9 383.6L322.8 389.3L322.5 393.4L322.6 395L323.1 397L323.9 398.3ZM278.5 361L279.4 361.1L281 360.7L283.5 358.9L285.9 356.1L289.2 351.3L274.9 351.3L274.7 355.3L274.9 356.9L275.4 358.3L276.2 359.6L277 360.3Z"/>
<path fill="#a48cc8" fill-rule="evenodd" d="M340.4 544.7L352.1 544.7L355.5 539.7L358.7 534.2L361.2 529.3L363.6 523.7L365.2 518.8L365.8 515.6L365.9 513.2L365.7 512.3L365.2 511.5L364.4 511.1L363.6 511.2L362.8 511.4L361.2 512.4L357.9 515.3L353.9 520.1L349.8 525.9L345.9 532.6L342.6 539.1ZM291.5 516.4L292.4 516.8L294 516.5L296.4 515L298.8 512.7L301.3 510L303.7 506.9L306.6 502.6L309.1 498.6L313.4 490.5L315.2 486.4L316.7 482.4L317.6 479.2L318.1 475.9L318.1 474.3L317.9 473.5L317.3 472.7L316.6 472.4L315.8 472.4L314.2 473.1L312.6 474.2L310.2 476.5L307.7 479.2L305.3 482.3L302.5 486.4L299.7 491L295.6 498.6L293.8 502.6L292.3 506.7L291.4 509.9L290.9 513.2L290.9 514.8ZM250.3 474.3L250.3 474.7L252.7 472.1L257.6 465.8L261.9 458.9L265.7 451.6L268.4 445.2L270 439.5L270.3 437.1L270.3 435.5L269.7 434.1L269.3 433.8L268.9 433.6L268.1 433.7L266.5 434.3L264 436.1L261.6 438.5L259.2 441.4L255.9 445.8L253.2 450L250.3 455ZM424.7 462.2L425.1 462.4L425.9 462.3L427.5 461.7L430 459.9L432.4 457.5L434.8 454.6L438.1 450.2L440.8 446L443.7 441L443.7 421.3L439.7 425.8L435.6 431.4L431.6 438.1L428.3 444.4L425.6 450.8L424 456.5L423.7 458.9L423.7 460.5L424.3 461.9ZM376.7 423.3L377.4 423.6L378.2 423.6L379.8 422.9L381.4 421.8L383.8 419.5L386.3 416.8L388.7 413.7L391.5 409.6L394.3 405L398.4 397.4L400.2 393.4L401.7 389.3L402.6 386.1L403.1 382.8L403.1 381.2L402.4 379.6L401.6 379.2L400 379.5L397.6 381L395.2 383.3L392.7 386L390.3 389.1L387.1 393.9L384.6 397.8L380.6 405.5L378.8 409.6L377.3 413.6L376.4 416.8L375.9 420.1L375.9 421.7L376.1 422.5ZM328.7 384.5L329.6 384.9L330.4 384.8L331.2 384.6L332.8 383.6L336.1 380.7L340.1 375.9L344.2 370.1L348.1 363.4L351.4 356.9L353.6 351.3L341.9 351.3L338.5 356.3L335.7 361L332.8 366.6L330.7 371.5L328.8 377.2L328.2 380.4L328.1 382.8Z"/>
<path fill="#2a1a2e" fill-rule="evenodd" d="M345.7 543.9L346.6 544L347.4 543.6L349 542.3L351.5 539.6L354.7 535L357.1 530.6L358.7 526.9L359.2 524.5L359.2 523.7L358.7 522.7L357.9 522.7L357.1 523.2L354.7 525.3L352.3 528.3L349.8 531.9L347.4 536.3L345.9 539.9L345.4 542.3L345.4 543.1ZM297.9 505.1L298 505.2L298.8 505.2L299.7 504.8L301.3 503.5L303.7 500.8L306.9 496.2L309.4 491.7L310.9 488.1L311.4 485.6L311.4 484.8L311 484L310.2 484L309.4 484.4L306.9 486.5L304.5 489.4L302.1 493L299.7 497.4L298.2 501L297.6 503.4L297.6 504.3ZM250.3 466.2L250.3 466.5L251.1 466.4L251.9 466L253.5 464.7L255.9 462L259.2 457.3L261.6 452.9L263.1 449.2L263.6 446.8L263.6 446L263.2 445.3L262.4 445.2L261.6 445.6L260 446.9L257.6 449.6L254.3 454.2L251.9 458.6L250.4 462.2ZM430.4 450L430.8 450.7L431.6 450.8L433.2 449.8L435.6 447.4L438.9 443.1L441.5 438.7L443.6 433.8L443.7 429.5L442.9 429.6L442.1 430L440.5 431.3L438.1 434L435.6 437.4L433.2 441.5L431.6 444.9L430.7 447.6ZM383 412L383.8 412L384.6 411.6L386.3 410.3L388.7 407.6L391.9 403L394.3 398.6L395.8 395L396.4 392.6L396.4 391.7L396 390.8L395.2 390.8L394.3 391.2L391.9 393.3L389.5 396.3L387.1 399.8L384.6 404.3L383.1 407.9L382.6 410.4L382.6 411.2ZM335.1 373.1L335.3 373.3L336.1 373.3L336.9 372.8L338.5 371.5L340.9 368.8L344.2 364.1L346.6 359.7L348.1 356.1L348.6 353.7L348.6 352.9L348.2 352.1L347.4 352L346.6 352.4L345 353.7L342.5 356.4L339.3 361L336.9 365.4L335.3 369.1L334.8 371.5L334.8 372.3Z"/>
</g>
<rect x="250.4" y="351.6" width="193.1" height="192.9" fill="none" stroke="#444" stroke-width="0.9"/>
<path d="M272.6 544.5v-2.2M272.6 351.6v2.2M309.8 544.5v-2.2M309.8 351.6v2.2M347 544.5v-2.2M347 351.6v2.2M384.2 544.5v-2.2M384.2 351.6v2.2M421.4 544.5v-2.2M421.4 351.6v2.2M254 544.5v-1.2M254 351.6v1.2M263.3 544.5v-1.2M263.3 351.6v1.2M281.9 544.5v-1.2M281.9 351.6v1.2M291.2 544.5v-1.2M291.2 351.6v1.2M300.5 544.5v-1.2M300.5 351.6v1.2M319.1 544.5v-1.2M319.1 351.6v1.2M328.4 544.5v-1.2M328.4 351.6v1.2M337.7 544.5v-1.2M337.7 351.6v1.2M356.3 544.5v-1.2M356.3 351.6v1.2M365.6 544.5v-1.2M365.6 351.6v1.2M374.9 544.5v-1.2M374.9 351.6v1.2M393.5 544.5v-1.2M393.5 351.6v1.2M402.8 544.5v-1.2M402.8 351.6v1.2M412.1 544.5v-1.2M412.1 351.6v1.2M430.7 544.5v-1.2M430.7 351.6v1.2M440 544.5v-1.2M440 351.6v1.2M250.4 541h2.2M443.5 541h-2.2M250.4 510h2.2M443.5 510h-2.2M250.4 479h2.2M443.5 479h-2.2M250.4 448h2.2M443.5 448h-2.2M250.4 417h2.2M443.5 417h-2.2M250.4 386h2.2M443.5 386h-2.2M250.4 355h2.2M443.5 355h-2.2M250.4 534.8h1.2M443.5 534.8h-1.2M250.4 528.6h1.2M443.5 528.6h-1.2M250.4 522.4h1.2M443.5 522.4h-1.2M250.4 516.2h1.2M443.5 516.2h-1.2M250.4 503.8h1.2M443.5 503.8h-1.2M250.4 497.6h1.2M443.5 497.6h-1.2M250.4 491.4h1.2M443.5 491.4h-1.2M250.4 485.2h1.2M443.5 485.2h-1.2M250.4 472.8h1.2M443.5 472.8h-1.2M250.4 466.6h1.2M443.5 466.6h-1.2M250.4 460.4h1.2M443.5 460.4h-1.2M250.4 454.2h1.2M443.5 454.2h-1.2M250.4 441.8h1.2M443.5 441.8h-1.2M250.4 435.6h1.2M443.5 435.6h-1.2M250.4 429.4h1.2M443.5 429.4h-1.2M250.4 423.2h1.2M443.5 423.2h-1.2M250.4 410.8h1.2M443.5 410.8h-1.2M250.4 404.6h1.2M443.5 404.6h-1.2M250.4 398.4h1.2M443.5 398.4h-1.2M250.4 392.2h1.2M443.5 392.2h-1.2M250.4 379.8h1.2M443.5 379.8h-1.2M250.4 373.6h1.2M443.5 373.6h-1.2M250.4 367.4h1.2M443.5 367.4h-1.2M250.4 361.2h1.2M443.5 361.2h-1.2" stroke="#444" stroke-width="0.6" fill="none"/>
<text x="272.6" y="551.3" font-size="5.8" text-anchor="middle" fill="#111" >−4</text>
<text x="309.8" y="551.3" font-size="5.8" text-anchor="middle" fill="#111" >−2</text>
<text x="347" y="551.3" font-size="5.8" text-anchor="middle" fill="#111" >0</text>
<text x="384.2" y="551.3" font-size="5.8" text-anchor="middle" fill="#111" >2</text>
<text x="421.4" y="551.3" font-size="5.8" text-anchor="middle" fill="#111" >4</text>
<text x="248.2" y="543" font-size="5.8" text-anchor="end" fill="#111" >−3</text>
<text x="248.2" y="512" font-size="5.8" text-anchor="end" fill="#111" >−2</text>
<text x="248.2" y="481" font-size="5.8" text-anchor="end" fill="#111" >−1</text>
<text x="248.2" y="450" font-size="5.8" text-anchor="end" fill="#111" >0</text>
<text x="248.2" y="419" font-size="5.8" text-anchor="end" fill="#111" >1</text>
<text x="248.2" y="388" font-size="5.8" text-anchor="end" fill="#111" >2</text>
<text x="248.2" y="357" font-size="5.8" text-anchor="end" fill="#111" >3</text>
<text x="333.7" y="349.6" font-size="7.5" textLength="24.9" lengthAdjust="spacingAndGlyphs" fill="#2a2a2a">Figure(<tspan font-style="italic">h</tspan>)</text>
<g clip-path="url(#ci)">
<rect x="492" y="356" width="186" height="184" fill="#3e3131"/>
<path fill="#8d3423" fill-rule="evenodd" d="M488.3 543.7L621.5 543.7L623.4 540.4L626.7 535.7L631.5 529.8L634 527.4L636.4 525.5L638 524.6L639.6 524.2L640.4 524.6L640.9 526.1L640.5 528.5L639.7 530.9L638.3 534.1L636.6 537.3L632.4 543.7L681.7 543.7L681.7 360.1L680.9 360.2L680.1 359.8L679.7 358.7L679.6 357.9L680.1 355.5L681.3 352.3L488.3 352.3ZM538.5 498.1L538.1 497.2L538 495.6L538.4 494L539.2 491.6L541.7 486.4L545.7 479.9L549.8 474.7L552.2 472L554.6 469.6L557.9 467.3L559.5 466.7L560.4 466.8L561.1 467.6L561.2 468.4L561.1 470L560.3 472.7L557.9 478L553.8 484.6L549 490.9L546.6 493.6L544.1 495.9L542.5 497.1L540.9 498.1L539.3 498.4Z"/>
<path fill="#a1655a" fill-rule="evenodd" d="M488.3 543.7L615.7 543.7L619.5 537.3L624.3 530.2L629.1 523.7L634 518L638.8 513.1L642.9 509.7L645.3 508.2L646.9 507.5L648.5 507.1L649.3 507.1L650.2 507.3L651 507.8L651.8 509.2L651.9 510.1L651.9 513.3L650.9 518.1L648.9 523.7L646.1 530.1L642.8 536.5L638.5 543.7L681.7 543.7L681.7 371.3L678.5 374L676.1 375.6L673.6 376.8L672 377.3L670.4 377.1L669.6 376.6L668.8 375.2L668.5 373.1L668.9 369.1L670.2 364.3L672.4 358.7L675.4 352.3L488.3 352.3L488.3 392.3L489.9 392.1L490.7 392.2L491.5 392.7L492.3 394L492.7 396.4L492.4 399.6L491.6 402.8L490 407.6L488.3 411.8ZM527.9 514.9L527 513.3L526.8 511.7L526.9 510.1L527.8 505.2L529.3 500.4L531.7 494.8L534.4 489.2L537.7 483.4L541.7 476.9L545.7 471.1L550.6 464.8L554.6 460.1L558.7 456L562.7 452.6L566 450.5L568.4 449.7L570 449.6L570.8 449.9L571.6 450.7L572 451.6L572.3 453.2L572.3 454.8L571.7 458.8L570.2 463.6L567.6 470L564.9 475.6L561.3 482L557.3 488.4L553 494.6L549 499.9L544.1 505.5L540.1 509.5L536 512.9L532.8 514.8L531.2 515.4L529.6 515.6L528.7 515.4Z"/>
<path fill="#dc9e45" fill-rule="evenodd" d="M488.3 543.7L610.6 543.7L616.5 532.5L623 521.3L630.7 508.8L638 498.1L642.9 491.9L646.9 487.9L648.5 486.6L650.2 485.7L651.8 485.1L653.4 484.9L655.8 485.3L657.4 486.1L659.1 487.4L660.2 489.2L661 491.6L661.3 494L661.3 497.2L660.9 500.4L659.9 505.2L658.8 509.3L657 514.9L655 520.5L649.9 532.5L644.2 543.7L681.7 543.7L681.7 387.3L677.7 392.4L674.4 395.8L671.2 398.2L669.6 399L668 399.4L666.3 399.4L664.7 399.1L663.1 398.3L661.5 397L660.7 395.9L659.9 394.2L659.2 390.8L659.2 387.5L659.7 383.5L660.7 379L661.8 374.7L663.6 369.1L665.7 363.5L670.4 352.3L488.3 352.3L488.3 372.3L490.7 370.8L493.1 370L495.6 370.1L498 371L499.6 372.4L500.4 373.4L501.1 374.7L501.8 377.1L502 380.3L501.7 384.3L500.9 388.4L499.8 393.2L498 398.8L496.1 404.4L493.5 410.8L488.3 422.1ZM523.1 537.4L521.5 536.6L519.8 535.3L519 534.2L518.2 532.5L517.8 530.9L517.5 528.5L517.5 526.1L517.9 522.9L519.6 514.9L522.4 506L526.2 496.4L531 486L537.3 474L545.4 460.4L553.8 447.1L561.1 436.9L563.6 434L566 431.5L568.4 429.5L570 428.4L571.6 427.8L574.1 427.4L575.7 427.7L577.3 428.3L578.9 429.5L579.7 430.4L580.5 431.7L581.3 434L581.7 438L581.1 443.6L579.2 451.6L576.3 460.4L572.8 469.2L567.9 479.6L561.5 491.6L553.8 504.7L544.9 518.6L538.5 527.7L534.4 532.4L532 534.7L530.4 536L528.7 536.9L526.3 537.7L524.7 537.7Z"/>
<path fill="#f6ca89" fill-rule="evenodd" d="M488.3 543.7L505.8 543.7L566.4 352.3L517.4 352.3L488.3 444.3ZM554.7 543.7L603.6 543.7L664.2 352.3L615.3 352.3ZM652.6 543.7L681.7 543.7L681.7 451.7Z"/>
<path fill="#6f9373" fill-rule="evenodd" d="M488.3 543.7L499.6 543.7L502.7 536.5L505.5 529.3L507.7 522.9L509.5 516.5L510.4 511.7L510.8 506.8L510.7 504.4L510.4 502.8L509.3 500.1L507.7 498.3L505.3 496.9L503.7 496.6L502 496.6L500.4 497L498 498.3L496.4 499.5L493.9 501.8L491.5 504.6L488.3 508.7ZM675.5 526.1L676.9 526L678.5 525.6L680.1 524.8L681.7 523.7L681.7 473.9L676.5 485.2L672.8 494.8L671.2 499.6L669.6 505.2L668.2 512.5L668 515.7L668.1 518.1L668.6 520.5L669.3 522.1L670.4 523.6L672 525L673.6 525.7ZM594.6 468.4L596.7 468.6L598.4 468.2L600 467.6L601.6 466.5L603.2 465.3L605.6 462.9L610.5 457L617.8 446.4L626.1 433.2L633.5 420.4L639.8 408.4L644.2 398.8L647.6 390L650.2 381.9L652 373.9L652.5 368.3L652.3 365.9L652 364.3L651 361.9L650.2 360.7L649.3 360L647.7 358.9L646.1 358.4L644.5 358.3L642.9 358.5L640.4 359.5L638.8 360.6L636.4 362.7L634 365.3L631.5 368.3L624.3 378.6L615.4 392.6L607.6 406L601.3 418L596.5 428.4L592.9 438L590.2 446.8L588.6 454.2L588.4 457.2L588.4 460.4L588.7 462L589.5 464.3L590.3 465.6L591.9 467.2L593.5 468.1ZM514.4 410.8L515.8 411.1L517.4 411L519 410.6L521.5 409.4L523.1 408.1L525.5 405.9L530.4 400.1L537.7 389.6L545.7 376.8L553.5 363.5L559.4 352.3L525.8 352.3L520.1 363.5L515.3 374.7L511.7 385.1L509.4 394L508.9 397.2L508.7 400.4L508.8 403.6L509.3 405.7L510.1 407.5L510.9 408.6L512.6 409.9Z"/>
<path fill="#2f6b39" fill-rule="evenodd" d="M488.3 543.7L494.6 543.7L496.6 539.7L499.8 531.7L500.7 528.5L501.4 525.3L501.5 522.9L501.2 520.8L500.4 519.4L499.6 518.9L498.8 518.7L497.2 518.9L494.8 519.9L491.5 522L488.3 524.7ZM679.1 503.6L680.1 503.9L681.7 503.7L681.7 484.2L679.1 490.8L678.2 494L677.5 497.2L677.3 499.6L677.5 501.2L678.1 502.8ZM599.1 446L600 446.4L600.8 446.4L602.4 446.1L604 445.5L607.3 443.4L611.3 440L615.4 435.9L619.4 431.2L624.3 424.9L628.3 419.1L632.3 412.6L635.6 406.8L638.3 401.2L640.7 395.6L642.2 390.8L643.1 385.9L643.2 384.3L643 382.7L642.1 381.1L641.3 380.6L640.4 380.4L639.6 380.5L638 380.9L634.8 382.6L630.7 385.7L626.7 389.7L621.8 395.1L617 401.4L612.9 407.2L608.9 413.6L605.5 419.6L602.4 426L600 431.8L598.3 437.2L597.7 441.2L597.7 442.8L598 444.4L598.4 445.3ZM519.2 388.4L519.8 388.7L521.5 388.9L523.1 388.5L524.7 387.8L528.7 385L533.6 380.6L538.5 375.3L544.1 368L549.4 360.3L554.3 352.3L531.5 352.3L527.9 358.3L524.7 364.3L522.1 369.9L519.9 375.5L518.5 380.3L518 383.5L518 385.1L518.2 386.7L518.6 387.5Z"/>
<path fill="#5b97c6" fill-rule="evenodd" d="M488.3 543.7L488.7 543.7L489.1 542.9L489.9 540.5L490.4 538.1L490.1 536.5L489.9 536.2L489.1 535.8L488.3 535.9ZM609.6 429.2L610.5 429.3L612.1 428.7L615.4 426.4L617.8 424L620.2 421.3L624.3 416.1L628.3 409.6L630.8 404.4L631.6 402L632 400.4L631.9 398.8L631.5 397.9L630.7 397.6L629.1 397.9L627.5 398.9L625.9 400.1L623.4 402.4L621 405.1L616.2 411.4L612.1 418L609.7 423.3L608.9 426L608.8 427.6L608.9 428.4ZM529.7 371.5L530.4 371.8L531.2 371.7L532.8 371L535.2 369.3L537.7 367L540.1 364.4L543.3 360.3L546.6 355.6L548.5 352.3L537.6 352.3L533.4 358.7L530.4 364.9L529.5 367.5L529.2 369.1L529.2 370.7Z"/>
<path fill="none" stroke="#5a4a3a" stroke-width="0.35" d="M621.5 543.7L623.4 540.4L626.7 535.7L631.5 529.8L634 527.4L636.4 525.5L638 524.6L639.6 524.2L640.4 524.6L640.9 526.1L640.5 528.5L639.7 530.9L638.3 534.1L636.6 537.3L632.4 543.7M538.5 498.1L538.1 497.2L538 495.6L538.4 494L539.2 491.6L541.7 486.4L545.7 479.9L549.8 474.7L552.2 472L554.6 469.6L557.9 467.3L559.5 466.7L560.4 466.8L561.1 467.6L561.2 468.4L561.1 470L560.3 472.7L557.9 478L553.8 484.6L549 490.9L546.6 493.6L544.1 495.9L542.5 497.1L540.9 498.1L539.3 498.4L538.5 498.1M681.7 360.1L680.9 360.2L680.1 359.8L679.7 358.7L679.7 357.1L680.1 355.5L681.3 352.3"/>
<path fill="none" stroke="#5a4a3a" stroke-width="0.35" d="M615.7 543.7L620.2 536.2L625.1 529.1L630.7 521.7L635.6 516.2L640.4 511.6L644.5 508.7L646.1 507.8L647.7 507.2L649.3 507.1L650.2 507.3L651 507.8L651.4 508.5L651.8 509.3L652 510.9L651.7 514.9L650.4 519.7L648.3 525.3L645.3 531.7L642.1 537.7L638.5 543.7M527.9 514.9L527 513.3L526.8 511.7L526.9 510.1L527.8 505.2L529.3 500.4L531.7 494.8L534.4 489.2L537.7 483.4L541.7 476.9L545.7 471.1L550.6 464.8L554.6 460.1L558.7 456L562.7 452.6L566 450.5L568.4 449.7L570 449.6L570.8 449.9L571.6 450.7L572 451.6L572.3 453.2L572.3 454.8L571.7 458.8L570.2 463.6L567.6 470L564.9 475.6L561.3 482L557.3 488.4L553 494.6L549 499.9L544.1 505.5L540.1 509.5L536 512.9L532.8 514.8L531.2 515.4L529.6 515.6L528.7 515.4L527.9 514.9M488.3 392.3L489.9 392.1L490.7 392.2L491.5 392.7L492.3 394L492.7 396.4L492.4 399.6L491.6 402.8L490 407.6L488.3 411.8M681.7 371.3L679.3 373.3L676.9 375.1L674.4 376.5L672.8 377.1L671.2 377.3L670.4 377.1L669.6 376.6L668.8 375.2L668.5 373.9L668.6 371.5L669.6 366.5L672 359.6L675.4 352.3"/>
<path fill="none" stroke="#5a4a3a" stroke-width="0.35" d="M610.6 543.7L616.5 532.5L624.3 519.2L632.3 506.4L639.6 495.9L644.5 490.1L646.9 487.9L648.5 486.6L650.2 485.7L651.8 485.1L653.4 484.9L655 485.1L656.6 485.6L658.2 486.6L659.9 488.5L660.7 490.3L661.2 492.4L661.3 494.8L661.2 498L660.7 501.2L659.9 505.3L658.3 510.9L654.7 521.3L649.9 532.5L644.2 543.7M523.1 537.4L521.5 536.6L519.8 535.3L519 534.2L518.2 532.5L517.8 530.9L517.5 528.5L517.5 526.1L517.9 522.9L519.6 514.9L522.4 506L526.2 496.4L531 486L537.3 474L545.4 460.4L553.8 447.1L561.1 436.9L563.6 434L566 431.5L568.4 429.5L570 428.4L571.6 427.8L574.1 427.4L575.7 427.7L577.3 428.3L578.9 429.5L579.7 430.4L580.5 431.7L581.3 434L581.7 438L581.1 443.6L579.2 451.6L576.3 460.4L572.8 469.2L567.9 479.6L561.5 491.6L553.8 504.7L544.9 518.6L538.5 527.7L534.4 532.4L532 534.7L530.4 536L528.7 536.9L526.3 537.7L524.7 537.7L523.1 537.4M681.7 387.3L677.7 392.4L674.4 395.8L671.2 398.2L668.8 399.2L667.2 399.4L665.5 399.3L663.1 398.3L661.5 397L660.7 395.9L659.9 394.2L659.2 390.8L659.2 387.5L659.7 383.5L660.7 378.7L662.3 373.1L664.7 365.9L667.6 358.7L670.4 352.3M488.3 372.3L490.7 370.8L493.1 370L495.6 370.1L498 371L499.6 372.4L500.4 373.4L501.1 374.7L501.8 377.1L502 380.3L501.7 384.3L500.9 388.4L499.8 393.2L498 398.8L496.1 404.4L493.5 410.8L488.3 422.1"/>
<path fill="none" stroke="#5a4a3a" stroke-width="0.35" d="M505.8 543.7L566.4 352.3M603.6 543.7L664.2 352.3M681.7 451.7L652.6 543.7M517.4 352.3L488.3 444.3M615.3 352.3L554.7 543.7"/>
<path fill="none" stroke="#5a4a3a" stroke-width="0.35" d="M499.6 543.7L502.4 537.3L505.3 530.1L507.7 522.9L509.3 517.3L510.3 512.5L510.8 508.5L510.8 505.2L510.1 501.8L509.3 500.1L508.5 499L506.9 497.7L504.5 496.7L502.8 496.6L501.2 496.8L498.8 497.8L495.6 500.2L492.3 503.6L488.3 508.7M681.7 473.9L676.5 485.2L673.9 491.6L672 497.2L670.2 502.8L669.1 507.6L668.3 511.7L668 515.7L668.2 518.9L668.9 521.3L669.6 522.6L670.4 523.6L672 525L674.4 525.9L676.9 526L679.3 525.2L681.7 523.7M594.6 468.4L596.7 468.6L598.4 468.2L600 467.6L601.6 466.5L603.2 465.3L605.6 462.9L610.5 457L617.8 446.4L626.1 433.2L633.5 420.4L639.8 408.4L644.2 398.8L647.6 390L650.2 381.9L652 373.9L652.5 368.3L652.3 365.9L652 364.3L651 361.9L650.2 360.7L649.3 360L647.7 358.9L646.1 358.4L644.5 358.3L642.9 358.5L640.4 359.5L638.8 360.6L636.4 362.7L634 365.3L631.5 368.3L624.3 378.6L615.4 392.6L607.6 406L601.3 418L596.5 428.4L592.9 438L590.2 446.8L588.6 454.2L588.4 457.2L588.4 460.4L588.7 462L589.5 464.3L590.3 465.6L591.9 467.2L593.5 468.1L594.6 468.4M525.8 352.3L520.1 363.5L515.3 374.7L511.7 385.1L510.1 390.7L509.3 394.8L508.8 398L508.7 401.2L508.8 403.6L509.3 405.7L510.1 407.5L511.8 409.4L513.4 410.4L515 410.9L516.6 411.1L518.2 410.9L519.8 410.3L521.5 409.4L523.1 408.1L525.5 405.9L530.4 400.1L537.7 389.6L545.7 376.8L553.5 363.5L559.4 352.3"/>
<path fill="none" stroke="#5a4a3a" stroke-width="0.35" d="M494.6 543.7L498 536.4L500.4 529.5L501.4 524.5L501.5 522.1L501.2 520.8L500.4 519.4L499.6 518.9L498.8 518.7L497.2 518.9L495.6 519.5L493.1 520.9L490.7 522.7L488.3 524.7M681.7 484.2L680 488.4L678.4 493.2L677.6 496.4L677.3 499.6L677.7 502L678.5 503.3L679.3 503.8L680.1 503.9L681.7 503.7M599.1 446L600 446.4L600.8 446.4L602.4 446.1L604 445.5L607.3 443.4L611.3 440L615.4 435.9L619.4 431.2L624.3 424.9L628.3 419.1L632.3 412.6L635.6 406.8L638.3 401.2L640.7 395.6L642.2 390.8L643.1 385.9L643.2 384.3L643 382.7L642.1 381.1L641.3 380.6L640.4 380.4L639.6 380.5L638 380.9L634.8 382.6L630.7 385.7L626.7 389.7L621.8 395.1L617 401.4L612.9 407.2L608.9 413.6L605.5 419.6L602.4 426L600 431.8L598.3 437.2L597.7 441.2L597.7 442.8L598 444.4L598.4 445.3L599.1 446M531.5 352.3L527.9 358.3L524.7 364.3L521.7 370.7L519.6 376.3L518.3 381.1L518 385.1L518.2 386.7L518.6 387.5L519 388.2L519.8 388.7L520.7 388.9L522.3 388.8L523.9 388.2L525.5 387.3L529.6 384.4L534.4 379.8L539.3 374.3L544.9 366.9L549.8 359.8L554.3 352.3"/>
<path fill="none" stroke="#5a4a3a" stroke-width="0.35" d="M488.7 543.7L489.9 540.5L490.3 538.9L490.3 537.3L489.9 536.2L489.1 535.8L488.3 535.9M609.6 429.2L610.5 429.3L612.1 428.7L615.4 426.4L617.8 424L620.2 421.3L624.3 416.1L628.3 409.6L630.8 404.4L631.6 402L632 400.4L631.9 398.8L631.5 397.9L630.7 397.6L629.1 397.9L627.5 398.9L625.9 400.1L623.4 402.4L621 405.1L616.2 411.4L612.1 418L609.7 423.3L608.9 426L608.8 427.6L608.9 428.4L609.6 429.2M537.6 352.3L533.4 358.7L531.7 361.9L530.3 365.1L529.5 367.5L529.1 369.9L529.6 371.4L530.4 371.8L532 371.4L533.6 370.5L536 368.6L538.5 366.2L543.3 360.3L546.6 355.6L548.5 352.3"/>
</g>
<rect x="488.4" y="351.6" width="193.4" height="192.9" fill="none" stroke="#444" stroke-width="0.9"/>
<path d="M492 544.5v-2.2M492 351.6v2.2M523 544.5v-2.2M523 351.6v2.2M554 544.5v-2.2M554 351.6v2.2M585 544.5v-2.2M585 351.6v2.2M616 544.5v-2.2M616 351.6v2.2M647 544.5v-2.2M647 351.6v2.2M678 544.5v-2.2M678 351.6v2.2M498.2 544.5v-1.2M498.2 351.6v1.2M504.4 544.5v-1.2M504.4 351.6v1.2M510.6 544.5v-1.2M510.6 351.6v1.2M516.8 544.5v-1.2M516.8 351.6v1.2M529.2 544.5v-1.2M529.2 351.6v1.2M535.4 544.5v-1.2M535.4 351.6v1.2M541.6 544.5v-1.2M541.6 351.6v1.2M547.8 544.5v-1.2M547.8 351.6v1.2M560.2 544.5v-1.2M560.2 351.6v1.2M566.4 544.5v-1.2M566.4 351.6v1.2M572.6 544.5v-1.2M572.6 351.6v1.2M578.8 544.5v-1.2M578.8 351.6v1.2M591.2 544.5v-1.2M591.2 351.6v1.2M597.4 544.5v-1.2M597.4 351.6v1.2M603.6 544.5v-1.2M603.6 351.6v1.2M609.8 544.5v-1.2M609.8 351.6v1.2M622.2 544.5v-1.2M622.2 351.6v1.2M628.4 544.5v-1.2M628.4 351.6v1.2M634.6 544.5v-1.2M634.6 351.6v1.2M640.8 544.5v-1.2M640.8 351.6v1.2M653.2 544.5v-1.2M653.2 351.6v1.2M659.4 544.5v-1.2M659.4 351.6v1.2M665.6 544.5v-1.2M665.6 351.6v1.2M671.8 544.5v-1.2M671.8 351.6v1.2M488.4 540h2.2M681.8 540h-2.2M488.4 494h2.2M681.8 494h-2.2M488.4 448h2.2M681.8 448h-2.2M488.4 402h2.2M681.8 402h-2.2M488.4 356h2.2M681.8 356h-2.2M488.4 530.8h1.2M681.8 530.8h-1.2M488.4 521.6h1.2M681.8 521.6h-1.2M488.4 512.4h1.2M681.8 512.4h-1.2M488.4 503.2h1.2M681.8 503.2h-1.2M488.4 484.8h1.2M681.8 484.8h-1.2M488.4 475.6h1.2M681.8 475.6h-1.2M488.4 466.4h1.2M681.8 466.4h-1.2M488.4 457.2h1.2M681.8 457.2h-1.2M488.4 438.8h1.2M681.8 438.8h-1.2M488.4 429.6h1.2M681.8 429.6h-1.2M488.4 420.4h1.2M681.8 420.4h-1.2M488.4 411.2h1.2M681.8 411.2h-1.2M488.4 392.8h1.2M681.8 392.8h-1.2M488.4 383.6h1.2M681.8 383.6h-1.2M488.4 374.4h1.2M681.8 374.4h-1.2M488.4 365.2h1.2M681.8 365.2h-1.2" stroke="#444" stroke-width="0.6" fill="none"/>
<text x="492" y="551.3" font-size="5.8" text-anchor="middle" fill="#111" >−3</text>
<text x="523" y="551.3" font-size="5.8" text-anchor="middle" fill="#111" >−2</text>
<text x="554" y="551.3" font-size="5.8" text-anchor="middle" fill="#111" >−1</text>
<text x="585" y="551.3" font-size="5.8" text-anchor="middle" fill="#111" >0</text>
<text x="616" y="551.3" font-size="5.8" text-anchor="middle" fill="#111" >1</text>
<text x="647" y="551.3" font-size="5.8" text-anchor="middle" fill="#111" >2</text>
<text x="678" y="551.3" font-size="5.8" text-anchor="middle" fill="#111" >3</text>
<text x="486.2" y="542" font-size="5.8" text-anchor="end" fill="#111" >−2</text>
<text x="486.2" y="496" font-size="5.8" text-anchor="end" fill="#111" >−1</text>
<text x="486.2" y="450" font-size="5.8" text-anchor="end" fill="#111" >0</text>
<text x="486.2" y="404" font-size="5.8" text-anchor="end" fill="#111" >1</text>
<text x="486.2" y="358" font-size="5.8" text-anchor="end" fill="#111" >2</text>
<text x="572" y="349.2" font-size="7.5" textLength="24.1" lengthAdjust="spacingAndGlyphs" fill="#2a2a2a">Figure(<tspan font-style="italic">i</tspan>)</text>
<path d="M5 330.6l1.4 1.3 0.6 0.4 0.4 0.1 4.7 0 1-0.7 1-1 1.3-1.6 1-1.4 2-3.8 1.7-4.6 1.4-5.5" stroke="#e6788e" stroke-width="0.85" fill="none" stroke-dasharray="7.5 8"/>
<path d="M21.5 313.8l1-5.9 0.7-5 1.3-13.1 1.4-17.3 2.7-40.5 1-12.5 1-8.2 0.4-1.5 0.3-0.9 0.4-0.2 0.3 0.4 0.3 1.1 0.4 1.8 0.7 5.3 1 11.7 1.4 19.7" stroke="#f3abbb" stroke-width="0.85" fill="none" stroke-dasharray="7.5 8"/>
<path d="M35.8 248.7l1.9 29.4 1.7 19.1 0.7 5.9 1 7 1 5.2 1.3 5 1.3 3.5 2 3.8 1 1.4 1.4 1.6 1 1 1 0.7 4.9 0.1 1-0.7 1-0.9 1.4-1.6 1-1.4" stroke="#a69df4" stroke-width="0.85" fill="none" stroke-dasharray="7.5 8"/>
<path d="M60.4 327.8l1.4-2.4 1.4-3.2 1-3.1 1.1-4.1 1-5.7 0.7-4.8 1-9.3 0.7-7.6" stroke="#c9c0f9" stroke-width="0.85" fill="none" stroke-dasharray="7.5 8"/>
<path d="M68.7 287.6l1.1-12.9 2.6-40 1.1-13 1-9.1 0.6-3.2 0.4-0.7 0.3 0 0.3 0.7 0.4 1.3 0.7 4.4 0.6 6.6 1 13 2.7 40 1 12.9" stroke="#6fc6ef" stroke-width="0.85" fill="none" stroke-dasharray="7.5 8"/>
<path d="M82.5 287.6l1.4 13.6 0.7 5.3 1 6.2 1 4.6 1 3.4 1 2.7 1.3 2.7 1.4 2.2 1.3 1.8 1.4 1.4 1.3 0.9 4.7 0 0.3-0.1 1-0.8 1-1 1.4-1.7 1-1.5" stroke="#b3e5f9" stroke-width="0.85" fill="none" stroke-dasharray="7.5 8"/>
<path d="M104.7 327.3l1-1.7 1-2.2 1-2.6 0.7-2.2 1.3-5.8 1.4-8.7 1-9 1.3-15.6 3.1-44.5 1-13 0.6-6.6 0.7-4.6 0.3-1.3 0.4-0.7 0.3-0.1 0.3 0.6 0.7 3.1 1 9 1 12.8 2.7 40 1.4 16.8" stroke="#83e277" stroke-width="0.85" fill="none" stroke-dasharray="7.5 8"/>
<path d="M126.9 291l1 9.9 1 7.7 1 5.7 1 4.2 1.4 4.1 1.3 3 2.1 3.3 2 2.3" stroke="#c0ecaa" stroke-width="0.85" fill="none" stroke-dasharray="7.5 8"/>
<path d="M137.7 331.2l1 0.9 0.7 0.3 4.8-0.1 1-0.7 1.4-1.4 1.4-1.7 1-1.7" stroke="#f8ec7d" stroke-width="0.85" fill="none" stroke-dasharray="7.5 8"/>
<path d="M149 326.8l1-1.8 1.1-2.3 1-2.9 0.7-2.4 1.3-6.5 1-7 1-9.1 1.1-11.5 3.4-49.3 1-12.9 1-8.9 0.7-3 0.3-0.5 0.3 0.1 0.4 0.8 0.3 1.5 0.7 4.8 0.7 6.9 1 13.3 2.7 40.3" stroke="#f9f4b0" stroke-width="0.85" fill="none" stroke-dasharray="7.5 8"/>
<path d="M169.7 276.4l1.7 19.6 0.6 6.1 1 7.2 0.7 3.8 1 4.5 1 3.3 1.3 3.4 1.4 2.5 1.6 2.5 1.7 1.9 1 0.8 0.7 0.4 4.6 0 0.4-0.1 1.3-1.1 1.3-1.4 1.4-1.8 1-1.7" stroke="#f5b477" stroke-width="0.85" fill="none" stroke-dasharray="7.5 8"/>
<path d="M193.4 326.3l1-2 1-2.5 1.4-4.5 1.4-6.7 1-7.1 1-9.4 1.1-11.9 3.1-45.3" stroke="#f8c59c" stroke-width="0.85" fill="none" stroke-dasharray="7.5 8"/>
<path d="M5 236.9l2.4 35.2 1.3 17.2 1.4 13.1 1.3 9.2 0.7 3.4 1 4 1 3.1 1 2.4 1.3 2.5 1.7 2.5 2 2.1 1 0.7 0.4 0.1" stroke="#e6788e" stroke-width="0.85" fill="none" stroke-dasharray="7.5 8"/>
<path d="M21.5 332.4l4.7-0.1 1.7-1.3 1.7-2 2.1-3.3 1.7-3.8 1.3-4.4 1.1-4.7" stroke="#f3abbb" stroke-width="0.85" fill="none" stroke-dasharray="7.5 8"/>
<path d="M35.8 312.8l0.9-6.1 0.7-5.1 1.3-13.3 1.4-17.3 2.6-39.6 1-12.1 1-8 0.4-1.5 0.3-0.9 0.3-0.2 0.4 0.4 0.6 2.6 1 8.3 1 12.4 3.4 48.6 1 11.8 1 9.4 1.3 9.2 1.3 6.2 0.7 2.4 1 2.8 1 2.2 1 1.8" stroke="#a69df4" stroke-width="0.85" fill="none" stroke-dasharray="7.5 8"/>
<path d="M60.4 326.8l2.1 3.1 1.4 1.4 1 0.9 0.4 0.2 3.4 0" stroke="#c9c0f9" stroke-width="0.85" fill="none" stroke-dasharray="7.5 8"/>
<path d="M68.7 332.4l1.4 0 0.3-0.2 1.4-1.1 1.7-1.9 1.3-1.9 1-1.8 1-2.2 1-2.7 1.4-4.9 1.3-7.2 1-7.6 1-9.9" stroke="#6fc6ef" stroke-width="0.85" fill="none" stroke-dasharray="7.5 8"/>
<path d="M82.5 291l1.4-16.8 2.7-40 1-12.8 1-9 0.7-3.1 0.3-0.6 0.3 0.1 0.4 0.7 0.3 1.3 0.7 4.6 0.6 6.6 1 13 3.1 44.5 1.3 15.6 1 9 1.4 8.7 1.3 5.8 0.7 2.2 1 2.6 1 2.2 1 1.7" stroke="#b3e5f9" stroke-width="0.85" fill="none" stroke-dasharray="7.5 8"/>
<path d="M104.7 327.3l1 1.5 1.4 1.7 1 1 1 0.8 0.3 0.1 4.7 0 1.3-0.9 1.4-1.4 1.3-1.8 1.4-2.2 1.3-2.7 1-2.7 1-3.4 1-4.6 1-6.2 0.7-5.3 1.4-13.6" stroke="#83e277" stroke-width="0.85" fill="none" stroke-dasharray="7.5 8"/>
<path d="M126.9 287.6l1.3-17.8 2.4-35.5 1-12.9 1-9 0.7-3.1 0.3-0.6 0.4 0.1 0.3 0.8 0.4 1.4 0.6 4.6 1 10.9 1.4 19.2" stroke="#c0ecaa" stroke-width="0.85" fill="none" stroke-dasharray="7.5 8"/>
<path d="M137.7 245.7l1.7 25.8 1 13.6 1.1 11.3 1 8.9 1.4 8.4 1.3 5.6 0.7 2.1 1.1 2.6 1 2.1 1 1.7" stroke="#f8ec7d" stroke-width="0.85" fill="none" stroke-dasharray="7.5 8"/>
<path d="M149 327.8l1 1.4 1.4 1.6 1 1 1 0.6 4.8 0 1.7-1.3 1.7-1.9 1.7-2.6 1.3-2.7 1-2.6 1.1-3.2 1-4.4 0.7-3.8 1.3-10.1" stroke="#f9f4b0" stroke-width="0.85" fill="none" stroke-dasharray="7.5 8"/>
<path d="M169.7 299.8l1-10.1 1-12.4 3-44.2 1-12.5 1-8.6 0.7-2.8 0.3-0.5 0.3 0.1 0.4 0.8 0.3 1.5 0.7 4.6 0.6 6.7 1 13 3 44.1 1.4 15.5 1 8.9 1.3 8.7 1.3 5.8 1 3.2 1 2.5 1 2 1.4 2.1" stroke="#f5b477" stroke-width="0.85" fill="none" stroke-dasharray="7.5 8"/>
<path d="M193.4 328.2l2 2.6 1.1 1 1 0.6 4.8 0 1-0.8 1.1-1" stroke="#f8c59c" stroke-width="0.85" fill="none" stroke-dasharray="7.5 8"/>
<path d="M5 319.8l1-3.8 1-5.1 1.1-6.8 0.7-6.6 1.8-20.5 2.8-41.2 1-13.2 0.7-7.6 0.5-3.5 0.6-2.1 0.2-0.6 0.3-0.1 0.2 0.2 0.3 0.6 0.5 2.2 1 8.5 1 12.5 1.8 26.5" stroke="#d82c4e" stroke-width="1.55" fill="none" stroke-linejoin="round"/>
<path d="M21.5 259.2l1.2 18.4 1.3 15.4 1.3 11.6 1.3 8.1 0.7 3.6 0.8 2.9 1 3 1 2.4 1.3 2.4 1.5 2.3 1.6 1.7 1.3 1.1" stroke="#ec7c94" stroke-width="1.55" fill="none" stroke-linejoin="round"/>
<path d="M35.8 332.1l0.4 0.3 4.8 0 0.5-0.2 1-0.8 1.7-1.9 1.3-1.8 0.9-1.7 1.8-3.7 1.2-3.8 1.3-5.4 1.5-9.7 1.2-11.7 1.5-18.6 2.5-37.2 1-13 1-9.5 0.5-2.9 0.5-1.6" stroke="#7466ee" stroke-width="1.55" fill="none" stroke-linejoin="round"/>
<path d="M60.4 208.9l0.2-0.2 0.3 0.1 0.5 1.4 0.5 2.8 0.8 6.6 1.2 16 3.1 44.7 1 12 0.7 7.5" stroke="#aa9cf6" stroke-width="1.55" fill="none" stroke-linejoin="round"/>
<path d="M68.7 299.8l1.1 7.8 1 5.9 1.2 5.3 1.5 4.4 1 2.1 1.3 2.2 1.2 1.8 1.3 1.5 1 0.9 1 0.7 2.2 0" stroke="#1ea6e6" stroke-width="1.55" fill="none" stroke-linejoin="round"/>
<path d="M82.5 332.4l2.5 0 0.8-0.4 1-0.9 1.2-1.3 2-2.9 1.8-3.5 1.2-3.4 1-3.6 1-4.8 1.5-10.6 1.5-15.4 1.2-16.7 2.5-37.1 1-12.2 1-8.1 0.5-2.1 0.3-0.6 0.2-0.1" stroke="#88d6f6" stroke-width="1.55" fill="none" stroke-linejoin="round"/>
<path d="M104.7 208.7l0.2 0.1 0.3 0.6 0.5 2.1 1 8.1 1 12.2 2.5 37.1 1.2 16.7 1.5 15.4 1.5 10.6 1 4.8 1 3.6 1.2 3.4 1.8 3.5 2 2.9 1.2 1.3 1 0.9 0.8 0.4 2.5 0" stroke="#3ed22a" stroke-width="1.55" fill="none" stroke-linejoin="round"/>
<path d="M126.9 332.4l2.2 0 0.3-0.1 1.5-1.3 1.8-2 1.5-2.4 1.5-3 1-2.6 1-3.3" stroke="#9ce27a" stroke-width="1.55" fill="none" stroke-linejoin="round"/>
<path d="M137.7 317.7l1-4.5 1-6 1-8 0.8-7.5 1.5-18.9 2.8-41.2 1.2-14.7 0.5-4 0.5-2.8 0.5-1.3 0.3-0.1 0.2 0.2" stroke="#f4e234" stroke-width="1.55" fill="none" stroke-linejoin="round"/>
<path d="M149 208.9l0.3 0.6 0.5 2.3 1 8.6 1 12.5 2.5 37.7 1.3 16.5 1.2 13 1.6 11 1 5 1 3.7 1.2 3.5 1.3 2.6 1.8 2.9 2 2.3 1.5 1.2 1.5 0.1" stroke="#f6ee84" stroke-width="1.55" fill="none" stroke-linejoin="round"/>
<path d="M169.7 332.4l3.5 0 1-0.7 1-0.9 1.2-1.5 1-1.4 1.8-3.1 1.5-3.6 1.2-4.2 1-4.6 1.5-10.1 1.5-14.9 1.2-16.3 2.5-37.2 1.3-15.2 1-7.7 0.5-1.9 0.2-0.4 0.3 0 0.2 0.3 0.3 0.7" stroke="#f08a2a" stroke-width="1.55" fill="none" stroke-linejoin="round"/>
<path d="M193.4 209.7l0.7 4.2 1 10.2 3.6 51.9 1.6 18.5 0.7 7.1 1.1 7.6 1 5.6 1.3 5" stroke="#f4a464" stroke-width="1.55" fill="none" stroke-linejoin="round"/>
<path d="M0.8 332.4H207.4M104.4 207V334.5" stroke="#555" stroke-width="0.8" fill="none"/>
<path d="M6.2 332.4v-2.2M55.5 332.4v-2.2M153.9 332.4v-2.2M203.2 332.4v-2.2M16.1 332.4v-1.3M25.9 332.4v-1.3M35.8 332.4v-1.3M45.6 332.4v-1.3M65.3 332.4v-1.3M75.2 332.4v-1.3M85 332.4v-1.3M94.9 332.4v-1.3M114.5 332.4v-1.3M124.4 332.4v-1.3M134.2 332.4v-1.3M144.1 332.4v-1.3M163.8 332.4v-1.3M173.7 332.4v-1.3M183.5 332.4v-1.3M193.3 332.4v-1.3M104.4 328.3h2.2M104.4 309.9h2.2M104.4 291.5h2.2M104.4 273h2.2M104.4 254.6h2.2M104.4 236.2h2.2M104.4 217.8h2.2M104.4 332.9h1.3M104.4 323.7h1.3M104.4 319.1h1.3M104.4 314.5h1.3M104.4 305.3h1.3M104.4 300.7h1.3M104.4 296.1h1.3M104.4 286.9h1.3M104.4 282.2h1.3M104.4 277.6h1.3M104.4 268.4h1.3M104.4 263.8h1.3M104.4 259.2h1.3M104.4 250h1.3M104.4 245.4h1.3M104.4 240.8h1.3M104.4 231.6h1.3M104.4 227h1.3M104.4 222.4h1.3M104.4 213.2h1.3M104.4 208.6h1.3" stroke="#555" stroke-width="0.55" fill="none"/>
<text x="6.2" y="339.6" font-size="5.6" text-anchor="middle" fill="#111">−10</text>
<text x="55.5" y="339.6" font-size="5.6" text-anchor="middle" fill="#111">−5</text>
<text x="153.9" y="339.6" font-size="5.6" text-anchor="middle" fill="#111">5</text>
<text x="203.2" y="339.6" font-size="5.6" text-anchor="middle" fill="#111">10</text>
<text x="102.6" y="330.3" font-size="5.6" text-anchor="end" fill="#111">4</text>
<text x="102.6" y="311.9" font-size="5.6" text-anchor="end" fill="#111">6</text>
<text x="102.6" y="293.5" font-size="5.6" text-anchor="end" fill="#111">8</text>
<text x="102.6" y="275" font-size="5.6" text-anchor="end" fill="#111">10</text>
<text x="102.6" y="256.6" font-size="5.6" text-anchor="end" fill="#111">12</text>
<text x="102.6" y="238.2" font-size="5.6" text-anchor="end" fill="#111">14</text>
<text x="102.6" y="219.8" font-size="5.6" text-anchor="end" fill="#111">16</text>
<text x="91.1" y="204.6" font-size="7.5" textLength="26.4" lengthAdjust="spacingAndGlyphs" fill="#2a2a2a">Figure(<tspan font-style="italic">d</tspan>)</text>
<path d="M249.5 261.4l3.9-31.8 0.8-6.2 0.9-4.7 0.4-1.8 0.5-1.2 0.4-0.7 0.4-0.2 0.5 0.4 0.4 1 0.4 1.5 1.3 7.1 4.3 35.1 1.3 8.7 0.9 4.7" stroke="#e6788e" stroke-width="0.85" fill="none" stroke-dasharray="7.5 8"/>
<path d="M265.9 273.3l1.3 5.7 0.9 3 0.9 2.4 0.8 2 0.9 1.6 0.9 1.2 0.9 1 0.8 0.7 0.9 0.4 0.9 0.1 0.9-0.2 0.9-0.4 1.3-1 0.9-0.9 1.3-1.7" stroke="#f3abbb" stroke-width="0.85" fill="none" stroke-dasharray="7.5 8"/>
<path d="M280.4 287.2l1.3-2.1 1.8-3.1 7-14 1.8-3.2 1.3-2" stroke="#a69df4" stroke-width="0.85" fill="none" stroke-dasharray="7.5 8"/>
<path d="M293.6 262.8l1.7-2 1.3-1 0.9-0.4 0.8-0.2 1.3 0.2 1.3 0.9 0.8 1 1.3 2.4 0.9 2.5 0.8 3.3 0.9 4.3 1.3 8.4 1.2 10.6 2.6 23.7 1.3 9.8 0.8 4.7 0.5 1.6 0.4 1 0.4 0.6" stroke="#c9c0f9" stroke-width="0.85" fill="none" stroke-dasharray="7.5 8"/>
<path d="M314.1 334.2l0.5 0 0.4-0.4 0.4-1 0.4-1.4 0.9-4 0.9-5.1 3.8-26.3 1.3-7.2 1.7-7.5 1.7-5.9 2.2-5.5 0.8-1.7 1.3-2.2 0.9-1.1 0.8-0.8" stroke="#6fc6ef" stroke-width="0.85" fill="none" stroke-dasharray="7.5 8"/>
<path d="M332.1 264.1l0.9-0.6 0.9-0.4 0.8-0.1 0.9 0.2 0.9 0.3 0.8 0.5 0.9 0.8 1.3 1.4 2.2 3.1 2.2 3.8 2.1 4.5 3.5 7.8" stroke="#b3e5f9" stroke-width="0.85" fill="none" stroke-dasharray="7.5 8"/>
<path d="M349.5 285.4l3.4 7 1.8 2.9 1.2 1.8 1.3 1.6 1.3 1.1 0.9 0.2 0.8-0.4 0.9-1.1 0.9-2.2 0.8-3.4 0.9-4.7 1.3-9.5 2.1-20.1" stroke="#83e277" stroke-width="0.85" fill="none" stroke-dasharray="7.5 8"/>
<path d="M367.1 258.6l1.3-12.3 1.4-9.8 0.9-4.4 0.4-1.5 0.4-1 0.5-0.4 0.4 0 0.5 0.4 0.4 0.9 0.4 1.2 0.9 3.2 4 19.4 1.3 5.7 1.3 5.1" stroke="#c0ecaa" stroke-width="0.85" fill="none" stroke-dasharray="7.5 8"/>
<path d="M381.2 265.1l1.3 4.3 1.7 5.1 1.7 4.4 1.3 2.9 1.7 3.1 1.3 1.8 1.3 1.3 1.3 0.8 1.2 0.4 0.9 0 0.8-0.2 1.3-0.6 1.7-1.5 1.3-1.6 1.7-2.6 1.7-3.3 1.7-3.9" stroke="#f8ec7d" stroke-width="0.85" fill="none" stroke-dasharray="7.5 8"/>
<path d="M405.1 275.5l2.2-5.5 3.1-8.4 4.5-13.1" stroke="#f9f4b0" stroke-width="0.85" fill="none" stroke-dasharray="7.5 8"/>
<path d="M414.9 248.5l1.3-3.5 0.8-1.9 0.9-1.2 0.4-0.2 0.4 0.1 0.4 0.3 0.5 0.8 0.8 2.6 1.3 6.9 1.3 10 2.9 28.3 0.9 6.9 0.8 5.6 0.5 2.2 0.8 3.3 0.4 1 0.5 0.7 0.4 0.4 0.4 0 0.4-0.3 0.5-0.5 0.8-1.5 1.3-3.3 3.4-10" stroke="#f5b477" stroke-width="0.85" fill="none" stroke-dasharray="7.5 8"/>
<path d="M437 295.2l4.3-11.6 3-7.5 2.6-5.3 1.3-2.2 1.3-1.7" stroke="#f8c59c" stroke-width="0.85" fill="none" stroke-dasharray="7.5 8"/>
<path d="M249.5 266.9l1.3 1.7 1.7 3 3 6.6 5.2 13.4 5.2 14.9" stroke="#e6788e" stroke-width="0.85" fill="none" stroke-dasharray="7.5 8"/>
<path d="M265.9 306.5l0.9 2.1 0.8 1.6 0.5 0.4 0.4 0.2 0.5-0.1 0.4-0.5 0.4-0.8 0.9-3 1.3-7.5 1.3-10.8 3.1-28.9 1.3-9.5 0.9-4.3 0.5-1.5 0.4-1.1 0.4-0.7 0.5-0.4" stroke="#f3abbb" stroke-width="0.85" fill="none" stroke-dasharray="7.5 8"/>
<path d="M280.4 241.7l0.4 0 0.5 0.3 0.4 0.6 1.3 2.8 5.3 15.6 3.1 8.3 2.2 5.6" stroke="#a69df4" stroke-width="0.85" fill="none" stroke-dasharray="7.5 8"/>
<path d="M293.6 274.9l3 6.5 1.3 2.3 1.3 1.9 1.3 1.5 1.2 1.1 1.3 0.7 1.3 0.3 1.3-0.1 1.3-0.6 1.2-1.1 0.9-1 1.3-1.8 1.3-2.4 2.5-6" stroke="#c9c0f9" stroke-width="0.85" fill="none" stroke-dasharray="7.5 8"/>
<path d="M314.1 276.2l2.2-6.1 2.1-7.4 2.2-9.1 3.8-18.9 1.3-4.2 0.4-0.9 0.5-0.4 0.4 0 0.4 0.4 0.4 0.8 0.5 1.4 0.8 4.1 1.3 9.2 1.7 16" stroke="#6fc6ef" stroke-width="0.85" fill="none" stroke-dasharray="7.5 8"/>
<path d="M332.1 261.1l1.8 16.3 0.8 6.9 0.9 5.6 1.3 6 0.9 2.4 0.8 1.2 0.5 0.4 0.4 0.1 0.9-0.2 1.3-1 1.3-1.6 1.3-1.8 1.7-3 3.5-7" stroke="#b3e5f9" stroke-width="0.85" fill="none" stroke-dasharray="7.5 8"/>
<path d="M349.5 285.4l3.4-7.7 2.2-4.5 2.1-3.8 2.2-3.1 1.3-1.4 0.8-0.8 0.9-0.5 0.9-0.4 1.2-0.2 0.9 0.2 0.9 0.4 0.8 0.7" stroke="#83e277" stroke-width="0.85" fill="none" stroke-dasharray="7.5 8"/>
<path d="M367.1 264.3l0.9 0.9 0.9 1.3 1.3 2.3 0.9 1.9 1.8 4.7 1.7 6 1.8 7.9 1.3 7.5 3.5 24.2" stroke="#c0ecaa" stroke-width="0.85" fill="none" stroke-dasharray="7.5 8"/>
<path d="M381.2 321l0.9 5.3 0.9 4.3 0.8 2.8 0.4 0.7 0.5 0.2 0.4-0.3 0.4-0.8 0.4-1.4 0.5-1.8 0.8-5 1.3-10.3 3.4-30.8 1.3-8.8 0.8-4.5 0.9-3.6 0.8-2.7 1.3-2.7 0.9-1.1 1.3-1 1.2-0.3 0.9 0.1 0.8 0.3 1.3 0.9 1.7 2" stroke="#f8ec7d" stroke-width="0.85" fill="none" stroke-dasharray="7.5 8"/>
<path d="M405.1 262.5l1.4 1.9 1.7 3.2 6.7 13.2" stroke="#f9f4b0" stroke-width="0.85" fill="none" stroke-dasharray="7.5 8"/>
<path d="M414.9 280.8l2.1 3.8 1.7 2.7 1.7 2.1 1.7 1.4 0.9 0.4 0.8 0.2 1.3-0.2 0.8-0.5 0.9-0.7 1.3-1.7 1.2-2.3 1.3-3.1 1.3-4.2 0.8-3.6 1.3-6.8 0.9-5.5 2.1-16.8" stroke="#f5b477" stroke-width="0.85" fill="none" stroke-dasharray="7.5 8"/>
<path d="M437 246l1.7-14.7 1.3-9.3 0.9-4.3 0.4-1.5 0.4-1 0.5-0.4 0.4 0.2 0.4 0.7 0.5 1.2 0.4 1.7 0.9 4.8 0.8 6.2 3.9 31.8" stroke="#f8c59c" stroke-width="0.85" fill="none" stroke-dasharray="7.5 8"/>
<path d="M249.5 254.8l1.9 2.7 2.3 3.9 1.9 3.8 6.4 14 1.9 3.6 2 3" stroke="#d82c4e" stroke-width="1.55" fill="none" stroke-linejoin="round"/>
<path d="M265.9 285.8l1.3 1.6 0.9 0.9 1 0.8 1 0.5 0.9 0.3 1 0 1-0.3 0.6-0.3 1-0.9 0.9-1.1 1.7-2.6 1.6-3.5 1.6-4.5" stroke="#ec7c94" stroke-width="1.55" fill="none" stroke-linejoin="round"/>
<path d="M280.4 276.7l1.9-7 2-9.4 1.6-10 2.9-20.2 0.9-5.6 1-3.9 0.7-1.4 0.3-0.3 0.3 0 0.3 0.2 0.4 0.6 0.9 3.6" stroke="#7466ee" stroke-width="1.55" fill="none" stroke-linejoin="round"/>
<path d="M293.6 223.3l0.7 3.7 0.9 7.1 3.2 29.3 1.3 10.1 1.3 7.7 0.6 3 1 3.5 1 2.5 1.2 2.1 1.3 1.1 0.7 0.3 0.9 0.1 0.7 0 0.9-0.4 1.6-1.2 1.6-1.9 1.6-2.5" stroke="#aa9cf6" stroke-width="1.55" fill="none" stroke-linejoin="round"/>
<path d="M314.1 287.8l2.3-4.2 5.8-11.5 1.9-3.5 1.6-2.6 1.9-2.4 1.6-1.4 1-0.4 0.6-0.2 1.3 0.2" stroke="#1ea6e6" stroke-width="1.55" fill="none" stroke-linejoin="round"/>
<path d="M332.1 261.8l1.3 0.7 1 1 0.9 1.3 1 1.7 1 2.2 0.9 2.7 1.6 6 1.3 6.7 1.3 8.4 3.6 29.3 1.2 9.2 0.7 3.4 0.6 2.4 0.7 1.2 0.3 0.2" stroke="#88d6f6" stroke-width="1.55" fill="none" stroke-linejoin="round"/>
<path d="M349.5 338.2l0.3-0.2 0.7-1.2 0.6-2.4 0.6-3.3 1.3-9.2 2.6-21.7 1.3-9.7 1.3-8.1 1.2-6.2 1.6-5.6 1-2.6 1-2 0.9-1.6 1-1.2 0.9-0.9 1.3-0.6" stroke="#3ed22a" stroke-width="1.55" fill="none" stroke-linejoin="round"/>
<path d="M367.1 261.7l1.3 0 0.7 0.2 0.9 0.5 1.3 1.1 1.6 2 1.6 2.4 1.9 3.4 4.8 9.6" stroke="#9ce27a" stroke-width="1.55" fill="none" stroke-linejoin="round"/>
<path d="M381.2 280.9l2.3 4.4 1.9 3.4 1.6 2.3 1.3 1.4 1.5 1.1 1.3 0.3 1-0.1 0.6-0.2 1.3-1 1.3-1.9 1.2-3.3 1.3-5 1-5.3 1.6-11.7 3.5-31.8 1.2-8.9" stroke="#f4e234" stroke-width="1.55" fill="none" stroke-linejoin="round"/>
<path d="M405.1 224.6l0.7-3.1 0.6-1.9 0.4-0.6 0.3-0.2 0.3 0.1 0.3 0.4 0.7 1.6 0.6 2.5 0.7 3.4 3.5 24.3 1.7 9.9" stroke="#f6ee84" stroke-width="1.55" fill="none" stroke-linejoin="round"/>
<path d="M414.9 261l0.9 4.9 1.3 5.5 1 3.5 1.3 4 1.2 3.2 1.3 2.7 1.6 2.6 1.3 1.4 1.3 0.9 1.3 0.3 1.3-0.3 1.6-0.8 1.6-1.6 1.6-2 1.6-2.6 1.9-3.5" stroke="#f08a2a" stroke-width="1.55" fill="none" stroke-linejoin="round"/>
<path d="M437 279.2l6.1-13.3 1.9-3.9 2.3-4 2.2-3.2" stroke="#f4a464" stroke-width="1.55" fill="none" stroke-linejoin="round"/>
<path d="M245.1 276.5H453.3M349.5 212.6V339.4" stroke="#555" stroke-width="0.8" fill="none"/>
<path d="M287 276.5v-2.2M412 276.5v-2.2M249.5 276.5v-1.3M262 276.5v-1.3M274.5 276.5v-1.3M299.5 276.5v-1.3M312 276.5v-1.3M324.5 276.5v-1.3M337 276.5v-1.3M362 276.5v-1.3M374.5 276.5v-1.3M387 276.5v-1.3M399.5 276.5v-1.3M424.5 276.5v-1.3M437 276.5v-1.3M449.5 276.5v-1.3M349.5 330.9h2.2M349.5 312.8h2.2M349.5 294.6h2.2M349.5 258.4h2.2M349.5 240.2h2.2M349.5 222.1h2.2M349.5 338.2h1.3M349.5 334.6h1.3M349.5 327.3h1.3M349.5 323.7h1.3M349.5 320.1h1.3M349.5 316.4h1.3M349.5 309.2h1.3M349.5 305.5h1.3M349.5 301.9h1.3M349.5 298.3h1.3M349.5 291h1.3M349.5 287.4h1.3M349.5 283.8h1.3M349.5 280.1h1.3M349.5 272.9h1.3M349.5 269.2h1.3M349.5 265.6h1.3M349.5 262h1.3M349.5 254.7h1.3M349.5 251.1h1.3M349.5 247.5h1.3M349.5 243.8h1.3M349.5 236.6h1.3M349.5 232.9h1.3M349.5 229.3h1.3M349.5 225.7h1.3M349.5 218.4h1.3M349.5 214.8h1.3" stroke="#555" stroke-width="0.55" fill="none"/>
<text x="287" y="283.7" font-size="5.6" text-anchor="middle" fill="#111">−5</text>
<text x="412" y="283.7" font-size="5.6" text-anchor="middle" fill="#111">5</text>
<text x="347.7" y="332.9" font-size="5.6" text-anchor="end" fill="#111">−15</text>
<text x="347.7" y="314.8" font-size="5.6" text-anchor="end" fill="#111">−10</text>
<text x="347.7" y="296.6" font-size="5.6" text-anchor="end" fill="#111">−5</text>
<text x="347.7" y="260.4" font-size="5.6" text-anchor="end" fill="#111">5</text>
<text x="347.7" y="242.2" font-size="5.6" text-anchor="end" fill="#111">10</text>
<text x="347.7" y="224.1" font-size="5.6" text-anchor="end" fill="#111">15</text>
<text x="336.7" y="210.4" font-size="7.5" textLength="24.8" lengthAdjust="spacingAndGlyphs" fill="#2a2a2a">Figure(<tspan font-style="italic">e</tspan>)</text>
<path d="M494.1 313.2l0.5 0.4 0.4 0 0.5-0.2 0.4-0.4 0.9-1.5 1.4-3.1 4.5-11.8 4.1-9.8 3.2-6.8 2.7-4.8" stroke="#e6788e" stroke-width="0.85" fill="none" stroke-dasharray="7.5 8"/>
<path d="M512.7 275.2l1.4-2 1.4-1.6 1.4-1.2 1.4-0.8 1.4-0.4 1.5 0.1 1.4 0.4 0.9 0.6" stroke="#f3abbb" stroke-width="0.85" fill="none" stroke-dasharray="7.5 8"/>
<path d="M523.5 270.3l1.4 1.3 1 1.1 1.4 2.2 1.4 2.5 1.5 3.1 1.4 3.4 2.4 6.6" stroke="#a69df4" stroke-width="0.85" fill="none" stroke-dasharray="7.5 8"/>
<path d="M534 290.5l1.4 4.5 1.4 5 3.6 15.9 1.4 5.4 0.9 2.6 0.5 0.9 0.4 0.6 0.5 0.1 0.4-0.2 0.5-0.7 0.5-1.1 0.4-1.6 0.9-4.5 1.4-9.4 2.8-23 1.3-10.2 1.4-7.7 0.9-3.6 0.9-2.4" stroke="#c9c0f9" stroke-width="0.85" fill="none" stroke-dasharray="7.5 8"/>
<path d="M555.5 261.1l1-1.4 0.4-0.3 0.9-0.3 0.5 0.1 0.9 0.5 0.9 0.8 1.4 1.5 2.3 3.1 2.3 3.8 7.8 14.8" stroke="#6fc6ef" stroke-width="0.85" fill="none" stroke-dasharray="7.5 8"/>
<path d="M573.9 283.7l1.8 3 1.9 2.6 1.8 2.1 1.8 1.4 1 0.5 0.9 0.3 1.3 0.1 1.4-0.4 1.4-1" stroke="#b3e5f9" stroke-width="0.85" fill="none" stroke-dasharray="7.5 8"/>
<path d="M587.2 292.3l1.8-2 1.4-2.2 0.9-1.8 2.2-5.5 1.9-5.8 1.3-5.5 1.4-6.6 4.1-24.6 0.9-4.8 0.9-3.7 0.4-1.4 0.5-0.9 0.4-0.5 0.5 0 0.4 0.5 0.5 0.9 0.4 1.4 0.9 4.3 1.4 9 2.3 18.5" stroke="#83e277" stroke-width="0.85" fill="none" stroke-dasharray="7.5 8"/>
<path d="M611.7 261.6l1.4 10.8 0.9 6.1 0.9 5.1 1.4 5.8 1 2.7 1.4 2.7 1.4 1.6 0.9 0.6 0.9 0.2" stroke="#c0ecaa" stroke-width="0.85" fill="none" stroke-dasharray="7.5 8"/>
<path d="M621.9 297.2l1.4 0 0.9-0.3 0.9-0.5 1.4-1.2 1.8-2.1 2.7-4.2 7.8-13.6 2.3-3.3 1.8-2.3" stroke="#f8ec7d" stroke-width="0.85" fill="none" stroke-dasharray="7.5 8"/>
<path d="M642.9 269.7l1.6-1.4 1.5-0.9 1.5-0.3 1.5 0.4" stroke="#f9f4b0" stroke-width="0.85" fill="none" stroke-dasharray="7.5 8"/>
<path d="M649 267.5l1.4 1 0.9 0.9 0.9 1.2 0.9 1.6 1 1.8 0.9 2.3 0.9 2.8 0.9 3.4 1.4 6.4 1.3 8.1 3.7 26.8 1.3 8.5 0.9 4 0.5 1.3 0.5 0.9 0.4 0.4 0.5-0.2 0.4-0.7 0.9-2.7 0.9-4.5 1-5.8" stroke="#f5b477" stroke-width="0.85" fill="none" stroke-dasharray="7.5 8"/>
<path d="M670.5 325l3.2-24.1 1.9-11.6 1-4.6 1.4-5.5 0.9-2.8 1.4-3.3" stroke="#f8c59c" stroke-width="0.85" fill="none" stroke-dasharray="7.5 8"/>
<path d="M494.1 289.1l1.4-3.2 0.9-2.7 1.3-5.2 0.9-4.3 1.9-11 4-29.5 1.4-6.8 0.5-1.5 0.4-1 0.5-0.5 0.4 0 0.5 0.5 0.4 1 0.9 3.4 1.4 7.9 1.8 13.4" stroke="#e6788e" stroke-width="0.85" fill="none" stroke-dasharray="7.5 8"/>
<path d="M512.7 249.6l1.4 10.4 1.4 9.3 1 5.2 1.4 6.3 0.9 3.2 1.4 3.9 1.4 2.8 1 1.4 0.9 1.2" stroke="#f3abbb" stroke-width="0.85" fill="none" stroke-dasharray="7.5 8"/>
<path d="M523.5 293.3l0.9 0.8 1.5 0.8 0.9 0.2 1.5-0.3 1.4-0.7 1.4-1.3 1.5-1.6 1.4-1.9" stroke="#a69df4" stroke-width="0.85" fill="none" stroke-dasharray="7.5 8"/>
<path d="M534 289.3l3.2-5.1 6.9-12.1 1.8-2.7 1.9-2.3 1.3-1.2 0.9-0.5 1-0.4 0.9-0.1 0.9 0.1 0.9 0.4 0.9 0.6 0.9 1.1" stroke="#c9c0f9" stroke-width="0.85" fill="none" stroke-dasharray="7.5 8"/>
<path d="M555.5 267.1l1.4 2.4 0.9 2.5 1 3.3 0.9 4.3 1.8 11.5 3.2 25.9 1.4 9.7 0.9 4.7 0.5 1.7 0.4 1.2 0.5 0.7 0.5 0.3 0.4-0.3 0.5-0.7 0.4-1.2 0.9-3.5 1-4.7 1.8-11.2" stroke="#6fc6ef" stroke-width="0.85" fill="none" stroke-dasharray="7.5 8"/>
<path d="M573.9 313.7l1.8-11.2 1.4-7.2 1.4-6 1.4-4.9 1.8-5.3 1.8-4 1.9-3.1 1.8-2.1" stroke="#b3e5f9" stroke-width="0.85" fill="none" stroke-dasharray="7.5 8"/>
<path d="M587.2 269.9l0.9-0.7 0.9-0.5 0.9-0.2 1.4 0.1 0.9 0.3 1.3 0.7 1.4 1.2 1.4 1.4 1.8 2.4 2.2 3.6 7.7 14.7 1.9 3 1.8 2.7" stroke="#83e277" stroke-width="0.85" fill="none" stroke-dasharray="7.5 8"/>
<path d="M611.7 298.6l1.8 2.4 1 0.9 0.9 0.7 0.9 0.4 0.5 0.1 0.9-0.4 1-1.2 0.4-1 1-2.8 0.9-4 0.9-5.3" stroke="#c0ecaa" stroke-width="0.85" fill="none" stroke-dasharray="7.5 8"/>
<path d="M621.9 288.4l1.4-9.9 2.7-23 1.4-9.7 0.9-4.8 0.5-1.7 0.4-1.3 0.5-0.9 0.4-0.4 0.5 0 0.4 0.4 0.5 0.8 0.9 2.4 1.4 5.2 2.7 12.1 1.9 7.3 2.2 7.5 2.3 6.3" stroke="#f8ec7d" stroke-width="0.85" fill="none" stroke-dasharray="7.5 8"/>
<path d="M642.9 278.7l1.6 3.6 1.5 3.1 1.5 2.6 1.5 2.1" stroke="#f9f4b0" stroke-width="0.85" fill="none" stroke-dasharray="7.5 8"/>
<path d="M649 290.1l1 1 1.3 1.1 1.4 0.6 1.4 0.2 0.9-0.1 1.3-0.5 1.4-0.8 1.4-1.2 2.2-2.9 2.8-4.7 2.7-5.7 3.7-8.5" stroke="#f5b477" stroke-width="0.85" fill="none" stroke-dasharray="7.5 8"/>
<path d="M670.5 268.6l5.6-14.5 1.4-3.2 0.9-1.6 0.5-0.5 0.5-0.2 0.4 0 0.5 0.4" stroke="#f8c59c" stroke-width="0.85" fill="none" stroke-dasharray="7.5 8"/>
<path d="M494.1 293l1.4-0.9 1.6-1.7 1.4-1.6 1.7-2.5 3-5.3 6.1-11.7 1.7-2.9 1.7-2.5" stroke="#d82c4e" stroke-width="1.55" fill="none" stroke-linejoin="round"/>
<path d="M512.7 263.9l2.1-2.6 1.7-1.5 0.7-0.4 0.7-0.1 0.7 0.1 0.7 0.6 1.1 1.7 1 3.2 1.1 4.7 1 6.3" stroke="#ec7c94" stroke-width="1.55" fill="none" stroke-linejoin="round"/>
<path d="M523.5 275.9l1.4 10.6 2.4 20.7 1.1 7.6 0.7 4.2 0.7 3.2 0.7 2.2 0.7 1.1 0.3 0.2 0.4-0.1 0.7-0.7 0.7-1.6 0.7-2.2" stroke="#7466ee" stroke-width="1.55" fill="none" stroke-linejoin="round"/>
<path d="M534 321.1l1-4 3.1-13.7 1.7-6.7 2.4-7.8 2.4-6.4 2.7-5.9 1.4-2.3 1.4-1.9 1.3-1.5 1.4-1 1.4-0.6 1.3-0.1" stroke="#aa9cf6" stroke-width="1.55" fill="none" stroke-linejoin="round"/>
<path d="M555.5 269.2l1.7 0.4 1.1 0.5 1 0.8 2 2.1 2.1 2.9 2 3.6 2.4 5 3 7 3.1 7.4" stroke="#1ea6e6" stroke-width="1.55" fill="none" stroke-linejoin="round"/>
<path d="M573.9 298.9l3.4 8.9 1.4 3.2 0.7 1.2 0.6 0.9 0.7 0.4 0.4-0.1 0.6-0.6 0.7-1.3 0.7-2.2 0.7-3.1 1.4-8.4 2-16.7" stroke="#88d6f6" stroke-width="1.55" fill="none" stroke-linejoin="round"/>
<path d="M587.2 281.1l2-16.6 1.4-8.5 0.7-3 0.7-2.2 0.6-1.4 0.4-0.4 0.7-0.3 0.3 0.1 0.7 0.6 1.3 2.4 5.5 13.9 4.1 9.7 3.4 7.2 2.7 4.7" stroke="#3ed22a" stroke-width="1.55" fill="none" stroke-linejoin="round"/>
<path d="M611.7 287.3l1.4 1.9 1.4 1.6 1.4 1.1 1.1 0.6 1.4 0.5 1 0 1.5-0.3 1-0.6" stroke="#9ce27a" stroke-width="1.55" fill="none" stroke-linejoin="round"/>
<path d="M621.9 292.1l1-0.8 1-1 1.1-1.3 1.3-2.1 2.4-4.7 2.4-5.8 2-5.9 2-7 4.4-19 1.1-3.9 0.6-2 0.7-1.4 0.7-0.7 0.3 0" stroke="#f4e234" stroke-width="1.55" fill="none" stroke-linejoin="round"/>
<path d="M642.9 236.5l0.4 0.3 0.3 0.5 0.4 0.8 0.7 2.4 0.7 3.5 1.5 9.7 2.1 18.1" stroke="#f6ee84" stroke-width="1.55" fill="none" stroke-linejoin="round"/>
<path d="M649 271.8l1.7 13.4 1.1 6.4 0.6 3.4 0.7 2.8 1 2.9 0.7 1.2 0.4 0.4 0.6 0.5 1.1 0.1 0.6-0.3 0.7-0.4 1.7-1.7 1.7-2.1 1.7-2.6 1.7-2.8 5.5-10.5" stroke="#f08a2a" stroke-width="1.55" fill="none" stroke-linejoin="round"/>
<path d="M670.5 282.5l2.8-5.1 2.4-3.7 2.5-2.9 1-0.9 1.1-0.7" stroke="#f4a464" stroke-width="1.55" fill="none" stroke-linejoin="round"/>
<path d="M490.4 281.1H685M587.2 220.7V340.7" stroke="#555" stroke-width="0.8" fill="none"/>
<path d="M507.4 281.1v-2.2M534 281.1v-2.2M560.6 281.1v-2.2M613.8 281.1v-2.2M640.4 281.1v-2.2M667 281.1v-2.2M494.1 281.1v-1.3M500.8 281.1v-1.3M514.1 281.1v-1.3M520.7 281.1v-1.3M527.4 281.1v-1.3M540.7 281.1v-1.3M547.3 281.1v-1.3M554 281.1v-1.3M567.2 281.1v-1.3M573.9 281.1v-1.3M580.6 281.1v-1.3M593.9 281.1v-1.3M600.5 281.1v-1.3M607.2 281.1v-1.3M620.5 281.1v-1.3M627.1 281.1v-1.3M633.8 281.1v-1.3M647.1 281.1v-1.3M653.7 281.1v-1.3M660.4 281.1v-1.3M673.7 281.1v-1.3M680.3 281.1v-1.3M587.2 332.1h2.2M587.2 315.1h2.2M587.2 298.1h2.2M587.2 264.1h2.2M587.2 247.1h2.2M587.2 230.1h2.2M587.2 338.9h1.3M587.2 335.5h1.3M587.2 328.7h1.3M587.2 325.3h1.3M587.2 321.9h1.3M587.2 318.5h1.3M587.2 311.7h1.3M587.2 308.3h1.3M587.2 304.9h1.3M587.2 301.5h1.3M587.2 294.7h1.3M587.2 291.3h1.3M587.2 287.9h1.3M587.2 284.5h1.3M587.2 277.7h1.3M587.2 274.3h1.3M587.2 270.9h1.3M587.2 267.5h1.3M587.2 260.7h1.3M587.2 257.3h1.3M587.2 253.9h1.3M587.2 250.5h1.3M587.2 243.7h1.3M587.2 240.3h1.3M587.2 236.9h1.3M587.2 233.5h1.3M587.2 226.7h1.3M587.2 223.3h1.3" stroke="#555" stroke-width="0.55" fill="none"/>
<text x="507.4" y="288.3" font-size="5.6" text-anchor="middle" fill="#111">−6</text>
<text x="534" y="288.3" font-size="5.6" text-anchor="middle" fill="#111">−4</text>
<text x="560.6" y="288.3" font-size="5.6" text-anchor="middle" fill="#111">−2</text>
<text x="613.8" y="288.3" font-size="5.6" text-anchor="middle" fill="#111">2</text>
<text x="640.4" y="288.3" font-size="5.6" text-anchor="middle" fill="#111">4</text>
<text x="667" y="288.3" font-size="5.6" text-anchor="middle" fill="#111">6</text>
<text x="585.4" y="334.1" font-size="5.6" text-anchor="end" fill="#111">−15</text>
<text x="585.4" y="317.1" font-size="5.6" text-anchor="end" fill="#111">−10</text>
<text x="585.4" y="300.1" font-size="5.6" text-anchor="end" fill="#111">−5</text>
<text x="585.4" y="266.1" font-size="5.6" text-anchor="end" fill="#111">5</text>
<text x="585.4" y="249.1" font-size="5.6" text-anchor="end" fill="#111">10</text>
<text x="585.4" y="232.1" font-size="5.6" text-anchor="end" fill="#111">15</text>
<text x="574.9" y="219.9" font-size="7.5" textLength="24.4" lengthAdjust="spacingAndGlyphs" fill="#2a2a2a">Figure(<tspan font-style="italic">f</tspan>)</text>
</svg></body></html>
